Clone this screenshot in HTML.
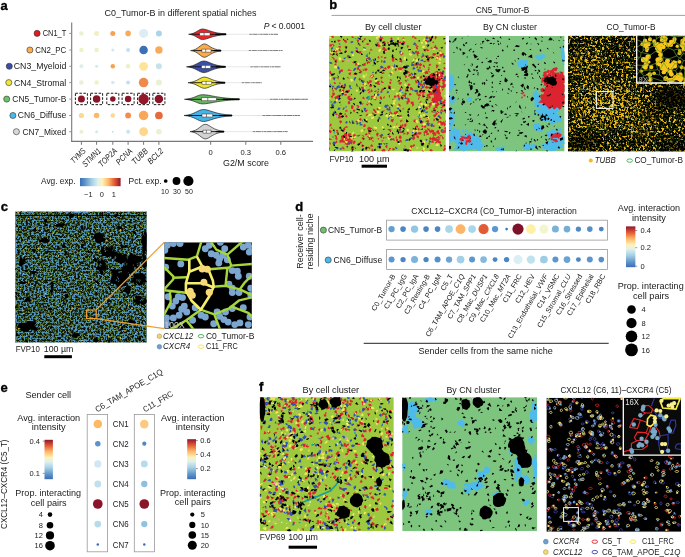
<!DOCTYPE html>
<html><head><meta charset="utf-8"><title>Figure</title>
<style>
html,body{margin:0;padding:0;background:#fff;}
body{width:685px;height:557px;overflow:hidden;font-family:"Liberation Sans", sans-serif;}
svg{display:block;font-family:"Liberation Sans", sans-serif;opacity:0.999;}
</style></head><body>
<svg width="685" height="557" viewBox="0 0 685 557">
<defs>
<linearGradient id="rdylbu_h" x1="0" x2="1" y1="0" y2="0">
<stop offset="0" stop-color="#3a6db4"/><stop offset="0.12" stop-color="#5e93c8"/><stop offset="0.3" stop-color="#a9d3e8"/><stop offset="0.45" stop-color="#e3f1ec"/><stop offset="0.55" stop-color="#fef2b5"/><stop offset="0.7" stop-color="#fdb768"/><stop offset="0.85" stop-color="#e45a36"/><stop offset="1" stop-color="#8e1629"/>
</linearGradient>
<linearGradient id="rdylbu_v" x1="0" x2="0" y1="1" y2="0">
<stop offset="0" stop-color="#3a6db4"/><stop offset="0.12" stop-color="#5e93c8"/><stop offset="0.3" stop-color="#a9d3e8"/><stop offset="0.45" stop-color="#e3f1ec"/><stop offset="0.55" stop-color="#fef2b5"/><stop offset="0.7" stop-color="#fdb768"/><stop offset="0.85" stop-color="#e45a36"/><stop offset="1" stop-color="#8e1629"/>
</linearGradient>
<linearGradient id="tailg" gradientUnits="userSpaceOnUse" x1="220" x2="310" y1="0" y2="0">
<stop offset="0" stop-color="#999" stop-opacity="0.3"/><stop offset="0.3" stop-color="#999" stop-opacity="0.3"/><stop offset="1" stop-color="#777" stop-opacity="0.6"/>
</linearGradient>
<filter id="fb3y" x="0" y="0" width="1" height="1" color-interpolation-filters="sRGB">
<feTurbulence type="fractalNoise" baseFrequency="0.42" numOctaves="3" seed="3"/>
<feColorMatrix type="matrix" values="0 0 0 0 0.92  0 0 0 0 0.73  0 0 0 0 0.08  10 0 0 0 -5.6"/>
</filter>
<filter id="fb3g" x="0" y="0" width="1" height="1" color-interpolation-filters="sRGB">
<feTurbulence type="fractalNoise" baseFrequency="0.6" numOctaves="1" seed="8"/>
<feColorMatrix type="matrix" values="0 0 0 0 0.19  0 0 0 0 0.28  0 0 0 0 0.05  12 0 0 0 -6.3"/>
</filter>
<filter id="blur3" x="-0.5" y="-0.5" width="2" height="2"><feGaussianBlur stdDeviation="3"/></filter>
<filter id="fcg" x="0" y="0" width="1" height="1" color-interpolation-filters="sRGB">
<feTurbulence type="fractalNoise" baseFrequency="0.6" numOctaves="2" seed="5"/>
<feColorMatrix type="matrix" values="0 0 0 0 0.31  0 0 0 0 0.43  0 0 0 0 0.12  8 0 0 0 -3.75"/>
</filter>
<filter id="fcb" x="0" y="0" width="1" height="1" color-interpolation-filters="sRGB">
<feTurbulence type="fractalNoise" baseFrequency="0.5" numOctaves="2" seed="12"/>
<feColorMatrix type="matrix" values="0 0 0 0 0.32  0 0 0 0 0.58  0 0 0 0 0.74  9 0 0 0 -4.4"/>
</filter>
<filter id="fcy" x="0" y="0" width="1" height="1" color-interpolation-filters="sRGB">
<feTurbulence type="fractalNoise" baseFrequency="0.6" numOctaves="1" seed="21"/>
<feColorMatrix type="matrix" values="0 0 0 0 0.85  0 0 0 0 0.72  0 0 0 0 0.25  14 0 0 0 -9.5"/>
</filter>
<filter id="fck" x="0" y="0" width="1" height="1" color-interpolation-filters="sRGB">
<feTurbulence type="fractalNoise" baseFrequency="0.16" numOctaves="2" seed="33"/>
<feColorMatrix type="matrix" values="0 0 0 0 0  0 0 0 0 0  0 0 0 0 0  16 0 0 0 -11.0"/>
</filter>
<filter id="fb3y2" x="0" y="0" width="1" height="1" color-interpolation-filters="sRGB">
<feTurbulence type="fractalNoise" baseFrequency="0.45" numOctaves="2" seed="17"/>
<feColorMatrix type="matrix" values="0 0 0 0 0.95  0 0 0 0 0.76  0 0 0 0 0.1  10 0 0 0 -5.3"/>
</filter>
<radialGradient id="rgw"><stop offset="0" stop-color="#fff"/><stop offset="0.55" stop-color="#fff" stop-opacity="0.8"/><stop offset="1" stop-color="#fff" stop-opacity="0"/></radialGradient>
<mask id="mb3" maskUnits="userSpaceOnUse" x="560" y="30" width="130" height="130"><ellipse cx="606" cy="104" rx="40" ry="30" fill="url(#rgw)"/><ellipse cx="588" cy="62" rx="22" ry="16" fill="url(#rgw)" opacity="0.6"/><ellipse cx="640" cy="125" rx="22" ry="14" fill="url(#rgw)" opacity="0.6"/></mask>
</defs>
<text x="0.60" y="9.50" font-size="13" font-weight="bold" fill="#000" stroke="#000" stroke-width="0.35">a</text>
<text x="180.50" y="15.80" font-size="9.16" text-anchor="middle" textLength="152.00" lengthAdjust="spacingAndGlyphs" fill="#1a1a1a">C0_Tumor-B in different spatial niches</text>
<line x1="71.70" y1="22.50" x2="71.70" y2="141.90" stroke="#777" stroke-width="1.1"/>
<line x1="71.20" y1="141.35" x2="313.00" y2="141.35" stroke="#777" stroke-width="1.1"/>
<line x1="69.20" y1="33.40" x2="71.50" y2="33.40" stroke="#888" stroke-width="0.9"/>
<line x1="69.20" y1="50.00" x2="71.50" y2="50.00" stroke="#888" stroke-width="0.9"/>
<line x1="69.20" y1="66.30" x2="71.50" y2="66.30" stroke="#888" stroke-width="0.9"/>
<line x1="69.20" y1="82.60" x2="71.50" y2="82.60" stroke="#888" stroke-width="0.9"/>
<line x1="69.20" y1="99.10" x2="71.50" y2="99.10" stroke="#888" stroke-width="0.9"/>
<line x1="69.20" y1="115.50" x2="71.50" y2="115.50" stroke="#888" stroke-width="0.9"/>
<line x1="69.20" y1="131.70" x2="71.50" y2="131.70" stroke="#888" stroke-width="0.9"/>
<line x1="81.40" y1="141.30" x2="81.40" y2="144.80" stroke="#777" stroke-width="1.0"/>
<line x1="96.60" y1="141.30" x2="96.60" y2="144.80" stroke="#777" stroke-width="1.0"/>
<line x1="112.80" y1="141.30" x2="112.80" y2="144.80" stroke="#777" stroke-width="1.0"/>
<line x1="128.10" y1="141.30" x2="128.10" y2="144.80" stroke="#777" stroke-width="1.0"/>
<line x1="143.60" y1="141.30" x2="143.60" y2="144.80" stroke="#777" stroke-width="1.0"/>
<line x1="158.90" y1="141.30" x2="158.90" y2="144.80" stroke="#777" stroke-width="1.0"/>
<circle cx="37.10" cy="33.40" r="3.05" fill="#e41a1c" stroke="#333" stroke-width="0.6"/>
<text x="42.70" y="36.30" font-size="8.72" textLength="23.60" lengthAdjust="spacingAndGlyphs" fill="#1a1a1a">CN1_T</text>
<circle cx="29.90" cy="50.00" r="3.05" fill="#fdae4b" stroke="#333" stroke-width="0.6"/>
<text x="35.20" y="52.90" font-size="8.72" textLength="31.10" lengthAdjust="spacingAndGlyphs" fill="#1a1a1a">CN2_PC</text>
<circle cx="9.30" cy="66.30" r="3.05" fill="#3a4ea5" stroke="#333" stroke-width="0.6"/>
<text x="13.80" y="69.20" font-size="8.72" textLength="52.50" lengthAdjust="spacingAndGlyphs" fill="#1a1a1a">CN3_Myeloid</text>
<circle cx="8.80" cy="82.60" r="3.05" fill="#f0e635" stroke="#333" stroke-width="0.6"/>
<text x="14.00" y="85.50" font-size="8.72" textLength="52.30" lengthAdjust="spacingAndGlyphs" fill="#1a1a1a">CN4_Stromal</text>
<circle cx="6.70" cy="99.10" r="3.05" fill="#6fbf6b" stroke="#333" stroke-width="0.6"/>
<text x="12.30" y="102.00" font-size="8.72" textLength="54.00" lengthAdjust="spacingAndGlyphs" fill="#1a1a1a">CN5_Tumor-B</text>
<circle cx="12.90" cy="115.50" r="3.05" fill="#4bb9ec" stroke="#333" stroke-width="0.6"/>
<text x="17.80" y="118.40" font-size="8.72" textLength="48.50" lengthAdjust="spacingAndGlyphs" fill="#1a1a1a">CN6_Diffuse</text>
<circle cx="16.40" cy="131.70" r="3.05" fill="#d9d9d9" stroke="#333" stroke-width="0.6"/>
<text x="22.50" y="134.60" font-size="8.72" textLength="43.80" lengthAdjust="spacingAndGlyphs" fill="#1a1a1a">CN7_Mixed</text>
<circle cx="81.40" cy="33.40" r="2.25" fill="#e9f1d3"/>
<circle cx="96.60" cy="33.40" r="2.50" fill="#f0f0c4"/>
<circle cx="112.80" cy="33.40" r="2.50" fill="#f6a253"/>
<circle cx="128.10" cy="33.40" r="2.80" fill="#f9ab5b"/>
<circle cx="143.60" cy="33.40" r="4.50" fill="#dcedf5"/>
<circle cx="158.90" cy="33.40" r="3.00" fill="#aad4e7"/>
<circle cx="81.40" cy="50.00" r="2.25" fill="#f1f1c6"/>
<circle cx="96.60" cy="50.00" r="2.25" fill="#eef0c8"/>
<circle cx="112.80" cy="50.00" r="1.50" fill="#d3e9f2"/>
<circle cx="128.10" cy="50.00" r="2.00" fill="#c2e1ee"/>
<circle cx="143.60" cy="50.00" r="4.25" fill="#3d6fb5"/>
<circle cx="158.90" cy="50.00" r="3.70" fill="#f9ab5b"/>
<circle cx="81.40" cy="66.30" r="2.00" fill="#dcefe8"/>
<circle cx="96.60" cy="66.30" r="1.50" fill="#d3e9f2"/>
<circle cx="112.80" cy="66.30" r="2.25" fill="#f6a253"/>
<circle cx="128.10" cy="66.30" r="2.25" fill="#eef0c8"/>
<circle cx="143.60" cy="66.30" r="4.40" fill="#fde49c"/>
<circle cx="158.90" cy="66.30" r="3.00" fill="#c6e3ec"/>
<circle cx="81.40" cy="82.60" r="2.25" fill="#e9f1d3"/>
<circle cx="96.60" cy="82.60" r="2.25" fill="#eef2c8"/>
<circle cx="112.80" cy="82.60" r="1.75" fill="#d3e9f2"/>
<circle cx="128.10" cy="82.60" r="2.00" fill="#c2e1ee"/>
<circle cx="143.60" cy="82.60" r="4.75" fill="#f08a49"/>
<circle cx="158.90" cy="82.60" r="3.00" fill="#e9f1d3"/>
<circle cx="81.40" cy="99.10" r="3.50" fill="#8b1528"/>
<circle cx="96.60" cy="99.10" r="3.75" fill="#8b1528"/>
<circle cx="112.80" cy="99.10" r="2.75" fill="#8b1528"/>
<circle cx="128.10" cy="99.10" r="3.25" fill="#8b1528"/>
<circle cx="143.60" cy="99.10" r="5.25" fill="#92182a"/>
<circle cx="158.90" cy="99.10" r="4.25" fill="#8b1528"/>
<circle cx="81.40" cy="115.50" r="2.60" fill="#fdd88f"/>
<circle cx="96.60" cy="115.50" r="2.75" fill="#fbb868"/>
<circle cx="112.80" cy="115.50" r="2.25" fill="#fdd88f"/>
<circle cx="128.10" cy="115.50" r="2.90" fill="#f28c48"/>
<circle cx="143.60" cy="115.50" r="4.75" fill="#f8a858"/>
<circle cx="158.90" cy="115.50" r="3.85" fill="#e66a3c"/>
<circle cx="81.40" cy="131.70" r="2.00" fill="#e9f1d3"/>
<circle cx="96.60" cy="131.70" r="1.50" fill="#d3e9f2"/>
<circle cx="112.80" cy="131.70" r="0.80" fill="#a0d0e8"/>
<circle cx="128.10" cy="131.70" r="2.00" fill="#c8e4f0"/>
<circle cx="143.60" cy="131.70" r="4.40" fill="#fdd78c"/>
<circle cx="158.90" cy="131.70" r="2.75" fill="#e9f1d3"/>
<rect x="75.40" y="93.25" width="12.00" height="11.40" fill="none" stroke="#1a1a1a" stroke-width="1.0" stroke-dasharray="2.5 1.5"/>
<rect x="90.60" y="93.25" width="12.00" height="11.40" fill="none" stroke="#1a1a1a" stroke-width="1.0" stroke-dasharray="2.5 1.5"/>
<rect x="106.80" y="93.25" width="12.00" height="11.40" fill="none" stroke="#1a1a1a" stroke-width="1.0" stroke-dasharray="2.5 1.5"/>
<rect x="122.10" y="93.25" width="12.00" height="11.40" fill="none" stroke="#1a1a1a" stroke-width="1.0" stroke-dasharray="2.5 1.5"/>
<rect x="137.60" y="93.25" width="12.00" height="11.40" fill="none" stroke="#1a1a1a" stroke-width="1.0" stroke-dasharray="2.5 1.5"/>
<rect x="152.90" y="93.25" width="12.00" height="11.40" fill="none" stroke="#1a1a1a" stroke-width="1.0" stroke-dasharray="2.5 1.5"/>
<text x="86.30" y="151.60" font-size="8.5" text-anchor="end" textLength="17.50" lengthAdjust="spacingAndGlyphs" font-style="italic" transform="rotate(-45 86.30 151.60)" fill="#1a1a1a">TYMS</text>
<text x="101.50" y="151.60" font-size="8.5" text-anchor="end" textLength="22.50" lengthAdjust="spacingAndGlyphs" font-style="italic" transform="rotate(-45 101.50 151.60)" fill="#1a1a1a">STMN1</text>
<text x="117.70" y="151.60" font-size="8.5" text-anchor="end" textLength="22.50" lengthAdjust="spacingAndGlyphs" font-style="italic" transform="rotate(-45 117.70 151.60)" fill="#1a1a1a">TOP2A</text>
<text x="133.00" y="151.60" font-size="8.5" text-anchor="end" textLength="19.50" lengthAdjust="spacingAndGlyphs" font-style="italic" transform="rotate(-45 133.00 151.60)" fill="#1a1a1a">PCNA</text>
<text x="148.50" y="151.60" font-size="8.5" text-anchor="end" textLength="19.00" lengthAdjust="spacingAndGlyphs" font-style="italic" transform="rotate(-45 148.50 151.60)" fill="#1a1a1a">TUBB</text>
<text x="163.80" y="151.60" font-size="8.5" text-anchor="end" textLength="18.50" lengthAdjust="spacingAndGlyphs" font-style="italic" transform="rotate(-45 163.80 151.60)" fill="#1a1a1a">BCL2</text>
<text x="41.00" y="184.30" font-size="8.72" textLength="34.50" lengthAdjust="spacingAndGlyphs" fill="#1a1a1a">Avg. exp.</text>
<rect x="80" y="178" width="40.6" height="8.2" fill="url(#rdylbu_h)"/>
<text x="88.30" y="197.20" font-size="7.4" text-anchor="middle" fill="#1a1a1a">−1</text>
<text x="101.90" y="197.20" font-size="7.4" text-anchor="middle" fill="#1a1a1a">0</text>
<text x="113.80" y="197.20" font-size="7.4" text-anchor="middle" fill="#1a1a1a">1</text>
<text x="128.50" y="184.30" font-size="8.72" textLength="33.00" lengthAdjust="spacingAndGlyphs" fill="#1a1a1a">Pct. exp.</text>
<circle cx="165.70" cy="181.00" r="1.85" fill="#000"/>
<circle cx="176.50" cy="181.00" r="3.90" fill="#000"/>
<circle cx="188.40" cy="181.00" r="5.10" fill="#000"/>
<text x="164.90" y="194.00" font-size="7" text-anchor="middle" fill="#1a1a1a">10</text>
<text x="177.00" y="194.00" font-size="7" text-anchor="middle" fill="#1a1a1a">30</text>
<text x="189.00" y="194.00" font-size="7" text-anchor="middle" fill="#1a1a1a">50</text>
<line x1="226" y1="34.3" x2="278" y2="34.3" stroke="url(#tailg)" stroke-width="0.8"/>
<line x1="249.4" y1="34.3" x2="278" y2="34.3" stroke="#333" stroke-width="0.8" stroke-dasharray="2.5 0.6 5 0.8 1.2 0.6" opacity="0.7"/>
<path d="M188.6,34.3 C196.2,33.7 198.6,29.0 202.5,29.0 C207.7,29.0 211.9,33.4 226.0,33.8 L226.0,34.8 C211.9,35.2 207.7,39.6 202.5,39.6 C198.6,39.6 196.2,34.9 188.6,34.3Z" fill="#e8262a" stroke="#222" stroke-width="0.7" stroke-linejoin="round"/>
<line x1="190.60" y1="34.30" x2="226.00" y2="34.30" stroke="#111" stroke-width="0.9"/>
<line x1="215.43" y1="34.30" x2="226.00" y2="34.30" stroke="#000" stroke-width="1.2"/>
<rect x="199.80" y="32.80" width="10.20" height="3.00" fill="#fff" stroke="#333" stroke-width="0.5"/>
<line x1="204.08" y1="32.80" x2="204.08" y2="35.80" stroke="#333" stroke-width="0.6"/>
<line x1="221" y1="50.6" x2="282.6" y2="50.6" stroke="url(#tailg)" stroke-width="0.8"/>
<line x1="248.7" y1="50.6" x2="282.6" y2="50.6" stroke="#333" stroke-width="0.8" stroke-dasharray="2.5 0.6 5 0.8 1.2 0.6" opacity="0.7"/>
<path d="M190.6,50.6 C198.2,50.0 200.6,43.9 204.5,43.9 C208.1,43.9 211.1,49.7 221.0,50.1 L221.0,51.1 C211.1,51.5 208.1,57.3 204.5,57.3 C200.6,57.3 198.2,51.2 190.6,50.6Z" fill="#fba949" stroke="#222" stroke-width="0.7" stroke-linejoin="round"/>
<line x1="192.60" y1="50.60" x2="221.00" y2="50.60" stroke="#111" stroke-width="0.9"/>
<line x1="213.57" y1="50.60" x2="221.00" y2="50.60" stroke="#000" stroke-width="1.2"/>
<rect x="201.90" y="49.10" width="9.10" height="3.00" fill="#fff" stroke="#333" stroke-width="0.5"/>
<line x1="205.72" y1="49.10" x2="205.72" y2="52.10" stroke="#333" stroke-width="0.6"/>
<line x1="225.4" y1="66.8" x2="281" y2="66.8" stroke="url(#tailg)" stroke-width="0.8"/>
<line x1="250.4" y1="66.8" x2="281" y2="66.8" stroke="#333" stroke-width="0.8" stroke-dasharray="2.5 0.6 5 0.8 1.2 0.6" opacity="0.7"/>
<path d="M186.5,66.8 C196.1,66.2 199.1,61.0 204.0,61.0 C208.7,61.0 212.6,65.9 225.4,66.3 L225.4,67.3 C212.6,67.7 208.7,72.6 204.0,72.6 C199.1,72.6 196.1,67.4 186.5,66.8Z" fill="#3a4fa8" stroke="#222" stroke-width="0.7" stroke-linejoin="round"/>
<line x1="188.50" y1="66.80" x2="225.40" y2="66.80" stroke="#111" stroke-width="0.9"/>
<line x1="215.77" y1="66.80" x2="225.40" y2="66.80" stroke="#000" stroke-width="1.2"/>
<rect x="201.50" y="65.30" width="9.20" height="3.00" fill="#fff" stroke="#333" stroke-width="0.5"/>
<line x1="205.36" y1="65.30" x2="205.36" y2="68.30" stroke="#333" stroke-width="0.6"/>
<line x1="225" y1="82.7" x2="262" y2="82.7" stroke="url(#tailg)" stroke-width="0.8"/>
<line x1="241.7" y1="82.7" x2="262" y2="82.7" stroke="#333" stroke-width="0.8" stroke-dasharray="2.5 0.6 5 0.8 1.2 0.6" opacity="0.7"/>
<path d="M188.0,82.7 C197.1,82.1 199.9,77.1 204.5,77.1 C209.0,77.1 212.7,81.8 225.0,82.2 L225.0,83.2 C212.7,83.6 209.0,88.3 204.5,88.3 C199.9,88.3 197.1,83.3 188.0,82.7Z" fill="#f0e42f" stroke="#222" stroke-width="0.7" stroke-linejoin="round"/>
<line x1="190.00" y1="82.70" x2="225.00" y2="82.70" stroke="#111" stroke-width="0.9"/>
<line x1="215.78" y1="82.70" x2="225.00" y2="82.70" stroke="#000" stroke-width="1.2"/>
<rect x="202.00" y="81.20" width="9.70" height="3.00" fill="#fff" stroke="#333" stroke-width="0.5"/>
<line x1="206.07" y1="81.20" x2="206.07" y2="84.20" stroke="#333" stroke-width="0.6"/>
<line x1="239.3" y1="99.3" x2="307.8" y2="99.3" stroke="url(#tailg)" stroke-width="0.8"/>
<line x1="270.1" y1="99.3" x2="307.8" y2="99.3" stroke="#333" stroke-width="0.8" stroke-dasharray="2.5 0.6 5 0.8 1.2 0.6" opacity="0.7"/>
<path d="M184.5,99.3 C194.4,98.7 197.5,94.7 202.5,94.7 C210.6,94.7 217.2,98.4 239.3,98.8 L239.3,99.8 C217.2,100.2 210.6,103.9 202.5,103.9 C197.5,103.9 194.4,99.9 184.5,99.3Z" fill="#65b65a" stroke="#222" stroke-width="0.7" stroke-linejoin="round"/>
<line x1="186.50" y1="99.30" x2="239.30" y2="99.30" stroke="#111" stroke-width="0.9"/>
<line x1="222.74" y1="99.30" x2="239.30" y2="99.30" stroke="#000" stroke-width="1.2"/>
<rect x="201.50" y="97.80" width="14.90" height="3.00" fill="#fff" stroke="#333" stroke-width="0.5"/>
<line x1="207.76" y1="97.80" x2="207.76" y2="100.80" stroke="#333" stroke-width="0.6"/>
<line x1="232" y1="115.5" x2="300" y2="115.5" stroke="url(#tailg)" stroke-width="0.8"/>
<line x1="262.6" y1="115.5" x2="300" y2="115.5" stroke="#333" stroke-width="0.8" stroke-dasharray="2.5 0.6 5 0.8 1.2 0.6" opacity="0.7"/>
<path d="M184.0,115.5 C194.7,114.9 198.0,109.5 203.5,109.5 C209.8,109.5 214.9,114.6 232.0,115.0 L232.0,116.0 C214.9,116.4 209.8,121.5 203.5,121.5 C198.0,121.5 194.7,116.1 184.0,115.5Z" fill="#42b4ea" stroke="#222" stroke-width="0.7" stroke-linejoin="round"/>
<line x1="186.00" y1="115.50" x2="232.00" y2="115.50" stroke="#111" stroke-width="0.9"/>
<line x1="219.18" y1="115.50" x2="232.00" y2="115.50" stroke="#000" stroke-width="1.2"/>
<rect x="202.00" y="114.00" width="10.70" height="3.00" fill="#fff" stroke="#333" stroke-width="0.5"/>
<line x1="206.49" y1="114.00" x2="206.49" y2="117.00" stroke="#333" stroke-width="0.6"/>
<line x1="224" y1="131.6" x2="288" y2="131.6" stroke="url(#tailg)" stroke-width="0.8"/>
<line x1="252.8" y1="131.6" x2="288" y2="131.6" stroke="#333" stroke-width="0.8" stroke-dasharray="2.5 0.6 5 0.8 1.2 0.6" opacity="0.7"/>
<path d="M190.0,131.6 C198.5,131.0 201.2,124.3 205.5,124.3 C209.6,124.3 212.9,130.7 224.0,131.1 L224.0,132.1 C212.9,132.5 209.6,138.9 205.5,138.9 C201.2,138.9 198.5,132.2 190.0,131.6Z" fill="#d2d2d2" stroke="#222" stroke-width="0.7" stroke-linejoin="round"/>
<line x1="192.00" y1="131.60" x2="224.00" y2="131.60" stroke="#111" stroke-width="0.9"/>
<line x1="215.68" y1="131.60" x2="224.00" y2="131.60" stroke="#000" stroke-width="1.2"/>
<rect x="203.00" y="130.10" width="8.00" height="3.00" fill="#fff" stroke="#333" stroke-width="0.5"/>
<line x1="206.36" y1="130.10" x2="206.36" y2="133.10" stroke="#333" stroke-width="0.6"/>
<line x1="210.70" y1="141.30" x2="210.70" y2="144.80" stroke="#777" stroke-width="1.0"/>
<text x="210.70" y="154.70" font-size="7.6" text-anchor="middle" fill="#1a1a1a">0</text>
<line x1="245.80" y1="141.30" x2="245.80" y2="144.80" stroke="#777" stroke-width="1.0"/>
<text x="245.80" y="154.70" font-size="7.6" text-anchor="middle" fill="#1a1a1a">0.3</text>
<line x1="280.80" y1="141.30" x2="280.80" y2="144.80" stroke="#777" stroke-width="1.0"/>
<text x="280.80" y="154.70" font-size="7.6" text-anchor="middle" fill="#1a1a1a">0.6</text>
<text x="246.00" y="166.20" font-size="8.72" text-anchor="middle" textLength="46.00" lengthAdjust="spacingAndGlyphs" fill="#1a1a1a">G2/M score</text>
<text x="263.80" y="29.40" font-size="8.6" font-style="italic" fill="#1a1a1a">P</text>
<text x="271.50" y="29.40" font-size="9.37" textLength="33.50" lengthAdjust="spacingAndGlyphs" fill="#1a1a1a">&lt; 0.0001</text>
<text x="329.30" y="9.40" font-size="13" font-weight="bold" fill="#000" stroke="#000" stroke-width="0.35">b</text>
<text x="502.60" y="13.10" font-size="8.28" text-anchor="middle" textLength="53.70" lengthAdjust="spacingAndGlyphs" fill="#1a1a1a">CN5_Tumor-B</text>
<line x1="331.50" y1="15.40" x2="685.00" y2="15.40" stroke="#a0a0a0" stroke-width="1"/>
<text x="393.20" y="29.80" font-size="8.72" text-anchor="middle" textLength="56.50" lengthAdjust="spacingAndGlyphs" fill="#1a1a1a">By cell cluster</text>
<text x="510.00" y="29.80" font-size="8.72" text-anchor="middle" textLength="54.00" lengthAdjust="spacingAndGlyphs" fill="#1a1a1a">By CN cluster</text>
<text x="631.00" y="29.80" font-size="8.72" text-anchor="middle" textLength="49.00" lengthAdjust="spacingAndGlyphs" fill="#1a1a1a">CO_Tumor-B</text>
<clipPath id="cl1"><rect x="329.00" y="35.70" width="116.80" height="115.80"/></clipPath><g clip-path="url(#cl1)">
<rect x="329.00" y="35.70" width="116.80" height="115.80" fill="#9dc93f"/>
<path fill="#dc2430" d="M432.6 89.5l1 -0.2 2.1 1 -0.3 1.9 -2.6 -0.3zM439.2 83.6l-0.9 1.1 -2.2 0.7 0.9 -2.8zM430.1 78l-1.6 3 -0 -2.4zM435.1 101.4l-3.2 1.8 1.5 -2.2zM437.7 101.1l-0.2 -2.9 1.4 2.2zM433.7 95.1l0.5 -2 2.8 1.6 -1.9 2.4zM437.5 92.2l-2 -1.6 1.5 -0.8 2 0.9zM433.9 87.2l-2.3 0.1 -1.2 -1.7 1.3 -1.1 2 0.6zM431.8 88.4l2.5 -2.4 -0 2zM435.4 102.7l-0.1 -1.6 1.1 -0.7 2 2.8zM433.1 79.6l1.4 0.8 0.3 1.4 -1.6 0.7zM433.5 84.2l-1.5 -0.9 2.2 -2.8 1.6 2.7zM436.2 83.5l3.1 -1.5 -1 3zM433.4 103.6l-1.4 -3.1 2.7 2.3zM443.1 81.3l1.5 0.4 -0.5 2.9 -2 -0.5zM442.6 75.7l-1.2 2.5 -2.2 -2.2 1.9 -1.1zM431.8 78.4l2.2 -0.8 1.7 1.1 -1.1 2.1 -1.6 -0.7zM431.8 91.6l0.9 3.1 -1 0.5 -1.3 -2.2zM436.9 82.3l1.2 -1 1.5 1.1 -2.1 2.1zM436.5 93.3l-0.8 1.5 -1.2 -2 0.7 -2 1.4 0.3zM436.3 100.4l-1.9 2.5 -1.5 -3.1 2.7 -1.4zM434.7 98.4l2.1 1.6 -2.8 0.8zM437.1 98l-2.9 0.4 -0.4 -0.8 0.3 -2.5 2.7 0.7zM429.8 83.6l1.2 -1.4 1.4 0.7 -1.6 2zM438.1 108.5l-3.5 -1.1 2 -1.4zM443.1 88l0.1 -1.8 2 0.6 -1.6 2.2zM428.9 88.9l-0.4 -2.6 3 1.7zM439.6 89l-1 2.5 -2.5 -1.6 0.3 -1.2zM434.4 98l0.6 1 -1.5 2 -2.1 0.1 0.6 -3.3zM442.3 88.2l-2 1 0.4 -3.1 2.4 -0.3 0 2.1zM432.9 89.4l0.9 -2 1 0.1 0.6 2.3zM438.6 85.6l-3 -1.9 2.3 -1.8 1.9 2.4zM439.7 100l0.3 -2.4 1.7 -1.2 0.7 3.5zM433.2 92.8l-1.1 2.3 -2.5 -0.6zM441.6 77.7l-0.1 1.8 -2.9 -1.3zM436.3 100.4l0.2 2.2 -1.8 0.8 -0.9 -0.7 1.7 -1.9zM444.2 83.5l1.6 1.3 -0.9 1.3 -1.1 -0.9zM428.6 99.3l-2.8 -1.5 2.1 -1.9 0.5 1.4zM436 73.9l-0.6 -1.4 1 -1.7 2.1 0.9 0.6 1.8zM441.1 74.6l0.7 -3.1 1.9 1.6 -1.1 2.1zM436.6 97.8l1 -0.7 1.3 1.2 -1.3 1zM435.2 83.3l-0.8 0.4 -1.1 -1.4 1.6 -2.3 1.1 1.6zM429.5 90.5l0.7 -1.9 2.9 1.8 -1 0.7zM429.7 93.4l1.2 1.7 -3.3 0.3 -0.5 -1.2zM440.2 90.2l-1.3 -1.3 1.3 -2 1.1 1.8zM443.7 75.9l-1 1.7 -1.7 -0.1 -1.1 -0.9zM440 77.7l-1.5 2.1 -1.9 -3.1 2.2 -1.1zM433.5 102.7l-2.4 -2.3 3.6 -0.6zM435 86.4l-2.3 -0.6 -0.7 -1.7 2 -0.1zM438.6 97.8l-0.3 2.7 -1.2 -2.9zM435.7 86.2l1.5 -0.7 2.2 1.8 -1.1 1.6 -2.3 -1.1zM436 104.2l2.1 1.9 -2.7 1.1 -0.9 -2.6zM444.7 84.3l1.6 2 -2.3 1.1 -1.7 -0.6 1.3 -1.9zM426.6 88.2l-1.9 -0.3 1.7 -2.3 2 2.2zM444 82.1l-0.8 -1.6 2.1 -2 1.1 2.2zM432.7 104.1l-0.3 -1.8 0.7 -1 2.5 1.5 -1.2 1.2zM429.9 84.8l0.3 -2.1 2.5 0 -0.4 1.8zM437.5 74.5l-0.7 -1.9 1.5 -0.8 0.5 1.3zM445 83.7l1.2 1.4 -1.9 2.3 -2.2 -2.5zM437.9 93.6l-0.3 -1.9 2.3 -0.9 -0 1.9zM437.6 79.8l-2.5 0.9 -0.6 -2.2 2.3 -0.4zM427.9 86.4l1.3 1.3 -2.8 1.1 -1.1 -1.6zM431.9 102.1l-0.6 3.9 -2.1 -0.5 -0.1 -2.3zM439.3 99l-1.9 -1 2.3 -1.3zM441.5 99.2l-0.4 2.3 -2.9 -0.7 -0.1 -2.7 2.4 -0.1zM435.2 89l-1.1 3.5 -1.7 -0.5 -0.8 -2.2zM431.8 91.9l-3.4 -0.2 3.4 -1.3zM442.6 81.8l1.9 -0.2 -0.4 3.4 -1.2 -1.2zM429.6 78.7l0.8 2.3 -2.1 0.2zM430.7 83.2l-0.7 -2.6 0.8 -1.5 1.3 0.3 0.4 2.5z"/>
<path fill="#dc2430" d="M434 90.9l-1.7 -4.4 1.5 -2.8 2.3 0.6 1.5 2.2 2.2 -1.8 1.8 2 -1.6 4.4 0.5 2.4 0.8 4 -2.6 -0.3 -0.8 4.7 -2.1 -1.1 -1.1 -3.2 -0.3 -2.6 -2.9 -1z"/>
<path fill="#dc2430" d="M438.8 84l-4.2 -0.4 -2.3 2.4 -3.1 -1.3 -1.6 -1.7 -1.3 -1.3 -4.4 -1.4 2.5 -2 3.8 -0.4 0.5 -2.4 3 -2.5 4.2 0.8 0 3.7 1.6 1.1 -0.1 1.4 3.2 2.1z"/>
<path fill="#dc2430" d="M344.7 139l-0.1 -2.1 2.4 0.2 0.5 2.1zM344.6 133.5l2.1 -0.1 0.7 2.8 -2.9 -0.4zM351.4 133.7l-1.2 1.9 -1.4 -0.6 -1.1 -1.2 2.3 -0.5zM346.1 144.2l-1.6 0.2 0.8 -2zM346.2 140.8l1.5 -2.4 2 1.6 -1.6 1.6zM343.8 137.8l-1.7 -1.7 1.6 -1.2 2.1 0.7 0.3 0.8zM343.9 137.8l-0 -2.2 2.5 1.7zM344.8 133l1.3 0.5 0.3 1.5 -3.2 0.4zM346.8 145.5l-1.1 -2 0.8 -1.1 2.2 0.5 0.1 1.9zM346.9 138.8l-1.5 1.1 -1 -0.8 1.8 -1.4zM341.2 137.2l2.9 -1.4 0.1 1.4 -2.5 0.9zM350.3 139.8l2.7 0.6 -0.6 1.8 -2.4 -0.1zM344.5 138.6l-1.1 1.3 -1.6 -0.9 1.8 -1.7zM350 142.8l-0.8 -1.5 3.5 0.3zM342.6 142.7l-1.4 -1.6 0.4 -2.3 1.1 0.4 1.3 2zM350.7 137.8l0.6 2.2 -2.3 -0 -0.2 -1.9zM342.5 135l1.9 -0.1 -0.2 3.1 -1.7 -1.7zM350.9 135.8l-2.9 1 -0.4 -2.9zM346.4 137.6l-1.9 -1.3 3.1 0.2zM342.8 137.6l0.1 3.3 -1.9 -2.5zM350.3 140.9l-1.6 2.3 -1.3 -1.9 1.8 -1.2zM341.3 137.9l-0.2 -2.2 2.1 0.4 1 1zM344.4 137.4l1.5 -0.1 0.4 2.7 -1.4 0.8 -1.9 -2zM345.4 140.6l0.7 2.1 -3.1 -0.2 0.1 -2.2zM339.4 141.2l0.3 -1.1 2.1 -0.5 -0.2 2.9 -1.9 0.6zM349.1 142.5l3.2 -0.2 -0.1 2.5zM344.2 140.2l2 0.1 -1.6 2.3 -1.8 -1zM340.8 138l2.4 -1.5 0.6 1.8z"/>
<path fill="#dc2430" d="M431.2 141.5l0.7 -1.3 1.2 0.1 1 2.2 -2.4 0.4zM437.3 137.1l-0.5 2.9 -1.7 -0.1zM435.4 140.7l-2.6 -1.9 3.8 0.5zM434.4 133.8l1.8 -0 0.3 1.8 -1.7 0.2zM435.7 132.6l0.2 1.9 -2.1 -0.4 -1.1 -2.3 1.3 -0.1zM434.5 140.4l-0.7 -2.5 2.5 0.5 -0 2.6zM431 139.9l-1.8 -0.5 0.3 -2 1.1 -0.5 1.2 1.8zM435.9 137.5l2.2 -1 0.2 2.3zM434.7 139.6l-2.8 0.3 -0.9 -0.8 2.4 -2.6 1.3 0.9zM437.9 142l-2.7 1.8 0 -1.8zM439 130.2l0.3 3 -1.5 -0 -1.3 -1.7 1.6 -1.6zM432.6 136.9l1.1 -2.6 1.5 0.6zM437.5 133.2l0.8 -1.7 1.6 1.4 -0.1 1.8 -1.4 -0.4zM432.3 132.5l2.1 1 -0.7 1.6 -1.7 -1.3zM435.4 137.4l1.1 1.2 -2.7 0.9 -1.4 -1.2zM435.6 139.6l0.1 1.7 -1.8 -0.7 -0.5 -1.5 1.1 -0.9zM442.4 135l-1.8 1.7 -1.5 -1.5zM435.5 140.3l-1.9 0.8 -0.6 -1.9 1.1 -1.2z"/>
<path fill="#dc2430" d="M335 63.6l1.3 -3.2 1.2 1.3zM373.9 110.7l2.3 0.2 1.4 2.2 -2.5 -0zM421.3 141.3l-1.8 -0 -0.2 -1.1 2.9 -0.7 -0.4 1.5zM422 71.9l-1.9 -2.1 2.2 -0.1zM384.3 151.8l-1.7 -0.9 0.1 -2.1 2.3 0.4 0.4 1.8zM342.1 131.1l0.6 -1.3 1.3 0.7 0.3 1.9zM403.6 132.6l2.4 0.9 -2.9 1.3zM446.2 99.9l-1.5 2 -1.1 -0.5 0.7 -2zM369 85.8l1.9 -1.9 0.8 1 0.2 1.4 -2 1.3zM388.7 96l1.4 -1.5 -0.3 4.1zM426.5 60.7l-0.1 -1.7 2 1.5zM422.4 83.7l0.6 1.9 -1.2 1.2 -0.8 -3.2zM402 42l1.8 -1.2 1.3 1.2 0.3 1.3 -1.4 0.1zM406.6 150.3l3.6 -1.8 -1 2zM433.4 121.5l0.3 -3.3 1.7 1.8zM343.5 135.1l-1.3 2 -1.3 -0.2zM371.6 112.7l1.5 0 1.5 1.4 -0.5 0.5 -2.1 -0.3zM397.5 94.9l1.2 -0.3 0.7 2.5 -0.9 0.3 -1.7 -1.4zM336.2 141.4l-0.6 1.8 -2.7 0.1 0.4 -1.6zM416.4 45.9l1.7 2.4 -0.8 1.5 -1.5 -1.8zM362.8 64l3 -1.5 -0.2 3 -2 0.6zM371.3 143.9l2.1 2.4 -0.8 0.5 -2.5 -0.4zM359 46.1l-0.2 -3.5 2.3 3zM391 120.2l2.2 -0.8 0.3 1.9 -1.4 1.2zM360.8 120.8l-2.2 -1.1 2.4 -1.9 0.7 2.3zM370.2 75.9l1.4 -1 2.4 1.4 -2.9 1.6zM338.7 97.6l-1.7 -0.4 0.4 -2.1 1.6 1.4zM436.6 139.2l4.2 -0.6 -3 2.9zM430.2 144.7l-2.2 -0.7 1.3 -1.7zM347.9 143.1l-2.4 -2.4 1.1 -0.6zM396 124.7l1.5 -2.5 -0.4 2.3zM329.4 126.8l0.8 -3.2 1.4 0.3 -0 1.6zM380.9 61.3l0.8 -1.5 0.9 1.3 -0.8 1.9zM416.3 58.9l0 1.7 -2.6 -3.1zM371.3 78.1l-0.2 -2.3 2.1 2zM362.4 103.3l1.4 -0.3 -1.7 2.4zM352 138.1l0.9 -1.7 1.3 -0.4 -0.4 3zM414.2 143.8l0.7 1.6 -0 0.7 -2.4 0.8 0.4 -1.9zM391.4 129.5l-0.4 2.8 -1 -0.5 -1.2 -1.6 0.2 -1.3zM395.6 68.2l1.1 0.3 0.1 1.4 -1.5 1.3 -0.9 -1.1zM376.9 131.2l-2.6 -0.3 1.4 -1zM443.9 73.8l-1.7 2.5 -1.1 -0.6 0.8 -2.1zM438.7 91.2l2.4 1.1 -0.2 2.1 -2.2 -1.5zM402.7 108l1.6 0.6 -1.7 1.7zM360.1 103.3l-0.8 -1.4 0.6 -0.6 1.5 -0.4 0.1 1.9zM333.4 56.9l1.9 2.7 -2 0.1zM369.4 56.8l0.9 2 -1.9 0.6 -1.5 -1.2zM341.2 91.9l1.2 -2.5 2 -0.2 -0.4 2.8zM441 55.4l0.7 -1.8 1.9 -0.5 0.4 2.4zM337.1 136.6l-0.8 0.6 -1.3 -0.6 -0.6 -1.7 1.6 0.1zM406.5 123.4l-0.1 2.5 -2 1.7 -0.2 -3.6zM362.9 147l-1.5 -0.1 0.9 -2.6 2 1.2zM414.8 65.4l-0.1 -2.1 3.1 0.3 -0.7 2.1zM353.7 144.3l-1.2 -1.9 1.4 -2 1.8 0.9 -0.7 2zM332.1 46.1l-2.3 1 -0.4 -2.6 2.1 -0.4zM413.1 88.9l-0.4 0.8 -2.5 0.4 -0.4 -2.9 2 0.1zM420.4 62.7l1 0.8 -0.7 1.4 -1.3 -0.2zM384.9 47.4l-0.5 1.6 -2.2 0.1 1.3 -2.5zM375.6 81.5l1.3 -1.1 1.4 1.2 -1 1.9zM365.5 126.7l-2.4 0.3 0.4 -2 1.2 -0.9 1 0.6zM398.2 103.4l1.3 0.5 1.3 1.6 -0.7 1.4 -1.7 -1.9zM398.9 61.4l1 -0.9 1.1 -1.1 1.5 2.2 -0.9 0.8zM372.6 91.7l-2.3 0.9 0.7 -3.3 1.1 0.5zM396.6 95.7l-0.3 1.4 -0.9 0.6 -1.7 -0.1 0.6 -2zM380.5 36.3l0.9 0.9 -0.6 2.2 -1.8 -0.7zM391.4 37.3l1.2 1.1 -0.7 2.3 -1.7 -2.2zM333.4 57.5l-0.2 1.5 -2 -2.5zM369.9 137.8l-0.6 0.8 -2.4 -2.1 1.7 -0.8zM366.2 112.2l-1.2 -0.1 0.4 -2.2 2.8 -0.2zM366.3 133.1l1.6 1.5 -1 0.6 -1.7 -0 -0.5 -0.6zM442.9 106.9l-0.1 -1.8 2 -1.4 0.4 1 -0.6 2zM371.7 77.4l-0.5 1 -1.7 -1 0.8 -1.6zM352.5 98.3l-0.4 2.2 -2 0.3 0 -2.4 1 -0.6zM366.1 39.1l-2.7 2 1.5 -3.4zM384.1 83.1l-2.5 -0.1 -1 -2.1 0.8 -0.5zM430.5 93.6l-1.5 3.4 -0.6 -2.9zM434.4 103.1l-0.9 2.7 -0.4 -3zM369 103.9l-1.8 -1.9 1.8 -1.1zM389.1 150.2l-0.1 -1.9 1.7 -0.5 0.5 0.7zM349.6 89.5l0.4 2.1 -2.1 0.1 -2.1 -1zM404.6 80.2l0.4 -0.8 2.5 1.7 -1.5 0.8zM437.1 114l1.1 -2.2 1.7 0.5zM373.7 99.4l-0.7 -4 2.4 1.8zM351.3 36.8l0.9 -0.8 2.2 1.4 -2.3 0.7zM347.7 76.8l2 1.6 -2.8 -0.5zM412.3 50.8l0.7 0.2 0.7 2.1 -2.3 -0.9zM349.5 97.2l0.6 1.8 -1.4 0.6 -1.5 -1.3 0.6 -2zM428.5 71.3l-0.9 -2.1 1.6 -1.2 0.5 1.3zM416.5 125.2l1.7 0.6 -0.3 2 -3 -0.9zM396.4 139.5l-1 -1.7 1.1 -2.1 0.4 1.4zM403.7 67.8l-0.4 1.5 -2.7 -1.3 2.2 -1.3zM360.8 78.7l-1.1 2.1 -1.3 -1 1.1 -2.4zM422 57.8l-1.1 -0.4 0.9 -1.7 1.8 -1.3 1.2 1.6zM354 107l-2.3 1.8 -0.3 -1.8 1.1 -2zM346.1 114l-1.4 1.3 -0.3 -1 0.6 -1.3zM335.2 97.8l1.3 -2.1 1.6 1.3 -1 1.3zM334.3 97.5l1.4 -1.2 0.9 2 -0.8 1.4zM337.5 51.2l-1.6 1.3 -1.6 -0.2 0.9 -3zM373.8 91.4l2.7 -1.4 0 1.5 -2.1 0.4zM345.9 109.8l0.8 -0 1.4 1.5 -3.2 0.5zM335.7 112.9l1.8 1 -0.2 1.2 -2.3 0.7zM369.2 83.6l-1 0.9 -1.6 -2.8 1.2 -0.8zM383.3 57.1l-1.9 0.7 -0.8 -1.8zM428.8 66.3l-0.1 -1.8 1.5 -0.9 1.2 1.5zM356.5 62.8l1.1 0.7 -1.1 2 -1.5 -0 0.3 -3.3zM399 136.2l1.1 -1.1 1.7 1.9 -0.7 1.9 -2.4 -0.7zM373.7 108.4l2 1.8 -0.3 1.5 -2.7 -1.5zM401.4 97.6l-0.2 -1.5 1.7 0.6 1.1 1 -1 2.1zM365.7 58.2l2.7 -0.8 -0.9 1.8zM391.4 86.8l-2.8 0.4 -0.9 -1.7 1.8 0.1zM339 83.2l0.7 -1.2 1.2 1.2 -0.8 1.2zM389.6 138.3l-1.3 -1.2 0.7 -1.8 2.3 1 -0.6 1zM426.6 127.2l2.6 2.8 -1.4 0.8zM349.4 72.4l2 0.2 -1.1 2.8 -2.1 -1.3zM354 109.2l1.5 1.4 -1.5 2 -1.2 -2zM435.2 44.4l1.5 2.9 -2.5 0zM382.9 90.7l-2.1 -0.3 1.3 -2.1 2.2 1zM393.9 138l1 2.7 -2.7 -0.7 0.1 -1.6zM340.4 37.6l0.8 -2.4 0.6 1.4 0.3 2.2zM341.2 46.4l-1.2 2 -2.8 -0.8 2 -1.5zM381.8 141.7l-0.2 -1.5 2.4 0.2zM364.4 84.3l-1 1 -1.1 -1.4zM333.6 82.5l1.4 -0.5 1.1 1.4 -1.6 0.8zM363.2 70.9l-1 -1.6 2.7 0.8zM376.8 82.5l0.6 -1.3 2.3 -0.7 -0.8 3.2 -2 0.3zM388 151.5l0.4 -1.9 1.8 0.3zM396.2 139.1l1.4 -0.4 0.5 2.1 -2.2 0.7zM419.9 66.5l0.2 2.4 -1.5 -0.8zM350.3 103.5l-1.6 0.9 -1.1 -1.4 0.9 -1.9 1.4 0.1zM439 140.5l-2.4 1.9 0.2 -1.7 2 -2zM446.4 145.8l-2.7 1.3 0.4 -2.1zM435.6 103.8l-1.7 0.8 -0 -1.9 2.2 -2zM352 62.5l2 -1.5 1.1 1.9zM426.1 130.9l2 2.7 -1.6 0.4zM367.6 85.4l-2.8 1.1 1.5 -1.8zM407.4 100.7l-0.3 -3.2 3.1 1.5zM345.4 129.4l-1.3 1.5 -1.2 -2.2 1.9 -1.6zM399 128.7l1.8 -1 0.5 2.4 -1.8 1.4 -1.1 -1.9zM427.8 122.8l1.5 1.3 0.4 1.6 -2 0.8zM341.9 71.2l-1.9 1.2 -0.8 -0.9 0.3 -1.5 2.2 0zM411.1 75.4l-2.9 1.6 0.7 -2.9 1.8 -0zM374.3 76.8l-2.3 0.5 0.2 -2 0.6 -1.8zM387.9 65.8l2.2 -0.2 0.3 1.7 -1.9 1.8 -1.7 -1.7zM437.8 66.5l-1.8 -0.3 -0.2 -1.7 3 0.5zM337.7 139.7l-1.8 0.1 -0.7 -1.2 0.6 -1.9 1 -0.2zM429.4 50.5l-1.6 0.7 -1.3 -0.5 -0.2 -2.6zM420.1 93.4l-1.5 -1.3 0.7 -0.8 1.8 0.6 0.1 1zM370.7 145.3l2 -0.6 -0.1 1.8 -1.4 0.6zM427.5 129.5l1.6 -1.6 0.8 2.5 -2 -0.2zM362.6 41.5l-0.6 -0.5 2.6 -1.4 0.1 0.8zM342.1 122l-1.8 1.7 -1.2 -2.7 0.8 -0.6 1.6 0.1zM383.3 68.2l3.5 -0.3 -1 1.9zM444.5 62.5l1.2 1.3 -2.9 0.4zM382.6 49.8l3 -1.6 -1 2zM347.1 92.5l-3 0.3 2.2 -1.8zM425.5 74.4l-1.3 -2.4 2.8 -1.2 0.8 1.5zM436 68.6l0.1 -2.4 2.7 0.3zM417.7 92.7l-1.6 -0.3 0.5 -1.8 1.4 -0.8zM335 48.8l3.2 0.3 -1.8 2.3zM437.1 107.3l-1.5 0.4 0.9 -1.8zM368 132.1l2.2 0.6 0.1 1.7 -2.1 -0.9zM353 149.7l-1.7 0.6 0.1 -1.8 2.6 -0.5zM331.6 128.8l-0.8 -2.5 2.1 2.6zM418.1 68l-1.9 -0.1 0.8 -2.3 0.9 0.9zM398.7 70l-0.8 -0.8 0.5 -1.6 2.5 -0.3 0.3 1.8zM393.5 100.8l-1.7 -1.4 2.2 -1 1.9 2.7zM402 116.3l-3 1.1 -0.1 -2.1 2.7 -0.3zM344.5 93.9l2.3 0.1 -0.1 1.4 -2.4 0.2zM433.3 100.4l-0.8 -0.6 0.3 -2.4 1.7 1zM402.5 128l-2.6 -0.6 0 -1.5 0.4 -1.1 2.3 1.5zM414.9 81.1l1.3 -1.5 0.7 2.8 -1.2 0.3zM391.4 59l1.8 -2.2 1.8 0.9 -1 1.3 -1 1.4zM377.2 57.2l1.5 -1.2 0.9 2.3 -0.6 0.5zM370.8 137.6l-0.2 2 -1.6 0.8 -0.4 -1.3 1.4 -2.5zM360.4 134.6l-0.3 1.1 -1.8 0.5 -0.6 -1zM369.5 50.4l1.5 -1.8 1.7 2zM367.5 113.4l0.9 1.7 -0.8 1 -2 -0.4 0.6 -1.2zM436.1 91.6l0.7 -1.4 1.3 0.5 -0.6 1.7zM331.1 144.3l-0.7 0.4 -1.4 -2.2 1.3 -0.1zM333.7 47.1l-2 -3.5 2.9 1.3zM381.8 96.8l0.3 2.1 -0.5 1.1 -1.9 -1.5 0.2 -2.2zM441.2 87.3l-1.5 1.9 -1.3 -2.2zM371.7 82.2l-1.9 -0.5 -0.8 -1.6 2.8 0.4zM410.5 84.5l-2.1 2 -0.9 -1.5 1.2 -1.7zM344.2 61.8l-2.3 0.4 -0.2 -1.6 2.7 -0.1zM379.7 37.8l2.5 -0.8 1.4 1.5 -2.6 0.7zM379 107.8l0.4 1.4 -1.8 1.4 -0.9 -0.9 0.1 -1.6zM357.9 105.2l1.3 0.9 -0.2 1.8 -2.2 -0.3 -0.3 -2.5zM418.5 127.7l1.4 1.2 -0.5 1.1 -1.5 0.5 -0.5 -1.2zM440.2 50.5l2.1 1.8 -4.1 -1.5zM424.1 133.9l-0.7 -2.2 1.7 -0.8 1.9 1.1zM444.6 104.5l1.4 0.6 -2.3 1.7 -1.2 -1.4 0.6 -1.7zM370.5 62.9l-1.3 0.6 -1.3 -1.5 1.2 -0.8zM333.1 97.8l-1.9 -0.3 -0.3 -1.4 2 -0.9 0.1 1.6zM340.2 71.5l0.7 -2 2.2 -0.1 -0.3 2.3zM444 138.4l-1.3 1 -0.5 -1.3 -0.6 -2.1 1.2 0.6zM379.3 90.6l-1.8 3.5 -0.3 -2.6zM360 72.5l-0.6 -2.3 2.8 0.8 -0.9 2.2zM409.1 45.8l-1.5 2.5 -0.9 -3.1zM435.9 115.2l-0.5 -1.8 0.4 -1.9 1.6 1.9 -0.2 1.9zM341.4 84.6l1 1.8 -0.9 0.3 -2.5 -1.4zM383 152.6l-1.8 -2 1.6 -1zM366.8 90.3l3.1 -1.8 -0.4 1.7 -1.4 0.8zM402 81.9l-1 2.6 -2.1 -0.1 -0.6 -2zM442.6 125.5l-1.9 -0 0.5 -1.3 2.1 -0.9zM414.3 136.6l-0.7 -1.6 0.4 -1.6 1.6 1 -0.2 1.7zM399.9 130.6l2.7 1.6 -1 0.9 -2.2 0.1zM335.3 62.2l-0.7 -1.7 1.4 -1.3 1.8 0.7 -1.4 1zM352.1 70.4l-2.2 0.6 -0.4 -1.3zM375.9 134.3l1.4 -2 1.6 1.4 -1.6 3.2zM427.4 122.7l-0.9 -0.7 -1.2 -0.9 3.1 -1.2 0.9 1.8zM417.8 91.6l0.7 3.2 -2.6 -0.6zM431.8 74.4l0.2 2.4 -2.8 -0.6zM410 146.5l0.7 -1.4 2.1 0.6 -1.1 2.5zM404 145.8l0.9 -0.4 1.2 2zM399.7 96.6l1 1.8 -1.9 1.5zM446.6 148.3l-2.2 2.6 -1.6 -0.4 2.1 -3.4zM421.8 75.6l0.6 2.8 -2.8 -0.1 0.6 -1.9zM371.7 151.8l-0.3 -1.7 0.7 -2 1.3 3.2zM382.9 112.2l-0 -1.4 2.4 -0.5zM401.7 125.8l0.3 -1.5 1.5 0.3 -0.1 1.8zM361.7 145.9l1.8 -1.2 -0.8 2.8zM348.2 127.3l-2.6 0.7 -0.8 -0.9 2 -1zM414.4 78.8l-0.7 -2.2 0.6 -1.7 1.7 2.8zM349.5 70.7l-2.2 -0.3 2 -2zM348.4 98.5l2.2 -0.8 0.6 3.1 -3 -0.9zM408.9 99.6l1.4 1.7 -2.1 1.8 -0.6 -2.4zM442.7 106.6l-0.2 1.8 -2.3 -0.9zM367.9 121.5l-1.9 0.4 -0.7 -1 0.4 -1.9 1.3 0.9zM412.7 63.5l2.4 1.4 -0.9 1.3 -3.1 -0.2 0.4 -2zM372.3 97.8l-2.1 -0.2 1.4 -2 2.2 0.9zM384.7 50.7l-2.6 -1.3 0.9 -2.1 1.7 -0.6 0.6 2.2zM422.6 152.9l-0.2 -3.4 1.6 2zM355.2 138.8l-1.5 -2.2 1.7 -0.4zM350.3 95.6l0.4 1.7 -1.6 0 -1 -1.3zM338.2 115l2.5 -1.6 0.4 1.4 -2.6 1.9zM370.2 90.6l-1 3.1 -1.2 -1.3zM365.1 99.6l-3.2 -1.4 1.3 -1.8 0.8 0.9zM338.1 130.3l-0 1.4 -2.5 -0.8 1.4 -1.4zM444.6 145.5l2 1.1 -2.8 -0.2zM421.5 118.7l-2.3 1.3 -0.6 -2.6zM427.4 80.7l2.6 1.2 -0.2 1.3 -1.9 -0.2zM352.9 135.7l0.8 -1.7 1.1 0.2 1.7 1 -1.5 1.4zM415.6 54.1l3.4 -2.2 -1.2 2.5zM331.3 75.9l-0.5 -1.8 0.8 -0.5 2 0.9 -0.1 1.5zM340.5 49.4l0.5 2.3 -2.2 -1.1 -0.3 -2zM443.7 130.9l1.5 -1.6 2 1.9 -2.5 0.9zM407.2 71.4l1.9 -0.2 0.5 1.2 -0.1 1 -1.8 -0.9zM441.4 129.1l1.8 0.2 0.9 1.7 -2.2 0.6 -1.6 -0.1zM381.4 136.6l-2.3 -0.5 1.1 -1.6zM435.4 94.1l-1.7 0.2 -0.5 -1.6 2.6 -0.3 0.3 1.1zM434.2 124.5l0.4 2.3 -0.7 0.4 -1.8 -1.3zM346.8 40.6l-0.2 2.5 -1.3 -0.3 -1.6 -2 0.6 -1.2zM347.9 47.4l-3.5 -0.1 0.7 -1.5zM369.4 127.4l-1.1 2.2 -0.9 0.1 -0.1 -2zM418.7 46.6l-2 1 0.4 -2.3zM400.8 87l1.1 3.7 -2.3 -0.6zM434.6 117.5l-1.6 -1.9 1.5 -1.4 1.2 0.4 0.4 1.3zM368.8 61.1l0 1.2 -1.3 2.2 -1.1 -2.1zM370.7 129.6l-2.3 -2.4 1.2 -0.3 2.9 1.7zM423.7 50.7l-0.2 -1.7 2.9 0 -1.2 2.8zM407.8 121l-1.1 2.5 -0.5 -2.3 1.3 -1.3zM333.7 36.9l-0.3 1 -3.1 -0.7 3.1 -2.3zM428.2 74.2l-2.1 -0.6 0.6 -2.8 1.5 1zM382.3 136.4l-0.7 1.9 -1.5 -0.7 0.7 -2.8zM328.9 72l1.6 -1.4 1 3 -0.9 0.9zM378.6 43.9l1.4 1 -1.7 1.4 -1.5 -1.7 -0.1 -1.8zM417.7 56.7l-1 -2.4 0.6 -1.2 1.3 2.5zM380.1 45.6l0.9 0.5 -1.9 1 -1.6 -0.5 0.5 -1.8zM433.1 100l0 -0.7 2 0 1.1 1.7 -3.4 0.6zM357 120.3l1.4 1.3 -0.9 1.2 -2.4 -1.1zM383 41.6l2.3 0 0.4 2.2 -1.5 0.1 -2.2 -1.6zM387.7 110.2l-1.8 -0.7 2.2 -2.2 0.6 2.5zM364.6 139.4l-1.1 1 -2.1 -2.4 1.7 -1.1zM349.2 58.3l-1.2 -0.7 -1.2 -0.7 0.7 -1.8 1.9 -0.2zM405.9 78.3l-1.2 -1.5 0.8 -2.6 1.6 2.4zM384.8 73.3l-2.4 0.9 -1.2 -1 2.2 -1.3zM338.8 98.7l-1.8 0.4 -0.4 -3zM395.6 149.5l-3 0.9 -0.5 -1.9 1.5 -0.4zM411.8 94.5l-0.9 0.7 -1.9 0.1 -0 -1.8 1.4 -0.4zM359.5 68l-1.4 2.2 -1.6 -1.1 1.6 -3zM337.4 142.5l-2.1 1.2 0.3 -2.2 1.4 -1.2zM438 78.2l2.1 0.3 0.6 1.4 -2.2 1.1 -1.1 -1zM370.9 130.4l-2.4 -1.4 0.9 -1.6 1.9 0.7zM334 64.7l1.5 -1.3 0.9 0 -0 1.8zM389.4 79.7l0.5 -0.5 1.8 0.4 -0.2 1.6zM438.2 80.7l-0.1 -1.4 2 -0.9 0.6 2.3 -0.6 0.4zM437 134.2l-0.9 -2.2 0.7 -1 1.4 -0.7 -0.1 2.3zM345.1 50.6l1 -1.4 0.9 3.3zM438.7 140.6l2 0.6 0.3 1.7 -1 0.9 -2.2 -1.2zM361.2 70.1l-2.1 0.6 -0.6 -1.9zM400.9 41.6l0.4 1.7 -3.1 -0.2 0.3 -1.2zM435.4 106.8l-0.4 3.5 -1.7 -0.5 -0.6 -1.3zM330.5 133.5l-2 -2.5 1.5 -1.2 1.9 1.6zM382.7 137.4l1.8 -0.5 -0.2 1.6 -1.1 0.6zM429.1 61.9l-1.5 0 -0.2 -1.7 1.6 -1.2 0.5 1.2zM338.4 79.4l-2.1 -2.1 2.6 -0.4zM332.4 89.7l1.7 0.5 -1.3 2.2zM392.1 74.3l-2.7 1.3 -0 -2.9 2 0zM444.1 102.1l-0.2 1.7 -2.7 0.8 -0.1 -1.4 1.4 -1.6zM435.9 46.3l2 1.8 -0.3 1.5 -3.2 -1.5zM445.9 120.7l-3.2 1.5 1.1 -1.3zM358.3 122l-1.7 -0.4 1.8 -2.3zM365.1 149.2l0.2 -2.2 1.8 -0.2 -0.2 3.6 -1.1 -0.2zM407.1 88.4l1.2 1.2 -2.6 2.3 -0.7 -1 0.5 -2.4zM425 86.9l-1.7 -2 -0.1 -2.4 1.9 2.4zM424.8 78.5l0.9 -2.5 1.5 0.5 -1 2.2zM425.3 127.9l-1 -0.2 -0.3 -1.4 2.2 -1.4 0.2 1.3zM386.3 144.7l1.2 0.5 -0.3 3.2 -2.1 -1.7zM386.4 48.7l0.5 2.4 -2.3 -0.4 -0.2 -0.9 1.2 -1.4zM378.7 137.9l0.6 2.5 -2.1 -2.2zM389.2 81.8l2 -0.1 0 2.5 -1.8 -0.8zM333.1 79.5l-0.8 -1.7 1.8 -0.8 2.5 0.8 -2 1zM416.7 78.2l-1.6 -0.1 -0.6 -3.1zM417 38.2l-1.7 0.9 -1.9 -1.3 1.6 -0.7zM366.1 71.1l-1.2 -0.7 -0.7 -1.9 2.3 -0.2 1.3 1.2zM390 110.9l1.7 1.3 -2.5 1.2zM429.1 134.6l-3.5 0.8 1.8 -2.5 1.5 0.4zM361.9 82.3l1.7 -2.3 1.4 1.6zM382 78.6l-1 0.8 -0.6 -1.8 0.7 -1.4 2.2 1.4zM435.9 39.2l-1.1 -0 0.1 -3.1 2.1 0.6zM387.4 43.8l0.1 -2.3 1.7 1.4zM338.4 54.3l-2.3 0.5 0.2 -2.9zM353.4 109.2l-2 -0.4 -0.5 -1.3 0.4 -1.7 1.1 1zM360.5 143.9l-1.1 -1.8 1.2 -0.9 1.5 1.2zM345.3 115.5l1.6 -0.4 0.6 1.6 -0.6 0.8 -1.5 -0.6zM399.9 54.1l2.3 -2 1.5 1.7 -2.5 1.6zM417.1 81.2l0.3 1.7 -1.9 0.6 1 -2.9zM425.9 35.5l1.9 -0.3 -0.6 2.6zM403.8 37.2l0.8 1.2 -3 0.8zM402.2 70.2l-1.9 0.9 -0.6 -1 1.3 -2.4zM339.5 115l1.6 1.7 -0.6 1.9 -2.9 -0.3zM384.7 98.2l-2.2 0.4 2 -2.8zM359.2 40.6l-1.5 2.6 -1.1 -3.4 2 -0.1zM344.7 83.7l1.7 2.5 -3.3 0.5zM339.1 97.2l-1.6 -1.4 1.2 -1.1 2.6 0zM358.5 64.9l2.9 0.2 -0.2 1.4zM369.5 148.9l-2.3 -1.6 1.3 -0.7 2.2 1.7zM358.2 52.2l1.7 -1.2 1.6 0.2 -0.5 2.2 -2.1 0.4zM339.3 133.5l-3.5 -1.2 1.3 -0.8zM410 148.3l1.5 2.6 -1.9 0.2zM424.3 110.1l-0.7 2.7 -1.9 -1.2 1.4 -1.9zM412.6 35.3l2.4 0.4 -2.7 2.2 -0.4 -0.6zM330.1 53.1l2.4 1.4 -1.7 0.8 -0.5 -1.1zM338.2 42.2l-1.2 -2.5 2.5 0.1 1.5 0.7zM416.1 135.3l2.7 0.5 -0 2.4 -1.9 -0.4zM428.2 57.6l-2.2 0.3 0.6 -2.4 1.4 -0.7 1 2.5zM373.7 138.8l-2.5 -0.6 0.4 -1.7 1.7 1zM360.7 87l1.4 -0.3 2.4 0.3 -0.6 2.3 -1.9 -0.3zM349.5 139.8l-0.8 -0.7 0.6 -2.1 2.1 -1.3 -0.1 2.3zM384.3 52l1.2 1 -2.2 1.2 -0.1 -1.8zM341.4 85.6l1.7 -1.1 -0.2 2.7zM430.9 151.5l-1.6 -1.3 1.6 -1.4 2.2 1.9zM351.1 105.3l1.5 -0 0.3 1.5 -0.7 0.9 -1.1 -0.8zM329.6 137.9l2.9 2.2 -4.2 -0.3zM365 130.5l-2.3 -1.4 2.5 0.4zM417.3 45.4l-2.6 0.6 1 -2.8zM427.8 80.1l1.9 1.1 -1 3.1 -1.1 -2zM370.8 128.6l-2.5 1.1 0.1 -3.4zM424.6 40.1l2.8 -0.5 -0 2.9zM432.1 42.7l1.2 -1.7 1 2.2zM429.7 98.7l-1.6 -1.6 1.3 -1.7 1.6 1.9 -0.7 1.5zM378.2 43.5l-1.8 -0.6 2.6 -0.9zM419.1 67.6l1.5 -0.7 0.1 2.3zM366.7 43l2.5 0.6 -0.7 1.5 -2.1 0zM397.1 110.8l1.5 0.5 -1.5 2.1 -1 -1.3zM384 56.9l2.6 -0 -1 1.9 -1.5 -0.3zM378.6 84.8l-1.7 -0.2 2 -2.6 1.4 2.9zM430.1 36.9l1.6 1.8 -2.1 1 -1.3 -1.9 0.1 -1zM390.4 121.3l0.6 -2.1 3 -0.4 -0.9 2.9zM380 145.1l1.4 1.8 -1.1 1.9 -1.9 -2.6zM425.6 118.3l-2.7 -0.2 0.4 -0.8 2 -0.5zM422.2 91.7l1.1 -0.3 2.2 0.7 -1.7 1.7 -2.7 -0.8zM446.2 111.3l-0.5 2.3 -0.9 -0.1 0.5 -3.7zM367.9 82.5l1.9 -1.4 1.5 1.3 -2 0.6zM396 114.6l-2.6 -0.9 1.1 -2.1 2.5 2.1zM379.1 69.4l2.8 -3 0.3 1.6zM393.2 68.6l-1.5 -2.1 1.3 -1.1 1.2 2.2zM364.5 137.2l-3 -1.8 2.1 -0.1zM395.4 110.8l1.7 0.6 1.4 2.4 -2.2 0.6 -0.4 -1.3zM332.4 92.5l2.5 0.2 -0.2 2.4 -1.3 1 -1.1 -1.2zM391.7 60.3l2.5 -0.8 0.3 1.9 -2.5 0.2zM391.4 112.3l1.5 1.4 -3.3 1.1zM337.4 68.9l-0.6 -2.6 1.5 0.9zM424.2 53.9l-1 2.8 -1.2 0.2 0.7 -2.3zM357.6 49.3l0.8 3 -2.2 -0.3 -1.1 -1.3zM441.6 96.8l-0.2 2.1 -2.2 -1.3 -0.1 -0.9zM368.6 104.3l-1.3 1.5 -1.7 -2.2zM438.3 58.9l-1.6 -1.1 -0.3 -1.6 0.7 -0.6 2.8 1.9zM423.6 127.4l-2.3 -0.3 0.5 -1.7 1.3 0zM344.8 148.9l-1 0.5 -1.4 -0.6 0 -2.5 0.9 0.4zM421 95.8l-2 0.7 -1.7 -0.7 1.1 -1.4 1.8 -0.6zM408.4 131.6l0.7 2 -2.5 1.6 0.4 -3.8zM374.4 98.1l1.6 -2.1 0.9 2.3 -1.2 2.4zM336.8 90l-0.4 0.5 -2.3 -2.1 0.3 -0.8 2.4 0.6zM445 122l0.7 -2.1 1 3.2zM421.8 89.4l-1.7 -0.7 2.2 -1.3 0.3 0.9zM373.2 140.3l0.7 1.7 -2.4 -1.3zM384.8 69.7l-0.4 -1.6 1.3 -1.2 1 2.3zM356.3 73.1l0.3 1.5 -3.3 0.4 0.9 -1.9z"/>
<path fill="#dc2430" d="M441.6 89.6l2.3 -0.9 -1.5 2.5zM428.7 130.8l1.2 -1.5 1.6 2.8 -1 1.4zM400.7 122.5l-0.9 -1.7 3.3 -1.4zM443.2 110.9l2.4 -2.3 -0.2 2.8zM441.2 122.3l-0.9 1.8 -2.2 -0.5 -0.8 -1 1.1 -2.1zM416.4 122.5l-3 -0.6 0.2 -2.2 2.6 -0.1zM437.4 77.6l1.4 1.2 1.1 0.7 -2.3 1.5 -1.6 -2.4zM443.8 112.3l-3.6 -1.6 1.6 -1.9zM426.9 106.7l1.4 1.7 -1.3 1.1 -1.7 0.3 0.2 -3.3zM419.6 63.7l2.8 0.6 -1.5 2.2 -2.8 -1.5zM425.5 80.8l0.5 -1.8 3.3 0.4 -1.1 1.6zM436.4 54.1l-1.8 1.7 -2.1 -0.3 0.2 -2.5 2.6 0.2zM434.1 73.7l1 -2.4 1.2 2 0.4 2.5 -2.2 -0.8zM419.2 134.5l-1.9 -0 0.5 -2.1 3.5 -0.3 0.1 2.2zM420.3 96.6l-1.8 3.6 -0.5 -2zM429.2 103.4l-1.6 0.9 -1.1 -0.8zM440 124.5l-0.1 -2.4 0.6 -1.3 2.5 1.6 -0.2 2.5zM442.4 101.8l1.8 -1.3 1.5 2.2 -0.9 1.4zM417.6 53.9l-2 -1.9 3 -1.1 0.9 3.1zM444.1 106.4l-1.3 1.2 -1.3 -1.8 1.2 -1.2zM446.5 41.7l0.5 1.8 -1.7 0.9 -1.4 -1.1zM411.7 79.5l-2 -2 2.1 -1.3 1.7 1.5zM421.9 124l-2 -1.4 0.2 -2.3 3.7 1.2zM443.1 133.2l-1.8 -0.8 -0.2 -1.7 4 0.7zM429.9 108.3l-1.6 -1.9 1.2 -1 1.1 1.4zM435.6 105.4l0.8 -1.8 2.2 -0.9 1.4 1.6 -2.7 2.1zM431.5 47.3l2 1.7 -3.3 -0.8zM438.4 140.8l0.2 1.6 -2.4 -0.1 -0.2 -2.1zM401.6 140.2l-0.1 2.7 -2.3 -2.2 0.8 -1.1zM446.2 123.1l-1.3 3.7 -2 -2.6zM438.7 72.7l1.7 -1.4 1.9 1.4 -0.3 2.8 -2.3 -1.1zM438.1 138.2l0.3 -2.3 2.3 1.6zM445 78.9l-0.1 1.9 -1.8 1.8 -1.5 -2.6 2.4 -1.5zM437.1 103.3l-2.2 -1.9 3.6 -0.5 -0.6 1.7zM421.3 102.5l-2.7 0.4 2.7 -2.3zM424.1 64.7l0.9 1.8 -0.1 1.4 -2.3 -1.8 0.5 -1.4zM422.7 97.5l-0.8 -1.5 0.5 -1.9 2 0.5 -0.2 2.3zM429.4 71.2l1 1.5 -2.9 -1.3zM419.8 82.5l2.1 1.5 -1 2.3 -1.2 -1zM431.4 95.1l-2.2 -0.5 0.1 -2.4 1.4 -0.3 0.7 0.8zM426.3 129.6l1.8 1.7 -1.2 2.2 -2.3 -1.5zM424.1 128.6l2.4 1.8 -0.6 1.4zM411.8 103.9l1.9 -1 0.4 2.1 -1.5 1.7zM433.8 111.7l-0.3 1.1 -2.1 -0.6 -0 -1.9zM442.3 54.9l0.1 1.7 -2.6 0.1 -0.4 -2 1.5 -1.5zM441 96.6l2 1.6 -0.9 0.8 -2.8 -0.6zM435.8 78.9l2.2 -1.2 0.3 2.7 -1.6 0.3zM402.6 94.8l3.5 -0.6 -0.4 3.1 -3.8 -1.6zM426.5 94.8l2.7 0.5 -0.5 1.3 -1.7 -0.4zM437.1 83.6l0.7 -2.4 2.3 1.6zM416 62.6l2.8 1.9 -1 1.5zM441.4 117.3l-0.1 2 -1.8 -0.7 -0.3 -1.7 0.8 -0.6zM445.1 127l2.7 0.4 -1.3 2.8 -2.6 -1.6zM414.9 132.2l2.3 0.4 0 2.8 -1.4 -0.5zM407.7 101l0.8 2.9 -1.9 0.5 -0.1 -3.5zM437.9 59.3l-1.3 0.8 -0.8 -2.7 1.2 -0.4 1.8 -0.7zM435.9 71.3l1.6 -0.2 0.6 2.8 -1.7 0.9 -1 -1.5zM438.4 135.6l1.2 3.3 -2.5 -1.2zM444.5 66.7l1.2 1.8 -0.9 1.2 -1.5 -1.6zM414 128l1 2.7 -2.8 -0.1zM414 102l-1.9 2.6 -1.3 -1 -0.4 -1.6 2.2 -0.5zM442.5 122l2.2 0.2 1 1.7 -1.5 0.1 -1.4 -0.2zM430.3 132.7l1.1 -3.1 2.6 0.7 -0 1.9zM431.1 56.3l2.3 0.7 -1.8 2 -1.8 -1.4 0.1 -0.8zM422.2 60.7l4.2 0.2 -1.4 1.6zM445.4 129.9l0.5 3.3 -2.2 -0.7zM428.2 124.3l-0.5 -1.9 3.4 0.8zM436.4 109.3l-1.4 3.7 -1.6 -3.4zM411.9 138.3l2.2 -2.4 1.2 2.2 -1.3 2 -1.6 -0.5zM429.4 118.4l-2.7 0.7 0.4 -1.5 2.8 -0.9z"/>
<path fill="#2f50b4" d="M417.9 103.8l1.1 2.3 -0.4 1.6zM413.8 64.3l-2 1.5 -0.5 -2.8zM414.7 67.6l0.8 1.4 -1.7 0.4 -1.5 -0.1 0.9 -2.2zM343.6 85.4l1.6 -2.3 1 2.6zM414.5 45.1l-1.7 -0.7 1.8 -2.2 1.4 1.1zM388.6 108.7l1.8 0.6 0.5 1.2 -3.4 0zM418.1 83.4l1.4 -1.1 0.6 2.3 -2.1 0.8zM445 57.3l-1.6 0.9 -0.5 -2.4 1.8 -0.6 0.8 1zM383 134.7l0.4 0.7 -2.9 1.3 0.2 -1.7 1.2 -1.4zM359.7 124.3l2.3 -0.5 0.7 1.5 -3.2 0.3zM339 87l-1 1.1 -1.7 -1.3 2.3 -1.9zM406 64.8l3.1 0.5 0.1 1.5 -3.4 0.1zM364 82.9l-0.7 0.8 -1.6 -1.3 2.1 -1.4zM439.9 118.1l-2.7 -1.7 1.5 -1.3 1.4 0.6zM380.8 93l-0.7 -1 2 -1.7 0.3 2.3zM437.3 87.5l-1.9 -1.1 -0.1 -2.4 1.6 1.3 1.1 2zM405.8 95.6l-1.6 -2.3 0.9 -0.8 1.9 0.8zM398 98l0.6 -1 1.1 2.1 -0.4 1.9 -0.6 -0.8zM399.9 92.7l-1.6 -1 1.4 -2 1.6 0.2zM389.3 139.4l2.6 -1.2 0.9 1.8 -2 0.6zM346.6 57.4l-2.3 2.2 -1.1 -1.8zM380 41.6l-1.2 -0.9 0.2 -1.4 1 -0.4 0.6 1.3zM417.3 81.6l2.1 0.2 -0.3 1.8 -1.7 -0.7zM403.1 150.8l0.1 -2.2 1.7 -0.2 0.5 1.4 0.2 1.1zM387.9 48.3l0.9 -1.6 1.4 1.3 -0.8 2.3zM422.9 53.6l0.7 1.9 -1 1.5zM433.4 48.2l0.8 -1.4 2.4 2 -0.8 0.8zM338.2 107.4l2.5 0.3 -1 2.1 -2.4 0.3zM416.9 133.3l-1.6 0.7 -0.2 -1.2 1.4 -1.1zM359.9 38.6l-0.4 0.8 -2 -0.5 0 -1.3 1.5 0zM389.8 116.9l-0.6 2.3 -0.8 0.2 -0.8 -1.5zM330.1 64.1l-1.1 -2.1 2.8 0.2 0.9 1.2zM427 43.6l1.3 1.3 -0.1 1.6 -1 0.1 -1.2 -1.9zM416.5 63.9l0.1 -2.4 2.7 1.6 -1.3 1.8zM392.5 118l-1.8 -0.7 -1.3 -0.5 2.3 -1.1zM410.4 73.8l1.1 -1.4 2 2 -0.7 1zM412 53.1l1.1 -1.6 2.5 1.7 -1.5 1.2zM429.7 42.1l-2.8 0.3 0.3 -1.5 2.1 -0.8zM353.7 77.7l2.6 -0.7 -0.6 2.2 -1.4 -0.1zM355.6 48.4l-0.2 -1.1 2.2 0.5 -0 1.2zM374.1 73l-2.3 -0.1 1.4 -1.4zM363.9 90.8l1.2 -1 1.3 0.9zM383.5 67l-0.1 1.5 -3.9 -1.3 1.9 -1.7zM365.8 109.8l-1.2 1.6 -0.8 -1.8 -0.1 -1.8 2.6 0.3zM419.3 114.1l1.9 1.4 -0.8 1.4 -1.5 -0.8zM376.5 43.7l1 0.1 0.7 1.1 -0.8 0.7 -1.4 -0.9zM365 49.2l-2.1 -1 0.7 -1.4 2.4 1.1zM425.4 84.6l-2.2 -0.5 0.7 -2 2.4 0.9zM413 137.7l-1.2 1.3 -1.3 -0.2 -0.9 -0.7 1.5 -0.8zM341.8 96.3l-0.5 -1.7 2.4 -1.5 0.5 1zM338.3 60l2.3 -2.1 0.5 2.2zM335.3 78.1l-0.6 2.6 -2 -2.1zM350.2 51.9l1.4 -0.7 2 0.6 -1.4 1.9zM418.3 69l1.6 1.1 -1.2 2.4 -1.6 -3.2zM418.6 71.2l1.8 -1.3 1.6 1.4 -0.6 1zM388 90.8l1.1 1.5 -0.7 0.8 -1.8 0.1 0.8 -2.3zM337.6 89.1l-1.9 -0.3 0.4 -1.4 1.7 -0.3zM351.8 120.2l2 0.7 -1.2 2.5 -0.8 -1.5zM428.1 111.4l-0.1 1.2 -2 0.3 -1.4 -1zM390.6 130.3l-3.9 -0.5 2.3 -0.7zM345.7 105.5l1.1 1.3 -1.1 1.5zM332 137.3l1.1 -1.4 0.8 1.5zM419.7 109.4l0.2 -2.7 0.6 -0.9 1.2 1.8 -0.1 1.7zM348.6 142.3l1.7 0.1 0.8 0.3 -1.6 2.1 -1.3 -0.5zM393.4 66.7l1.3 -3 0.8 1.5 -1.2 2.5zM365.9 98.2l1.3 -1.6 1.8 0.1 -0.2 1 -1.5 1.4zM360.6 102.1l1.7 1.5 -1 1.2 -1.3 -0.1zM338.6 100.5l-1.6 -1.3 1.7 -2.3 1.1 2zM334.3 100.9l1.7 -0.2 0.3 2.3 -2.1 0.8 -1 -1.5zM384.1 44.2l0.7 1.8 -2.2 0.3 -0.7 -1.1zM357.8 66.8l-0.1 -2.7 1.8 0.4 0.4 0.9 0.5 1.3zM405 141.3l0.8 -1.7 2.5 -0.8 -0.3 2zM398.4 106.6l1.1 2.7 -1 0.5 -1.9 -1.2zM443.4 72.4l-1.5 -0.7 0.7 -1.2 1 -0.1 0.9 1zM352.5 89l-3 -0.3 1.5 -1zM428.8 142.6l0.6 -2.6 1.7 1.3 -0.2 1.3zM342.1 147.4l-0.8 2.9 -2.1 -1.5zM377.7 90.2l0.2 -2.1 1.5 1.7zM335 114.1l-1.4 -0.3 -0.5 -1.4 0.3 -0.6 2.2 0.3zM422.3 81.3l-0.6 1.6 -1.4 -0.5 1.3 -2.5zM430.2 125.3l1.2 -1.9 1.4 0.1 0.2 2.7 -1.9 0.8zM347.5 122.1l0 1.2 -2.2 0.3 0.3 -1.8 0.7 -1zM334.7 86.5l-3 0.8 0.9 -1.9zM384.1 59.9l2 2.1 -1.8 0.9 -1.4 -0.6zM408.6 116l-1.2 -0.1 -0.3 -1.6 1.7 0.7zM423.4 60.2l-0.7 1.1 -2.4 -0.4 0.7 -1.1 1.4 -0.6zM351.3 87.4l-2.1 0.3 -0.1 -2.6 1.5 0.2zM331.1 47.9l1.1 -1.2 1.3 1.5 -2.3 1.9zM361.6 90.1l0.8 -1.4 1.9 -0.2 0.3 2 -0.8 1.6zM379.8 94.8l-1.9 1.4 -1.3 -1.2 0.4 -0.7 1.6 -0.9zM335.1 142.6l-1.2 2.4 -1.7 -1.9 1.8 -1.6zM337.5 66.8l1.3 -0.6 1.1 3.1 -1.8 0.3zM363.2 121.3l-1 0.3 0 -2.2zM372.4 59.5l0.8 -0.5 2.6 1.1 -0.7 0.7 -1.5 0.4zM367.6 57.4l-2.2 -1.5 1.2 -1.1 1.5 0.8zM379.3 145.8l-1.3 2.6 -1 -2.2zM408.9 148.6l0.7 -1.5 1.3 -0 -0 1.4zM433.8 102.7l-0.8 -2 2.5 0.4 -0.6 1.3zM392.4 39.7l1.7 0.9 -2.7 0.6zM412.1 91l0.2 -1.8 2.1 1zM331.2 106.1l0.3 -2.4 2.1 -0.5 -0.5 1.6 -0.4 1.5zM423.6 112l-0 -3.7 2.3 2.8zM362.4 150.1l-0.1 -1.8 2 -0.4 -1.1 3.5zM419.9 122l-1 -1.5 1.2 -0.9 3.1 1.9 -0.5 0.7zM376.8 95.7l-0.3 -1.5 2.3 -0.2zM414.4 132.6l-2.6 1 0.3 -2.2zM386.3 108.5l-2.2 -1.8 1.3 -2.2 2 1.3zM350.8 42.9l-0.3 -1.4 2.7 -0.6 -0.4 1.9 -1.4 0.5zM427.8 139.4l-1.4 1.9 -1.1 -2.6zM399.4 51.1l1.3 -0.5 1.1 1.8 -1.2 0.5 -1.2 0.8zM327.8 148.5l1.2 -1.4 1 1.8 -1 1.1zM405.7 96.9l1.7 1.9 -1.8 0.2 -1.5 -0.7zM443.4 77.4l2.3 -2 0.7 1.6 -0.1 1.6 -2.3 0.3zM394.9 147.3l0.9 -0.9 1.8 1.9 -0.8 0.9 -1.5 -1zM355.2 78.2l-0.4 3 -1.4 -2.3zM342.4 109.9l0.9 -2.3 1.9 0.1 -2 2.4zM334.3 106.8l-2.1 -0.3 -0.3 -1.1 2.1 -1zM426.1 36.9l1.1 -0.4 1.2 2 -1.4 0.8 -1.9 -1zM361.4 81.7l-1.5 -2.9 1.5 0.4zM359.1 122.4l1.9 -0.4 0.2 1.1 -0.4 0.7 -2.2 -0zM338.8 147.7l-0.9 1.9 -1.7 -0.5 -0 -2.2zM439.5 102.2l0.3 -2.3 2.1 1.1 -0.3 2.1zM351.7 98l0.7 1.8 -3.1 1.1zM388.7 144.1l-2.8 0.5 0.2 -1.9zM339 86.1l2.3 1.1 -1.9 1 -1.4 -1zM363.2 91.3l-1.5 1.8 0.9 -3zM428.7 125.2l-1.8 0 -0.8 -1.4 0.4 -0.5 1.9 -0.7zM329.9 83l1.9 2.8 -1.3 0zM437.9 92.9l-1.9 -0.2 0.8 -1.8 1 -0.8zM431.9 79.8l-0.8 -1.6 1.3 -1.5 1.7 0.2 -0.3 2.8zM339.8 74.1l-1 -0.5 0.1 -2 0.5 -0.9 1.7 1zM370.3 51.6l-0.7 3.5 -0.9 -2zM444.7 72.5l-2 0.6 -0.1 -2.3zM356.6 108.2l1.3 0 0.5 0.9 -1.1 0.7 -1.4 -0.3zM380.3 117.6l0.2 1.7 -1.7 0.2 -0.4 -1.9 0.6 -1zM404.7 131l-1.1 1 -0.9 -2.2zM375.6 100.1l-2.2 -0.8 0.5 -2zM385.2 105.3l2.3 -0.7 1.2 0.7 -0.3 1.3 -1.9 -0.3zM414.1 90.6l1.9 -0.9 2 0.2 -1.1 2.1 -2.2 0zM401.7 44.9l-0.3 -1 1.2 -0.9 1.8 1.2 -1 1.2zM356.7 121.6l1.6 1.8 -0.2 1.1 -1.7 0zM334.5 145.7l-0.5 -2.8 1.8 -0.5zM356.1 69.3l-1.6 1.5 -1.6 0.1 1 -2.5 1.6 -0.8zM380.3 35.2l1.5 -0.1 -1.6 2.4zM420.6 142.4l1.7 0.1 1 1.7 -2.2 0.9zM379.6 142.9l2.4 0.1 0.1 0.7 -0.5 1.5 -1.5 -0.3zM440.2 110.9l1.3 1 0.8 0.9 -0.9 1.8 -1.1 -1.6zM424.7 87l-2 1.5 -1.3 -1.4 0.7 -1.8zM388.7 109.2l0.3 -2.4 1.1 0 0.5 1.4zM368.5 59.3l-0.1 -1.7 1.8 0.2 0.9 1.4 -1.9 1.3z"/>
<path fill="#f4e85a" d="M395.7 92.6l3 0.6 -2 2zM407 86.2l-2.1 0 -0.9 -1.6 1.7 -1zM440.2 123l0.2 1.6 -2 0.5 0.2 -2.8zM393.4 128.8l-1.3 -1.9 2.8 -1.2 0.8 1.9zM366.2 82.9l-0.1 2.6 -1.9 -0.4 -0.4 -1.8zM389.6 138l0.1 2.1 -1.6 -0.7 -0.5 -2.6zM398.5 128.3l-3.2 -1.8 3.2 -0.6zM361.6 132.6l-0.6 -1 -0.7 -1.7 3 -0.6 -0.4 2zM350.1 79.9l1.2 -1.4 2.1 1.4 -1.3 1.9 -1.1 -0.4zM375.9 82.4l-1.6 -1.7 1.9 -1.6 1.6 0.9 -0.3 1zM399.1 145.4l-0.9 -1.7 0.8 -2.5 1.5 1.9zM375.3 97.4l-0.9 -1.3 -0.1 -2.5 2.5 0.4 0.2 1.4zM405.5 40.5l-2.6 -0.3 0.3 -1.8zM439.6 87.8l1.4 -1 0.4 2.8 -1.5 0.2zM398.2 112.6l0 2.9 -2 -1zM328.1 97l2.4 0.9 -0.2 1.7zM376.6 111.3l0.9 -0.9 2.2 1.2 -0.3 1.8 -2.7 -0.5zM366.3 49.5l-1.4 0.9 -2.1 -0 0.6 -2.2 1.7 0.6zM382 125.8l1.8 1.4 0.2 1.2 -2.3 -0.2zM416.6 149.3l-0.3 -1.8 2.6 -0.4zM402.9 64.6l1.6 0.1 -0.3 1.8 -1.7 0.2zM380.9 42.2l-2.2 -0.6 1.1 -1.6zM422.7 114l2.5 0.5 0.6 1.7 -3.5 -0.9zM394.8 116.2l-3 0.6 -1 -1.2 3.3 -0.9zM393.1 102.3l1.4 -0.5 0.9 3.1 -2.9 -1.1zM401.9 94.4l-0.9 0.5 -2.6 -2.8 1.5 -0.4zM435.1 145.2l2.2 -1.7 1.9 1.7 -1.8 1.1zM341.5 59.6l-1.4 1 -1 0.2 -1 -2.3 1.9 -0.7zM377.9 119.4l2.3 1.9 -1 0.2 -2.8 -1.4zM338 99.2l-0.2 1.7 -1.9 0.5 0.1 -2.2zM421.7 105.8l-1.3 -1.5 0.4 -1.5 2.7 0.9zM422.6 115.9l-1.4 2 -1.6 -2.6 1.1 -1.1zM351.7 133.8l2 -2.5 -0.6 3.7zM402.3 53.4l-1.2 1 -0.7 -1.7 2 -1.2zM434.6 105.2l-2.1 0.5 0.2 -2.2 3 -1.1zM397.5 105.6l2.4 1.3 -2.1 0.6 -1.6 -0.7zM373.7 118.5l-1.1 0.4 -1.6 -0.5 0.3 -1.7 3 0.1zM408.9 131.4l-1.1 0.5 -1.5 -2.1 1.6 -1.2 0.9 0.9zM395 89.5l-2.5 0.8 -0.8 -1.3 2.4 -0.6zM441.9 54l-1.7 0 -0.8 -2.1 1.5 -0.7zM365.4 85.9l-0.2 3.3 -1.8 -1.1zM334.7 50.2l2.1 -2.1 0.5 1.7 -2.1 1.6zM420.6 42.3l1.5 -0.8 1.1 1.1 -1.2 2zM347.9 141.4l-1.6 2 -1.9 -2.9zM355.3 90.4l1.9 -1.1 0.6 1 -0.3 2zM421.7 72.9l0.8 -2.6 1.3 0 1.1 1.1zM358 65.5l-0.9 -2.6 1.6 -0.1 1.4 1.2zM376.6 98.5l-3 0.8 -0.4 -2.1 0.9 -1zM388 115.6l-0.4 2.5 -2.1 -1.8 -0.3 -2.3 1.8 -0.4zM353.2 131.1l0.9 1.1 -1.1 2zM416.6 119.6l1.4 1.1 0.6 1.9 -1.8 0.5 -1.7 -2.1zM396.2 114.1l2.6 0.4 0.5 0.7 -1.3 1.4 -2.1 -1.7zM403.4 59.5l1 -2.8 1.3 -0.2 -0.2 3.7zM410.7 50.4l-1.1 1.5 -1.5 -1.4 1.3 -1zM417.5 79.8l-0.9 -2 1.9 -1.5 0.6 1.4zM394.1 68.7l-2.6 1.4 0.8 -3.2zM381.1 48.4l-0.1 1.9 -1.5 1.9 -1.4 -1.6 1 -1.5zM336.6 68.5l-2.3 -0.4 -0.6 -1.4 2.2 -1 1.6 1.1zM409.6 147.2l1.4 0.4 0.2 2.1 -1.2 -0.3 -1.2 -1.4zM374.3 62.3l3.5 -0.8 -2.2 1.8zM439.3 73.6l1 0.8 -0.9 1.8 -1.2 -0.3zM426.7 91.5l1 -1 1.6 0.4 -0.4 2.5zM366.9 116l2.1 -1.7 -0.5 2.5zM356.8 120.3l1.7 -1.2 1.6 2.3 -2.3 0.4zM376.9 129.2l-3.2 -1.1 0.2 -1.5 3.1 0.4zM399.5 118.3l-0.6 -0.9 2.7 -0.5 0.8 1.2zM415.1 130.6l-1.6 2.1 -1.3 -1.5 1 -2zM423.8 140l1.3 1.5 0.2 1.8 -3.1 -0.2zM353.2 150.6l1.5 1.6 -2.4 0.4 -2 -1zM432.6 49.8l0.2 -1.3 2.5 -0.4 0.7 1.4zM391.7 115.8l-2.1 0.6 -0.4 -0.2 -0.5 -2 2.3 -0.2zM397.5 37.6l1.7 0 -0.9 3.5 -1.4 0.2zM411.3 55.8l-2.4 -0.9 0.4 -1.9 2.4 0.9 0.1 1.1zM393 101.4l0.4 -2 2.5 -0 -0.2 1.8 -1.4 0.5zM399.1 71.1l2.1 -1 0.7 1.2 -1.6 0.7zM424.7 122.8l1.9 1.3 -1.5 0.9 -1.9 0.2 -0.9 -1.2zM415.4 59.8l2.2 -1 0.7 2.2 -0.9 0.8 -1.7 0.2zM365.6 76.9l-2 1.1 -1.1 -1.3 0.6 -2.4 2 1.4zM424.5 41.3l-2.3 -0 0.9 -1.4 1.2 -1.9 1 1.3zM391 73.1l0.6 -2.9 2.3 3.7zM342.4 90.7l1.3 1.6 -1.9 0.9 -1.1 -0.5zM430.6 77.8l-0.6 2.4 -0.7 -2.1zM368.9 116l0.2 -2.1 3.3 -0.3 -0.5 1.7zM380.2 37.3l-1.5 0 -1.2 -2.2 1.8 0.4zM425.5 44.6l-0.8 -3 2 0.2 0.8 2.7zM341.5 58.9l-1.3 0.8 -1.5 -0.7 0.1 -1.6 1.3 -0.4zM377.9 108.4l0.3 -1.5 2.1 0.2 0.8 1.3 -1.8 0.6zM356 137.7l-1.3 0.4 -1.5 -0.7 2.5 -1.8zM390.8 66.7l2.1 -0.5 1.1 1.3 -1.6 0.9zM376.6 39.2l-1 -2.3 1.9 -0.7 1.2 0.4 -1 2.5zM435.3 74.4l0.7 -2.9 1.1 2.1zM331 76.7l0.7 0.4 -1.4 2.8 -0.9 -1.5 0.2 -1.2zM361.4 94.9l-1 -1.9 2.1 0.8zM428.6 118.9l-1.4 -1.1 0.6 -2.2 2.1 2.9zM350.6 138.7l-0.9 -2.1 3.6 0.1 -0.1 1.6zM338.3 49.3l-0.8 0.8 -2.1 -1.3 1.8 -1 2.4 -0.5zM354.1 56.2l-2 -0.2 -0.3 -0.9 1.2 -1.6 0.9 1zM431.2 92l-1.2 -1 -0.6 -1.6 2.9 0zM367.6 120.4l-1.7 1.3 -0.4 -2.1 1.6 -1.3zM369 103.1l-1.1 -0.9 0.9 -2.3 1.4 0.9zM425.1 105.9l-1 -2.2 3 0.1 -0.2 1.9zM422.7 45.4l2.4 0.6 -0.5 1.7 -1.4 0.4 -1.3 -0zM423.4 150.7l-0.7 -2.9 0.5 -0.8 1.7 1.1 -0.3 2.5zM344.7 140.5l-0.9 -0.6 -0.1 -1.7 1 -0.6 0.6 2.2zM370 78.4l0.6 -2 2.3 -1.4 0.1 1.2zM440.6 62.1l0 1.7 -1.6 0.1 -1.1 -2zM441.3 59.3l-0.9 1.5 -1.3 -1.1 0.1 -2.7zM418.3 108l-0 -2.4 2.2 0.3 0.9 2zM433.9 103.6l-1.4 1.4 -0.8 -1 0.7 -1.5zM417.9 113.2l2.1 -2.6 1.4 0.7 -1.4 2.1zM381.6 46l-1.9 -2.2 2 -0.2zM417.1 129.2l0.9 1.7 -0.8 1.4 -1.6 -2.4zM332.7 52.9l-1.8 0.9 -1 -2.3 2.7 -0.3zM365.3 75l1.7 -2.3 -0.8 3.5zM444.4 94.9l1.7 0.4 -0.2 2 -1.9 -0.8zM329.5 36.2l2 0.9 -0.2 1.4 -1.2 0.1 -1.7 -0.4zM368.6 136.9l0.5 -2.1 1.4 2.1zM391 74.7l0.4 2 -1.2 -0.3 -1.8 -0.5 1 -1.8zM437.4 56.7l1.6 1.4 -0.9 1.2 -1.7 -0.6 -0.4 -1.6zM412.4 61.8l0.9 -3.2 1.6 1.5z"/>
<path fill="#18a0a0" d="M441.2 131.2l1.9 -1.4 -0.2 1.6zM340.5 43.9l-0.4 1.4 -0.9 -0.2 -0.7 -1.8 1 -0.8zM428.1 92.4l-0.5 -0.9 1 -1 0.7 0.3zM417.6 116.2l0.6 -0.4 1.5 1.9 -1.6 0zM386 138.7l-1 -2.2 1.8 1zM407.6 79l1.4 1.4 -2.6 0.1zM354.1 38.6l1.6 -0.7 0.5 1.6zM371.9 65.8l2.6 -2 -0.5 2zM390.7 76.5l-1.4 -1.8 1.6 -0.1 0.8 0.9zM380.2 101.8l-0.6 -0.4 0.1 -1.3 2.1 1.3zM403.9 93.6l-1.3 -0.3 -1.2 -1 0.1 -1.5 1.7 1.3zM399.6 131.3l1.1 -1.5 0.2 2.6zM408.5 150.3l0.5 -1.4 1.4 1.5zM421.7 53.1l2.2 0.4 -0.3 1.8 -1.4 -0.6zM369.3 97.8l0.8 -0.2 -0.7 2.7 -1.7 -0.1 0.3 -1.4zM427.4 67.4l2.4 -0.9 -0.7 2.1zM347.6 56.4l0.8 -0.2 1 1.9 -1.8 0.1zM367.6 53.1l0.5 2.4 -1.1 0.9 -0.7 -1.5zM369.9 96.9l-1.5 0.8 -1.1 -0.3 1 -1.3 1.3 -0.4zM337 116.9l-0.4 0.7 -1.3 -1 0.8 -1.8zM330.3 102.8l0.4 -2 2 0.6 -1.4 1.7zM339.7 105.6l1.8 -1 0.7 0.6zM434.2 111.9l0.7 -1.1 1.3 0.8 -1.4 1.7zM442.7 105.8l-2 -1 1.6 -1.2zM333.6 132.8l0.2 -2.3 1.3 1.3 -0.7 2.1z"/>
<path fill="#f0a0c0" d="M334.8 115.2l0.6 -0.1 1.1 -0.1 0.1 2.3 -1.4 -0.3zM403 91.4l-1.8 0.6 -1.1 -1.1 3 -0.5zM422 141.4l1.5 0.4 0.5 1.7 -2 -0.6zM395.8 46.9l1.6 0.9 -2.8 0.7zM415.3 116.6l-2.8 0.9 -0.3 -1.1zM342 85.2l-0.3 1.9 -1.7 -1.5 0.6 -1.6zM340.2 84.2l1.6 -1.7 -0.1 2.1zM347.9 59.5l1.2 0.6 -0.1 0.8 -1.5 -0.1zM400 62.7l1.1 -0.5 -0.7 2.3 -1 -0.7zM356.7 106.3l1.4 0.7 -1.9 0.8zM392.5 105.9l-2 -0.7 1.9 -0.5zM378.5 40.6l-1.6 -1 0 -1 1.5 -0.2z"/>
<path fill="#000" d="M349.3 122.3l0.1 -1.9 1.6 3.5zM439.3 129.1l-0.7 -1.3 1 -1.6zM423.1 142.4l1.1 0.9 -0.9 2.4 -2.3 -0.3 0.4 -1.9zM377.3 46.2l-1 0.1 -1.2 -1.5 0.8 -1.4zM422.7 106.5l1.1 -1.8 0.5 1.1 0.3 2.3 -1.3 0.3zM376.6 77.7l0.9 0.9 -1.9 1.7 -0.5 -1.8zM441.2 128.3l-1.6 -0.1 -0.8 -0.1 0.3 -1.8 1.6 1.3zM362.3 35.1l0 0.9 -0.3 0.4 -2 1.2 0.5 -1.7zM354 73.2l1.4 -0.8 2.4 1.5 -2.5 0.9zM384 87.5l2.2 0.2 -0.2 0.7 -0.9 0.7 -1.9 0.1zM370 131.7l-0 -1.1 1.6 -0 -0.6 2zM421.5 110.9l0.4 -1 1 -0.7 0.4 2.6zM345.1 92l1.5 -1.5 2.1 1.2 -0.5 1.3zM400.5 77.9l0.4 1.4 -0.9 0.2 -0.7 -2.1 0.8 -1.2zM376.3 86.5l-1.4 1.2 -1.7 -2.5 1.4 0.1zM366.3 58.7l1.7 2.5 -1.7 0.1zM411.5 135.2l2 -0.9 0.1 2.1 -1.5 0zM440.6 102.5l1.7 1 -2.3 1.1zM397.4 65.3l0.6 2.3 -2.6 -1.2 0.8 -1.2zM398.7 76.7l-1.5 2.3 -0.4 -2.2 1 -0.6zM380.4 39.1l1.3 0 0.1 1.6 -2.1 0.6zM334.2 50.6l1 0.2 -0.7 1.1 -2.4 0zM407.1 88.5l-1.1 -0.5 0.3 -1.1 1.5 -0.9 0.6 1.5zM363.6 42.2l-1.7 0.1 0.6 -1.9zM344.3 88.2l-1.5 -0.4 -2.1 -0 1.1 -1.1 1.4 0.2zM434.6 76.6l-1.2 -0.5 -1.6 -0.7 1.3 -0.8 1.7 0.1zM402 127.4l-1.6 0.8 -2.4 -1 2.4 -0.4zM332.4 89.8l-0.5 -0.7 0.7 -1.6 0.9 -1zM407.4 110.1l2 -2.7 0.6 2.1 -1.4 1zM351.6 95.6l-0.9 -1.3 1.3 -0.6zM436.9 118.2l1.9 1 -0.6 1.6 -1.6 -0.4 -1.2 -2.3zM332.6 130.5l1.5 -1.4 0.6 2.2 -1.7 -0.5zM391.1 125.6l0.6 1.3 -2 -0.5 0.4 -1.5zM369.5 130.1l1.5 1.9 -2.6 -0.2 -0.2 -2.2zM433.2 90l2.5 0.2 0.4 0.7 -3.1 1.5zM356.6 83.1l0.5 1 0.5 2.9 -1.1 -1.1zM361.1 94.3l-1.5 -0.1 0.3 -1.3 1.7 -1.3 0 0.7zM402.1 60.6l-3.2 -1.6 1.8 -1.1zM340.8 88.7l-0.4 3.1 -0.9 -0.2 -0.1 -1.9zM359.3 35.7l0.6 -1.6 0.5 2.5zM419 81l0.4 1.9 -1.1 -1.1 -1.3 -1.5 0.6 -0.8zM414.2 74.9l0.1 -2.4 2.6 1.5zM354.2 61.3l2.6 -0.4 -1.3 1.8 -2 0.7zM401.5 132l2.1 -2 0.4 0.6 -0.9 2.1zM410.8 49l0.4 1 -3.1 0.5 0 -1.2 2 -0.4zM403 88.8l-2.1 -1.4 0.8 -1.7zM335.1 145.1l-0.4 1.2 -1.4 -0.8 0.2 -1.4zM433.3 35.4l-0.2 2.4 -1.6 1.5 -0.6 -1.7 1.4 -2.1zM427.2 47.5l0.9 -2.5 1.1 -1.2 -0.1 2zM403.4 74.2l1.1 -1.4 0.9 0.9 -0.7 1.8zM426.8 98.6l1.3 0.9 0.4 0.7 -3.2 0.2zM361.8 112.8l-0.4 -3.5 1.9 2.1zM382.6 43.9l-0.2 -2 2.3 -0.4 -0.4 1zM427.2 102l-0.6 2.1 -0.6 -0.6 -0.6 -2.9zM438.4 75.1l-0.7 2.1 -1.1 -2.5 1.9 -1.3zM405.9 151.2l-2.2 -0.4 1.6 -2 1.1 -0.4 0.5 1.3zM402 99.4l-1.1 -2 1 -0.9 1.1 2.4 -0.3 0.4zM388.2 126l-1 -1 0 -1.6 1.6 1zM422.8 92.1l-1.1 -1.3 2.8 -1 0.7 0.7 -0.5 1zM371.7 99.6l-1.6 -0.4 2.5 -1.1zM416.3 132.5l-0.8 2.6 -1.7 -1zM383.6 69.5l1.8 1.2 -1.7 0.5 -1.8 -0.8zM357.4 136.2l-0.8 -0.9 2.5 1.2zM434 79.6l-1.2 -2.5 1.7 0.2zM381.3 102.2l-0.2 1.2 -1.3 0.7 -0.5 -1.9zM341.6 129.3l2.3 1.1 -1 1.3 -2.7 -1.6zM352.3 148.6l-0 -2.4 1.8 0.9zM352 149.3l1.7 -0.6 -0.8 2.2zM429.9 42l-0.4 -2.4 2.2 -1.3 0.4 1.7zM352 135.9l-0.7 1.7 -2.3 -1 0.5 -0.9zM340.8 116.1l2.3 -0.8 1.1 1.2 -2.3 1.4zM399.6 108.9l1.8 2.2 -0.6 1.2 -1.5 -1.4zM425.6 96.1l-1.7 1.2 -1.6 -1zM345 79l-1 0.7 -1.5 -0.6 0.9 -1.9zM422.2 90.4l-1.5 1.5 -0.8 0.2 -1.2 -0.8 2.1 -1.8zM426.8 147.4l-0.1 -1 1.3 -2 0.6 0.9 -0.3 2.8zM332.5 73.7l2.5 -0.4 0.1 0.8 -1.5 0.8zM409.3 115.6l-0.2 1.6 -1.5 -1.4 -0 -1.1 1.1 -1.1zM374.6 116.3l-1.1 -1.4 0.3 -0.5 2.9 -0.2 -0.9 1.4zM386.3 113.3l1.4 0.5 -2.9 1zM440.1 143.6l1.9 1.9 -1.3 1.5zM339 76.9l-0.8 0.2 -1.2 -2.6zM358.9 42.3l-0 2.2 -1.3 -0.3zM381.7 39.7l-0.6 2.3 -1 -0.7 -1.2 -0.1 1.6 -1.5zM383.1 112.7l-1.1 1.3 -0.8 -1.7 1.1 -1.9zM365.2 139l-2.7 -0.4 1.1 -0.5zM368.8 39.6l1.9 0.8 -0.2 1.8 -1.3 -0.8zM339.9 36.6l0.5 -0.9 2.1 0.9 -0.7 1zM438.2 54.3l-1.8 -0.4 1.3 -2 1 0.4zM430.6 91.4l-0.7 1.4 -1.5 -0.4 -0.8 -2.2zM335.4 40.5l0.3 1.9 -1.9 -0 0.3 -1.5zM380 72.9l-0.9 -1 3.5 -0.7 -0.9 1.7zM426.2 115.6l1.8 0.7 -0.5 0.7 -2.2 0.3 0 -1.4zM417.4 110.2l-2 -0.2 2.5 -2.4zM360.8 38.1l-1.3 -1.6 2.5 -1.2zM440.9 78.1l1.6 -0.1 -0 0.9 -1.4 0.2zM435.4 74.6l-1.7 0.9 -0.9 -3 1.5 1.2zM418.4 88l-0.7 -1.1 0.1 -1.7 2.6 1.8zM408.9 121.4l-1.4 0.8 -1.4 -0.5 0 -2.8zM361.2 88.6l-0.6 1.7 -1.1 0.6 0.3 -2.2zM408.7 113.1l-1.4 -0.4 0.1 -2.2 1.5 1zM416.6 50.4l-0.9 3.3 -0.2 -2.5zM334.9 60.5l2 1.9 -1.8 -0.3 -0.4 -0.4zM383.3 114.3l-1.3 1.2 -2.3 0.3 0.2 -1.1 1.8 -0.8zM424.1 75.1l0.9 1.7 -0.5 0.8 -1.7 -1 -0 -1zM404.3 128.3l0.7 1.6 -2.3 -1.2 0.3 -1.5zM376 60.9l-1.6 -2.4 1.6 0.1zM339.2 95.7l1.4 -0.6 -0.9 2.8 -1 -1.2zM343.1 135.3l1.8 1 -0.2 1.9 -1.5 -1.4zM388.8 135l-1 0.1 -0.6 -0.1 1.2 -1.3 1.9 -0.4zM396.6 132.3l0.4 -3.5 1.8 2.5zM355.9 98.5l-2.7 1.4 1.5 -2.5zM375.4 93.6l-1 2.4 -0.7 -0.7 1.1 -1.7zM426.6 84.1l-1 -0.5 0.3 -2 1.8 0.7 1.3 2zM362.9 81.8l-2.2 -0.5 1.4 -1.9zM423.9 133.2l0.9 2.2 -0.9 0.3zM414.2 61.6l0.1 0.8 -3.3 0.2zM370.4 61.7l0.4 -1.2 1.3 0.2zM388.3 88.4l0.2 -1.6 1.8 -0.3 0.5 3zM433.9 110.1l2.6 0.7 -4 0.1zM417.1 63.7l-0.8 1.2 -0.5 -0.8 0.3 -1.8zM330.8 42l0.6 -0.8 1.8 0.2 -0.6 0.9zM377.2 69.8l2.2 -0.2 -0.2 2.2 -1.9 -0.6zM409 88.1l-1.6 0.8 -0.2 -2 1.4 -0.4zM396.7 142.1l1.6 -1.2 2.2 1 -1.7 1 -0.7 0zM337.6 132.8l0.9 -0.3 0.1 2.3 -1.1 0.4zM340.4 101.2l-0.1 2 -1.6 -0.1zM366.1 146.5l1.7 1.3 -0.7 1 -1.7 0.4zM332.3 49l-0.4 3.7 -0.5 -1.7zM334 107l-0.3 1.2 -2.2 -0.2 0.2 -2zM427 59.1l0.9 -1.1 1.5 1.1 -0.5 1.1 -2 -0.1zM334.3 54.8l-2.6 0.9 2 -2.9 1.3 1.1zM419.8 139.5l1.6 0.7 1 1 -1 1.4 -1.1 -0.9zM385.9 143.7l-1.4 0.8 -1.5 -1.1zM409.2 151.3l-1.6 1.5 -1.2 -1.6 0.5 -1.4 1.3 -0.6zM427.8 57.5l2.6 0.1 -1 1.1zM358.4 113.4l-2.7 -0.6 2.2 -0.7zM420.3 123.1l-0.2 -1.1 1 -1.5 1 0.6 -1.1 2.5zM358.2 72.4l2.2 -0.2 -0.1 1.4zM376.5 73.8l-1.6 -0.2 0.2 -0.9 1.5 -1.8zM367.5 123.1l-1.9 -1.7 1.5 -1.2zM398.7 131.2l0.6 1.5 -1.2 1.5 -0.4 -2.2 0.1 -1.4zM372.2 137.7l-0.5 1.9 -1.4 -0zM371.4 86.4l-1.9 -2.7 1.4 0.2 0.6 0.9zM358.9 102l2.2 -0.2 0.5 1.2 -1.5 0.9zM346.6 48.7l-1 -0.3 -0.4 -0.6 1.1 -1.2 1 -0.3zM425.2 51.5l-1.6 -1.9 1.6 0.2zM438.7 79.7l-1.4 -0.4 -0.4 -2zM355 148.9l-0.3 -2.6 1 2.7zM362.8 144.9l1.2 1.9 -2.8 -2zM361.5 39.5l-1.8 0.3 -0.9 -1.4 1.4 -0.3zM340.1 126.5l1.7 1.7 -1.5 0.6 -0.6 0.3 -0.3 -1.8zM376.7 82.8l-0.1 0.8 -0.5 0.5 -1.4 -1.3zM338.9 53.7l1.2 -1 2.1 -0.5 0.3 1.9zM423.1 129.4l-3.1 0.3 2.9 -1.5zM398.8 115.3l0.4 0.9 -1.7 0.4 -0.7 -1.8zM419.2 58l0.1 1.6 -1.1 1.8 -0.1 -2.2zM360.3 88.5l-0.8 0.5 -0.9 -3.1zM375.4 65l-1.9 -1.7 0.4 -2.2 2.3 2.5zM352.6 103.1l1.8 0.1 0.8 1.9 -0.9 0.1zM344.6 51.2l2.3 -0.2 -1.4 2 -1.3 -0.6zM352.9 150.2l0.5 1.5 -2 -0 -0.6 -0.3zM420.8 110.7l1.5 -0.3 -0 1.3 -0.5 1 -1 -0.6zM365.5 119.9l0.5 1.3 -1.3 0.3 -1.1 -2.1 1.2 -0.7zM416.8 129.5l-0.9 0.8 -1.3 -1.8 0.8 -1.4zM409 141.2l-0.5 -1.5 1.1 -1.4 1.4 0.8zM363.4 149.6l-0.8 1.3 -1.4 -0.9 1.4 -1.1zM342.6 113.6l-1.2 1.2 -2.7 -0.8 1.5 -1.4zM333.2 116.4l-1.1 -1.6 1.1 -2.1 1.1 2 -0.2 1zM436.7 111.6l1.1 -0.8 -0.1 1.1zM429.7 87.2l2.5 -1.4 0.3 1.8 -2.8 1.4zM442 73.9l-0.4 -1.7 1.9 1.4zM392.2 133.9l-0.1 -1.7 0.5 -0.1 0.9 1.5 0.2 1.5zM434.8 89.5l1.5 -1.4 -0.1 3 -1.6 -0.7zM343.7 94.2l-2.8 -0.2 2.2 -1.3 0.5 0zM413.4 79l0 -2.9 1.5 0.7 -0.2 1zM381 146.9l-1.1 1.8 -1.1 -1.2 0.2 -2 1.3 0.8zM389.9 115.1l-1.1 -0.2 0.4 -1.6zM348.6 56.2l1.4 0.3 1.6 1.1 -2.7 0.6zM372.9 130.5l-0.5 -1.9 1.7 2.7zM408.7 91.4l-2.9 -0.4 2 -1.7zM399.4 81.4l-2.2 0.2 2 -1.6 0.9 0.6zM358.8 115.4l2.6 -0.7 0.3 1.4zM357.2 109.8l-0.1 -0.8 2.4 -0 0.7 1.4 -1.6 -0.1zM334.9 150.9l-1.3 -0.5 1.9 -1.3zM443.2 39.2l0.1 -0.8 1.5 -0.3 0.9 0.4 -1.5 1zM382.7 130.1l1.5 -1.8 0.3 1.5zM353.7 147.2l-2.4 1.8 0.3 -2.5zM391.1 105.5l-0.6 -1.2 0.9 0.2 1 0.6 0.7 1.8zM427.1 56.2l0.6 1.6 -0.9 0.1 -1.4 -1.3 0.3 -1.3zM331.3 86.9l-1.2 0.5 -1.1 -0.9 0.3 -1.2 1.5 0.7zM342.2 84.8l0 2.1 -1.1 0.1 -0.6 -0.5zM395.1 58.3l1.7 0.6 1 1.7 -2.3 -0.8zM418.5 40.3l0.5 -0.1 1.1 0.4 -0.2 0.8 -1.3 0.1zM370.7 103.2l2 1.8 -0.8 0.8 -2.4 -2.5zM393.2 58.4l-1.6 -1.5 0.5 -2.7 1.3 0.9zM432.1 56.6l2.1 1 -1.6 1.1zM361.1 54.9l-0.1 -1.4 1 -0.2 0.9 1.7zM351.9 122.4l2.1 0 0.7 0.9 -1.9 0.5 -1 -0.8zM384.6 51.9l0.7 2.1 -2 -1.1 -0.4 -1.6zM337.5 54.6l0.4 1.7 -2.6 -2.1zM347.4 145.8l0.6 1.7 -1.8 -0.6zM345.1 88.2l-2 0.7 0.6 -1.7 1.6 -1zM435 92.8l-3.4 -0.9 2 -0.4zM334.4 147.5l1.1 -0.8 2.8 0.9 -1.3 0.7zM329.8 107l4.2 0.4 -2.6 1.1zM358.5 51.8l0.5 1 -1.8 -0.1 -1.4 -1.7 1.7 0zM406.2 61l-0.2 -2.5 1.3 0.7 0.2 1.2zM360.1 143.1l-0.1 1.3 -1.8 1.3 -0.9 -1.1 0.4 -0.9zM378.7 61.6l-2 1.2 -0.1 -1.2 2.6 -0.7zM440.8 69.7l-1.6 0.9 -1.4 -0.3 0.4 -1.6zM376.1 44.2l1.9 1.2 -2 1zM440.3 80.1l-2.8 0.9 2.9 -2.3zM446.7 111.4l-2.5 -0.2 0.6 -2.3zM379.9 145.1l-1.8 -0.8 0.3 -0.9 1.6 -0.2zM378.1 122l-0.9 -1 0.3 -1.6 1.1 -0.8 0.4 2.9zM351.8 112.7l-1.4 1.5 0.1 -2.8zM414.3 128.7l0.3 1 -1.9 -1.1 -0.2 -0.9zM385.1 50l-0.8 3.2 -0.7 -0.2 -0.5 -1.5zM339.9 97.5l1 1.3 -1.4 1 -0.5 -1.6zM344.3 40.7l-1.4 -0.9 0.9 -1.4zM363.4 89.8l1 1.8 -1 1 -1.4 -2.1zM346.2 132l1.1 0.2 -0.6 1.7 -1 -0.1zM375.6 148.4l0 2.4 -2.1 0 0.3 -1zM443.5 105.3l0.4 -1.1 1.4 0.6 -0.6 1.5zM346.4 38.5l1.8 0.6 -0.2 1.2zM442.8 48.1l-0.8 0.7 -1.6 -1.1 2.2 -0.9zM334.8 110.4l1.7 2 -1.5 0.9 -0.4 -1.9zM331.9 75.6l-1 -0.5 1.2 -1.5 1.2 1.3zM363.7 66.3l-1.8 -1.6 0.5 -0.7z"/>
<path fill="#000" d="M434 84.9l-3.6 0.2 2.9 -2.3zM429.8 81.5l-1.8 -1.3 1.7 -1.7 1.2 2.4zM434.5 85.4l-1.9 0.2 -0.5 -2 1.2 -1.3zM429.3 78.5l0.8 1.3 -1.4 0.8 -1.2 -1.2 0.5 -1.5zM426.4 79.8l1.5 -3 1.6 2 -1 1.6zM435.5 82.9l-0.8 -0.5 0.4 -2.2 1.4 0.9 0.8 1.6zM426 81l2.9 -1.6 -0.6 1.7zM434 81l3 -1.1 1.1 1.3 -2.3 1.9zM433.6 79.5l-0.5 1.2 -2.2 -0.6 1.3 -3zM428.4 80.9l-2.2 -2.1 2.3 -0.4 1.9 1.3zM432.8 80.8l2.3 -0.3 -0.9 3 -1 -0.2zM431.6 80.1l1.2 1.7 -2.8 -0.8zM430.6 81.8l-2.1 1.4 -0.8 -2.2 1.5 -1.7 1.4 1.5zM426.8 79.2l-1.9 1.9 -1.1 -0.1 -0.2 -1.3 1.6 -1.5zM428.9 81.4l-2.4 1.6 -1.1 -1.4 1 -1.8zM430.3 77.6l-1.4 1.5 -1.4 -2.6 2 -0.4zM427.4 85.3l-1.3 -0.8 1 -1.7 0.9 0.6zM436.2 83l-3.3 0.1 -0.1 -1.7 2.1 -1.6 0.4 1.4zM431.8 79.2l2.8 -0.6 0.7 1.9 -1.4 1.4 -1.2 -1.2zM434.1 76.9l-0.2 2.9 -1.5 -0.9zM437.5 81.7l0.3 1.8 -1.4 1.6 -1.5 -1.4 0.6 -1.9zM432.2 83.5l1.9 -1.4 1.3 1.7 -1.7 1.5z"/>
<path fill="#000" d="M437.8 80.9l0.9 2.1 -3.9 0.6 -1.1 1.7 -2.9 1 -2.4 -1.5 -2.6 -0.9 -1.3 -1.8 1.8 -1.7 1 -1.5 1.5 -2.1 3.1 2 1.9 0.3 0.7 1.2z"/>
<path fill="#000" d="M406.2 66.4l-0.6 1.6 -1.4 0.3 -0.3 -1.7zM403.6 65.4l2.2 0.6 0 1.1 -1.7 1 -1.1 -0.7zM404.7 69.6l1.9 1 -0 2 -1.2 -0.2 -0.8 -1.7zM403.9 72l1.9 0.8 -2 1.5 -0.8 -1zM404.9 71.2l1.4 -0.6 0.9 2.4 -1.9 0.4 -0.5 -0.5zM407 73.6l-1.1 0.9 -1.3 -2.1 1.2 -1.6zM405.6 66.2l2 -0 -0.1 1.9 -2.2 1zM407.9 71.3l-1.3 0.8 -1.3 -0.9 2.3 -0.5zM405.3 74.3l-1.2 -0.7 0.7 -1.3 2.1 0.3zM407.6 70.9l0.1 2.9 -1.1 -0.9 -0.3 -2.3z"/>
<path fill="#000" d="M391.9 44l-0.2 -1.8 2.4 0.9 -0.4 1zM392.4 52l-0.3 -1.8 1.3 -1 0.4 2.5zM397.7 39.7l0.9 0.2 0.3 2.5 -1.8 0.2 -0.3 -1.4zM388.1 50l-0.6 -0.9 0.6 -1.3 1.6 0.4 -0.5 1.2zM398.2 45.1l-1.8 -0.8 0.8 -1.6 1.8 1.5zM404.9 43.9l-2.3 -0.1 0.2 -1.4zM403.3 44.3l-0.6 0.6 -1.9 -0.9 1.8 -1.5zM385.7 45.7l-1.4 0.4 -0.6 -2.1 1.5 -0.9zM390.3 41.9l1.6 0.8 -1.3 1.2zM397.1 50.2l-1.6 -0.8 0.9 -1.4zM397.7 46.6l0.4 -1.8 1.4 1.7zM403.2 44.9l-2.8 -1.3 2.4 0.1zM396.1 46.6l-2.2 -0.5 2.1 -1.2 0.4 1.2zM398.9 43.8l-1.4 1.9 0.5 -2.4zM393.7 44.5l0.2 -1.2 2.5 0.5 -0.9 1.6 -0.6 0.3zM396.8 42.7l0.4 1.6 -1.5 0.9 -1.2 -2.4 0.9 -0.2zM391.8 44.8l-2.1 -0.3 0.9 -1.3 1.2 -0zM402.1 46.8l1.3 0.9 -2.4 1.7 -0.5 -1.8zM393.6 42l1 1.6 -1.6 1.4 -0.8 -2.2zM388.1 45.8l0.2 -2 1.7 0.7 -0.2 1.5zM391.8 43.7l1.5 -0.8 0.7 2.1 -1.9 -0.5zM389.7 41.9l1.2 -2.1 1.5 0.6 0.4 1.6z"/>
</g>
<clipPath id="cl2"><rect x="449.00" y="35.70" width="115.60" height="115.80"/></clipPath><g clip-path="url(#cl2)">
<rect x="449.00" y="35.70" width="115.60" height="115.80" fill="#7dc47e"/>
<path fill="#4fbbeb" d="M549.5 103.9l5 -0.7 3.5 2.8 2.5 3.5 -4 3.6 0.5 3.4 -3 2.2 -3.6 1.2 -4.2 1.7 -4.3 -1.4 -0.4 -4.3 -2.6 -2.1 -4.2 -3.4 6.1 -1.9 2.4 -1.7 1.7 -4.7z"/>
<path fill="#4fbbeb" d="M551.5 123.7l-2.2 0.3 0.5 -1.8 1.1 -0.2zM552.5 105l-0.9 1.3 -1.2 -0.8 0.3 -2.6zM541.6 108.2l-2.6 -0.9 2.6 -2.3zM558.8 119.5l-2 0.7 0.9 -2.5 1.6 -0.2zM555.7 107.6l2.5 0.9 -0.1 2.4 -1.9 -0.6zM552 108.9l3.4 0.7 -0.7 1 -1.7 0.6zM552.7 115.7l-0.9 2.3 -2 -1.2 -0.3 -1.5zM544.5 119.7l1.5 -0.4 -0.2 2.1 -2 0.2zM551.6 107.4l0.7 -2.9 2.1 0.1 0.6 2 -2.3 1.6zM540.9 105.9l-1.9 0 0 -2.8 1.9 1.6zM553.4 107.3l1.4 -1.8 1.9 1.4 -2.1 2zM547.1 109.9l1.6 -3.1 1.8 2.4zM540.4 116.4l-0.3 -3.2 1.4 0.1 0.2 3.7zM544.1 120.9l-2.4 -0.3 1.4 -2.8 2.1 0.5zM542.2 104.7l-0.3 2.4 -2.3 0.8 0.1 -2.3zM553.8 118l0 2.8 -1 -0.7 0 -2zM556.1 103.9l-1.3 1.2 -0.8 -0.6 0.1 -2.5zM548.9 117.2l0.8 -1.6 2.2 0.1 0.3 1.5 -2.3 1.7zM544.9 103.5l1.1 -0.6 2.6 1.1 -1.8 0.9 -1 -0zM554.9 123.3l-1.6 -0.4 0.1 -2.3 1.8 0.4zM539.1 115.8l-0.7 -2.5 3 -0.9 -0.6 2.5zM555.2 109.9l1.6 -1.8 2 1.1 -2.7 2.3zM534.3 113.1l2.2 1 -0.6 1.9 -2.6 -0.9zM548.8 108.1l-0 2 -1.6 1.3 -1 -2.9z"/>
<path fill="#4fbbeb" d="M545 100.4l1.8 1.4 -0.8 2 2.1 2.3 -3.1 0.9 -1.1 2.2 -2.7 -1.1 -2.2 0.4 -2 -0.9 -2.6 -1.1 0.2 -2.3 -0.3 -2.3 3.5 -0.4 -0.2 -3.6 3.1 1.2 2 0.8z"/>
<path fill="#4fbbeb" d="M547.4 104.8l0 2 -1.4 0.2 -0.3 -1.8zM536.3 100.2l2.5 -0.6 0.8 1.5 -2.6 1.2zM540.9 105.4l1.8 -1 1.6 0.9 -1.1 2.1 -1.6 -1zM540.8 108l0.1 -2.3 2.2 -1.1 0.4 1.8 -0.9 1.7zM545.3 99l3 0.1 -1.2 1.7zM538.3 100.7l-1.8 -1.3 1.4 -2.2zM539.9 101.4l1.7 1.9 -2.1 1.3 -0.9 -2.3z"/>
<path fill="#4fbbeb" d="M556.7 122.6l-1.8 0.4 -2.9 1.8 -2.8 -1.1 -0.3 -2.6 -0.8 -2.1 0.1 -2.3 2 -1.6 1.7 -2.1 3 2.4 1.7 0.4 2.4 0 2.6 1.1 -0.3 2.3 -0.7 1.9 -2 1.1z"/>
<path fill="#4fbbeb" d="M554.1 120.3l0.6 2.1 -1.1 1 -1.1 -1.3 -0.3 -1.3zM562.1 121.4l-2.2 0.9 -1 -0.6 1 -2 1.9 0.1zM554.8 117.3l1.1 -0.5 0.9 1.6 -0.5 1.7 -2.3 -1.5zM558 114.8l-0.4 2.2 -1.9 -0.5 0.7 -2.4zM549.7 120.6l0.8 -3.5 1.7 2.2zM558.7 115.5l-0.4 -2 2.2 -0.9zM561.3 115.6l-2 2.1 -0.6 -3.8z"/>
<path fill="#4fbbeb" d="M517.8 64.6l-0.7 -1.8 1.7 -1.3 1.1 -1.6 2.2 -0.5 1.9 1.2 2.9 -0.8 1.5 1.7 -1.5 2.1 1.5 1.5 -0.4 1.9 -2.7 0 -1.3 2.1 -1.9 -1.8 -1.8 -0.3 -1.7 -0.9z"/>
<path fill="#4fbbeb" d="M518.3 64.6l-0.7 -1.5 1 -0.4 1.3 0.5 0.4 0.9zM525.1 66.4l-1.7 -1 1 -1.6zM519 63.8l0.4 0.8 0.4 2.3 -1.8 -0.5 -0.8 -1.4zM520.9 60.1l3.1 1.1 -0.7 1.3 -1.6 -0.4zM523.9 64.9l-0.7 -1.7 1.8 -1.6 1.4 2z"/>
<path fill="#4fbbeb" d="M481.5 140.1l-0.4 3.5 -7.5 1 -0.4 4.2 -5.7 1.7 -6.7 0.1 -4.5 -2.9 0.4 -3.9 0 -2.3 -6.8 -3.3 2 -3.8 9.6 1.8 3.4 -1.8 6.1 -2.9 2.9 3.9 4.8 1.7z"/>
<path fill="#4fbbeb" d="M458.9 140.9l-0.4 -2.6 2.7 0.6zM463.5 152.2l-0.4 -1.5 0.2 -1.9 2.5 0.8zM473.8 139.6l0.8 -2.3 3 0.4 -1.2 2.8zM471.8 140.7l-2.7 -0.8 0.7 -2zM470.5 140.7l1.2 2 -0.7 0.3 -2.4 0.1 -0.1 -1.7zM478.2 146.6l1.5 -1.7 2.2 0.3 -1.7 2.5zM464 135.7l3 -1.4 0.2 1.9 -1.3 1.8 -1.5 -1.3zM464 136l-0.1 1.9 -0.7 0.8 -2.2 -1.9zM449.3 145l-0.8 -1.3 0 -1.6 1.8 0.1 0.6 1zM459 144.3l2.8 1.3 -1.1 1.3 -1.8 -0.1zM455 147.8l2.2 -0.5 -0.6 3.4 -2.8 -1.2zM460.3 140.1l-0.6 -1.5 1.3 -1.2 0.6 0.4 0.2 1.2zM471.7 144.9l-2.2 -0.3 0.2 -1.7 1.7 -0.5 0.7 1.5zM457.6 135.6l1.8 1 -2.5 1.4zM468.9 147.4l0.9 -1.3 0.1 3.3 -1.2 0.7zM458.2 143.4l-2.6 0.5 0.3 -2.8 2.9 0.7zM456.1 145.6l1.6 1 0.4 1.7 -2.7 -0.6zM464.2 132.6l-1.9 -0.4 -0.4 -2.6 2.2 0.2zM455.3 137.9l1.4 2 -1.7 -0.5zM466.2 144.8l3.3 -1.9 0 2.4 -2.6 1zM464.4 132.2l1 -2.9 2 0.7 0.8 0.8 -2.1 1.8zM460.5 139.3l0.3 -1.6 2.4 -0.5 1.3 2.6 -2.4 0.6zM465 143.4l-1.4 0 0.3 -3.3zM459.5 134.4l2.6 -0.5 -0 2.8 -1.8 0.3zM471.7 144.8l-0.5 -2.5 2 -0.3 0.4 2.4zM476 148.3l-3 -1.6 2.6 -0.4zM475.6 135.7l2.3 -2.4 -0.4 3.1zM473.6 148.3l0.6 -1.9 1.7 -0.5 0.3 2.3 -1.3 0.8z"/>
<path fill="#4fbbeb" d="M450.5 134.4l-1.1 -3.8 2.9 -0.5 1.9 -3 2.2 3.2 3.1 -0.9 0.7 3.3 -1.1 2.8 2.8 2.9 -1 3.3 -3.2 0.2 -2.1 1.8 -2 -2.6 -2.6 0.5 -3.2 -1.2 -0.2 -3.6z"/>
<path fill="#4fbbeb" d="M448.3 134l-1.7 -2.5 2 -0.6 2.2 1.3zM449.8 139.1l-1.5 -0.9 -0.5 -1.3 1.8 -0.8 1.7 2.4zM462 138.6l-1.8 -1.6 1.6 -0.6zM458.5 131.2l-1.2 1.2 -1.7 -3 2.6 -0.3zM452.7 137.1l1.9 -1.1 1.3 1.3 -1.1 1.7zM449.5 132.1l1.8 -2 1.2 2.8 -1.5 0.8zM450.2 136.1l0.9 -1.7 2.5 -0.2 0 1.4 -1.3 2.1zM446.9 134.1l2.5 -1.8 -0 1.8zM453.8 133.4l2.2 0.7 -0.4 2.2 -1.3 0.3zM457 141.8l2.1 -1.7 0.9 1.8 -0.9 2z"/>
<path fill="#4fbbeb" d="M476.2 143l1.9 -1.8 2.7 0.5 0.3 2.3 3.6 0.2 -1.4 1.8 -1.3 1.1 -0.4 1.4 -0.8 2.3 -3 0 -1.7 -2 -1.9 -0.4 -3.6 -0.5 1.9 -2 1.4 -1.1 -0.8 -2.1z"/>
<path fill="#4fbbeb" d="M475.2 141.4l1 1 0.3 1.5 -0.8 1.3 -2.1 -1.5zM476 143.6l-2 -0.6 -0.2 -1.5 1.7 -1.7 1.2 3.4zM480.6 144.9l-0.2 2.8 -2.3 -0.4 -0.8 -1.4 2.1 -1.4zM474.8 142.3l2.6 0.6 -1.7 1.3zM480.3 144.2l1.7 2.3 -1.4 1.1 -1.1 -1.7zM477.8 146.2l-1 2.4 -1.7 -1.4 1 -1.9z"/>
<path fill="#4fbbeb" d="M552.5 128.8l4 2.6 2 2.5 2 1.1 3.9 1.1 0.8 3.4 -1.5 3.2 -2.9 1.6 -1.3 4.5 -4 1 -2.1 -5 -4.6 0.8 1.9 -4.6 -1.9 -2.4 -2 -4.2 2.6 -3.2z"/>
<path fill="#4fbbeb" d="M556.7 129.4l1.9 -0.9 0.3 2.6zM548 135.4l-2 -2 1.4 -2 1.8 1.9zM561.1 148.3l-0.8 -2 1.3 -1.3 1.5 1 0.4 1.3zM551.9 139.4l1.6 -0.9 0.4 1.9 0.2 1.4 -3.2 -0.3zM559.6 146.3l2.2 -0.4 1 1.2 -1.9 1.4 -1.1 -1.1zM553.7 136.7l-0.3 -1.6 1.5 -1.9 1.8 2.7 -1.8 0.9zM556.7 131.8l0.3 -2.2 1 2.8zM557 134.3l-0.2 -2.4 2.1 -0.6 0.9 1.1 -1.6 1.4zM560.3 131.3l-1.5 -0.2 1.1 -3.2 1.8 0.6zM556.2 136.5l-1 -1.7 0.1 -1.7 3.1 1.3zM548.6 133.8l1.9 -2.2 0.9 2.2 -2.3 1.2zM554.4 134.7l-1.5 -1 1.6 -0.7zM562.4 143.4l1.9 -1.8 1 2.1 -1.7 0.8zM559 132.3l-0.8 3.1 -0.8 -2.5zM557.5 127.8l1.5 2 -1.1 2.2 -1.8 -3.2zM558.1 132.5l2.3 -1.1 0.8 2.1 -1.4 0.8 -1.6 0.1z"/>
<path fill="#4fbbeb" d="M541 144.4l4.1 -0.9 2.8 -0.5 2.5 -0.2 3 -0.6 4.1 -0.1 0.6 2 1.5 1.5 -0.3 1.7 -4 0.5 0.4 2.9 -4 0.6 -2.7 -2.4 -3.8 0.4 -3.2 -1.1 1 -2z"/>
<path fill="#4fbbeb" d="M558.2 144.2l1.4 1 -0.1 3 -1.2 0.3 -1.9 -3.1zM558 143.5l1.4 2.4 -2.2 -1.7zM554.8 146.2l-2.3 0.6 -0.8 -2.6 1.4 -0.5 1.3 0.3zM548 141.6l2.5 0.4 -0.7 2.5 -1.9 0 -1.5 -1.1zM555.8 143.7l2.6 0.2 -1.7 3.1zM551.6 150.2l-1.5 1.3 -1.4 -2.1 1.1 -1.9 1.6 -0zM551.1 146.7l-2.2 -0.7 -0.1 -1.2 1.8 -1.1 1.2 1.4zM561.9 143.2l-0.9 2 -2 -0.4 1.1 -2.7z"/>
<path fill="#4fbbeb" d="M451.1 73.8l0.9 2.4 1.9 -1.3 0.3 4.1 -0.3 3.5 -0.1 3.2 -1.1 1.7 -0.7 3 -1.2 -1.9 -0.8 -1.2 -1.8 1.4 -0.7 -3.2 0.3 -3.6 0.2 -3.2 0.9 -2 0.9 -1.8z"/>
<path fill="#4fbbeb" d="M451.9 81.1l-0.1 1.9 -2.4 -0.7zM451.7 87.9l-0.8 2.4 -2.9 -0.9 0.5 -1.1zM452.1 89.1l-0.1 3 -2.5 -0.2 0.6 -1.7zM454.2 81.1l-1.9 2.4 -0.9 -0.8zM451.8 85.7l2.4 -2.3 0.8 2.6 -1.2 1.3zM449.9 89.6l-0.6 1.6 -1.4 -0.4 -0.3 -1 1 -1.2z"/>
<path fill="#4fbbeb" d="M452.2 110.9l0.3 3.3 2.3 0.1 -0.4 4.5 -0.2 4.1 -1.4 1.3 -0.7 3.4 -1.3 -0.5 -1.3 -0.2 -0.1 -4.6 -0.7 -1.9 -1.1 -3.2 1 -3 0.1 -4.5 1.3 -1.6 1.4 -0.9z"/>
<path fill="#4fbbeb" d="M450.9 108.6l2.5 0 -0.2 2.5 -2.1 -0.2zM450.7 123.7l-2 3.9 -0.7 -1.2 0.7 -2.5zM452.7 116.8l-0.1 2.4 -1.7 -0.6 0 -2.5zM452.7 120.2l-0.2 -1.6 2.7 1.1zM448 125.2l1.1 0.2 -0.6 3 -1.1 -0.1zM451.4 130.4l-2.8 -2.2 1.4 -1.1 1.5 0.7z"/>
<path fill="#4fbbeb" d="M562.8 63.5l-0.5 -3.5 -0.7 -0.7 -0.5 -2.6 -0.2 -3.5 -0.2 -4.4 1.1 -1 0.7 -0.3 0.6 -1.6 0.6 1.8 0.4 1.8 0.4 2.1 0.9 3.2 -0.2 4.3 -0.8 2.3 -0.8 0.8z"/>
<path fill="#4fbbeb" d="M566.4 64l-2.5 0.9 -1.3 -1.7zM565.3 60.6l-2.6 -1.3 1.2 -1.2 2.5 0.7zM564.9 58.1l-1.6 -1.6 1 -1.7 2.5 1.4zM562.2 46.4l0.8 1.8 -0.5 1.6 -2.2 -1.2z"/>
<path fill="#4fbbeb" d="M534.9 146.6l-0.4 1.1 -1.5 0.8 -0.8 1.3 -2.5 -0.2 -2.6 0.9 -1.3 -1.4 -2.5 -0.4 -0 -1.3 0.6 -1.1 0.2 -1.2 0.9 -1.6 3.2 0.5 1.8 0.9 3.8 -1.2 1.6 1.3z"/>
<path fill="#4fbbeb" d="M527.9 145.8l2 0.5 -0.9 2.2zM526 147.1l1.1 1.2 -1.1 1 -2.4 0.1zM523.2 146.6l2.5 -1.4 0.2 1.9 -2.3 0.9zM537 148.5l-2.1 0.3 1.3 -3.1z"/>
<path fill="#4fbbeb" d="M545.1 56l0.1 1.5 -2.4 0.7 -0.7 0.8 -0.7 1.7 -1.8 -0.8 -1.8 0.1 -0.9 -1.1 -0.9 -1 -0.4 -1.3 0.2 -1.4 1.9 -0.5 1.7 0.4 1.1 -0.4 2 -0.8 1.8 0.8z"/>
<path fill="#4fbbeb" d="M540 58.4l-1.3 -1.6 2.3 -1.5 1.5 0.9 -1.5 2.8zM537.4 58.9l-1.7 -1 -0 -1.2 2.1 -1.6 0.4 2zM536.6 57.4l-2.3 -1.8 2.7 -0.6z"/>
<path fill="#4fbbeb" d="M472 100.1l-0 0.8 -0.4 0.8 -0.8 0.3 -0.8 0.1 -0.6 -0.6 -0.6 -0.4 -0.9 -0.4 0.5 -0.9 -0.3 -0.9 0.6 -0.6 0.6 -0.9 0.9 1 0.8 -0.5 0.2 0.9 0.9 0.3z"/>
<path fill="#4fbbeb" d="M468.9 99.2l0.7 2.6 -1.8 0.8 -0.2 -3.1zM468.4 98.6l1 -1.3 2.7 -0.6 -0.3 2.5 -1.3 0.4zM469.9 99.9l-2.7 1.9 -0.8 -2.5 0.4 -0.8z"/>
<path fill="#4fbbeb" d="M497.7 147.5l1.1 -0.7 1.6 0.6 2 -0.5 1.6 0.5 -1.1 1.2 2.2 0.7 -0.4 1 -1.6 0.6 -1.5 0.6 -1.8 -0.6 -2.1 0.5 -0.7 -1 0.2 -0.9 -2.2 -0.8 2.3 -0.5z"/>
<path fill="#4fbbeb" d="M495.4 147.3l2.9 0.7 0.1 1 -1.6 0.7zM504.1 148.2l-2 1 0.5 -2.8 2.4 -0.4zM504.3 147.6l-1.3 1.7 -2.3 -0.2 1 -1.4z"/>
<path fill="#4fbbeb" d="M534.3 127.5l-1.5 -2.1 1.3 -1.7 2.9 1 1.9 -1.6 1 2.2 3 -0.4 -1.5 2.2 2.5 1.4 -1 1.6 -0.9 1.9 -2.7 -0.3 -1.9 -0.6 -1.4 -0.7 -1.5 -0.6 -1.4 -1.1z"/>
<path fill="#4fbbeb" d="M536.9 126.3l-1.7 1.5 -1.4 -0.1 0.9 -2.4zM540.9 130.3l-0.5 -2.4 2.2 -0 0.3 1.8zM537.1 127.1l-2.2 -0.5 -0.5 -2.6 2.3 -0.8zM536.9 125.6l-0.5 -2.2 1.8 -0.9 1.5 1.9zM542.6 126.6l-0.7 2.2 -2.9 -1.2z"/>
<path fill="#4fbbeb" d="M534.3 93.3l0.5 -1.8 1.1 0.7 1 -0.3 0.7 1.2 1.5 0.6 0.7 2.2 -0.2 2.5 -1.9 0.5 -0.4 2.5 -1.4 0.1 -1.3 -0.3 -0.4 -2.4 -1.5 -0.6 0.8 -2.2 -0.6 -2.1z"/>
<path fill="#4fbbeb" d="M536.4 97.2l1.1 2.3 -2.7 1.3 -0.8 -2.5zM534.5 92.5l1.5 1.3 -1.3 2 -2 -2.2zM535.1 91.7l-0.4 -1.4 3.4 -0.4 -1.4 2z"/>
<path fill="#4fbbeb" d="M450.3 95.3l0.8 -1.3 0.9 2.1 1 -1.8 0.6 1.9 -0.1 2.4 0.7 1.7 0.1 2.5 -1.4 -0 -0.5 0.9 -0.6 3 -1 -0.7 -0 -3.3 -1.1 -0.6 0.1 -2.3 -0 -2.3z"/>
<path fill="#4fbbeb" d="M452.5 99.2l2 -1.6 1.7 0.1 -0.6 2.8zM454.3 102.7l-1.6 0.2 -0.9 -1.9 2.6 -0.8 0.2 1.1zM450.4 99.9l-1.3 -0.9 1.2 -2.1 1.4 1 -0.3 2z"/>
<path fill="#dc2430" d="M542.8 89.5l3.3 -1.6 1.5 2.2 -2.9 1.5zM562.6 89.9l0.6 1.9 -3.2 0.3 -0 -2.6zM547.1 74.2l2.6 -1.1 1.3 -0.5 -0.2 3.3 -2.2 0.3zM553.7 93.3l1.9 -0.8 1.2 2.6 -2 1.6zM554.7 69.9l1.4 -2.8 1.8 1.1 -1.7 3.3zM553.2 91.5l4.6 1 -4.3 0.9zM548.7 79.3l-3.5 -0.4 -0.2 -1.2 1.4 -1.6 2.9 1.6zM563.6 84.5l-0.7 2.8 -1.6 -1.3zM560.6 82.8l4 -3.1 0.5 3.2zM559.3 79.7l-0.2 2.7 -2.6 -0.2 -0.4 -1.7zM549.4 70.8l4 -1.6 0.8 3.2 -3.5 1zM554.6 98.9l-1.9 -1.2 0.7 -2.6 3.2 2.1zM548.2 99.7l-3.6 0.1 -0.2 -2.3 3.1 -0.5zM545.7 93.9l-1.9 3.6 -0.4 -3.8zM562.1 82.7l0.2 2.5 -2.5 0.8zM556.2 99.9l-3.1 -0 0.6 -3.3 2.1 0.1zM561 84.4l2.7 -0.9 0.9 3.3 -2.3 1.3zM547.3 97.8l1.9 2.5 -1.1 1.1 -1.9 -0.1zM565.4 95.2l-0.7 3 -3 -0.2 -0 -3.3zM548.4 74.4l1.7 -2.3 1.6 1.5 -0.8 2zM561.2 89.2l4 0.1 0.6 1.1 -3.7 0.6zM553.9 83.3l-1.1 -2.9 3.1 -1.4zM544.8 76.6l3.4 -1.7 0.3 2.7 -3.5 0.6zM547.5 86l2.5 0.6 -1.4 3.6 -2.4 -2.9zM547.2 94.4l1.1 1.5 -1.4 2.7 -2.3 -1zM550.6 91.2l1.3 1.5 -0.7 2.5 -3.6 -0.9 1.4 -2.4zM561.7 78.5l-2.9 -1.7 -0.6 -2.5 1.8 -0.3 1.9 1.1zM556.3 71.8l-2.7 -1.6 1.4 -1.5zM546.3 77.9l1.7 -3.4 1.9 1.4 -1.7 2.4zM560.5 105l-2.4 0 -0.4 -1.7 1.5 -2 1.6 1.3zM552 97.3l0.9 -2.1 2.8 -0.8 -0.1 2.1 -1 1.1zM551.2 101.4l2.9 0.3 0.4 2.9zM549.5 106.6l-1.8 -2.1 1.8 -1.5 2.2 2.7zM543.4 88.7l-1.3 2.4 -1.5 -0.7 -0.3 -1.5 3 -1.5zM543.3 73.1l2.8 -0.2 -2.1 2.4zM559 74.6l-2.9 0.5 0.4 -2.6 3.6 -0.1zM547.5 92.8l2.8 -0.2 1.4 2.6 -1.3 1.2 -3.2 -2zM551.9 97.6l2.2 -1.5 0.8 2.6 -0.7 1.7zM549.6 91l-2.5 -0.6 1.7 -3.3 2.9 1.2zM552 87.5l-1.6 1.3 -3.3 -2.9 2.1 -0.9zM554.2 98l-2.4 0.2 0.1 -3.5 4 2.2zM557.3 98.9l-1.7 -1.1 3.9 -2.5 1.1 1.1zM559.7 78.1l3.2 -1.2 -0.1 4.9zM544.3 93.4l-0.7 4.6 -1.9 -2.5zM543.6 81.4l-2.3 -1.2 2.5 -3 1.1 2.7zM546.2 96.3l-1.1 -3.2 3.8 3zM548.3 80.3l-1.1 -3.4 1.7 -1.4 2 3.9zM547.2 86.7l-0.5 3.5 -1.3 0.2 -1 -2.9zM558.1 83.7l-1.2 -2.1 2.9 -2 1.8 2.5zM552.4 86.7l-1 -1.7 2.1 -1.9 1.5 0.7 0 3zM555.4 76.8l3.8 -2.8 0.6 2.3 -1.5 1.7zM544.9 83.6l1.5 1 -3.7 2.2zM558.4 88.6l1.3 -2.2 2.7 4.2zM556.6 101l-2.9 -0.7 0.8 -3zM552.8 80.1l1.9 -2.2 2.4 2.5 -3.4 2.2zM552.8 68.4l2.8 -0.8 0.9 2.1 -0.7 0.9zM559.5 88.8l4.7 0.4 -2.9 1.6zM544.8 95.5l-0.5 -3.9 1.6 1.2zM559.4 98.3l-1.5 2.4 -1.7 -1.7 -0.4 -2 3.2 0.2zM554.4 74.8l2.4 -1.8 0.8 3.1 -1.2 0.2zM559.3 103l-3.1 0.9 -0.4 -1.6 -0.4 -2.6 2.7 -0.6zM564.1 93.8l-3.8 1.9 0.6 -3.9zM559.6 74.6l2.1 -3 1.6 1 -0.4 2.8zM560.7 86.2l0.3 -4.1 3.3 2.5zM559.4 80.6l0.8 5.4 -3.1 -4zM560.4 84.1l-3.5 0.5 1.6 -4.1zM546.1 102.3l-1.6 -0.3 -0.1 -3 2.7 -0.8 0.9 2.1zM555 92.3l3.9 0.5 -0.8 2.2 -3.4 -1.5zM547.4 75.2l-3.2 1.7 -1.9 -1.5 2.1 -2.4zM557.2 100.6l2.2 0.6 -0.7 3.1 -3 -0.8zM554.9 80.7l1.6 2.7 -2.8 0.3 -1 -0.9zM560.9 84.9l-2.1 -0.7 0 -2.6 3 0.1 0.1 2.8zM561.7 99.8l-1 2.7 -2.7 1.1 -0.5 -3.2 0.5 -1.3zM561.3 89.8l-0.8 -1.2 1.2 -3 2.4 2.4 -0.8 1.7zM552.6 100.4l-2.9 -2 -0.2 -2 3.8 0.3zM555.8 88.6l-0.2 2 -2.9 1.3 -0.9 -3.1zM544 96.5l-3.7 1.3 1 -3.3zM551 84.4l-2 1.9 -2.3 -3.2 3.7 -1.6zM559 89l0.2 -1.1 3.7 -1.4 -0 3.3zM553.5 84.9l3.4 1.2 -0.5 1.5 -3.2 0.1zM548 92.8l3.1 -0.1 0.1 1.2 -2.3 1.1zM552.7 96.8l-2.2 -2.6 1.9 -0.7 1.6 2.2zM562.3 80.5l1.9 -2.4 0.5 3zM552.4 81l1.7 -0.5 0.2 3.3zM545 95.7l-0.4 1.4 -3.9 -0.4 0.5 -2.1 0.6 -0.5zM554.1 70.9l0.2 3.2 -2.4 -0.6 -0 -2.9zM553.8 81.4l1 -1 3 -0.8 0.9 1.9 -2.1 1.9zM550.4 101.7l3.3 -1.9 1 1.9 -3 2zM552.8 93.9l-1.3 1.7 -1.3 -0.9 -0.7 -3 2.3 -0.2zM553.3 86.5l-3.6 -1.4 1.4 -1.5 2.3 0.5zM547.5 89.3l-1.1 -2.9 1.5 -0.6 2.7 2.4zM558.1 85.8l-3.8 -1.2 2 -2.3zM542.8 92.5l-2.5 -1.2 1.1 -1.8 2.7 -0.9zM553.9 97.1l3.1 -1 1.2 3.3 -1.9 0.8zM546 72.4l1.9 -2.9 2 1.2 -1.1 2.6zM556.8 88.3l-1.8 -1.9 3.6 -0.2zM551 99l-1 2.4 -2.4 -3.3 0.8 -1.1zM552.3 93.3l3.4 2.1 -3.6 1.8zM553 97.8l0.6 1.8 -2.6 2.3zM546.3 70.7l0.4 4.2 -2.6 -0.8 -1 -1.8zM545.3 88.7l0.5 -3.2 3.1 0.9 -1.5 3.3zM543.9 91l2.8 -3.2 1.2 2.2zM562.7 74.3l-2.2 3.4 -1.5 -2.3 2.2 -2.1zM543.7 81.5l-2.4 2.2 0.1 -3.5zM551.1 70.4l2.1 -2.3 2.3 -0.5 -1.1 3.3zM549.2 96.8l-0.6 -2.1 2.2 -1.3 0.8 0.8 -1 2.5zM566.2 85.9l-2.2 -2.1 2.7 -0.7zM554.2 79.9l-3 1.9 -0.1 -3.1zM549.1 97.1l2.6 -0.2 0 4zM548.3 91.7l2.8 -0.7 -0.6 2.9zM557.9 99.3l-1.3 -4 2.2 0.3 0.8 2.8zM549.5 89.6l-1.6 -3.9 3.4 -0.8 0 4.4zM565.2 88.9l-0.4 3.1 -2.1 0.1 -0.9 -3.5zM547.2 89.3l-3.5 3.4 -0.9 -1.8zM544.7 95.5l-0.7 -2.4 0.9 -1.9 2.9 1.4 -0.4 1.7zM555.2 102.9l-0.4 -4 2.6 -0.2zM562.6 92.5l3.5 2.9 -3.9 0.5zM544.2 80.3l-2.8 -0.8 0.6 -1.7 2.2 -0.5 1.7 0.7zM547.7 96.4l-2 -1.2 0.8 -1.3 2.7 -0.9 1.3 1.5zM548.3 84.2l2.9 3.2 -4.7 -1.1z"/>
<path fill="#dc2430" d="M558.5 98l-2.7 2.2 -2.3 -5.6 -2.9 1.8 -2.2 -1.9 -1.4 -3.1 1.3 -4.2 -4.3 -2.2 -0.7 -4.2 0.8 -4.2 5.6 1 1.5 -1.5 0.8 -4.5 2.5 0.6 2.2 0.7 1.5 2.6 3.5 -1.7 2.9 1.6 0.8 3.9 -2.3 4 3.4 3.8 -2.5 2.9 0.3 5.1 -4.2 -0.8z"/>
<path fill="#dc2430" d="M553 91.5l2 2 -0.8 3.1 2.4 1.7 0.1 2.5 -2.9 1.3 1.7 4.6 -3.4 1 -3.1 1.6 -2.8 -3.5 -1.9 -1.4 -1.4 -1.5 -4.7 -0.2 3.3 -3.2 -1.2 -2.1 0.6 -2.2 2.8 -0.6 0.6 -3.3 2.7 -2.3 3.3 0.9z"/>
<path fill="#dc2430" d="M556.3 93.6l2 -1.5 1.8 1.9 3 -0.2 1.8 2.9 0.8 3.8 -1.8 3.3 -1.5 2.8 -2.6 0.5 -2.2 0.4 -2.4 -0 -3.1 -0.6 -1 -3.7 1.8 -3.5 0.5 -2.5 0.7 -2.7z"/>
<path fill="#dc2430" d="M554.2 98.3l-3.2 1.6 -0.6 -1.5 1.3 -3.1 1.4 1.3zM552.7 102.5l-1.2 -3.1 2.5 -0.2 1 2.7zM554.2 103.8l-2.6 1.7 -1.8 -0 1.9 -3.6zM558.6 93.2l-2.4 -0.5 -1.3 -2.2 3.5 -0.5zM555.2 100l3.4 1.4 -1.5 1 -2.7 -1.2zM561.9 106.5l-4.4 -0.4 2.8 -1.6zM558.2 107.3l-3.5 -2 3.3 -2.6 1 2.6zM560.4 99.2l2.1 0.5 0.6 2.1 -2.6 1 -0.7 -2.6zM561.8 108.3l-2.4 1.4 -2.1 -3.1 2.3 -1.7 1.6 1.5zM558.6 97.3l-2.8 -1.2 3.2 -1zM555.9 96.3l-3.1 -3.6 4.8 0.6zM554.5 98.4l-2.4 -1 1.6 -1.9 2.2 -0.3 -0 2.2zM556.5 101.2l1.8 -2.3 2.2 2.6 -0.2 1.4 -3 0.4zM565 97l-4.9 0.2 4.2 -2.2zM565.6 103.1l-0.4 1.2 -3.1 0.1 -0.5 -2.5 3.3 -0.6zM560 103.3l2.5 1.9 -0.7 1.7 -3.4 -1.9zM555.7 96.7l-1.1 -2.9 1.4 -0.3 3 1.9 -1.7 1.2zM555.7 92.3l2.4 -1.1 -1.7 2.4zM560 96.7l-3.5 0.6 0.5 -2.6 1.6 -1.3 2 0.9zM560.6 93.6l2.3 0.3 1.3 2.2 -2.7 0.7zM552.8 97.2l0.8 -3.2 1.5 0.3 0.2 3.2zM559.3 96.7l-1.8 3.2 -2 -2.6 2 -2.3zM557.4 106.3l-2.3 0.9 -2.2 -2.9 2.4 -1.4 1.6 0.8zM554.3 106.8l-3 -1.4 0.6 -2.3 1.6 -1.3 2.6 3.2zM560.9 102.3l1.7 -0.8 1.5 2.6 -1.8 1.2 -1.5 -0.5zM554.7 100.8l-2.7 -0.4 1 -3.4zM556.3 96.9l-2.2 2 -1.2 -2.8zM557.3 99.2l-2 -1.9 2.2 -1.7 2.5 1zM559.3 105.6l-0.7 -1.7 4.2 -0.7 -0.4 2.3zM554.9 109.2l-2 -0.2 0.4 -2.7 2 -0.5 1.3 2z"/>
<path fill="#dc2430" d="M461.8 139.8l1.5 -2.8 0.3 2.9zM463.2 136.3l-0.8 2.6 -1.8 -2.7zM461.6 138.7l2.2 1.3 -2.6 2zM465.4 142.1l2 -0.4 -0.4 3.3 -1.7 -0.6zM462.5 136.2l1.9 0.3 -1 2.5 -1.2 -2zM469.6 136.7l-0.4 1.4 -2.2 -0.2 0.2 -2.1zM466.8 137.2l3.5 -0.2 -0.1 1.6 -3.6 0.4zM462.2 138.8l-1.8 -2.9 3.1 1.6zM463.5 136.4l2.5 0.5 0.4 1.9 -1.5 0.5 -1.2 -1.2zM460.8 140.5l-0.8 -2.6 2.6 -0zM470.7 137.4l-3.4 -0.3 3.4 -1.2zM470.8 142.3l-1.8 0.6 -0.8 -2.2 1.2 -1.1 2.1 1.2zM470.7 136.9l-3 0.7 1.1 -3.4zM467.8 135.8l2.6 -0.4 0.5 1.4 -1.9 0.7zM462.5 136.5l1.9 1 -2 1.2zM470 141.8l-3 0.7 0.4 -3.2zM466.6 136.9l-1.2 2.3 -1.6 -0.8zM470.2 141.6l-2 -0.3 0.7 -3.7 1.7 1.8zM465.2 139.2l0.8 -2.1 2.1 0.3 -0.6 1.9zM468.5 140.3l-0.6 1.9 -1 0.8 -1.3 -2.1 0.4 -1zM461.8 141l-2.6 -1 1.1 -1.7zM468.9 138l-0.9 -2.3 2.8 1z"/>
<path fill="#dc2430" d="M559.5 137.8l-2.4 -0.1 2.8 -2.8zM559.6 132.8l-0.4 2.3 -0.9 -2.5zM559.5 133.8l-2 2.6 -1.4 -1.1 1.9 -2.2zM557 136.7l-1.6 1 -1.1 -1.6 2.1 -1.3zM551.8 137.9l-0.6 -2.2 2.8 -0.9 0.4 3zM556.8 136.2l1.9 -0.6 1.6 1 -1.9 2.5zM553.1 138.7l0.4 1.6 -2.6 0 -0.5 -1.9 1 -0.5zM554 133.8l2.9 -1.3 -0.2 3.1zM552.8 140.8l0.7 -2.3 2.2 0.7 -0.6 1.7zM551.5 134.5l1.5 3 -2.7 -1.2zM554.4 141.2l0.9 -2.3 1.9 0.7 -0.7 2.1zM558.4 138.5l-2 -1.2 2.5 -1.8zM559.8 133.6l2 0.7 -1.2 2.6 -1.9 -1 -0.4 -1.6zM557.7 135.4l2 3 -2.8 -1.1zM552.6 133.9l0.8 1.2 -1.6 2.9 -1.4 -1 0.3 -2.8zM552.5 136l0.2 -2.2 2.3 -0.1 -0.7 2.8zM558.2 135.3l-1.8 1.5 -1 -2.9 2.6 -0zM559.2 136.2l-1.4 0.1 -1.4 -0.9 0.2 -1.8 2.2 -0.2zM551.9 138.8l-0.9 -1.3 0.4 -2.5 2.2 1.9zM558 142.1l-2.9 0.1 -0.9 -1 3.3 -1.3zM554.1 137.6l1 -2.8 1.8 0.6 1.1 1.3 -2.1 1.5zM555.5 142.6l-1.5 -1.9 1.9 -1.2 1.5 1.5z"/>
<path fill="#dc2430" d="M524 92.1l0.3 0.7 -0.7 1.2 -1.3 -1.3zM520.8 97.9l1.1 -1.4 0.8 0 0 1.6 -0.6 0.4zM522 95.1l0.5 -2.4 0.5 0.8zM522.6 94.4l-2.2 -0.8 0.4 -0.8 2.2 0.4zM523.6 96.3l-0.3 -1.3 1.2 -0.7 1 0.6 -0.3 1.7zM524 93.3l-2 -1 0.8 -1.1z"/>
<path fill="#000" d="M552.9 88.2l-1.6 -0.8 0.9 -0.1zM530.5 44.3l1.2 -1 -0.7 1.3zM560.9 46.5l-0.5 2 -0.9 -1zM472.1 83.2l-0.3 1 -0.9 -1.1 0.6 -1.3zM481.7 137l-1.7 -0.2 0.4 -1.3 0.7 0.7zM458.2 97.5l0.3 1.7 -1 0.2zM470.3 48.8l1.5 -0 -0.4 1 -1.6 -0.1 -0.5 -0.3zM498.5 45.2l-0.4 -0.6 -0.2 -1.6 1.6 1.3zM492.1 91.3l1.7 0.3 -1.6 0.8zM523.7 145l0.8 -0.5 0.6 1.1 -0.4 0.5 -0.8 1.1zM473 64.9l-0.3 1.2 -1.4 -2.3 1 -0.4zM455.3 52.2l-2 0.8 0 -0.9zM540.3 77.3l-1 0.2 -0.5 -1.9 0.6 0.1zM482.8 82.2l0.7 0.2 -0.6 2.4 -1.2 -1.3zM478.5 72.4l0.5 0.8 -1.5 0.4 -0 -1.3zM476.5 100l-0.7 0.7 -0.3 -0.9 0.3 -1.2 0.7 0.5zM503.4 70.7l1.8 -0.1 -0.1 1.7 -1.7 -0.4zM460 143.2l1.4 -0.9 1.6 0.8 -0.4 1.2 -1.8 0.2zM542.7 113.2l0.4 1.8 -0.6 0.6 -0.5 -1.4zM526.2 106.1l-0.8 2.5 -0.7 -0.3zM468.5 81.6l0.9 -1.3 0.7 0.6 -0.1 1.2zM474.2 129.8l1.1 -0.4 0.3 2.2zM548.8 124.9l-0.7 -1.4 1.7 -0.1 -0.1 1zM468.7 118.8l0.2 0.9 -1.1 0.1 -0.8 -0.7zM474 136.3l-0.7 -1.9 0.7 -1.1 0.9 1.5 -0.1 0.9zM448.4 149.5l0.1 -0.5 1.3 -0.2 -0.4 0.8zM490.6 134l0.3 -0.7 1.3 -1.1 -0.1 1.6zM488.1 136.4l1.2 -0.8 0.9 0.4 -0.8 1.3zM448.1 96.7l0.9 -1.1 1.1 0.5 -0.4 1.1zM502.5 148.3l0.9 -0.4 0.4 1.3 -0.8 0.5zM509.8 38.8l0.5 1.3 -1.8 -0.7 0 -0.9zM480.6 44.6l-0.8 -1 1.7 0.5zM450.2 111.6l1.5 0.9 -0.1 1.1 -0.6 -0.3zM455.2 124.9l-1.1 1.4 -0.5 -1 0.4 -1.1zM462.7 98.7l0.9 -0.2 -1.4 2.2 -0 -1.2zM488.4 69.6l-1.2 -0.4 0.6 -1.5 1.4 0.5 -0 0.7zM547.2 149.7l0.6 2.2 -0.9 -0.1 -0.7 -1zM550.7 135.7l0.9 -1.6 1 -0.4 -0.8 2.5zM482.2 134.4l1.5 -0 -0.8 0.9 -1.1 -0zM533.8 111.5l0.9 -1.2 1 -0.1 -0.7 1.2zM546.6 94.9l1.4 0 -0.3 1 -0.5 0.2zM494 111.2l-2 -0.1 -0 -1.1 2 0.1zM537.6 115.4l0.2 -1.6 1.4 0.7 -0.1 1.3zM504.8 135.3l-0.5 -1.1 1.2 0.5 0.9 1.4 -0.6 0.3zM507.2 138.9l-1.3 -0.1 -0.4 -1.3 2.2 -0.2zM513.3 86.5l0.3 1.5 -1.7 -1.5zM524.1 53.4l1.4 -0.2 1 1.5 -1.1 1zM495.9 139.6l-1.5 0.1 0.4 -1 1.4 -1.4 -0.3 1.4zM561.9 93.6l1.5 0.9 -0.4 1 -1.4 -1.2zM520 130.4l-1.5 0.8 0.2 -1.4zM477.8 58.5l1.5 0.2 -1.5 1.4 -1.1 -0.3zM455.9 39.5l-0.5 1.6 -2.2 -0.9 1.8 -1zM522.7 39.7l-0.9 -1.3 2 -0.8 0.3 0.9zM539.3 44l-0.7 1.2 -1.6 -2.1 1.1 0.1zM533.9 140.4l2.1 0.1 -0.1 1.1 -1.2 -0.3zM534.9 112.3l1.2 2.2 -1.3 0.4 -0.5 -1.9zM536.3 38.9l0.7 0.2 -0.4 1.5 -0.6 -0.6zM476.2 70.6l0.7 -0.9 1.2 0.8 -1.2 1 -0.6 -0.3zM469.2 83.3l-1.1 -1.4 1.5 -0.4 1.3 0.8 -0.6 0.8zM499 56.9l-1.5 0.1 -0.3 -1.1 1.7 -0.1zM533.5 65.9l-1.4 -1 0.8 -0.7 1.6 0.4zM453.6 113.5l0.2 -1.1 0.8 -0.9 0.4 1 -0.7 1.5zM526.5 135.3l0.5 2.1 -2.1 -1 0.1 -1.2zM469.4 114.9l-0.1 -0.9 2.2 0.8 -1.3 1.2zM553.5 126.8l1 -1.3 0.3 0.9zM499.1 40.9l-0.7 1.1 -1.1 -0.3 -0.1 -1.1zM471.1 103.1l0.6 0.2 -1.1 1.4 -0.9 -0.5zM524.5 136.8l0 -1 0.6 -0.5 0.2 1.5zM455.3 137.4l0.2 2 -1.3 -0.7zM503 90.4l-1.2 -0.1 0.8 -1.9 0.5 0.3zM522.6 119.7l0.1 -1.7 2.1 -0.2 0.1 0.9zM450.1 40.6l0.8 1.3 -0.5 0.6 -1.5 -0.5 -0.6 -1.4zM524.4 72.5l0.3 -1.6 0.9 -0.1 0.1 1.6zM485.5 58.6l0.9 -0.6 1.3 -0.2 -0.8 1zM481.2 98.9l-0.7 0.9 -0.9 1 -0.7 -1.2 1.4 -0.9zM467 93.7l1.4 -0.5 0.5 1.8 -1 0.7 -0.6 -1zM546.7 125.6l-0.1 1 -0.8 -1zM496.8 70.8l-1.4 -0.2 -0.1 -0.9 0.5 -0.6 0.8 -0.3zM454 137.8l-0.3 -1.5 1.1 0.4 0.1 1.4 -0.2 0.2zM468.2 35.1l0.2 1.3 -1.5 -0.8zM459.6 142.8l-0.9 0.9 0.3 -1.8zM533.6 119.9l1.2 0.9 -1.1 0.9 -0.9 0.1 -0.6 -1.2zM487.4 144.9l0.3 1.3 -1.3 0.2 -0.9 -0.5 1.3 -1zM495.1 104.7l0.2 -0.7 2.1 1.2 -0.2 0.6zM563.5 60.9l-1.2 0.6 0.3 -2.5zM493.5 107.5l-1.8 -0.7 -0.4 -1.2 1.5 -0.1zM551.1 75.8l-0.6 1.3 -0.6 -1.6zM547.9 47.8l0.7 1.6 -1.9 -0.6zM484.9 126.2l-1.6 -1.8 1.1 -1 1.4 2.2zM513.4 84l-1.5 0.8 -0.9 -1 0.6 -0.2zM533.4 78.2l0.4 0.9 -1.7 -0.5 -0 -1.9zM541.9 137.4l-1.3 0.1 0.5 -1 1.2 0.1zM532.7 74.3l-1.2 0.7 0 -1.7 0.9 0.2zM509.4 115l1.1 -0.3 -0.4 2zM491.8 87.7l-0.5 -0.6 1 -0.8 1 1.3zM510.3 107.5l-1.3 0.1 1.1 -1.7 1.1 -0.2zM511.9 91.5l-1.1 0 -0.1 -1.3 1.5 0.5zM487.6 127.5l0.2 1 -1.6 -0.4 -0.4 -2 0.9 0.7zM564.6 106.7l-1.7 0.6 -0.6 -0.7 1 -0.7 0.8 0.4zM457.6 49.4l-0.8 -0.7 -0.7 -1.9 1.4 0.1zM476.6 66l1.4 -0.4 0.1 1.6 -1.4 0.7 -1.2 -0.5zM472.2 144.7l-1.6 0.2 0.6 -1 1.3 -0.6zM494.6 62.1l1.4 0.3 -2.2 0.9zM449.5 131.1l-1.2 -0.4 1.9 -0.4 0.6 0.4zM554.5 54l-1.4 -1.3 -0.2 -1.3zM533.5 88.4l1.5 -1.7 0.1 1.5zM459 146l0.3 0.9 -0.3 1.3 -1.7 0.3zM506.8 108.1l1 -0.8 -0 2.2 -0.6 -0.1zM554.3 113.6l-1.4 0.3 0.7 -1zM493.1 66.1l2.1 -0 -0.9 1.4zM556 77.2l-0.6 -0.8 -0.6 -1.6 0.5 -0.6 1.2 1.5zM549.9 95.7l-1.1 0.6 -1.2 0.1 0.8 -1.2 0.6 -0.7zM550.9 133.8l1.3 0 0.7 1 -1.4 0.4 -0.4 0.1zM456.3 90.7l-1.1 -0.4 1.5 -0.9 0.7 0.5 0.3 1.1zM474.8 70.7l-1.2 0 -0.3 -1.5 2.1 0.4 0.1 0.4zM564.2 39.7l0.3 1.5 -1.2 -0.5zM524.3 67.9l-0.7 -0.2 1.2 -1.4 0.8 0.6zM519.8 135l-2.3 1.3 -0.3 -1.2 1.8 -0.5zM517.5 58l1.5 0.2 0.3 0.7 -1 0.7zM547.6 86.7l-0.8 0.2 -0.4 -0.7 0.9 -0.8 0.8 -0.7zM509.1 90.5l-1.4 -2 1.2 -0.2 0.8 0.9zM557.8 134.3l-0.7 0 0.4 -2 0.6 0.5zM505.9 116.9l3.1 -0.2 -1.2 1zM549.9 94l0.8 -0.2 0.2 1.3 -0.4 0.1 -1.2 -0.7zM535.6 71.3l-1 -0.7 0.3 -0.8 1.5 0.5 -0.1 0.7zM526.9 71.2l-0.6 0.1 -0.4 -0.3 -0.2 -1.6 0.5 0.7zM543.8 69.3l1.6 -0.8 -0.3 1zM480.5 130.9l-0.8 1.3 -0.6 0.9 -0.2 -1 0.3 -1.5zM521.2 90.3l0.2 -0.3 0.9 0.1 0.5 1.7 -1.1 -0.1zM538.5 106.3l-1.2 0.5 -0 -1.3 1.7 -0.1zM493.8 43l1.2 0.8 -1.8 0.8 -0.2 -0.6zM492.9 37.4l1.7 0.8 0 1.1 -2.2 -0.5zM545.5 140.1l-0.3 -1.6 2.1 1.2 -0.7 1.2zM526.8 96.7l0.8 -0.8 0.7 2.1zM538.3 140.1l-1.5 0.8 0.2 -1.8 0.9 0.2zM463 139.7l1.1 0.8 -1.6 0.1 -0.4 -0.4zM467.3 43.3l-1.6 0.8 -0.6 -0.8 0.7 -0.8 1.2 -0.4zM551.2 106.9l-0.4 0.7 -0.9 0.5 -0.7 -1.3zM562.6 60.6l1.8 -0.4 1 0.1 -0.3 1 -0.8 0.2zM546.1 63.2l-0.9 0.9 -1.5 -1 0.8 -1zM497.5 131.4l0.4 -1.8 0.9 0.7 0.2 1zM558.1 146.5l0.9 0.1 0.8 0.8 -0.3 1.3 -1.7 -0.6zM466.2 57l1.3 -0.8 0.2 1.5zM491.6 72.4l1.4 1.2 -1.3 0.7 -1.3 -2.1zM460.5 50.7l-1.4 -1.9 1.1 -0.3 1 0.6 0 1.5zM515.2 61.9l-0.7 -2.3 1.1 1.4zM469.5 71.9l-0.7 -1.3 1.5 0.2 0.9 0.4zM482.7 124.9l1.5 -0.6 0.5 0.8 -2.2 0.4zM559.3 40.1l0.9 1.3 -2.2 -1.4zM529.4 143.9l0.1 -1.8 0.5 2.6zM551.6 106.3l0.2 -0.8 1.1 0.2 0.3 0.7zM536.8 38.7l-1.1 1 -1 -1.1 -0.5 -0.7 1.3 -0.7zM473.7 102.4l-0.8 0.2 0 -1 1.8 0.5zM516.1 102.2l-1 0.9 1.8 -2.5zM485.9 138.7l0.7 -1.4 1.7 0.2 -1 1.5zM513.5 49.5l1.3 0.1 0.1 1.3 -1.5 -0.2zM492.6 110.2l2.3 0.2 -1.4 1.5zM492.5 95.7l0.3 0.6 -1.4 0.6 -0.6 -0.9zM477.8 98.9l-0.2 -0.9 1.2 0.1zM458.8 76.3l0.5 1.1 -1.6 0.3zM502 75.9l-0.9 0.1 0.1 -0.8 1.1 -0.1zM465.8 133.4l0.1 1.6 -1 -0.3zM561.2 38.3l-1 -1 0.6 -0.8 0.4 0.1zM467.1 74.9l0.4 -0.7 0.9 -0.1 0.1 1.5 -0.9 0.7zM472.5 122l-1.1 0.1 0.5 -2 1.3 -0.6zM542.8 89.2l2.3 1.5 -1.2 0.4 -0.9 -0.5zM563.2 45.3l0.9 1.4 -0.8 1.2 -0.5 -1.2zM552.7 142.6l-0.7 -0.8 2.4 0.8zM562.8 78.1l1.3 0.8 -0.6 1.7 -1.3 -1.1zM528.3 117.8l-0.3 -1.2 0.5 -0.6 1.1 0.3 -0 1zM500.8 84.2l-2 -0.3 0.3 -0.7 1.4 -0.3zM536.5 88.6l0.4 -0.6 1.7 0.5 -1.1 0.9zM494 146.7l-0.7 0.1 -0.4 -1 1.1 0zM557.3 129.1l0.3 1.2 -0.3 0.6 -1.7 -1.5 0.9 -0.6zM539.1 128.9l-1 -1.5 2 1zM483.2 62.5l-0.6 0.7 -1.3 -0.5 0.3 -0.6 0.6 -0.7zM484.9 147.1l-1 -0.3 0.5 -0.7 1 0.2zM523 122.1l1 -1.4 1 1.7 -1.3 0.6zM484.5 84.9l-0.7 -0.9 0 -1.4 1.2 -0.6 0.3 1.9zM500 38l-0.3 -0.5 0.5 -1.2 1.6 2.3zM479.8 135.3l1.4 0.4 -1.3 1.6 -0.6 -0.6zM454.8 41.4l-1 0.7 -1.3 0.7 0.1 -1.2 1.1 -0.4zM481.8 41.8l0.7 -0.9 1.4 -0.2 0.5 0.8 -1.9 1.5zM526.1 43.2l1.8 -1 -0.4 1.8 -1.4 0.6zM482.3 42.8l1.1 0.6 -0.6 0.7zM533.6 140.3l0.5 -1.2 0.7 -0 0.1 1.5zM492.3 81.3l0.9 1.6 -0.9 0.8 -0.7 -0.9zM496.3 119.5l0.5 0.3 -1.4 1.7 -0.3 -0.5zM539.3 63.5l-0.6 1.5 -1.2 -0.1 0.8 -1.2zM515.7 116.3l-0.4 -0.2 0.9 -1.1 1.9 0.9 -1.4 0.4zM485.2 97.2l-0.7 -0.9 1.8 -0.5 0.5 1.2zM546.9 136.3l-0.9 -0.2 0.9 -2 0.4 1.2zM490.4 140.9l1 -0.7 0.7 1.1 0 1.6 -1.3 -1.2zM522.6 112.7l-1.7 -1.2 1 0.2zM512.3 84.1l-1.7 1.3 -0.2 -1.5 1.7 -1.3zM450.2 124.8l-0.8 -1.6 0.9 0.3zM547.4 127l-0.7 -0.6 -0.3 -0.8 1.4 0.5 0.8 1.3zM487.9 117.6l0 0.7 -2.3 0.2 0.2 -1.7zM507.4 92.4l1.5 1.1 -0.7 0.4 -0.5 -0.1zM540.6 95.7l-1.3 1.8 -0.6 -0.9 1.4 -1.7zM487.7 105.2l2.2 0 -0.9 1zM523.7 87.3l0.4 -1.1 0.7 1.5 -0.4 0.6zM541.5 40.3l1 0.6 -0.4 1 -0.6 -0.1zM461.9 103.1l1 1.1 -0.1 1.4 -1.8 -1.6zM537.5 74.4l-0.3 -1.1 0.1 -1.1 1.4 0.4zM505.9 114.7l-1 -0.8 1.1 -0.7 1.1 1.9zM503.6 112.1l-0.7 0.7 -0.6 -0.6 0.1 -1.1 1.1 0.3zM540.7 77.3l0.6 0.5 -0.4 1.5 -0.7 -0.5zM495.4 126.9l1.2 0.6 -1.4 0.9 -1 -0.4zM526.3 141.6l0 2.5 -0.8 -0.5zM549.8 138l-0.1 1.3 -1.8 0.1zM509.2 132l1.6 0.8 -1.6 1.3 -0.4 -0.7zM470.8 122l-1.7 -0.7 0.9 -0.5 2 1.5zM473.6 74.9l-1.3 0.1 1.3 -1.2 1 -0.1 -0.3 0.7zM499.2 81.7l1.3 -0.9 1 0.7 -0.8 0.5zM485.1 112.1l1.2 1.2 -1.1 0.7zM550.4 120.7l0.4 -1.4 1.3 -0.2 -0.4 1.7zM486.1 129.7l-0.9 1.3 -1.3 0 -0 -0.9 0.7 -0.6zM540.9 120.7l-1 -1.1 1.8 -0.1 1 1.4zM503.3 150.4l-1.5 -0.6 1.4 -0.4 0.9 0.2zM538.7 69.3l1.3 1.5 0.2 1.2 -1.5 -0.2 -0.5 -1.6zM507.6 47.8l-1 -1.2 1.2 -1.5zM472.4 52.4l0.6 -1.5 0.6 -0.2 0.8 0.5 -0.5 1.1zM456.2 94.1l-0.3 -2 0.8 0.5zM464.1 101.8l-0.5 1.7 -0.8 -0.4 -1.2 0.3 1 -1.4zM530 36.9l0.3 0.5 -1 0.7 -0.7 -0.9zM507.2 132.3l-0.8 -0.1 -1 -1 1.1 -0.3 1.5 0.4zM496.5 66.1l1.5 -0.4 -0.8 2zM496.4 92.4l-0 -1.6 0.7 0.8zM503 150.2l-2.5 -0.7 0.8 -0.9zM553.1 40.8l0.5 -0.9 0.6 1.4zM466.3 124.4l-0.3 0.8 -1.2 -0.1 -0.1 -0.4zM512.5 64.8l-0.9 -1.5 -0 -0.7 1.1 0.3 0.6 0.8zM563.8 101.6l0 1.9 -1.7 -0.1 0.3 -1.3zM531.7 141.3l-0.6 1.1 -1.9 0 0.6 -1.4zM470.9 137.6l-0 1.6 -1 -1zM462.9 37.4l-0.6 1.3 -1 -0.5zM503.6 51.3l-1.7 -0.1 0.1 -1.8 1.4 0.3zM512.7 64.5l-0.2 -1.5 0.8 0.2 0.2 2zM536 129.7l0.2 -0.7 1.3 0.8 -1 0.8zM517.6 92.5l-0 0.4 -1.8 0.4 0.7 -1.2zM495.7 63.5l-0.1 -1.1 2.2 -0.2 -0.1 1 -1.4 0.5zM516.9 150.7l-1.3 1.5 0.2 -1.3 1 -0.7zM524.3 78.6l0.6 -1.8 0.9 1.2 -0 0.8zM537.1 88.5l1.6 0.9 -1.6 0.6zM478.6 115.6l-1.2 0.6 0.8 -1.9 0.9 0.3zM468.1 76l-0.3 1.3 -1.1 0.5 -0.5 -1.4 0.9 -0.3zM559.8 72.1l0.1 -0.9 1.8 1.5 -0.3 0.4zM463 45l0.3 -1.5 1.9 1.9 -1.2 1.1zM456.4 39.4l-1.8 0.2 0.3 -1 1.6 -0.8zM486.1 80.7l0 -1.6 1.6 1.8zM524 89.1l0.6 -1.3 1.3 1.4 -0.7 0.8zM532.3 137.9l-0.6 2.8 -0.6 -1.8zM470.3 118.6l1.3 -0.6 -0.6 1.7 -1.3 -0zM516.9 76.8l0.8 -0.7 0.6 -0.4 0.4 1.7zM531.6 99.7l0.9 -0.9 0.3 2.2zM487.3 69.6l-0.6 -0.3 -0.1 -1.5 1.4 -0.1zM475.6 92l0.7 -0.1 -0.7 2 -1.1 -0.9zM496.9 58l0.2 0.2 -0.5 1.1 -0.8 -0.8zM542.5 84.6l-1.3 1.1 -0.8 -1.1 0.8 -0.5zM479.9 123.2l0.7 1.5 -1.6 -0.4 -0.6 -1.4zM490.7 110.7l0.8 0 0.4 1.6zM478.3 73.6l0 2.1 -0.8 -0.4 -0.1 -1zM493 98.1l-0.3 -1.5 2.4 -0.3 0.1 0.8zM544 145.1l-0.4 0.8 -1.5 -0.2 1.2 -0.7zM486.4 38.8l-1 0.9 -0.5 -1.3zM518 74.4l-1.3 0.7 -1.5 0.2 0.9 -1.2 0.8 -0.9zM468.5 50.2l0.8 -0.4 1.3 1.6 -1.3 -0.1zM489.5 43.2l1.5 -0.5 1.2 0.4 -0.5 1 -1.5 -0.1zM469.3 86.3l-0.6 -1.2 1.6 -0.7zM531.6 149.8l-1.1 0.4 -0.1 -1.4 0.9 -0.7zM476.9 130.9l1.1 -1.9 0.2 2zM450.2 108.2l0.5 0.3 0.5 0.8 -2.2 0.1zM543.3 37.9l-1.2 -0.2 -1.1 -1.4 0.9 0.1zM521.4 125.4l-0.7 -0.3 0.2 -1.2 1.9 0.9zM467.9 69.8l0.9 -1.3 0.9 1.4 -0.5 1.5 -0.7 -0.6zM489.6 100.8l1 -0.2 0.3 1.5 -1.7 -0.4zM526.2 121.2l-1.1 1.5 -0.7 -0.8 0.8 -1.1zM463.7 64.3l1 -0.1 -0.2 1.4zM464.5 111.9l1.7 -0 -0.1 1.3zM472.1 66.4l-2.1 -0.6 0.9 -0.4zM546.2 135.7l-0.8 0.5 -0.7 -1.3 1.2 -0.1zM476.7 43.5l-0.9 1.5 -1 -0.4zM540.7 146.8l-0.1 1.1 -2.1 -1.1 0.5 -1.1zM473.1 84.1l0.4 -0.9 1.9 0.2 -1.1 1.7zM541.2 51.4l-1.4 -0.2 0.1 -2.2 1.3 1zM504.2 131.3l0.4 -0.6 1.3 0.4 0.6 1.2 -1.1 -0.3zM554.5 120.8l0.5 1.2 -1.2 0.1 -0.6 -0.9 0.5 -0.5zM496.7 124.2l-1 0.6 -0.6 -1.3 1.3 -0.6zM505.6 114.7l-0.8 0.4 -0.6 -1.2 1.6 -0.5zM559.5 116.3l1.7 -0.3 -0.6 1.9 -0.9 -0.7zM483.2 106.3l2.3 0 -0 0.7 -2.2 0.4zM544.6 103.4l0 1.7 -1.7 0.3 -0.4 -0.9 0.5 -0.8zM500.2 42.6l0.6 -0.1 0.4 1.9 -0.9 -0.7zM525.3 65.1l0.7 -1.2 0.1 2zM455.2 85.2l-0.6 -0.2 -0.5 -0.6 0.5 -0.5 1.8 0.9zM502.7 66.5l1 1.4 -0.6 0.4 -1 0 0 -1.1zM553.6 62.9l-0.1 -1.7 1.7 1.4 -0.5 0.8zM531.6 49.9l-1.3 0.1 -1 -0.8 1.3 -0.1zM542.6 80.4l1.7 -0.4 1.4 1z"/>
<path fill="#000" d="M521.5 133.9l-2.6 -0.4 0.1 -1.1 2.6 -0.4 2 0.3zM548.2 40.3l1.9 -3 2.4 1.6 -0.4 1.4zM449.5 117.4l2 -0.2 1.6 1.6 -2.7 0.6 -2.2 -0.3zM480.5 105.9l1.3 -1.2 3.7 3.6 -2.7 0.1zM518.2 47.3l-3.5 -0.7 1.8 -1.5 3.6 0.9zM451.3 108.9l-1.2 2.1 -1.5 -1.9 0.3 -1.4zM505 77.2l3 3.1 -2 2.3 -1.7 -1.3zM477.6 89.3l0.9 2.5 -2 1.7 -1 -4.4zM526.1 124.5l2.9 -1.7 -0.1 3.3zM528.4 89.4l-2 -1.6 0.8 -2.9 1.8 1.7zM560.3 141l-0.6 -2.4 3.1 -1.3 0.5 2zM501.5 110.1l1.3 3 -1.9 0.8 -0.6 -3.2zM485.1 129.8l2.1 1.1 -1.2 3.1 -2.6 -1.1 -0.9 -1.9zM474.8 58.5l-1.5 -4.1 1.3 -0.1 3.3 2.5zM487.1 39.4l2.9 1.2 -2.3 1 -1.6 -0.8zM501.4 122.9l-1 -1.5 2.9 -3zM534 99.1l-2.8 2.3 -0.8 -2.4 1.8 -2.3 1.9 1.5zM451.6 97.2l1.7 -1.1 1.2 1.2 -0.3 1.7 -2.4 1.1zM448.7 146l2.4 0 -0.2 3 -2.6 -0.4 -1.4 -1.4zM533.2 63.4l3.2 3.7 -0.9 1.1 -3.4 -3.6zM530.6 54.8l1.4 2.2 -4.3 0.3zM527.5 72.7l0.9 1.6 -1 2 -3.8 -0.9 0.7 -1.1zM490.1 62.6l-2.8 -0.7 2.8 -1.9 1.7 0.5 -0.5 2.3zM464 100.2l1.3 1.7 -1.2 1.6 -2.4 -0.5 0.6 -2.1zM532.4 58.3l-2.7 -1.1 0.3 -1.9 2 -0.7zM494.3 120.6l1.4 0.5 -0.9 4.7 -2 -0.9 -0.8 -0.9zM477.4 96.7l1.5 -4.4 2 2.6zM488.5 98.6l2.3 -2.5 1.3 1.8zM536 145l2.4 5 -3.2 -2.3zM541.6 125.8l2.1 -0.5 0.7 2.5 -2.1 1.8 -1.4 -0.1zM450.2 107.2l2.2 1.2 -1.3 1.3 -1.3 -0.5zM493.4 74.2l0.9 1.6 -2.4 2 -0.6 -1.5zM518.8 106.9l1 -2.3 1.8 5zM462.7 55.2l-0.1 -3.4 3.1 1.1zM470.6 90.4l-0.9 -3.1 1 -2.5 2 1 -0.2 3.2zM496.1 71.6l0.2 -2.1 4.4 -0.5 -0.8 1.9 -1.5 1.5zM548.3 140.9l-1 3.8 -2 -2.2zM547.9 115.9l-2.5 0.3 0.5 -2.6zM487.8 106.3l-3.3 0.3 -0.3 -1.7 2.7 -1.7 2.5 0.9zM520.3 85.7l2.7 -2.2 1 1.6 -1.3 2.7 -1.5 -1.5zM482.5 48.6l-2.8 -0.8 2.6 -0.9zM518.7 113l-0.6 1.8 -4.2 -1.2zM544.2 116.9l-3.3 1 -0.3 -2.1 2.5 -1zM525.1 53l-1.6 3.1 -1.8 -1.4 0.1 -1.8 1.2 -0.9zM489.7 65.4l1 3.2 -2.3 -0.7z"/>
<path fill="#000" d="M551.9 83.4l2.9 1.2 -3.1 1.1zM547.7 76.8l1 1 -1.9 1.1 -1.9 -1.1zM553.3 80.7l1.9 0.3 -2.2 2.4zM549.6 82.4l-3.1 1.9 -0.1 -1.6 2 -1.9zM551.7 78.4l-1.2 2.6 -1.1 -4.3zM550.1 80.3l1 1.2 -0.6 2.9 -1.8 -2.3zM550.9 77.1l2.3 0.4 -1.9 1.7 -2.2 -0.7zM550.5 79.7l0.3 -2.8 2.6 -0.7 0.8 2.6zM554.3 85.3l-3.5 -0.4 -0.1 -1.8 2.7 -1zM550.4 77.9l3.5 -1 -0.8 1.7 -2.3 0.2zM551.3 80.9l1.4 -3.3 1 2.5zM550.3 80.2l-2.3 0.4 -0.6 -2.6 2.3 0.1zM547.6 77.8l1.2 -0.5 0.1 3.2 -1.3 0.3zM547.8 76.6l-0.9 2.2 -1.2 -0.8 1.3 -1.7zM551.9 85l1.4 -2.8 0.3 2.7zM551.6 81.5l2 1 -2.1 1.5 -2 -0.2 0.6 -2.6zM555.6 81.5l-1.3 2.8 -1.2 -2.6zM551.3 79.1l1.6 -2.7 0.5 3.4zM544.1 80.9l0.6 -3.4 2.3 1.5 -1.1 1.5zM548 80.6l-2.3 -1.4 1.2 -1 2.4 -0.6zM550.8 81.1l0.9 -1.4 1.3 -0.2 -0.1 1.9 -0.4 0.9zM544.3 80.4l2.1 0.6 -0.2 1.1 -1.4 0.7zM554.5 77.4l0.3 1.1 -1 1.4 -1.6 -2zM551.4 78.2l0.4 0.9 0 2.2 -3.1 -0.7 0.4 -2.7z"/>
<path fill="#000" d="M556.4 77.9l-0.6 2.4 0.8 1.3 0.4 1.7 -1.2 1.9 -3.1 0.5 -2.4 -1.4 -1.9 -0.5 -0.8 -1.2 -3.7 -1.3 3.5 -1.2 -0.3 -2.5 3.3 -0.2 2.3 1.5z"/>
<path fill="#000" d="M523.6 70.3l1.2 -2.7 1.1 1.6zM526.6 71.6l0.7 1.2 -2.6 0.8 0.6 -1.9zM525.2 69.9l-0.6 0.2 -1.6 0.2 -0.6 -2 2.9 -0.5zM525.9 67.7l-2.8 1.7 0 -2.3zM525.7 72.7l-0.8 -1.6 1.7 -0.7 1.2 1.5zM524.8 68.7l0.6 -1.6 1.9 0.6 -0.1 2 -0.7 0.1zM521.2 70.4l1.4 -1.7 1.1 -0.3 0.6 2.5zM528.1 66.1l-0.7 1.9 -1.2 -0.7 -0 -1 1.3 -0.5zM527.4 70.2l-0.1 1.1 -2.5 -0.2 1 -1.9zM522.9 69.8l-1.2 -0.5 -0.7 -1.8 2.2 -0.2zM526.8 72.2l-1.8 1.2 -0.9 -1.5 1.3 -1.4 1.7 0.3zM523.1 70.2l-2.1 -1.3 2.2 -1.3z"/>
<path fill="#000" d="M548.6 119.9l-1.3 -0.4 0.3 -1.6 0.8 -0.4 1.3 0.9zM544.3 119.7l2.1 -0.4 -0.6 1.7zM544.5 119.7l-0.4 -2.1 1.9 0 0.6 1.1 -1.1 1.4zM539.8 119.4l-0.1 -1.8 1.4 -0.1 0.4 1.4zM543.6 117.2l0.3 -1 1 -0.2 0.9 1.1 -0.8 1.5zM543.8 119.4l-1.4 1.2 -1.3 -1.1 1 -0.6zM542 116.8l1.3 1 -2.2 -0zM545.9 116.3l-0.5 1.1 -1.6 0.2 0 -1.1 1.1 -0.9z"/>
</g>
<clipPath id="cl3"><rect x="568.00" y="35.70" width="117.00" height="115.80"/></clipPath><g clip-path="url(#cl3)">
<rect x="568.00" y="35.70" width="117.00" height="115.80" fill="#050600"/>
<rect x="568.00" y="35.70" width="117.00" height="115.80" fill="#000" filter="url(#fb3g)"/>
<rect x="568.00" y="35.70" width="117.00" height="115.80" fill="#000" filter="url(#fb3y)"/>
<rect x="568.00" y="35.70" width="117.00" height="115.80" fill="#000" filter="url(#fb3y2)" mask="url(#mb3)"/>
<ellipse cx="672" cy="97" rx="18" ry="11" fill="#000" opacity="0.75" filter="url(#blur3)"/>
<ellipse cx="583" cy="142" rx="16" ry="9" fill="#000" opacity="0.55" filter="url(#blur3)"/>
<ellipse cx="672" cy="146" rx="15" ry="8" fill="#000" opacity="0.5" filter="url(#blur3)"/>
<ellipse cx="655" cy="112" rx="10" ry="6" fill="#000" opacity="0.4" filter="url(#blur3)"/>
<ellipse cx="640" cy="138" rx="9" ry="5" fill="#000" opacity="0.4" filter="url(#blur3)"/>
<ellipse cx="575" cy="48" rx="6" ry="8" fill="#000" opacity="0.35" filter="url(#blur3)"/>
<ellipse cx="625" cy="44" rx="8" ry="5" fill="#000" opacity="0.4" filter="url(#blur3)"/>
<ellipse cx="600" cy="75" rx="6" ry="4" fill="#000" opacity="0.3" filter="url(#blur3)"/>
</g>
<rect x="596.40" y="91.60" width="16.60" height="16.80" fill="none" stroke="#f2f2f2" stroke-width="1.1"/>
<clipPath id="cl4"><rect x="637.00" y="35.70" width="48.00" height="47.00"/></clipPath><g clip-path="url(#cl4)">
<rect x="637.00" y="35.70" width="48.00" height="47.00" fill="#000"/>
<circle cx="654.24" cy="41.41" r="2.09" fill="#f4c71a"/>
<circle cx="645.12" cy="40.13" r="1.68" fill="#f4c71a"/>
<circle cx="645.12" cy="41.47" r="2.38" fill="#f4c71a"/>
<circle cx="647.12" cy="48.71" r="2.16" fill="#f4c71a"/>
<circle cx="658.80" cy="45.56" r="2.31" fill="#f4c71a"/>
<circle cx="650.02" cy="39.40" r="2.10" fill="#f4c71a"/>
<circle cx="648.08" cy="43.94" r="2.53" fill="#f4c71a"/>
<circle cx="646.47" cy="46.54" r="1.89" fill="#f4c71a"/>
<circle cx="642.28" cy="44.16" r="1.90" fill="#f4c71a"/>
<circle cx="646.82" cy="50.75" r="1.61" fill="#f4c71a"/>
<circle cx="644.88" cy="45.46" r="2.30" fill="#f4c71a"/>
<circle cx="671.08" cy="41.95" r="2.09" fill="#f4c71a"/>
<circle cx="663.58" cy="34.34" r="2.11" fill="#f4c71a"/>
<circle cx="665.34" cy="38.36" r="2.13" fill="#f4c71a"/>
<circle cx="674.52" cy="39.08" r="2.18" fill="#f4c71a"/>
<circle cx="673.53" cy="41.78" r="2.32" fill="#f4c71a"/>
<circle cx="662.08" cy="40.35" r="2.14" fill="#f4c71a"/>
<circle cx="677.24" cy="46.27" r="1.68" fill="#f4c71a"/>
<circle cx="662.64" cy="38.09" r="2.54" fill="#f4c71a"/>
<circle cx="664.83" cy="39.02" r="2.64" fill="#f4c71a"/>
<circle cx="663.08" cy="37.81" r="1.75" fill="#f4c71a"/>
<circle cx="667.96" cy="44.77" r="2.28" fill="#f4c71a"/>
<circle cx="682.49" cy="40.95" r="2.14" fill="#f4c71a"/>
<circle cx="671.11" cy="41.58" r="1.81" fill="#f4c71a"/>
<circle cx="682.50" cy="42.53" r="2.03" fill="#f4c71a"/>
<circle cx="685.21" cy="49.12" r="1.95" fill="#f4c71a"/>
<circle cx="683.71" cy="49.15" r="2.17" fill="#f4c71a"/>
<circle cx="684.19" cy="46.16" r="2.60" fill="#f4c71a"/>
<circle cx="679.65" cy="53.06" r="2.08" fill="#f4c71a"/>
<circle cx="670.88" cy="44.84" r="2.22" fill="#f4c71a"/>
<circle cx="684.82" cy="39.00" r="2.22" fill="#f4c71a"/>
<circle cx="682.72" cy="45.19" r="2.69" fill="#f4c71a"/>
<circle cx="679.65" cy="50.75" r="1.75" fill="#f4c71a"/>
<circle cx="646.56" cy="64.78" r="2.16" fill="#f4c71a"/>
<circle cx="646.56" cy="59.68" r="2.40" fill="#f4c71a"/>
<circle cx="651.26" cy="67.10" r="2.20" fill="#f4c71a"/>
<circle cx="648.14" cy="56.83" r="2.70" fill="#f4c71a"/>
<circle cx="648.99" cy="61.93" r="1.54" fill="#f4c71a"/>
<circle cx="645.44" cy="67.57" r="2.28" fill="#f4c71a"/>
<circle cx="641.62" cy="71.09" r="1.54" fill="#f4c71a"/>
<circle cx="645.89" cy="64.08" r="2.17" fill="#f4c71a"/>
<circle cx="643.78" cy="66.54" r="1.92" fill="#f4c71a"/>
<circle cx="643.62" cy="59.74" r="2.70" fill="#f4c71a"/>
<circle cx="634.25" cy="60.70" r="1.74" fill="#f4c71a"/>
<circle cx="664.16" cy="64.37" r="2.56" fill="#f4c71a"/>
<circle cx="658.90" cy="58.93" r="1.55" fill="#f4c71a"/>
<circle cx="660.42" cy="59.40" r="2.49" fill="#f4c71a"/>
<circle cx="659.67" cy="64.41" r="2.17" fill="#f4c71a"/>
<circle cx="658.04" cy="59.84" r="2.64" fill="#f4c71a"/>
<circle cx="660.47" cy="59.71" r="2.10" fill="#f4c71a"/>
<circle cx="657.47" cy="63.50" r="1.90" fill="#f4c71a"/>
<circle cx="668.15" cy="65.18" r="2.32" fill="#f4c71a"/>
<circle cx="662.37" cy="67.73" r="2.69" fill="#f4c71a"/>
<circle cx="660.51" cy="54.86" r="2.46" fill="#f4c71a"/>
<circle cx="667.30" cy="61.44" r="2.19" fill="#f4c71a"/>
<circle cx="672.03" cy="65.27" r="2.57" fill="#f4c71a"/>
<circle cx="673.80" cy="63.42" r="2.68" fill="#f4c71a"/>
<circle cx="670.95" cy="66.83" r="2.31" fill="#f4c71a"/>
<circle cx="675.32" cy="62.94" r="2.12" fill="#f4c71a"/>
<circle cx="667.65" cy="60.83" r="2.42" fill="#f4c71a"/>
<circle cx="674.95" cy="66.32" r="2.17" fill="#f4c71a"/>
<circle cx="679.50" cy="61.85" r="1.93" fill="#f4c71a"/>
<circle cx="673.90" cy="62.15" r="1.84" fill="#f4c71a"/>
<circle cx="681.70" cy="67.17" r="1.92" fill="#f4c71a"/>
<circle cx="685.49" cy="68.17" r="1.74" fill="#f4c71a"/>
<circle cx="674.68" cy="65.28" r="1.99" fill="#f4c71a"/>
<circle cx="669.55" cy="80.57" r="2.67" fill="#f4c71a"/>
<circle cx="666.75" cy="65.33" r="1.54" fill="#f4c71a"/>
<circle cx="666.05" cy="69.61" r="2.50" fill="#f4c71a"/>
<circle cx="665.79" cy="78.39" r="2.51" fill="#f4c71a"/>
<circle cx="672.22" cy="79.96" r="2.50" fill="#f4c71a"/>
<circle cx="663.81" cy="72.14" r="2.21" fill="#f4c71a"/>
<circle cx="670.24" cy="71.69" r="2.36" fill="#f4c71a"/>
<circle cx="671.38" cy="74.29" r="2.38" fill="#f4c71a"/>
<circle cx="675.66" cy="77.65" r="2.70" fill="#f4c71a"/>
<circle cx="666.37" cy="66.85" r="2.38" fill="#f4c71a"/>
<circle cx="671.35" cy="66.88" r="2.54" fill="#f4c71a"/>
<circle cx="654.09" cy="73.29" r="1.84" fill="#f4c71a"/>
<circle cx="642.88" cy="75.16" r="1.65" fill="#f4c71a"/>
<circle cx="650.06" cy="79.53" r="2.46" fill="#f4c71a"/>
<circle cx="649.88" cy="75.22" r="1.53" fill="#f4c71a"/>
<circle cx="642.83" cy="85.57" r="1.55" fill="#f4c71a"/>
<circle cx="647.52" cy="76.06" r="2.42" fill="#f4c71a"/>
<circle cx="669.28" cy="90.61" r="1.52" fill="#f4c71a"/>
<circle cx="649.80" cy="74.56" r="2.42" fill="#f4c71a"/>
<circle cx="652.53" cy="86.23" r="1.58" fill="#f4c71a"/>
<circle cx="648.68" cy="75.99" r="1.84" fill="#f4c71a"/>
<circle cx="646.46" cy="80.12" r="1.53" fill="#f4c71a"/>
<circle cx="685.97" cy="79.89" r="2.41" fill="#f4c71a"/>
<circle cx="680.29" cy="76.06" r="2.34" fill="#f4c71a"/>
<circle cx="677.89" cy="74.29" r="1.62" fill="#f4c71a"/>
<circle cx="685.64" cy="82.66" r="2.23" fill="#f4c71a"/>
<circle cx="679.06" cy="75.88" r="1.72" fill="#f4c71a"/>
<circle cx="681.50" cy="78.57" r="2.25" fill="#f4c71a"/>
<circle cx="680.52" cy="80.28" r="1.95" fill="#f4c71a"/>
<circle cx="680.52" cy="74.44" r="2.08" fill="#f4c71a"/>
<circle cx="684.61" cy="85.86" r="2.28" fill="#f4c71a"/>
<circle cx="677.74" cy="75.27" r="1.93" fill="#f4c71a"/>
<circle cx="678.87" cy="79.33" r="1.88" fill="#f4c71a"/>
<circle cx="658.11" cy="50.87" r="2.12" fill="#f4c71a"/>
<circle cx="655.05" cy="44.95" r="1.87" fill="#f4c71a"/>
<circle cx="655.62" cy="45.71" r="1.55" fill="#f4c71a"/>
<circle cx="659.55" cy="50.89" r="2.25" fill="#f4c71a"/>
<circle cx="659.86" cy="48.62" r="2.50" fill="#f4c71a"/>
<circle cx="657.63" cy="43.80" r="1.90" fill="#f4c71a"/>
<circle cx="660.29" cy="48.94" r="1.66" fill="#f4c71a"/>
<circle cx="657.47" cy="48.55" r="2.48" fill="#f4c71a"/>
<circle cx="663.47" cy="46.94" r="2.28" fill="#f4c71a"/>
<circle cx="665.13" cy="43.19" r="2.01" fill="#f4c71a"/>
<circle cx="661.45" cy="44.52" r="1.70" fill="#f4c71a"/>
<ellipse cx="642.0" cy="78.2" rx="7.0" ry="4.5" fill="#000"/>
<path d="M611.5 37.8L614.3 38.3M647.4 17.7L644.5 33.3M644.5 33.3L644.1 33.6M614.3 38.3L632.5 37.7M644.1 33.6L632.5 37.7M644.1 33.6L644.2 42.4M632.5 37.7L643.6 42.7M644.2 42.4L643.6 42.7M711.8 29.5L684.2 45.5M711.8 29.5L686.6 35.3M686.6 35.3L684.5 36.2M684.5 36.2L680.2 44.4M684.2 45.5L680.2 44.4M709.7 57.1L684.7 49.2M684.2 45.5L684.7 49.2M673.5 50.2L678.7 48.9M673.5 50.2L668.1 47.8M678.7 48.9L679.3 44.6M679.3 44.6L674.5 41.5M674.5 41.5L668.1 47.8M663.2 57.8L661.9 52.6M663.2 57.8L669.5 58.7M669.5 58.7L676.6 56.0M676.6 56.0L676.6 55.9M661.9 52.6L668.1 47.8M673.5 50.2L676.6 55.9M668.1 47.8L668.1 47.8M614.3 38.3L634.9 48.0M643.6 42.7L643.1 43.8M634.9 48.0L643.1 43.8M655.1 86.7L653.6 85.6M653.6 85.6L648.1 85.3M644.7 87.2L648.1 85.3M655.1 86.7L662.6 81.2M653.6 85.6L650.8 77.4M650.8 77.4L662.6 81.2M663.7 80.6L662.6 81.2M650.9 54.7L647.0 63.3M650.9 54.7L641.6 52.5M647.0 63.3L640.5 56.8M640.5 56.8L641.1 52.8M641.6 52.5L641.1 52.8M611.5 37.8L632.9 56.3M634.9 48.0L641.1 52.8M632.9 56.3L639.6 57.3M639.6 57.3L640.5 56.8M643.2 50.5L643.1 43.8M643.2 50.5L641.6 52.5M663.2 57.8L662.8 59.2M657.7 49.9L661.9 52.6M657.7 49.9L650.9 54.7M655.9 63.3L662.8 59.2M655.9 63.3L649.5 65.7M647.0 63.3L647.2 63.6M649.5 65.7L647.2 63.6M679.0 66.2L676.5 63.7M679.0 66.2L675.5 70.9M670.8 69.5L675.5 70.9M670.8 69.5L674.8 63.7M674.8 63.7L676.5 63.7M683.5 60.5L681.1 66.4M683.5 60.5L680.1 57.8M680.1 57.8L679.4 57.8M679.4 57.8L676.5 63.7M681.1 66.4L679.0 66.2M669.5 58.7L674.8 63.7M668.3 70.0L663.9 63.1M668.3 70.0L670.8 69.5M662.8 59.2L663.9 63.1M676.6 56.0L679.4 57.8M682.7 51.4L679.4 50.1M682.7 51.4L683.2 53.6M681.5 55.9L678.9 51.2M681.5 55.9L683.2 53.6M678.9 51.2L679.4 50.1M678.7 48.9L679.4 50.1M684.7 49.2L682.7 51.4M679.3 44.6L680.2 44.4M698.1 57.7L709.7 57.1M698.1 57.7L683.2 53.6M680.1 57.8L681.5 55.9M676.6 55.9L678.9 51.2M687.3 60.4L698.1 57.7M687.3 60.4L683.5 60.5M657.7 49.9L655.3 46.0M643.2 50.5L654.8 45.5M655.3 46.0L654.8 45.5M669.2 35.5L674.4 36.7M669.2 35.5L666.1 -15.8M675.9 29.0L674.5 36.7M675.9 29.0L671.3 -111.0M674.5 36.7L674.4 36.7M671.3 -111.0L666.1 -15.8M686.6 35.3L675.9 29.0M684.5 36.2L674.5 36.7M674.5 41.5L674.4 36.7M665.5 38.9L667.0 35.9M665.5 38.9L664.5 39.1M664.5 39.1L662.5 38.3M662.5 38.3L662.1 33.5M667.0 35.9L662.8 32.6M662.8 32.6L662.1 33.5M668.1 47.8L665.5 38.9M669.2 35.5L667.0 35.9M655.3 46.0L664.5 39.1M658.4 37.6L662.5 38.3M658.4 37.6L662.1 33.5M661.9 29.5L662.8 32.6M661.9 29.5L666.1 -15.8M681.1 66.4L682.7 68.0M677.7 74.3L678.0 74.3M677.7 74.3L675.5 70.9M678.0 74.3L682.7 68.0M687.3 60.4L684.3 68.6M684.3 68.6L682.7 68.0M668.3 70.0L665.5 79.1M665.5 79.1L668.1 80.3M677.7 74.3L672.3 80.0M668.1 80.3L672.3 80.0M684.9 79.0L684.0 81.2M687.8 85.3L684.0 81.2M687.8 85.3L683.5 231.6M665.5 79.1L665.0 79.2M665.0 79.2L659.8 75.0M663.9 63.1L659.4 70.7M659.8 75.0L659.4 70.7M655.9 63.3L657.8 69.8M657.8 69.8L659.4 70.7M635.5 63.3L637.2 60.6M635.5 63.3L631.5 63.1M637.2 60.6L632.7 58.4M631.5 63.1L632.7 58.4M632.9 56.3L632.7 58.4M639.6 57.3L637.2 60.6M644.7 87.2L640.6 82.2M648.1 85.3L646.5 81.2M646.5 81.2L640.6 82.2M650.8 77.4L649.8 75.6M646.5 81.2L649.8 75.6M647.2 63.6L643.2 65.5M635.5 63.3L636.6 65.0M636.6 65.0L643.2 65.5M653.3 31.4L649.7 36.7M653.3 31.4L655.6 33.2M655.6 33.2L656.5 38.8M649.7 36.7L653.8 43.5M656.5 38.8L654.0 43.6M653.8 43.5L654.0 43.6M647.4 17.7L653.3 31.4M644.5 33.3L649.7 36.7M661.9 29.5L655.6 33.2M658.4 37.6L656.5 38.8M644.2 42.4L653.8 43.5M654.8 45.5L654.0 43.6M691.8 68.4L684.9 69.0M691.8 68.4L684.2 77.6M684.9 69.0L684.1 77.5M684.2 77.6L684.1 77.5M684.3 68.6L684.9 69.0M684.9 79.0L684.2 77.6M678.0 74.3L684.1 77.5M675.2 81.6L676.2 105.8M675.2 81.6L681.5 83.3M681.5 83.3L676.9 108.6M676.2 105.8L676.9 108.6M668.1 80.3L676.2 105.8M672.3 80.0L675.2 81.6M684.0 81.2L681.5 83.3M683.5 231.6L676.9 108.6M665.0 79.2L663.7 80.6M649.5 65.7L649.8 69.8M657.8 69.8L649.9 70.4M649.8 69.8L649.9 70.4M659.8 75.0L650.1 73.8M649.9 70.4L650.1 73.8M649.8 75.6L649.7 74.7M650.1 73.8L649.7 74.7M631.5 63.1L566.4 82.8M640.6 82.2L639.0 81.3M649.7 74.7L643.8 75.8M643.8 75.8L639.0 81.3M639.0 81.3L632.3 81.9M639.7 71.9L637.1 74.1M639.7 71.9L639.7 71.3M639.6 70.8L636.5 68.2M639.6 70.8L639.7 71.3M637.1 74.1L634.1 69.7M636.5 68.2L634.1 69.7M643.8 75.8L639.7 71.9M632.3 81.9L637.1 74.1M649.8 69.8L639.7 71.3M636.6 65.0L636.5 68.2M643.2 65.5L639.6 70.8M566.4 82.8L634.1 69.7" stroke="#6a9a2c" stroke-width="0.7" fill="none"/>
</g>
<path d="M636.7 35.7V83.0H685" stroke="#fff" stroke-width="1.3" fill="none"/>
<text x="638.60" y="82.40" font-size="7.6" fill="#b8b8b8">9X</text>
<text x="329.50" y="161.60" font-size="8.5" textLength="24.00" lengthAdjust="spacingAndGlyphs" fill="#1a1a1a">FVP10</text>
<text x="359.00" y="161.60" font-size="8.5" textLength="30.50" lengthAdjust="spacingAndGlyphs" fill="#1a1a1a">100 µm</text>
<rect x="361.60" y="164.70" width="25.40" height="3.00" fill="#000"/>
<circle cx="590.80" cy="160.60" r="2.00" fill="#f5b921"/>
<text x="594.80" y="163.30" font-size="8.28" textLength="21.00" lengthAdjust="spacingAndGlyphs" font-style="italic" fill="#1a1a1a">TUBB</text>
<ellipse cx="629.7" cy="160.6" rx="2.8" ry="1.7" fill="none" stroke="#3fae49" stroke-width="0.9"/>
<text x="634.40" y="163.30" font-size="8.5" textLength="48.60" lengthAdjust="spacingAndGlyphs" fill="#1a1a1a">CO_Tumor-B</text>
<text x="0.80" y="210.70" font-size="13" font-weight="bold" fill="#000" stroke="#000" stroke-width="0.35">c</text>
<clipPath id="cl5"><rect x="15.30" y="211.50" width="131.40" height="131.00"/></clipPath><g clip-path="url(#cl5)">
<rect x="15.30" y="211.50" width="131.40" height="131.00" fill="#0c1405"/>
<rect x="15.30" y="211.50" width="131.40" height="131.00" fill="#000" filter="url(#fcg)"/>
<rect x="15.30" y="211.50" width="131.40" height="131.00" fill="#000" filter="url(#fcb)"/>
<rect x="15.30" y="211.50" width="131.40" height="131.00" fill="#000" filter="url(#fcy)"/>
<rect x="15.30" y="211.50" width="131.40" height="131.00" fill="#000" filter="url(#fck)"/>
<path fill="#000" d="M141.3 256.7l0.9 4.4 -5.7 2.6 1.6 4.2 -3.3 1.2 -2.9 1.6 -2.5 -3 -2.3 -0.8 -3.1 -1.2 0.6 -3.2 -1.2 -3 3.8 -0.9 1.4 -1.6 1.8 -4.8 3.2 2.3 3.1 1z"/>
<path fill="#000" d="M120.4 253.6l1.8 1.3 3.8 -1.7 1.1 2.2 1.2 2 -0.5 2.1 0.1 2.8 -4.2 -0.4 -1.9 2.1 -2.5 -1.7 -2.7 -0.2 -2.1 -1.4 1 -2.2 1.3 -1.4 -0.8 -2.1 1.3 -2.1z"/>
<path fill="#000" d="M100.9 248.4l1.3 -2 3.6 0.9 2.2 -0 2.5 0 4.2 0 -2.2 2.8 -0.4 1.4 -0.8 1.2 -1.6 0.8 -1.4 1.4 -2.7 1.2 -3.7 0.1 -0.2 -2.8 -1.2 -1.5 0.4 -1.7z"/>
<path fill="#000" d="M143.3 256.5l-0.9 -3.8 -0.1 -4.3 0.1 -3.1 -1.4 -4.5 0.9 -3.7 1 -3.6 1.5 3.5 1.2 -1.9 1.6 -0.1 0.2 5.3 1.2 3.9 -2 3.1 1 6.8 -2.2 -3.4 -0.7 3.5z"/>
<path fill="#000" d="M128.8 277.6l-1.9 3.7 -1.2 4.6 -3.9 0.9 -3.8 1.2 -2.5 -4.1 -4.4 -0.5 -0.3 -4.8 2.2 -3.8 -2.4 -5.2 4.8 -0.1 2.7 -0.1 2.1 0.7 3 -1.6 0.8 3.4 5.2 1.1z"/>
<path fill="#000" d="M145.9 278.3l-0.4 1.5 1.8 2.1 -3.5 0.5 -1.3 2.1 -3.3 1.3 -2.1 -2.7 -2.8 -0.5 -4.3 -1 2.4 -2.4 1.4 -1.6 -0.6 -3 3.7 -1 3.9 -0.6 3.4 1.4 1.5 2.1z"/>
<path fill="#000" d="M137.6 295.8l3.1 0.3 1.9 1.6 1.8 0.6 1.7 1 2.3 1.5 -1.7 1.6 -1.6 1.3 -1.7 1.7 -3 -2 -2.8 1.3 -1.1 -1.7 -2.3 -0.9 -1.9 -1.6 3.5 -1.2 -1.3 -2.7z"/>
<path fill="#000" d="M106.1 268.7l-1.4 2 -2.1 -0.3 -1.7 1.9 -1.8 -1.2 -1.4 -1.6 -1.9 -1.7 2.6 -2.6 -1 -2.4 0.1 -3.4 2.9 1.7 1.7 -3.9 1.2 4 2.6 -0.3 -0.9 3.3 1.2 2z"/>
<path fill="#000" d="M95.8 239.1l-3.1 -1 1.2 -2 0.3 -2.2 2.2 -0.9 2.1 -0.6 2.2 0.3 1.3 1.6 3.5 0.1 -2.7 2.8 3.2 2.2 -1.4 2.2 -2.9 0.3 -1.9 1.7 -2.5 -0.6 -2 -1.3z"/>
<path fill="#000" d="M127.1 293.3l-1.3 -0.5 -0.8 -1.1 -2.5 -1 2 -1.6 0.5 -1.3 1 -1 1.2 -1.7 1.7 1.2 1.5 0.5 0.2 1.7 0.5 1.2 -0.7 1.1 -0.1 1.2 -0.8 0.9 -1 2.3z"/>
<path fill="#000" d="M121.9 269l-1.2 -1.9 2.4 -0.6 0.6 -2.4 2.4 0.1 3 -1.1 0.4 3.1 3.7 0.4 -2.4 2.4 2.9 2.7 -3 1.2 -3.2 -1 -1.5 3.3 -1.8 -2.5 -1.9 -0.7 -0.2 -1.8z"/>
<path fill="#000" d="M114.7 251.7l3.1 -0.5 -0.4 1.9 1.2 1.6 -2.1 1 -1.6 0.4 -0.4 3 -2.4 -0.7 -1.1 -1.9 -3.7 0.7 -0.9 -2 2.8 -1.7 1.1 -0.8 -0.6 -2.2 2.4 0.8 1.8 -1.9z"/>
<path fill="#000" d="M142.1 263.4l0.3 -2.6 0.1 -2.8 0.8 -2.2 1.2 -0.1 1.1 0.1 0.7 2 0.3 1.9 0.2 1.6 1.5 2.3 -1.6 1 -0.3 2.1 -0.9 0.3 -1 1.4 -0.9 -1.3 -1.3 -0.8z"/>
<path fill="#000" d="M20.6 328.6l-2.7 -1.5 0.1 -2.1 1.4 -2.2 5.6 0.7 2.9 -2.4 4.8 0.1 4.1 1.3 -2.9 3.2 2.3 1.2 2 2.1 -2 1.9 -5.9 -1.4 -2.1 1.5 -4 0.8 -3.6 -1z"/>
<path fill="#000" d="M56.2 224.7l-0 -0.7 2.1 -0 1 -0.6 1.8 -0.2 2.6 -0.2 0.9 0.9 0.1 0.8 -0.7 0.7 -0.4 0.6 -0.4 0.9 -2.2 -0 -1.6 -0.4 -2.8 0.6 -0.9 -0.9 -2.3 -0.7z"/>
<path fill="#000" d="M24.8 299.4l0.9 -0.7 0.6 -0.9 1.1 -1 1.6 -0.1 1 1.1 0.4 1 -0.5 1 1.8 1 -1.5 0.6 -0.8 0.6 -1.1 -0.3 -0.7 -0.1 -1.2 0.3 -1.9 -0 -0 -1.3z"/>
<path fill="#000" d="M130.8 319.3l1.6 0.7 1 0.4 2 -0.1 -0.9 1.2 1.7 0.8 -0.7 0.9 -1 0.8 -1.8 -0.4 -1.1 -0.1 -1.6 0.5 -0.3 -1 -2 -0.4 0.9 -1 -0.4 -1.1 0.9 -1z"/>
<path fill="#000" d="M41.8 238.4l1.7 -0.1 1.1 -0.5 1.9 -1.1 0.5 1.7 0.9 0.6 1.1 0.7 0 1 -0.1 1.2 -2.2 -0.1 -1 1.6 -1.3 -1.9 -2.4 0.9 -0.6 -1.1 -1.6 -0.9 2.5 -0.9z"/>
<path fill="#000" d="M20.5 257l1.6 0.5 0.8 2 2.1 -1.2 1 1.7 -1.8 2.1 1.4 1.9 -2.1 -0.1 -0.6 0.6 -0.8 2.5 -1.3 -0.6 -1.5 -0.5 -0.2 -2.2 0 -1.7 0.8 -1.2 0 -1.7z"/>
<path fill="#000" d="M79.5 334.9l0.4 1.2 -2.7 0.2 -0.2 1.4 -1.8 0.3 -1.1 -1.4 -2.5 0.8 0.7 -1.5 -0.4 -0.7 0.6 -0.6 -0.9 -1.3 2.1 0.3 0.9 -1.8 1.1 2 2.5 -0.9 1 1z"/>
<path fill="#4f86ad" d="M126.4 257.5l0.7 -0.9 1 1.1zM127 259l0.7 -1.2 -0.1 1.6zM127 258.1l-0.3 -1.2 1 -0.3 0 1z"/>
<path fill="#4f7420" d="M129.2 253.8l0.7 0.7 -1 0.4 -0.2 -0.7zM126.6 253.7l0.8 -0 0.4 1zM125.6 255.8l1 0.9 -0.5 0.2z"/>
<path fill="#4f86ad" d="M135.1 269l-1 -1 0.5 -0.4 1.2 0.3zM134.5 268.3l0.5 0.6 -0.3 0.8 -0.8 -0.4zM133.8 268.6l1.5 -0.5 0.1 1z"/>
<path fill="#4f7420" d="M132.8 264.8l1.2 -0.2 0 0.9 -1.1 0.3zM135.8 268l-1.1 -0.1 0.4 -1 0.7 0.2zM134.3 268.3l-0.5 -0.5 0.4 -0.9 0.9 0.2 -0.3 0.7z"/>
<path fill="#4f86ad" d="M121 270.9l1.1 0.3 -0.7 1.4 -0.7 -0.7zM118.1 272.4l0.7 -0.9 0.7 0.4 -0 1 -0.8 -0.2zM120.1 272.3l-0.4 0.1 0 -1.1 0.4 -0.4 0.6 0.8z"/>
<path fill="#4f7420" d="M120.4 272.4l-0.1 -0.4 0.4 -0.4 0.9 0.5zM120.8 272l-0.6 -0.8 1.4 -0.2zM119.5 272.7l-0.6 -0.6 0.5 -0.7 0.9 0.3z"/>
<path fill="#4f86ad" d="M139 282.4l-0.3 -0.8 1.2 -0.2 0.3 0.5zM137.9 280.3l0.7 -0.3 0.1 1.1 -0.8 0.4 -0.4 -0.2zM137.1 280.1l-0.9 -1 0.9 -0 0.3 0.8z"/>
<path fill="#4f7420" d="M138.5 279.2l-0.3 -0.4 1.4 0.1 -0.2 0.9zM140.6 280.9l-1.1 -0.2 0 -0.6 1.1 -0.5zM136.2 281.2l-0.4 -0.7 1.1 0 -0.2 0.8z"/>
<path fill="#4f86ad" d="M104.1 248.7l1.1 0.2 -0.7 1.2 -0.7 -1.1zM106.1 250.6l-0.1 0.8 -1.5 0.1 0.4 -0.9zM104.8 251.6l-0.2 -0.8 1 -0.1 0.4 1 -1.1 0.5z"/>
<path fill="#4f7420" d="M105.9 248.7l-0.6 0.8 -0.8 -0.5 0.6 -0.6zM104.2 247.3l0.7 -0.6 0.5 0.6 -0.3 0.6 -1.1 0.1zM107.7 250.3l-1 0.6 -0 -0.9z"/>
<path fill="#4f86ad" d="M115.5 280.4l0.5 -0.8 0.6 -0 0.7 0.5 -0.6 0.7zM119 281.7l-0.7 0.3 -0.4 -0.6 0.4 -0.5 0.6 -0.1zM118.3 278.1l0.8 0.5 -0.4 1.1 -1.1 -0.9z"/>
<path fill="#4f7420" d="M116.7 277.3l0.6 -0.7 0.7 0.3 0.3 0.7 -0.6 0.4zM120.4 280.9l-1.2 -0 0.6 -0.6zM117.9 277.7l-0.8 -1.1 0.8 0.1z"/>
<path fill="#4f86ad" d="M141.9 299.9l-0.8 -0 -0.3 -1.1 1.3 -0.1zM143.1 298.5l0.6 0.5 -0.4 1.1 -0.9 -0.5 0.1 -1zM140.1 301.5l-0.5 -1 1 -0.4 0.7 0.5z"/>
<path fill="#4f7420" d="M142.1 300.2l-1.1 -0.8 1.6 0.1zM143.2 300.5l-0.7 0.5 -0.5 -0.6 0.2 -0.7zM143.2 299.8l-0.5 0.8 -0.5 -0.3 0.2 -0.5z"/>
<path fill="#4f86ad" d="M100.2 264.9l-0.1 1.1 -0.9 0.4 0.1 -1.2zM100.2 263.2l0.7 0.9 -0.3 0.6 -1.1 -0.2 0.1 -0.5zM100.8 263.6l0.8 0.7 -0.9 0.8 -0.5 -0.8z"/>
<path fill="#4f7420" d="M99.6 265.9l0.5 -0.2 0.5 0.5 -0.8 0.6zM100.5 264.5l0.5 -0.1 0.9 0.2 -0.3 0.8zM100.8 265.7l-0.2 1.1 -0.6 -0.2 0.1 -0.9z"/>
<path fill="#4f86ad" d="M125.1 265.5l-1.3 -0.2 1.2 -1.3zM124.4 262.3l1.1 -0.8 -0.2 1.2zM123.2 265l-1.2 -0.3 -0.1 -0.9 1.6 -0z"/>
<path fill="#4f7420" d="M125.6 265.2l0.5 -0.6 0.6 0.7zM126 263.6l0.4 -0.5 0.8 -0.2 0.1 1zM126.5 264.3l0.8 -0.1 -0.2 0.9 -0.4 0.4 -0.8 -0.6z"/>
<line x1="15.30" y1="215.60" x2="146.70" y2="215.60" stroke="#000" stroke-width="0.9"/>
</g>
<rect x="86.60" y="310.00" width="9.60" height="8.60" fill="none" stroke="#f0a030" stroke-width="1.2"/>
<path d="M96 310L164.3 242.3M96 318.6L164.3 328.7" stroke="#f0a030" stroke-width="1.2" fill="none"/>
<clipPath id="cl6"><rect x="164.30" y="242.30" width="87.60" height="86.50"/></clipPath><g clip-path="url(#cl6)">
<rect x="164.30" y="242.30" width="87.60" height="86.50" fill="#000"/>
<circle cx="167.30" cy="245.30" r="3.45" fill="#7ba6cf"/>
<circle cx="164.80" cy="250.30" r="3.45" fill="#7ba6cf"/>
<circle cx="173.30" cy="243.60" r="3.45" fill="#7ba6cf"/>
<circle cx="180.00" cy="243.60" r="3.45" fill="#7ba6cf"/>
<circle cx="180.80" cy="263.90" r="3.45" fill="#7ba6cf"/>
<circle cx="165.60" cy="267.30" r="3.45" fill="#7ba6cf"/>
<circle cx="205.30" cy="248.70" r="3.45" fill="#7ba6cf"/>
<circle cx="209.30" cy="245.30" r="3.45" fill="#7ba6cf"/>
<circle cx="211.30" cy="253.80" r="3.45" fill="#7ba6cf"/>
<circle cx="216.30" cy="255.30" r="3.45" fill="#7ba6cf"/>
<circle cx="219.60" cy="258.80" r="3.45" fill="#7ba6cf"/>
<circle cx="218.80" cy="263.10" r="3.45" fill="#7ba6cf"/>
<circle cx="223.00" cy="255.30" r="3.45" fill="#7ba6cf"/>
<circle cx="227.30" cy="259.70" r="3.45" fill="#7ba6cf"/>
<circle cx="224.70" cy="248.70" r="3.45" fill="#7ba6cf"/>
<circle cx="220.30" cy="242.30" r="3.45" fill="#7ba6cf"/>
<circle cx="243.30" cy="247.00" r="3.45" fill="#7ba6cf"/>
<circle cx="248.30" cy="245.30" r="3.45" fill="#7ba6cf"/>
<circle cx="249.30" cy="252.10" r="3.45" fill="#7ba6cf"/>
<circle cx="252.30" cy="248.70" r="3.45" fill="#7ba6cf"/>
<circle cx="232.30" cy="270.60" r="3.45" fill="#7ba6cf"/>
<circle cx="237.30" cy="271.30" r="3.45" fill="#7ba6cf"/>
<circle cx="238.30" cy="276.30" r="3.45" fill="#7ba6cf"/>
<circle cx="249.30" cy="276.30" r="3.45" fill="#7ba6cf"/>
<circle cx="228.90" cy="284.10" r="3.45" fill="#7ba6cf"/>
<circle cx="232.30" cy="288.30" r="3.45" fill="#7ba6cf"/>
<circle cx="232.30" cy="292.60" r="3.45" fill="#7ba6cf"/>
<circle cx="239.00" cy="292.60" r="3.45" fill="#7ba6cf"/>
<circle cx="250.80" cy="288.30" r="3.45" fill="#7ba6cf"/>
<circle cx="250.80" cy="295.10" r="3.45" fill="#7ba6cf"/>
<circle cx="168.20" cy="296.80" r="3.45" fill="#7ba6cf"/>
<circle cx="178.30" cy="296.80" r="3.45" fill="#7ba6cf"/>
<circle cx="182.50" cy="297.60" r="3.45" fill="#7ba6cf"/>
<circle cx="175.80" cy="301.00" r="3.45" fill="#7ba6cf"/>
<circle cx="172.30" cy="306.10" r="3.45" fill="#7ba6cf"/>
<circle cx="184.30" cy="306.10" r="3.45" fill="#7ba6cf"/>
<circle cx="181.70" cy="309.30" r="3.45" fill="#7ba6cf"/>
<circle cx="186.70" cy="312.00" r="3.45" fill="#7ba6cf"/>
<circle cx="195.20" cy="307.80" r="3.45" fill="#7ba6cf"/>
<circle cx="179.10" cy="315.30" r="3.45" fill="#7ba6cf"/>
<circle cx="173.30" cy="317.90" r="3.45" fill="#7ba6cf"/>
<circle cx="166.50" cy="317.90" r="3.45" fill="#7ba6cf"/>
<circle cx="166.50" cy="323.80" r="3.45" fill="#7ba6cf"/>
<circle cx="192.60" cy="320.30" r="3.45" fill="#7ba6cf"/>
<circle cx="201.10" cy="315.30" r="3.45" fill="#7ba6cf"/>
<circle cx="205.30" cy="317.00" r="3.45" fill="#7ba6cf"/>
<circle cx="213.70" cy="323.80" r="3.45" fill="#7ba6cf"/>
<circle cx="217.10" cy="312.00" r="3.45" fill="#7ba6cf"/>
<circle cx="219.60" cy="316.30" r="3.45" fill="#7ba6cf"/>
<circle cx="225.50" cy="312.00" r="3.45" fill="#7ba6cf"/>
<circle cx="223.90" cy="319.60" r="3.45" fill="#7ba6cf"/>
<circle cx="228.10" cy="322.10" r="3.45" fill="#7ba6cf"/>
<circle cx="232.30" cy="308.60" r="3.45" fill="#7ba6cf"/>
<circle cx="234.80" cy="324.60" r="3.45" fill="#7ba6cf"/>
<circle cx="239.90" cy="322.90" r="3.45" fill="#7ba6cf"/>
<circle cx="243.30" cy="307.80" r="3.45" fill="#7ba6cf"/>
<circle cx="250.00" cy="317.00" r="3.45" fill="#7ba6cf"/>
<circle cx="248.30" cy="324.60" r="3.45" fill="#7ba6cf"/>
<path d="M164.3 258.0L188.4 259.7L196.9 256.3L201.1 242.3M164.3 267.3L173.3 276.3L173.3 279.3L164.3 289.3M173.3 277.8L186.3 277.3M164.3 290.3L185.9 292.8M164.3 314.3L170.7 302.3L169.9 292.3M169.3 330.3L186.3 320.3L197.3 312.3L201.3 309.8M186.3 320.3L194.3 330.3M201.3 309.8L214.3 314.3L220.3 330.3M214.3 314.3L229.3 308.3L239.3 300.3L252.3 297.3M232.3 306.8L248.3 312.8L252.3 317.3M212.8 286.7L225.5 285.8L227.3 269.0L231.3 265.6L252.3 263.9M225.5 285.8L239.9 289.3L244.9 282.3L252.3 274.9M239.9 289.3L252.3 295.3M211.3 242.3L216.3 249.6L227.3 254.6L241.6 242.3M227.3 254.6L231.3 265.6M209.3 269.3L227.3 267.8" stroke="#a5d63c" stroke-width="2.4" fill="none" stroke-linecap="round" stroke-linejoin="round"/>
<path d="M189.3 260.5L189.3 271.5L185.9 283.3L185.9 290.9L191.8 301.0L200.8 309.8L209.5 296.0L213.7 286.7L212.9 280.8L208.3 269.3L202.8 267.3L197.3 257.3M189.3 271.8L201.9 266.8M185.9 283.3L203.6 283.3L212.9 287.3" stroke="#f4ee6e" stroke-width="2.6" fill="none" stroke-linejoin="round" stroke-linecap="round"/>
<circle cx="202.30" cy="268.80" r="3.70" fill="#f6d878"/>
<circle cx="207.30" cy="269.30" r="3.50" fill="#f6d878"/>
<circle cx="203.90" cy="282.30" r="3.50" fill="#f6d878"/>
<circle cx="190.30" cy="291.30" r="3.50" fill="#f6d878"/>
<circle cx="192.30" cy="295.30" r="3.50" fill="#f6d878"/>
<circle cx="209.30" cy="292.30" r="3.60" fill="#f6d878"/>
</g>
<text x="164.60" y="328.20" font-size="8.28" textLength="20.00" lengthAdjust="spacingAndGlyphs" fill="#d4d4d4">100X</text>
<text x="15.80" y="352.00" font-size="8.5" textLength="24.00" lengthAdjust="spacingAndGlyphs" fill="#1a1a1a">FVP10</text>
<text x="43.80" y="352.00" font-size="8.5" textLength="29.50" lengthAdjust="spacingAndGlyphs" fill="#1a1a1a">100 µm</text>
<rect x="44.30" y="355.20" width="27.60" height="3.00" fill="#000"/>
<circle cx="159.40" cy="336.20" r="2.30" fill="#f2d272" stroke="#a58a3a" stroke-width="0.5"/>
<text x="163.00" y="339.00" font-size="8.5" textLength="30.30" lengthAdjust="spacingAndGlyphs" font-style="italic" fill="#1a1a1a">CXCL12</text>
<ellipse cx="201" cy="336.2" rx="2.8" ry="1.7" fill="none" stroke="#3fae49" stroke-width="0.9"/>
<text x="205.90" y="339.00" font-size="8.5" textLength="48.50" lengthAdjust="spacingAndGlyphs" fill="#1a1a1a">C0_Tumor-B</text>
<circle cx="159.40" cy="346.70" r="2.30" fill="#6f9fd0" stroke="#4a78a8" stroke-width="0.5"/>
<text x="163.00" y="349.40" font-size="8.5" textLength="27.30" lengthAdjust="spacingAndGlyphs" font-style="italic" fill="#1a1a1a">CXCR4</text>
<ellipse cx="201" cy="346.7" rx="2.8" ry="1.7" fill="none" stroke="#f2e34a" stroke-width="0.9"/>
<text x="205.90" y="349.40" font-size="8.5" textLength="32.00" lengthAdjust="spacingAndGlyphs" fill="#1a1a1a">C11_FRC</text>
<text x="295.20" y="210.80" font-size="13" font-weight="bold" fill="#000" stroke="#000" stroke-width="0.35">d</text>
<text x="494.00" y="214.40" font-size="8.72" text-anchor="middle" textLength="165.50" lengthAdjust="spacingAndGlyphs" fill="#1a1a1a">CXCL12–CXCR4 (C0_Tumor-B) interaction</text>
<rect x="386.60" y="220.20" width="221.00" height="19.90" fill="none" stroke="#999" stroke-width="0.8"/>
<rect x="386.60" y="249.40" width="221.00" height="20.10" fill="none" stroke="#999" stroke-width="0.8"/>
<circle cx="391.56" cy="229.10" r="3.15" fill="#5f9fd2"/>
<circle cx="403.06" cy="229.10" r="2.80" fill="#4a86c5"/>
<circle cx="414.56" cy="229.10" r="3.70" fill="#93c6e2"/>
<circle cx="426.06" cy="229.10" r="2.80" fill="#4a86c5"/>
<circle cx="437.56" cy="229.10" r="2.80" fill="#4a86c5"/>
<circle cx="449.06" cy="229.10" r="3.85" fill="#a9d6e8"/>
<circle cx="460.56" cy="229.10" r="4.90" fill="#fdb466"/>
<circle cx="472.06" cy="229.10" r="3.85" fill="#a9d6e8"/>
<circle cx="483.56" cy="229.10" r="5.10" fill="#e35b35"/>
<circle cx="495.06" cy="229.10" r="3.15" fill="#5a98cf"/>
<circle cx="506.60" cy="229.10" r="1.30" fill="#3b6fb6"/>
<circle cx="518.00" cy="229.10" r="5.60" fill="#7d1128"/>
<circle cx="530.90" cy="229.10" r="4.90" fill="#fef0a5"/>
<circle cx="543.90" cy="229.10" r="4.55" fill="#f3f5cf"/>
<circle cx="555.40" cy="229.10" r="3.50" fill="#7ab2d9"/>
<circle cx="567.00" cy="229.10" r="3.35" fill="#74add6"/>
<circle cx="578.40" cy="229.10" r="2.65" fill="#4f8ac7"/>
<circle cx="589.80" cy="229.10" r="2.80" fill="#5590ca"/>
<circle cx="601.30" cy="229.10" r="2.45" fill="#4a86c5"/>
<circle cx="391.56" cy="259.60" r="3.00" fill="#5b97cd"/>
<circle cx="403.06" cy="259.60" r="2.65" fill="#4a86c5"/>
<circle cx="414.56" cy="259.60" r="3.50" fill="#7cb3da"/>
<circle cx="426.06" cy="259.60" r="2.65" fill="#4a86c5"/>
<circle cx="437.56" cy="259.60" r="3.00" fill="#5590ca"/>
<circle cx="449.06" cy="259.60" r="3.15" fill="#6ba4d4"/>
<circle cx="460.56" cy="259.60" r="3.85" fill="#a3d0e6"/>
<circle cx="472.06" cy="259.60" r="3.00" fill="#5b97cd"/>
<circle cx="483.56" cy="259.60" r="3.35" fill="#85badd"/>
<circle cx="495.06" cy="259.60" r="2.45" fill="#4a86c5"/>
<circle cx="506.60" cy="259.60" r="2.65" fill="#4a86c5"/>
<circle cx="518.00" cy="259.60" r="4.55" fill="#d9eef5"/>
<circle cx="530.90" cy="259.60" r="4.20" fill="#bfe2ee"/>
<circle cx="543.90" cy="259.60" r="3.85" fill="#9dcce5"/>
<circle cx="555.40" cy="259.60" r="3.00" fill="#5b97cd"/>
<circle cx="567.00" cy="259.60" r="3.35" fill="#69a3d3"/>
<circle cx="578.40" cy="259.60" r="2.45" fill="#4a86c5"/>
<circle cx="589.80" cy="259.60" r="3.00" fill="#5b97cd"/>
<circle cx="601.30" cy="259.60" r="2.80" fill="#5590ca"/>
<circle cx="323.40" cy="230.10" r="3.05" fill="#6fbf6b" stroke="#333" stroke-width="0.6"/>
<text x="328.00" y="233.10" font-size="8.72" textLength="54.20" lengthAdjust="spacingAndGlyphs" fill="#1a1a1a">CN5_Tumor-B</text>
<circle cx="328.20" cy="260.00" r="3.05" fill="#4bb9ec" stroke="#333" stroke-width="0.6"/>
<text x="333.60" y="263.00" font-size="8.72" textLength="48.60" lengthAdjust="spacingAndGlyphs" fill="#1a1a1a">CN6_Diffuse</text>
<line x1="318.50" y1="216.00" x2="318.50" y2="266.50" stroke="#666" stroke-width="0.9"/>
<text x="303.00" y="241.40" font-size="8.72" text-anchor="middle" textLength="54.50" lengthAdjust="spacingAndGlyphs" transform="rotate(-90 303.00 241.40)" fill="#1a1a1a">Receiver cell-</text>
<text x="313.40" y="241.40" font-size="8.72" text-anchor="middle" textLength="56.20" lengthAdjust="spacingAndGlyphs" transform="rotate(-90 313.40 241.40)" fill="#1a1a1a">residing niche</text>
<text x="395.76" y="276.00" font-size="7.2" text-anchor="end" transform="rotate(-60 395.76 276.00)" fill="#1a1a1a">C0_Tumor-B</text>
<text x="407.26" y="276.00" font-size="7.2" text-anchor="end" transform="rotate(-60 407.26 276.00)" fill="#1a1a1a">C1_PC_IgG</text>
<text x="418.76" y="276.00" font-size="7.2" text-anchor="end" transform="rotate(-60 418.76 276.00)" fill="#1a1a1a">C2_PC_IgA</text>
<text x="430.26" y="276.00" font-size="7.2" text-anchor="end" transform="rotate(-60 430.26 276.00)" fill="#1a1a1a">C3_Resting-B</text>
<text x="441.76" y="276.00" font-size="7.2" text-anchor="end" transform="rotate(-60 441.76 276.00)" fill="#1a1a1a">C4_PC_IgM</text>
<text x="453.26" y="276.00" font-size="7.2" text-anchor="end" transform="rotate(-60 453.26 276.00)" fill="#1a1a1a">C5_T</text>
<text x="464.76" y="276.00" font-size="7.2" text-anchor="end" fill="#1a1a1a" transform="rotate(-60 464.76 276.00)">C6_TAM_APOE_<tspan font-style="italic">C1Q</tspan></text>
<text x="476.26" y="276.00" font-size="7.2" text-anchor="end" fill="#1a1a1a" transform="rotate(-60 476.26 276.00)">C7_TAM_<tspan font-style="italic">SPP1</tspan></text>
<text x="487.76" y="276.00" font-size="7.2" text-anchor="end" fill="#1a1a1a" transform="rotate(-60 487.76 276.00)">C8_Mac_<tspan font-style="italic">DUSP1</tspan></text>
<text x="499.26" y="276.00" font-size="7.2" text-anchor="end" fill="#1a1a1a" transform="rotate(-60 499.26 276.00)">C9_Mac_<tspan font-style="italic">CXCL8</tspan></text>
<text x="510.80" y="276.00" font-size="7.2" text-anchor="end" fill="#1a1a1a" transform="rotate(-60 510.80 276.00)">C10_Mac_<tspan font-style="italic">MT2A</tspan></text>
<text x="522.20" y="276.00" font-size="7.2" text-anchor="end" transform="rotate(-60 522.20 276.00)" fill="#1a1a1a">C11_FRC</text>
<text x="535.10" y="276.00" font-size="7.2" text-anchor="end" transform="rotate(-60 535.10 276.00)" fill="#1a1a1a">C12_HEV</text>
<text x="548.10" y="276.00" font-size="7.2" text-anchor="end" fill="#1a1a1a" transform="rotate(-60 548.10 276.00)">C13_Endothelial_<tspan font-style="italic">VWF</tspan></text>
<text x="559.60" y="276.00" font-size="7.2" text-anchor="end" transform="rotate(-60 559.60 276.00)" fill="#1a1a1a">C14_VSMC</text>
<text x="571.20" y="276.00" font-size="7.2" text-anchor="end" fill="#1a1a1a" transform="rotate(-60 571.20 276.00)">C15_Stromal_<tspan font-style="italic">CLU</tspan></text>
<text x="582.60" y="276.00" font-size="7.2" text-anchor="end" transform="rotate(-60 582.60 276.00)" fill="#1a1a1a">C16_Stressed</text>
<text x="594.00" y="276.00" font-size="7.2" text-anchor="end" transform="rotate(-60 594.00 276.00)" fill="#1a1a1a">C17_Epithelial</text>
<text x="605.50" y="276.00" font-size="7.2" text-anchor="end" transform="rotate(-60 605.50 276.00)" fill="#1a1a1a">C18_RBC</text>
<line x1="363.70" y1="343.30" x2="608.70" y2="343.30" stroke="#222" stroke-width="1"/>
<text x="485.60" y="354.00" font-size="8.72" text-anchor="middle" textLength="134.30" lengthAdjust="spacingAndGlyphs" fill="#1a1a1a">Sender cells from the same niche</text>
<text x="649.00" y="211.00" font-size="8.72" text-anchor="middle" textLength="62.30" lengthAdjust="spacingAndGlyphs" fill="#1a1a1a">Avg. interaction</text>
<text x="649.00" y="220.80" font-size="8.72" text-anchor="middle" textLength="34.00" lengthAdjust="spacingAndGlyphs" fill="#1a1a1a">intensity</text>
<rect x="626" y="226.4" width="9.4" height="40.8" fill="url(#rdylbu_v)"/>
<line x1="635.40" y1="230.50" x2="637.20" y2="230.50" stroke="#444" stroke-width="0.6"/>
<text x="640.50" y="233.20" font-size="7.5" fill="#1a1a1a">0.4</text>
<line x1="635.40" y1="247.70" x2="637.20" y2="247.70" stroke="#444" stroke-width="0.6"/>
<text x="640.50" y="250.40" font-size="7.5" fill="#1a1a1a">0.2</text>
<line x1="635.40" y1="266.20" x2="637.20" y2="266.20" stroke="#444" stroke-width="0.6"/>
<text x="640.50" y="268.90" font-size="7.5" fill="#1a1a1a">0</text>
<text x="650.70" y="288.60" font-size="8.72" text-anchor="middle" textLength="66.00" lengthAdjust="spacingAndGlyphs" fill="#1a1a1a">Prop. interacting</text>
<text x="651.10" y="298.80" font-size="8.72" text-anchor="middle" textLength="36.20" lengthAdjust="spacingAndGlyphs" fill="#1a1a1a">cell pairs</text>
<circle cx="631.50" cy="309.50" r="4.30" fill="#000"/>
<text x="641.60" y="312.20" font-size="7.5" fill="#1a1a1a">4</text>
<circle cx="631.50" cy="323.10" r="5.10" fill="#000"/>
<text x="641.60" y="325.80" font-size="7.5" fill="#1a1a1a">8</text>
<circle cx="631.50" cy="336.40" r="5.80" fill="#000"/>
<text x="641.60" y="339.10" font-size="7.5" fill="#1a1a1a">12</text>
<circle cx="631.50" cy="349.90" r="6.40" fill="#000"/>
<text x="641.60" y="352.60" font-size="7.5" fill="#1a1a1a">16</text>
<text x="0.40" y="392.00" font-size="13" font-weight="bold" fill="#000" stroke="#000" stroke-width="0.35">e</text>
<text x="48.30" y="398.20" font-size="8.72" text-anchor="middle" textLength="45.70" lengthAdjust="spacingAndGlyphs" fill="#1a1a1a">Sender cell</text>
<text x="7.20" y="484.20" font-size="8.5" text-anchor="middle" textLength="89.40" lengthAdjust="spacingAndGlyphs" transform="rotate(-90 7.20 484.20)" fill="#1a1a1a">CXCL12–CXCR4 (C5_T)</text>
<text x="48.70" y="421.10" font-size="8.72" text-anchor="middle" textLength="63.00" lengthAdjust="spacingAndGlyphs" fill="#1a1a1a">Avg. interaction</text>
<text x="48.70" y="430.00" font-size="8.72" text-anchor="middle" textLength="34.00" lengthAdjust="spacingAndGlyphs" fill="#1a1a1a">intensity</text>
<rect x="44.5" y="439.8" width="8.4" height="39.4" fill="url(#rdylbu_v)"/>
<line x1="42.80" y1="441.20" x2="44.50" y2="441.20" stroke="#444" stroke-width="0.6"/>
<text x="40.00" y="443.80" font-size="7.5" text-anchor="end" fill="#1a1a1a">0.4</text>
<line x1="42.80" y1="473.40" x2="44.50" y2="473.40" stroke="#444" stroke-width="0.6"/>
<text x="40.00" y="476.00" font-size="7.5" text-anchor="end" fill="#1a1a1a">0.1</text>
<text x="48.20" y="496.30" font-size="8.72" text-anchor="middle" textLength="65.70" lengthAdjust="spacingAndGlyphs" fill="#1a1a1a">Prop. interacting</text>
<text x="48.70" y="505.80" font-size="8.72" text-anchor="middle" textLength="36.00" lengthAdjust="spacingAndGlyphs" fill="#1a1a1a">cell pairs</text>
<circle cx="50.00" cy="514.60" r="2.30" fill="#000"/>
<text x="42.90" y="517.30" font-size="7.5" text-anchor="end" fill="#1a1a1a">4</text>
<circle cx="50.00" cy="525.20" r="3.30" fill="#000"/>
<text x="42.90" y="527.90" font-size="7.5" text-anchor="end" fill="#1a1a1a">8</text>
<circle cx="50.00" cy="535.40" r="4.10" fill="#000"/>
<text x="42.90" y="538.10" font-size="7.5" text-anchor="end" fill="#1a1a1a">12</text>
<circle cx="50.00" cy="545.70" r="4.80" fill="#000"/>
<text x="42.90" y="548.40" font-size="7.5" text-anchor="end" fill="#1a1a1a">16</text>
<rect x="87.20" y="414.50" width="20.40" height="137.30" fill="none" stroke="#999" stroke-width="0.8"/>
<rect x="134.30" y="414.50" width="20.20" height="137.30" fill="none" stroke="#999" stroke-width="0.8"/>
<circle cx="97.80" cy="424.10" r="4.25" fill="#fdb863"/>
<circle cx="144.30" cy="424.10" r="4.30" fill="#fdc980"/>
<text x="120.70" y="427.00" font-size="8.72" text-anchor="middle" textLength="15.80" lengthAdjust="spacingAndGlyphs" fill="#1a1a1a">CN1</text>
<circle cx="97.80" cy="443.70" r="2.75" fill="#5b93cc"/>
<circle cx="144.30" cy="443.70" r="2.10" fill="#4f86c6"/>
<text x="120.70" y="446.60" font-size="8.72" text-anchor="middle" textLength="15.80" lengthAdjust="spacingAndGlyphs" fill="#1a1a1a">CN2</text>
<circle cx="97.80" cy="463.90" r="3.60" fill="#cfe8f3"/>
<circle cx="144.30" cy="463.90" r="3.45" fill="#b5dcea"/>
<text x="120.70" y="466.80" font-size="8.72" text-anchor="middle" textLength="15.80" lengthAdjust="spacingAndGlyphs" fill="#1a1a1a">CN3</text>
<circle cx="97.80" cy="484.00" r="3.40" fill="#c0e0ee"/>
<circle cx="144.30" cy="484.00" r="3.15" fill="#8dbfe0"/>
<text x="120.70" y="486.90" font-size="8.72" text-anchor="middle" textLength="15.80" lengthAdjust="spacingAndGlyphs" fill="#1a1a1a">CN4</text>
<circle cx="97.80" cy="504.00" r="4.85" fill="#8b1528"/>
<circle cx="144.30" cy="504.00" r="4.85" fill="#8b1528"/>
<text x="120.70" y="506.90" font-size="8.72" text-anchor="middle" textLength="15.80" lengthAdjust="spacingAndGlyphs" fill="#1a1a1a">CN5</text>
<circle cx="97.80" cy="524.10" r="3.40" fill="#b7dbeb"/>
<circle cx="144.30" cy="524.10" r="3.15" fill="#8fc4e0"/>
<text x="120.70" y="527.00" font-size="8.72" text-anchor="middle" textLength="15.80" lengthAdjust="spacingAndGlyphs" fill="#1a1a1a">CN6</text>
<circle cx="97.80" cy="544.60" r="1.25" fill="#3b6fb6"/>
<circle cx="144.30" cy="544.60" r="1.25" fill="#3b6fb6"/>
<text x="120.70" y="547.50" font-size="8.72" text-anchor="middle" textLength="15.80" lengthAdjust="spacingAndGlyphs" fill="#1a1a1a">CN7</text>
<text x="97.20" y="412.40" font-size="8.28" textLength="77.00" lengthAdjust="spacingAndGlyphs" transform="rotate(-30.5 97.20 412.40)" fill="#1a1a1a">C6_TAM_APOE_C1Q</text>
<text x="144.90" y="412.50" font-size="8.28" textLength="33.50" lengthAdjust="spacingAndGlyphs" transform="rotate(-30.5 144.90 412.50)" fill="#1a1a1a">C11_FRC</text>
<text x="192.70" y="421.10" font-size="8.72" text-anchor="middle" textLength="63.60" lengthAdjust="spacingAndGlyphs" fill="#1a1a1a">Avg. interaction</text>
<text x="192.70" y="430.00" font-size="8.72" text-anchor="middle" textLength="34.00" lengthAdjust="spacingAndGlyphs" fill="#1a1a1a">intensity</text>
<rect x="187.2" y="439.2" width="8.8" height="40" fill="url(#rdylbu_v)"/>
<line x1="196.00" y1="440.60" x2="197.80" y2="440.60" stroke="#444" stroke-width="0.6"/>
<text x="200.20" y="443.20" font-size="7.5" fill="#1a1a1a">0.6</text>
<line x1="196.00" y1="454.40" x2="197.80" y2="454.40" stroke="#444" stroke-width="0.6"/>
<text x="200.20" y="457.00" font-size="7.5" fill="#1a1a1a">0.4</text>
<line x1="196.00" y1="468.60" x2="197.80" y2="468.60" stroke="#444" stroke-width="0.6"/>
<text x="200.20" y="471.20" font-size="7.5" fill="#1a1a1a">0.2</text>
<text x="192.80" y="495.60" font-size="8.72" text-anchor="middle" textLength="65.70" lengthAdjust="spacingAndGlyphs" fill="#1a1a1a">Prop. interacting</text>
<text x="192.80" y="505.10" font-size="8.72" text-anchor="middle" textLength="36.00" lengthAdjust="spacingAndGlyphs" fill="#1a1a1a">cell pairs</text>
<circle cx="192.30" cy="514.60" r="2.10" fill="#000"/>
<text x="200.70" y="517.30" font-size="7.5" fill="#1a1a1a">5</text>
<circle cx="192.30" cy="524.90" r="3.10" fill="#000"/>
<text x="200.70" y="527.60" font-size="7.5" fill="#1a1a1a">10</text>
<circle cx="192.30" cy="535.00" r="3.80" fill="#000"/>
<text x="200.70" y="537.70" font-size="7.5" fill="#1a1a1a">15</text>
<circle cx="192.30" cy="545.30" r="4.50" fill="#000"/>
<text x="200.70" y="548.00" font-size="7.5" fill="#1a1a1a">20</text>
<text x="259.00" y="391.40" font-size="13" font-weight="bold" fill="#000" stroke="#000" stroke-width="0.35">f</text>
<text x="330.80" y="392.50" font-size="8.72" text-anchor="middle" textLength="56.50" lengthAdjust="spacingAndGlyphs" fill="#1a1a1a">By cell cluster</text>
<text x="473.40" y="392.50" font-size="8.72" text-anchor="middle" textLength="54.00" lengthAdjust="spacingAndGlyphs" fill="#1a1a1a">By CN cluster</text>
<text x="616.00" y="392.50" font-size="8.72" text-anchor="middle" textLength="111.00" lengthAdjust="spacingAndGlyphs" fill="#1a1a1a">CXCL12 (C6, 11)–CXCR4 (C5)</text>
<clipPath id="cl7"><rect x="259.80" y="397.20" width="134.00" height="134.00"/></clipPath><g clip-path="url(#cl7)">
<rect x="259.80" y="397.20" width="134.00" height="134.00" fill="#9dc93f"/>
<path fill="#dc2430" d="M312.9 427.8l-1.2 2.1 -1.9 -0.4 0.2 -2 1.3 -0.6zM355.6 419.7l1.8 -1.6 0.5 2.4zM335.2 400.2l-0.1 1.5 -2.8 -1.3 2.2 -2.4zM280.4 487.5l-1.2 0.4 -0.8 -0.9 1.3 -2.1 0.6 1.1zM317.1 490.9l-1.8 2.6 -1.1 0.8 -0.5 -2.2 2 -2.1zM294.2 446.7l0.2 1.9 -0.8 1.5 -2.3 -2.7 0.6 -1.4zM326.2 414.9l-1.5 -2.1 1.8 -0.7zM308.3 421.2l-1.9 1.6 -1.1 -1.1 2.8 -2zM300.3 419.4l-0.6 -1.3 1.5 -2.3 1.7 0.8zM289 421.1l3.7 -1 -1.2 3.3zM360.3 481.2l0.8 -1.7 1.7 2.5 -0.9 0.6 -2.3 0.1zM294.7 399.4l2.7 -0.5 -0.6 2.7 -1.6 -0.4zM325.8 499.8l-2 0.1 -0.4 -3 1.4 0.1 1 1.7zM312.3 421l-1.3 -3.4 1.2 -1.2 1.5 4.4zM382.2 524.8l1.2 2.2 -1.7 1.1 -1.2 -2.1zM297.2 489l0.4 3.2 -2.1 -1.4 0.9 -2.3zM266.5 431.9l2.8 -0.6 1.6 0.7 -2.4 2.1zM348.2 400.5l0.5 3.6 -2 -1.2 -0.2 -2.5zM278.2 450.6l-2.5 2.4 -1.6 -2zM318.1 435.1l-1.7 -2 2.5 -0.9zM338.6 407.2l1 1.9 -2.5 0.5 0.1 -1.2zM372.2 408.6l-1.2 1.4 -1.7 -3.5 1.5 0.6zM268.5 490.5l3.5 2.1 -1.5 0.9 -2.3 -2.4zM320.8 468.1l2.2 2.3 -2 0.8 -2.5 -1zM264.4 417.5l-0.6 1.2 -1.9 -0.3 -0.6 -0.7 0.5 -2.1zM329.6 518.9l-1.6 1.1 -0.1 -2.2 0.1 -1.7 1.8 1zM312 494.2l0.9 -3.6 1.4 2.1 0.2 1.9zM338.2 526.2l-2 -0.5 -1.6 -0.8 1.3 -1.4 2 1.1zM286.9 439.1l-1.6 0.8 -0.9 -1 1.3 -2zM269.8 471.2l1 2.3 -2.1 1.6 -1 0.1 1 -2.4zM345.4 411.2l-2.1 -0.9 -1.3 -0.9 2.8 -0.9 2.3 1.4zM262.8 398.6l3.1 1.5 -1.1 0.9zM381 445.3l0.1 -3.1 2.2 2.5zM345 522.2l-2.1 -2.6 3 -0.5zM317.6 483.1l2.1 -1.4 1.5 2.4 -2.5 0.5zM373.3 399.7l-1.7 2.9 -1.5 -0.9 1.2 -1.8zM335.1 468.9l2.9 -0.2 1.3 1.2 -3 1.4zM284.9 406.1l-2 -0.7 3.3 -2.3 1.5 2.1zM327.4 502l1.7 -1.2 1.3 0.1 -0.5 2.6zM331.6 475.9l-0.6 2.3 -1.1 -0.8zM388.8 518.3l0.3 2 -2.8 -0.1 0.8 -2.5zM284.5 449.2l-0.5 -2.9 2.1 -0.3zM263.7 448.1l1.7 2.3 -2.1 0.5 -0.5 -2.6zM378.6 423l-2.4 -0.2 0.9 -1.5 1 -1.4 1.3 0.7zM272.9 446.3l1.6 1.1 -2.4 1.3 -1.6 -1.6zM370.4 413.4l-2 3.2 -1.2 -3.4zM342.4 528.2l1.9 1.9 -0.4 1.1 -1.2 1.4 -0.7 -2.8zM290.1 508.7l-1.7 -1 0.1 -2.3 2 0.4zM310 469.5l-1 -0.8 0.1 -2 2.4 0.6zM341 416.1l-1.4 -0.7 0.7 -2.5 2.4 -0.4 0.8 1.7zM269.8 457.6l-2.2 -2 3.5 -0.8zM299.7 421.4l-2.2 1.1 1.2 -2.7zM309.2 495.6l2.6 0 -0.1 1.6 -2.6 1.7 -0.2 -1.8zM261.6 459.6l0.3 -1.3 3.2 1 -2 1.8zM317.4 483.6l2.2 -1.7 1.4 2.1 -1.6 1.7 -1.2 0.1zM370.5 403.9l1.6 1.4 -2 0.6 -1.2 0.1 -0.5 -1.9zM283.7 438.9l-0.7 -1.5 3.3 -0.9 -0.3 1.6 -0.1 1.6zM326 504.3l2.5 -0.4 -1.5 3.9zM294.3 402l-0.7 2.4 -2.5 -1.6 1.1 -1.9zM325.1 403.1l2.4 -1 -0.9 2zM362.7 501l-2.1 2 -2 -1.5 2.3 -1.1zM333.1 505.7l-2.4 1.2 -1.1 -2.5 0.6 -0.9zM305.2 446.9l-1.9 -0.1 -1 -3 3.4 0zM344.9 453.8l2.6 -1.3 0.7 2.1 -2.5 0.6zM361.5 425.3l-0.8 -2.1 0.9 -1.4 1.7 0.2 -0.5 3.1zM293.7 473.7l1.8 -2.6 1 2.3zM329.7 429.5l-2.3 -0.9 1 -2.1 1.4 1.2zM285.7 497.3l1.5 -0.4 2.6 0.8 -2.7 2.1zM335.1 524l-0.2 2.4 -2.2 -2.1zM350.3 416.9l3.8 1.1 -0.3 1.8 -1.6 0.2zM329.6 437.4l-2.4 0.8 -1.7 -2 2.9 -1.7zM384.7 428.4l1.5 -1.7 0.4 3.8 -1.3 0.3zM347.9 416.2l-0.3 -2.6 1.1 0.9 1.5 1.2 -0.9 2.3zM296.6 421.7l1.4 2.5 -1.5 1.5zM298.1 406.9l-1.4 1.2 -1.5 -2 -0.6 -1.5 2.8 0.5zM284.9 460.8l-1.7 -3.2 3 1.8zM341.3 496.1l1.7 -2.5 2.1 2 -1.2 2.7zM292.3 446.7l2 -2 1.8 0.4 -1.7 3zM272.2 509.6l1.2 -2.9 1.1 2.3zM382.1 416l-1 -1.8 3.1 -2.1 0.8 1.7zM344.4 511l-1.5 2.9 -1 -1.4zM315.7 427.8l-1.8 1 -0.2 -2.6zM288.2 436.7l2.7 -3.5 1.6 0.7 -2.5 3.2zM290.8 422.5l0.6 -3.5 1.7 0.1 -0.9 3.8zM296.1 441.2l-0.2 3.2 -2.3 -1.5zM343.1 400.9l0.3 -1.2 2 -1.1 0.8 1.4 -0.4 1.9zM272.4 502.1l2.5 -1 1.4 -0.1 -2.5 2.6zM277.4 430l-1.1 -1.1 2.6 -1.2zM343.8 462.9l1.5 -0.3 -0.7 3.5 -2.5 -0.9zM388.3 469.8l-2 -2.5 1.4 -0.6 2.9 1.1zM292 417.7l1.4 2.5 -3.5 -0.5zM316.4 485.6l2.7 1.2 -0.9 1.5 -2.6 -1.4zM346.5 473.7l-2.6 -0.3 2.4 -2.3zM327.6 463.4l0.9 -0.9 -0.3 3.5zM286.6 475.3l4.9 -0.3 -2.2 2.1zM363.4 489.8l2.6 -2.2 0.3 1.3 -1.4 2zM303.1 490.7l-1.1 0.5 -1.6 -0.4 -0.9 -0.6 2.5 -1.5zM370.9 496.4l2.2 -0.1 1.5 3 -1.3 0.2 -3 -1.9zM329.1 504.5l1.3 2.2 -2.3 0.3 -1.3 -0.8zM298.5 402.7l1.9 -1 1 -0.3 -0.7 2.1 -1.7 0.6zM338.7 419.2l-2.7 -1.7 1.1 -1.9 1 0.7zM291.5 398.4l3 -1.1 0.3 2.6 -1.8 1.2zM390 432.5l-1.5 1.4 -1.6 -1.9 1.1 -1.3zM275.3 408.5l2.5 2.1 -2.9 -0zM372.7 525.3l-1.7 -2.1 1.4 -1.1 2.2 1.2 -0.2 2.1zM270.5 451.2l2.5 0.2 0.6 3.2zM282.4 495.5l1.1 2.2 -2.9 1.5 -0.9 -2.5zM367.2 457.7l-2.7 2.5 -0.3 -2.1 2.1 -2.6zM336.6 476.5l-1.6 2.7 -2.3 -1.8 1.2 -1.2zM262.5 417.3l-0.2 2.1 -3.8 -1.2 1.6 -1zM360 528.7l1.2 1.4 -3.2 0.5 0.6 -2.1zM377.7 507.6l1.2 2.4 -2.5 1 -1.5 -1.7zM278 500.9l2.4 -0.8 1.4 2.1 -2.1 0.2zM278.2 489.1l-0.8 1.8 -1.7 0.4 -1 -2.7 1.4 -1zM307.2 469.4l1 0.8 -1.4 1.4 -2.1 -0zM292.1 400l-1.5 3 -2.2 -0.4 -0.5 -0.5 1.4 -1.7zM285.8 474.4l1.1 2.6 -2.3 0.5 -1.5 -1.7zM313.9 462.9l1.5 -3.5 -0.2 2.1zM385.1 462.1l-0.6 3.2 -1.6 -2zM323.1 496.2l1.4 -1.8 1.4 0.7 -0.1 2.9zM335 509.7l0.2 1.8 -3.4 -0.4zM284.6 499.7l0 2.4 -3 -0.4 1.1 -2zM356.8 470.4l3.3 0.8 -1.8 1.4zM348.3 479l3 0 -2.2 1.3zM323.9 521l0.5 1.9 -2.3 1.7 0.3 -2.4zM394.8 454.1l-1.9 0.2 -1.4 -2.3 3.1 -0.1zM265.2 434.1l-1.7 0.2 1 -3.5 2.1 2.7zM359.4 424.9l-0.8 1.9 -2.5 -3.6zM348 473l-3 -0.2 -0.5 -1 2.3 -1.5zM395.2 516.8l-0.9 0.8 -2 -0.4 -1.6 -1.1 1.9 -0.7zM325.4 514.3l0.4 -3.4 2.6 2 -1.7 1.7zM312.1 419l-2.5 -0.5 0.5 -3 2.3 1.9zM315.3 523.5l1.6 -1.1 1.7 -0.5 0.3 1.4 -0.4 1.1zM285.1 487.5l2.3 1 1.3 2zM363.9 507.2l0.5 -1.6 1.4 -0.6 0.7 1.7 -0.8 2.4zM339.1 464.3l-3.1 -2.4 3.1 -0.1zM319.1 443.4l2.8 -2.4 0.1 2.7zM365 437.6l1.8 2.4 -1.9 1.2 -1.7 -0.3 0.8 -2.4zM343.4 474.1l1.1 -3.1 1.8 -0.4 -1 3zM382.5 462.7l0.2 -2.9 1.8 0.1 0.7 2.3 -1.4 1.3zM310.8 479.2l-0.1 -4.1 1.7 1.4zM368.5 488.4l-1.6 1.8 -1.4 -1.5zM302.2 439.7l-1.7 1.1 -0.6 -3.2zM328 495.7l-0.1 1.4 -2.4 1.6 -0.3 -2.8zM285.7 445.5l-0 0.9 -4.4 -0.4 1.7 -1.5zM371.6 486.1l1.3 1.5 -0.7 1.7 -3.2 -0.4 0.9 -2.4zM285.1 490.6l-2.2 1.8 -1.5 -3.1zM331 401.3l-2.3 0.5 -0.5 -1.5 2.7 -0.7zM389.3 438l-1.5 -2.5 1 -1.2 1.9 -1 0.8 2.6zM275 451.9l-2 0.8 -0.8 -2.5 2.2 -1.3zM321.7 463.9l1.5 -1.7 1.8 1.2 -1.6 2.4 -1.6 -0.8zM374.4 471l-2.2 -2.6 1.1 -2.1 1.7 2.9zM357.6 524.6l0.2 -1.7 2.1 -0.3 0.3 1.6 -1 1.7zM330.6 437.5l-0.8 2.9 -2.5 -1.1 0.8 -2.6zM279.5 500.8l0.7 0.4 -1.5 3.2 -0.9 -2.6zM383.5 463.2l-1.8 -0.4 0.4 -1.4 0.9 -0.8 1.5 1.5zM339.6 399.1l0.2 -1.9 2.6 0.5 -1.3 2.5zM369.6 520l-0.7 -3.1 1.8 1.1zM353 520.1l2 -0.6 0.4 2.5zM368.5 410.4l-2 -0.2 0.2 -2 2 -0.6 0.7 2.1zM392.3 454.5l1.3 -1.4 1.5 0.8zM344.9 402.2l-1.1 2 -1.8 -1.2 0.2 -0.9zM326.7 516.6l-1.1 0.9 -1.3 -2.9zM366.5 478.7l-1 1.1 -2.1 -2.9 2.5 -0.5zM315.3 453.6l0.8 2.8 -3.5 -0.2 0.1 -1.1zM308.3 470.1l-2 -2.4 3.5 -0.5 0.9 1.5zM283 459.7l0.3 -2.5 1.4 0.4 1.1 2.3 -1.8 1.1zM318 522.2l-1.4 -1 0.8 -1.1 1.9 0.4 -0 2.2zM294.1 402.2l1.9 -1.2 1.6 1.3 -1.5 1.7zM280.7 436.1l1.2 0.5 -1.5 3 -2.3 -0.3zM278.7 460.9l2.7 -1.3 0.8 3.2zM301.5 491.3l0.6 -2.6 2 -0.1 -0.4 1.8zM287.1 491.1l1.4 1.9 -0.3 1.8 -2.3 -1.9zM348.5 451.9l-1.8 -2.9 2.1 -0.8 1.4 1.2zM268.7 469l-1 -1.2 2.1 -1.8 1.1 1.8zM349.9 429.2l0.2 0.5 -0.9 1.5 -2 -2.1zM274.7 512.5l-0.4 1 -2.3 0.3 0.4 -1.6zM329.6 529.7l-1.9 -0.5 0.3 -2 3.7 0.7zM336.3 477.4l-2 -0.6 0.4 -1.9 1.6 1.1zM348.4 404.5l1 -1.5 2.4 0.4 -0.9 2.6zM356.8 470.6l0.3 4.6 -1.9 -2.6zM290.2 405l0.4 2.5 -3.4 0.1 1.8 -2.5zM322.3 512l-0.9 2.7 -2 -0 1.6 -3.6zM281.5 501.4l2.7 3.4 -3.1 -0.1zM362.6 405.8l-1 -4.1 1.4 -0.4 1.1 3.6zM353.3 460.6l-0.3 1.9 -1.2 2 -0.8 -1.2 0.3 -1.6zM330.9 499l2.5 -0.7 0.7 1.8zM325.8 471.7l2.3 -1.8 1 2 -3.4 1.9zM268.4 515.3l-0.6 -1 0 -1.6 0.8 -0.5 1.5 1.2zM276.6 464.4l-1.6 -0.6 0.8 -2.3 1.8 -0.8 0.4 0.9zM367.7 496.1l-2.3 0 -1.3 -1.7 3.7 -0zM325.7 463.2l2.5 3.1 -1.7 0.2zM295.8 429.9l-0.6 4 -1.4 -1 0.1 -3.1zM361 412.5l-1.4 0.1 -0.3 -3zM359.8 443.8l0.7 1.3 -3.8 0 0.2 -1.1zM298 423.4l-1.6 -3.2 2.2 -1.9 0.8 1.6zM279.6 480.8l1.2 2 -2.8 -0.4 0.2 -1.2zM365.6 444.2l-3 0.2 0.8 -0.9 2.5 -0.2zM319.3 445.2l2.3 1.5 -1.4 1.9zM343.8 429.2l-1.1 1.1 -1.9 -0.3 0.8 -2.5 1.5 0zM392.2 504.6l2.2 0.8 -2.1 2.7 -1.3 -1.2 -0 -1.2zM357.1 469l-2.4 -0.6 -0.2 -1.6 2.8 0.4zM266.7 513.2l-2.1 -1.3 1 -1.8 1.2 0.2 1.5 1zM350.7 508.7l1.7 2.5 -2.3 -0.1zM333 426.9l-1.6 3.9 -0.6 -1.1zM283.5 426.6l1 0.9 -0 2.7 -2.8 -1.5zM266.3 405.8l-0.3 -0.7 0.4 -2.1 2.8 0.4 -0.4 1.2zM387.1 444.7l-0.2 1.8 -3 -0.8 0.6 -1.9zM298.3 445.1l-2.9 2 1.5 -2.7zM330.2 397.7l1.9 0.4 1.3 1.9 -2.3 0.3zM273.7 526l-0.5 2.2 -3 0.6 0.3 -1.8 2.1 -1.6zM283.1 512.1l-2.8 0.6 0.3 -1.9 1.5 -1.2 1.5 1.7zM351.3 501.2l1.7 -2.4 0.1 2.1zM300.8 454.3l2.6 0.8 -0.7 1.2 -1.5 0.6zM329.2 457.1l-0.5 2 -2.1 -3 1.6 -1zM310.5 491.8l1.1 1.7 -0.7 1.8 -2.3 -0.6 -0.8 -1.6zM354.8 474.7l1.7 0.3 -3.2 2.2zM389.9 414.4l-1.4 -3.7 2.7 -0.9zM304 498.4l-2.2 1.5 -0.2 -3.3zM388.2 424.8l-1.3 -0.8 -1.2 -1.1 0.9 -1.7 1.3 0zM301.2 403.7l0.6 -2.2 2.8 2 -2.5 1.2zM383.8 489.7l0.4 -2.3 1.6 -0.9zM319 428.3l1.6 0.5 -1.1 2.8 -1.4 -1.8zM265.2 478.2l1.7 1.4 -1.6 2 -2.1 0.4 0.3 -1.5zM293.8 467.4l1.4 0.1 0.4 2.9 -2.6 -0.5zM310.2 406.5l2.8 -0.4 -1.7 2zM307.2 521.8l-0.8 -2 2.1 -1.2 1.7 1.7 -1.5 1.1zM393.9 455.3l-2.1 1.4 -1.5 -0.9 -0.2 -2 2 -0.6zM322.1 509.5l-2.6 -0.2 2.9 -1.7zM337.1 417.7l1.2 -2.2 2.4 0.8 0.7 1.1 -1.7 1.1zM288.1 405.1l-1.2 1.5 -1.2 -1.5 -0.9 -2.5 2.4 0.4zM312.2 454.2l0.2 2.7 -1.6 -0.3 -0.5 -1.8zM282.5 406.7l2.4 -0.4 -1 2.6 -2.1 -0.3zM349.1 453l-2.4 -1 0.3 -1.3 2.2 0.1zM354.3 414.4l-0.8 -1.8 3.3 -1.9 0.5 2.8zM322.8 496.1l3.3 -0.7 -2.4 2.2zM294.1 461.2l-1.4 0.3 -1 -3.2zM278.1 479.3l-2.2 1 -1.2 -2.2 1.5 -1.4 2.1 1.1zM269.1 414.4l-2.6 -0.3 1.8 -2.8zM350 402.3l-0.4 -2.7 3.6 1.3 -1 1.6zM279.9 403.9l1.1 2.6 -1.7 0.7 -2.3 -2.1 2 -0.8zM273.1 485.1l1.5 -1.5 1.3 1.6zM316 401.2l-0.2 2.7 -2.3 0.4 -0.7 -1.2 -0.5 -1.1zM364.8 400.2l1.6 3.1 -2.4 -0 0 -2.8zM285.7 437.6l-0.1 -1 1.7 -1 1 2.7zM349.8 482.9l-1.5 2.7 -1.3 -3.7zM339.5 508.6l-2.4 1 -1.5 -0.7 0.8 -2.3 1.1 0.5zM275.9 472l-0.9 -0.4 -0.2 -1.4 2.3 0.1 0.8 1.4zM272.1 446.9l-0.8 1.1 -1.4 -1.2 1.6 -2zM303.5 422.7l3 -1.2 -1.2 2.9zM264.9 506.1l-1.8 2.4 -0.7 -1.1zM355 427.9l2.1 1.8 -1.2 1.2 -1.8 0.3 0 -1.8zM266.7 496.2l0.7 -1 2.5 2 -1.9 2.3 -1.8 -1.3zM264.3 400.6l1.2 3.5 -2.6 -1.5zM388.9 399.8l-2.1 0.1 -0.9 -2.3 2.9 0.2zM323.8 400l-1.7 -2 1 -1.1zM338.4 521.5l-2 -1.4 1.9 -1.9 1.6 2.2zM346.5 447.2l-2.1 -1.1 -0 -2 3.6 1.1zM264.1 515.8l-2.2 -0.4 -0.8 -2.7 3 0.6zM328.8 456.9l-1 2.5 -1.8 -1.1 2.2 -3.8zM370.2 495.1l-1.4 -2 3.2 -0.9zM346.1 482.5l2.5 2.7 -2.3 -0.4zM342.7 399.9l-1.7 1.9 -0.8 -2 1.6 -1zM349.3 479.8l0.1 -1.7 3.1 -0.7 -0.5 3.2zM379.8 439.1l0.8 -3.3 1.3 1.9 -1 2zM261.3 396l-0.1 3.1 -2.6 -1.2zM331.7 449.6l-1.6 2 -1.6 0.4 0.1 -3zM362.3 462.5l0.4 -2.4 2.4 1.9 -0.6 1.2zM321.2 439.1l-0.7 -1.9 2.4 -1 1 1.1zM325.6 406l2.9 -1 -1.2 2.3zM386.8 489.3l-2.7 -0.6 1.8 -1.6 2.1 0.6 0.2 0.6zM345.7 443.1l-0.2 2.1 -1.7 2 -0.5 -1.7 0.6 -2.7zM283.5 501.3l-0.8 -2.5 2 0.8zM280.2 399.6l1 -1.8 1.7 0.6 0.6 1.3 -1.2 1zM344.3 428.6l1.4 -0.7 1.5 1.1 0.6 0.8 -1.8 1.4zM295.3 522.5l-1.3 1.6 -1.3 -2.7zM270.7 490.9l-1.1 2.9 -1.9 -0.9zM390.9 468.5l-3.3 0.2 0.1 -1.6 2.8 -1.4zM324.5 416.8l-1 -2.2 2.1 -0.3 1 1.9zM336.1 405.8l1 2.8 -2.7 0.4 -0.9 -2.4zM319.1 522.7l1.7 -2.8 0.7 3.1 -1 0.8zM288.4 455.7l-0.4 1.3 -1.7 1.3 -1.3 -2.6zM338.7 523.7l0.3 -1.6 2.2 -0.1zM278.3 508l2.9 1.9 -1.9 1 -2.5 -1zM272.3 481.1l2.4 1.4 -1.6 1 -2.2 -1.3zM303.1 423.4l0.9 -1.8 1.5 4.5zM345.2 412.3l-2.3 -0.3 0.4 -1.8 3 1.5zM291.6 414.8l-3.1 -0.6 2.2 -2.7 1.7 1.3zM284.8 504.1l-1.4 0.9 -2.4 -0.7 -1.1 -0.8 3.3 -0.2zM327.6 507l0.1 -2.5 2.2 -0.6 2 1.4 -1.4 1.6zM336.8 461.1l-0.9 -2 0.7 -2.1 1.3 3.4zM278.5 425.6l-1.2 -2.1 3.2 -0.6zM285.8 401l-2.4 -1.5 1.4 -1 1.8 -0.1 0.4 1.5zM308.6 420.8l1.8 -0.7 1.2 1.2 -2.1 1.9zM352 478.4l0.7 1.3 -3.6 0.2zM273.3 518l-0.6 -1.2 2.3 -2.5 0.6 1.4zM272 496.9l2.8 0.8 -3.5 2.1zM287.2 455.7l-1.6 -0.6 -1.1 -1.6 2.6 -0.1 1.6 1zM346.8 444.3l2.3 -0.7 -0.1 1.5 -2.9 1.2zM295.9 431.5l-2.2 -0.6 -1.5 -0.3 1.2 -3.3 1.9 0.9zM366.2 521.1l3.1 -0.5 -0.7 2.8zM345 493.4l1.3 -1.4 2.2 -0.1 -0.5 1.3zM288.8 509.5l2.2 1.4 -0.1 1.2 -2.9 -0.1zM265 520.6l1.6 1.9 -2.4 1.5 -1.3 -1.4zM276.8 472.4l-1 1 -1.7 -1.8 2.7 -1.4zM325.8 406l0.4 1.1 -0.4 1.1 -1.8 -1.9 -1 -1.4zM293.1 495.2l-2.3 0.8 -0.6 -2.2 3.5 0zM276.5 433.8l-2 -0.2 -0.3 -1.2 1.2 -0.4 1.5 -0.3zM317.7 509.2l0.2 -1.4 2.2 -1 0.9 2.1zM305.6 446l1.7 -1.7 0.7 1zM385.2 415.4l1 -0.5 1.4 2.3 -2.5 1.2zM371.4 429.8l-1.4 2.6 -1.6 -1.8 0.7 -1.7 1.9 -1zM385 485.8l-0.5 -0.9 3.2 0.1 0.5 1.5zM281.1 418.7l-2.1 0.4 -0.9 -1.7 -0.3 -1.6 2.2 1zM296.2 400.6l0.8 1.7 -2.8 1.5 0.2 -2.7zM394 473.3l-0.7 0.5 -2 -1.6 1.7 -1.1 2.4 0.1zM353.9 462.5l-1.7 -1.5 1.4 -1.4 1.8 -0 0.4 1.9zM279.9 465.3l1.8 1.7 -0.7 1.2 -2.9 -0.7 0.2 -1.7zM305.8 446.9l0.1 -1.7 3.4 1.2 -1.1 1.2zM360.9 396.3l-0.2 3.1 -2.2 0.2zM274.7 454l0.3 2 -0.4 1.5 -2.3 0.2 0.8 -2.3zM322.6 508.6l2.9 -1 1.4 1.1 -1.7 0.8zM328.5 398.3l1.5 2.3 -3.2 -1.9zM285.4 501.1l-4.6 0.9 0.6 -2.5 2.5 0.9zM385.9 431.6l2 0.6 -0.3 1.8 -1.3 0zM356.7 494.9l-2.6 0.4 -1.4 -1.4 1.7 -1.4 1.7 0.8zM354.5 424.3l-3 1.5 1.4 -2.2zM380.9 397.8l0.2 1.5 -1.1 1.6 -2.6 -1.4zM274.1 445.9l2.6 -0.7 -1.2 2.2zM261.1 430.2l-0.7 -4.1 2.1 -0.5 -0.4 3zM310.4 510l-0.9 2.7 -1 -0.8 -0.8 -2.3zM288.9 477.6l-1.4 0.7 -2.9 -0.1 1.6 -2.1 1.4 -0.4zM314.7 400.1l-2.2 -1.5 2.7 -1 1.1 1.2zM340.1 487l2.4 1.3 -0.1 1.5 -3.4 -0.6zM334.2 473.7l-1.8 1.2 -0.7 -1.4 0.5 -1.1 1.2 0zM377.4 501.8l-0.6 -2.4 2.6 -1.5 0.8 1.4zM363.8 432.1l-0.1 -1.7 2.6 -1.1 0.3 3zM376.2 523.7l1.2 1.8 -1.3 2.2 -0.6 -0.9 -0.5 -1.8zM287.9 420.2l2.3 0.7 -2.8 1zM298.8 424l1 1.1 -0.7 2.2 -0.9 -0.5 -1.7 -1.9zM340.1 527.7l1.7 -2.1 1.1 3zM360.9 436.5l1.1 -3 2.4 2.6 -0.8 1.5zM368.8 519l0.5 -1.1 1.5 -1.6 2.3 1.5 -2 1.8zM337 414l-2 -1.3 -1 -0.6 1.6 -2 1 0.4zM321.1 442.3l-1.6 -3.1 3.4 2.1zM266.7 454.5l-0.3 2.1 -1.5 0.2 1 -2.6zM331.6 520.2l1.5 0.2 0.1 2.2 -2.3 -1.2zM302.3 503.7l0.7 2.2 -2.1 -1.7zM339.3 453.6l-2.2 1.7 -1.7 -1.4 1.9 -2.4 2 -0.3zM388.8 463.5l0.2 -1.5 2.3 0.9zM356.1 463.4l2.1 0.6 -0.1 2 -2.4 -1.5zM324 484.6l3.4 0.4 -0.7 1.7zM301.6 528.6l2.4 -0.2 -0.3 2.8zM348.5 507.3l-1.7 1.9 -1.9 -0.2 1.3 -2.2zM377.9 483.4l-2.7 -0.5 -1.5 -1.4 2.6 -1 1.1 0.4zM305.4 519.8l-1.5 1.3 -1.4 -0.5 0.2 -1.8 1.6 -0.1zM279.7 500.7l-2.4 -2.1 2 -0.9 1.9 0.6zM286.7 515.6l2.3 -4.2 0.3 2.9zM307.2 478.9l-2.3 0.7 -0.1 -1.2 0.4 -1.7 2.7 0.2zM377.1 461.4l2.7 0.3 -1 1.5zM363.4 408.4l1.2 -0.5 1.2 2.3 -2.7 0zM311.8 419l-2.2 -1.5 2.5 -1.1 0.9 2zM345.7 511.4l-1 0.1 -1.3 -1.8 0.3 -1 3 0.4zM328.8 405.9l1.4 1.2 -1.5 1.8 -2.8 0.7 1 -1.7zM361.4 421.7l-0 2.2 -0.9 0.7 -1.5 -1.5 0.4 -1.8zM334.3 430l-2.8 -0.3 -0.9 -3 2.2 -0.1zM309.9 436.8l-0.4 -1.7 2.4 0.5 0.3 1.1zM314.4 509.8l1.5 0.4 0.2 2.1 -2.1 0.1zM264.9 401.5l0.5 2.9 -2.8 -0.3 -0.9 -2.2 1.8 -0.1zM332.7 456.8l-2 1 -1.4 -1.4 1.5 -1.4 1.4 -1zM309.7 498.9l-1.2 2.2 -2.1 -2.1zM279.8 428.4l2.7 0.2 -0.6 2.7zM371.7 399.9l-1 1.9 -1.3 0.6 -0.5 -1.8 1.2 -2zM366.1 453.2l-1.3 -0.5 0.1 -2.2 2.2 1.2zM295 501.7l2.1 0.7 -0.5 2.9 -2.1 -2.3zM388.8 466.6l3.2 0.8 -1.3 1.9zM282 412.6l-1.8 -1.8 2.5 -1zM356.2 453l1.7 2.6 -1.2 1.2 -2.6 -2zM294.7 498.7l-1.8 -0.3 1.8 -2.7 2.6 0.8zM351.8 478.2l-0.5 1.9 -2.1 -0.9 -1 -1.6 2.6 -1z"/>
<path fill="#2f50b4" d="M315.6 495.9l0.2 3 -3.5 -1.7zM383.4 494.7l0.7 -1.9 2.1 1.3 -0.2 1.7zM339.5 406l1.7 -0.8 1.2 2 -0.9 2.2 -0.9 -0.1zM294.8 502.7l-2.6 -0.2 0.9 -3.2 1 0.6zM299.6 468l0.2 -1.7 2.8 -0.2 -0.8 2.1zM270.9 481.6l-3.5 -0.9 0.7 -1 2.3 -1zM290.8 404.7l0.1 -1.9 1.9 0.3 0.2 2.1zM393.9 493.2l-1.5 -1.4 0.2 -2 2.9 1.5zM351.4 485.6l-2.4 -0.2 1.9 -1.3zM278 486.1l-0.3 1.2 -2.1 0.7 -0.1 -1.8 0.8 -1.7zM268.3 403l-0.6 -2.3 3.1 1.7 -0.6 1.7zM277.2 468.2l-0.6 -2.3 2.2 -0.2zM302.3 443.5l0.3 2 -2.3 0.4zM315.3 413.1l1.4 -0.8 2 1.1 -2.1 0.8 -2.4 -0.3zM278.9 511.3l3.3 -1.7 0.5 2.4zM324.6 473.4l-1 1.2 -2.1 0.5 -1.2 -1.9 2 -1.1zM318.6 446.6l-2.6 -0.1 -1.4 -1.2 1.3 -1.2 1.5 0.2zM273 408.9l-0.7 2.8 -1.9 0.1 0.1 -2 1.1 -0.9zM388.9 462.4l0.5 -2.8 1 -0.2 1.9 1.3zM283.7 444.8l-2.3 -0.7 1.8 -1.7 1.1 0.1zM287.3 448.4l1.6 2.4 -0.7 0.7 -2 -1.1zM298.1 462.4l0.6 -1.6 1.7 -2 1 3.5zM315.3 481.6l-0.8 -3.4 1.2 -0.1 1.9 1.1zM381.8 415.4l-0.6 1.5 -2.3 -1.3 1.2 -2.4zM281.8 480.7l2 -0.8 1.1 2.7 -3 -0.9zM326 428.7l-0.1 2.7 -2.4 -0.3 0.3 -3.9zM274.7 423.3l0.8 -2.2 1.1 2.6zM390 402.2l-1.8 2.1 -0.9 -2 1 -2.1zM331.1 407.8l1 -2.7 1.8 1.2 -0.1 2.4zM364.3 494.3l0.2 1.5 -1.1 1.4 -1.3 -2.8zM360 511.2l0.5 0.5 -1 2.7 -1.3 -1.3 -1 -0.9zM332.9 408.8l0.2 -2.8 2.6 2 -1 1.7 -1.4 0.3zM315.4 471l2.3 1.9 -2.6 0.4 -1.6 -1.9zM289.9 408.1l1.3 1.4 -1.9 1.8 -1.4 -1.6zM289.9 429.3l-0.1 -2.7 1.7 -0.3 1.1 2.4zM325.2 424.6l-1.7 -2 0.7 -1.1 1.3 -0.5 1.5 0.9zM279.3 398.9l2.1 -1.5 0.3 2.5zM286.3 506l-2.2 0 -1 -1.1 3 -1.2zM347.5 511.2l1.5 1.8 -3 -1.3zM291 397.9l1.8 -1.9 1.8 1.3 -0.1 1 -1.3 0.3zM347.4 411.5l-0.4 2.6 -2.4 -2.6zM336.1 464.7l-3 -0.3 0.7 -2.4 1.1 0.6zM350.7 446l1.6 -1.5 2.7 0.6 -0.6 1.4 -1.5 0.7zM384.2 478.9l-2.2 2.3 -0.7 -2.6zM336 398.5l-2.3 -0.3 2.3 -2.1 2.3 0.8zM315.3 486.1l1.1 1.1 -1.3 1.9 -1.5 -1.8zM353.2 429.2l1.8 -1 1.5 1.9 -2.8 0.8zM327.9 474.2l-1 3.5 -1.2 -3.5zM383.5 439l0.7 2.5 -2.1 -0.2zM385.5 507.5l1.1 -0.7 1.2 2.1 -1.2 1.4zM283.8 484.4l-2.9 1.2 -1.8 -1.1 2.4 -2.1 1.7 0.7zM315.1 481.8l-2.2 2 -1.8 0.5 0.6 -2.1 1.5 -0.5zM349.3 474.2l1.5 -0.8 0.6 0.6 -0.8 1.9 -1.5 -0.4zM307.8 402.7l-0.4 1.4 -2.4 -1.2 1.3 -1.4zM370.8 524.3l-2.7 0.6 -1.1 -1.5 1.7 -2.1zM306.9 420.8l2.4 0.3 -2.4 1.5zM294.2 513.7l-2.3 -4 1.4 -1.2 2.5 2.6zM302.4 437l1.7 -1.1 1.5 1.4 -0.9 1.9 -1.5 -0.5zM381.7 438.7l-2.8 -0.1 2.6 -2.4zM384.3 419.3l3.7 -1.8 -1.6 3.5zM299.7 480.5l-1.2 -1.4 3 -2 0.8 1.4 -1.5 2.9zM273.5 491.7l2.4 0 0.3 1.1 -2.9 2 -0.6 -0.9zM390.9 437.2l1.1 1 -1.9 2.5 -1.6 -2zM288.4 401.6l-2.4 0.9 -2.3 -1.4 2.5 -1.7zM372.3 464.5l2.3 -1.4 0.2 1.7 -1.1 1.3 -2.4 -0.2zM282.8 481.8l-2.7 1.9 -1.3 -2.7 2.2 -0.6 1.7 0.6zM336.7 463.5l-3.2 -2.7 3.9 1.1zM327.4 506.6l-1.7 1.4 -1.7 -0.1 -0.2 -2.7zM322.1 530.3l-1.4 -0.9 2.7 -1.7 0.7 1.4zM363 471.1l-0.2 2.5 -1.9 -2.1 -0.4 -1.1 2.5 -0.4zM374.6 470l2.3 -1.6 0.2 3.9 -1.4 -0.3zM363.4 486.7l1.6 0.8 -0.5 2.8 -2.9 -2.3zM287.3 471.6l0.5 1.4 -2.4 0.6 -1.5 -0.4 0.5 -2.6zM277.4 470.8l-0.9 0.3 -0.4 -2.1 2.7 -0.6zM350.1 525.1l-2.6 -0.2 -0.7 -2.5zM350 397.8l-0.6 1 -1.8 0.2 -0.8 -1.9 1.6 -0.7zM271.6 470.1l0.5 3.7 -1.6 -1.8zM326.5 425.1l-1.1 -1.2 0.1 -2.2 1.5 -0.6 1.2 2.5zM312.7 409.9l-0.7 0.5 -1.9 -1.4 2.8 -2.3zM369.9 516.2l-2.1 0 -0.6 -2.4 2.1 -1.1zM282.5 434.7l2.3 -1.1 1.1 0.8 0.7 2 -3.6 -0.4zM264.8 401.9l3.5 0.1 -1.5 2.9 -1.9 0.4zM322.4 500.7l-0.4 1.3 -2 1 -0.4 -2.1zM366.9 402.5l-2.4 -0.2 -1.1 -2.1 0.3 -1.1 1.7 0.2zM327.7 466.6l2.8 -2.6 -0.2 3.2zM267.4 409.9l-1.1 1.7 -1.6 0.2 -0.4 -1.7zM289.2 518.1l1.4 1.4 -2.2 0.9 -2 -2.5zM265.3 505.8l1.2 0.6 -0.2 2.6 -1.8 -2zM315.3 404.7l1.2 -2.1 2.4 0.8 -0.9 1.9 -1.4 0.6zM361.5 474.5l2.3 3 -2.4 -1zM272.1 421.1l-2.7 -0.2 0.8 -2.6 1.8 -0.8 0.5 2.1zM286.6 445.6l-1.8 -3.1 2.5 -0.7 0.7 1.4zM323.1 401.3l1.7 -1.4 1 0.4 -0.7 1.9zM293.3 504.5l1.5 2.1 -1.7 2.3zM261.1 458.7l2.1 0.6 0.2 2.2 -3.5 -0.9zM315.2 488.2l-3.1 -2.6 2.6 -0.3 2.2 0.7zM314 430.6l-2.8 -1.3 -0 -0.7 2.3 -1.2 0.9 2.5zM331.7 452l-2.2 -1.4 1.3 -1.1 2.1 1zM372.9 453.9l2.6 -0.6 0.7 1.5 -1.6 2zM362.8 407.5l1.8 1.1 0.1 1.1 -1.9 2.3 -1 -1.7zM334.6 439.8l-0.4 -2 0.6 -1.3 1.6 0.6 0.3 1.4zM262.4 490l-2.8 -1.7 2.4 -2.9zM278.4 483.5l2.7 0.3 0.2 1.5 -1.5 0.7zM279.3 424.4l-0.6 -1.5 3.7 -0.9zM270.7 425.5l-0.8 2.5 -2.5 -0 1.7 -2.9zM383.8 505.9l2.3 0.6 -0.1 1.2 -1.8 -0.3zM376.9 486.9l-2.3 -1.1 3.9 -2.1zM313.5 528.7l-2.9 1.3 -0.8 -2.3 1.9 -1.7 1.6 0.9zM336 415.9l1.3 -3.2 0.4 3.7zM265.8 420.3l0.3 2.1 -2.2 0.7 -2.1 -2.5zM300.4 440.6l-2.1 -1.7 1.5 -1.1 3.2 1.3zM291.3 470l1.1 -1.1 1.9 0.2 0.5 1.2zM286.1 445.9l-3.1 -0.7 0.8 -3.5 1.9 1.2zM265.7 461l-0.2 2.2 -3.2 -0.6zM273.9 439.2l1.8 -0.1 -1.5 2.7 -1.9 -0.3 -0.1 -0.9zM321.1 461.5l-2.6 0.5 -0.1 -3.4 3 0.6zM325.4 525.4l-1.6 -0.4 0.4 -3.1 1.8 0.8 0.9 1.3zM299.3 515.1l-1.3 -2.2 1.9 -2 1.7 2.3zM333.1 425.7l-3.7 -2.8 1.2 -1.3zM289.1 418l1.6 -0.9 0.5 1.4zM365.3 400.4l-0.4 -0.9 2.6 -0.4 1 1.1 -1 0.9zM289 514.4l-3.1 -1.4 1.4 -2.2zM320.9 439.6l-3.7 -1.6 3.7 0.4zM353.2 525.9l1 1.2 -2.3 1.9 -0.9 -2zM280.7 421.8l2.2 -0.4 -0.2 1.6 -2.3 0.9zM306.4 402.2l0.1 -2.7 2.2 0.9zM297.5 485l1.1 -1.8 1.9 0.7 -0.9 2zM351.5 424.4l-3.3 -0.5 0.3 -1.4 2.5 -0.3zM349.1 463.2l2 0.7 0.7 2.3 -1.7 0.9 -2.1 -1.5zM303.2 510.4l2.8 -2.3 0.2 4.9zM295.1 436.4l-1.1 -2.5 1.7 0.3 1.6 1.3 0.3 1.4zM368.8 498.6l-2.2 -1.1 -0.4 -2 2.5 0.5zM324.1 471.7l0.2 2 -1 0.1 -1.5 -1.3 0.7 -2.5zM355.2 413.3l0.7 1.9 -2.1 1.9 -0.3 -1.9 0.2 -1zM364.7 431.3l-0.4 1.1 -2 -1.1 0.6 -2.4zM326.7 529.7l-0.5 -1.2 -0.5 -1.7 2.7 0 1 1.1zM344.7 466.5l1 -0.8 2.1 1.4 -0.9 2.7 -1.6 -1zM283.4 460.2l-1.7 0.2 -0.6 -0.6 1.2 -2.2 1 1.5zM289.7 515.2l-0.8 -2.9 3 -0.2 1.7 1.9 -1.9 1.9zM317 469.2l-0.6 1.6 -2 -2 0.6 -1.7zM262.3 462.4l1.3 -3.7 1.3 2.2zM347.5 403.3l-0.7 2.8 -2.1 -2zM291.5 430.9l-1.3 2.3 -1.2 -0.4 1.1 -3.1zM332.3 499.1l2.3 0.2 -1.8 3.2 -1.1 -2zM389.1 430l2.2 1.5 -1.5 1 -1.4 -0.9zM300.3 489.6l2.6 -1.2 0.4 1.4 -0.7 1.8 -2.6 -0.5zM274.3 438.4l2.5 -2.2 0.5 0.8 -1.3 2.1zM356.8 434.2l0.3 2 -1.1 1.1 -1.1 -2.7zM273.7 471.3l-3.8 -0.9 -0.1 -2 2.2 -0.2zM317.9 452.3l2.2 -0.8 0.5 1.5 -1 1.4 -2.3 -0.3zM327.1 526.8l2.5 -1 0.2 2.2 -2.2 1.8 -1 -1.2zM273 511.7l0.8 -3.3 1.7 1.8 -0.8 2.6zM316.4 400.2l-2.6 1.5 -1.5 -1.2 2.3 -1.7zM317.4 485.9l-1.6 1.7 -1.4 -1.5 1.4 -2zM329.5 525.3l-0.5 -2.7 0.6 -2 0.8 -0.2 0.3 3zM270.5 398.6l-2.8 -0.2 -1.2 -1.8 1.3 -0.1 1.7 0.6zM334.7 527.2l2.4 -1.1 1.1 2.4 -3.5 0.1zM343 507.3l-1.4 1.8 -1.6 -1.3 1.4 -0.9zM282 452.1l-0.1 -1.8 2.1 -0.3 0.7 2.3zM281.6 446.1l2.8 -0.2 -1.3 2.5zM317 463.9l-2.7 -0.3 0.1 -1.3 3.2 -0.2 0.9 1.4zM354.4 421.3l0.4 -2.3 2.1 -0.5 -0.1 3.5zM339 431.3l1.8 2.4 -2.4 0.4zM308.2 421.5l-2.6 -0.5 0.4 -1.5 2.1 0.3zM368.5 520.8l0.4 -3 1.9 1.3 -0.5 2.1zM295.7 414.9l0 2 -1.9 1 -0.9 -1.2zM284.9 504.9l-3.3 -0.8 2.3 -0.9zM356.7 417.4l-0.8 -1.8 3.1 0.1 1.3 0.6zM313.3 423.7l-1.8 0.3 -0.7 -0.4 0.4 -1.8 2.6 -0.8zM393.2 513.5l1.6 1.5 -1.4 2 -1.4 -1.3zM309.1 454.9l3.5 -0.9 0.2 2.4 -3.7 -0.5zM296.5 406.9l1.9 0.5 -2.2 1.9 -2.4 -1zM292.6 524.2l0.3 -2.8 1.8 2.9 -2.2 1.7zM385.9 474.3l2.3 -1.1 -1 3.8zM373.1 511.2l-0.4 -2.3 2.3 -0zM268.1 492.6l1.5 -0.8 3 0.9 -2 1.4zM306.8 421.8l0.1 1.9 -1.2 1 -1 -2.1 0.9 -1.3zM329.7 526.6l-1.8 1.7 -2.4 0.4 0.3 -2.2zM350.9 485.7l-2.8 -0.9 0.5 -2.2zM286.4 463.9l-0.3 1.3 -3 -2.4 1 -1.4zM374.7 450l-0.5 1.4 -2.6 1.8 0.3 -3.4zM282.7 484.8l-2 -0.4 0.6 -2.6 2.1 1zM389.8 441.5l-0.6 2.6 -2.8 -1.6 -0.7 -1zM283.1 512.2l1.7 -0.7 1.3 2.8zM319.1 470.6l3 0.7 -0.4 2.5 -2.7 -0.6zM338.5 444.1l0.6 -2.7 1.6 -1.1 0.8 2.2zM297.2 444l-1.3 2.1 -1.1 0.4 0.3 -3.7zM279.8 501.7l2.9 1.6 -3.6 1.4zM296.5 507.3l-0.9 -1.2 3.3 -1.4 0.5 2.1zM303.6 457.2l-1.5 -1 2.1 -1.8 2 2.8zM379.2 447.8l1.8 0.6 1.3 1.1 -2.9 1.4zM336.9 456.2l-0.1 -0.6 2.6 -1.4 1.2 0.6 -1.2 2.3zM354.5 521.5l-0.8 2 -1.5 0.6 -0.4 -2.6zM325.6 467.1l-1 -2.4 1.1 -1.4 1.4 0.9zM374.3 486.8l-0.1 -1.9 1.5 0.2 0.2 2zM269.3 396.9l-0.7 1.7 -1.5 1.1 -1 -1.6zM263.4 519.6l2.6 0.3 -0.1 2.2 -1.8 0.3 -1.4 -2.1zM363.9 456.7l2.5 0.1 -0.1 1.7 -2 0.2 -1 -1.4zM317.2 473.6l2.1 1.9 -2.1 1.6zM365 398.5l-1.1 1.2 -1.4 -2.2 0.7 -1.9 1.3 1.4zM392.1 500.1l2.4 0.4 -0.4 1 -1.7 0.9zM344.1 438.9l-0.7 -0.7 -1.5 -2.1 1.7 -0.3 1.8 1zM339.1 397l1.6 1 -0.9 2 -1.7 -0.9zM306.3 498.3l-2.3 -0.2 -0.2 -1.2 1.7 -0.7 1.5 0.7zM376.2 470.2l-0.2 -3 2.4 3.1zM326.5 462l-1.1 -2.1 2.6 -0.4zM266.2 455.1l2 -0.2 -1.5 2.8 -2.2 -1.1zM335.8 443.5l2 0.7 -0.8 1.6 -1.5 1 -0.7 -2.5zM349 404.9l-2 2.8 -1.7 -3.2 0.6 -1.2zM325.5 450.6l1.4 0.7 0 2.4 -1.7 0.5zM290.9 426.5l-1.9 2 -1.7 -0.5 1 -3.3 2.2 0.8zM280.2 499.5l2.3 -0.8 -1.7 3.9zM331.3 407.4l0.9 1.3 -1.9 1.3 -0.8 -2zM274.7 508.6l2.6 0.5 -0.8 3.3 -2.1 -0.7zM264.8 421.6l1.6 1 -1.5 2.2 -1.8 -1.9zM292.9 403.6l2.6 -0.4 0.3 1.9 -3.4 1.1zM381.8 408.1l-2.6 0.4 -0.2 -2.7 2.4 0.7zM341.1 445.9l-0.7 -1.9 1 -0.9 1.8 2.3 -1.1 1.7zM388.9 399.9l0.9 2 -2.9 -1.2zM330.4 492.1l-0.1 -2.3 2.7 -0.1zM337.5 498.5l-0.2 -2.1 2.6 0.9 -0.4 1.4zM335.7 465.4l-0.3 3.8 -1.1 -1.6zM269.3 440.3l-1 -3.5 2.6 0.8 0.7 2zM385.8 529.1l-1.9 0.6 -0 -1.6 0.1 -1.9 1.9 0.6zM339.4 420.1l-0.8 -0.7 1 -3.2 2 1.9zM300 518.2l1.5 2 -2.4 -0.1zM299.7 497.1l-1.6 1.6 -1.2 -2.7 2.3 -0.8zM331.4 456.3l-0.6 1.5 -2.9 0.8 0.9 -3.1zM362.7 452.5l3.3 1.2 -2.5 1.1zM305.2 415.2l0.7 -2.4 2.2 -0.3 0.3 2.5zM313.1 441.9l2.2 1.9 -2.8 1.7zM354.8 457.7l0.9 -1.7 2.5 1.9zM315.7 410.5l0.4 -1.4 2 -0 0.3 2.6 -2.4 0.3zM377.9 488.9l2.1 0.1 0.7 2.3 -2.3 -0.3zM354 532.9l-1.1 -3.7 2.5 0.9 1.7 0.9 -1.7 2.2zM321.1 452.7l-3 -1.5 0.9 -0.7 1.6 -0.6 0.6 1.6zM303.9 436.8l0.6 -2.3 2.4 1.4 -1.3 2.9zM310.1 456.1l-2.9 1.5 -0.2 -2.3 1.6 -0zM286.8 489.9l-3.9 0.5 1.2 -2.3zM269.7 441.9l0.7 2.4 -2.9 0.4 0.1 -1.9zM363.5 455.1l2.6 0.7 -1.7 1.1 -2.1 -1.2zM332.8 404.8l-1.1 1 -1 -2.2 2.5 -0.4zM346.9 479.2l-0.4 2.5 -2.3 -0.6 0 -1.8zM323.5 478.9l-0.4 2.5 -3.3 -2 1.7 -0.8zM271.7 502l-0 2.8 -2.3 -1.3zM267.1 442l0.5 -2.3 1.4 0 -0.3 2.1zM389.2 523.3l0.7 -1.5 2.5 -0.1 -0.9 1.9zM301.9 438.3l1.6 1.7 -2.5 1.8 -1.4 -1.2zM337.1 430l1.5 2.7 -1.9 0.8zM271.2 504.7l1.6 -0.4 1.1 0.9 0.3 1.3 -2.1 0.4zM369.2 522.4l-3.9 0 1.2 -1.7zM286.4 491.9l1.9 -1.7 0.6 1.6 -0.4 2.9 -2 -1.5zM336.7 421.8l-0 1.5 -2.8 0.6 1.8 -2.4zM288.1 425.5l-2.2 -0.7 -0.6 -1.9 2 0.5zM261.7 494.5l-1.2 3.1 -2.5 -2.6zM322.5 422.4l-3.7 1.2 0.3 -1.3zM287.6 509.1l-1.2 1.1 -1.2 -2 2 -1.6zM349.3 419.6l1.7 -0.8 -0.1 2.6 -1.8 0.7zM276.8 401.8l-3.4 2.1 -0.8 -2 1.7 -0.9zM331.5 436.9l3.1 -0.7 -2.2 2.2zM283.1 408.2l1.8 -2.3 1.6 1.1 -0.7 2.3zM310.8 519.6l0.7 1.7 -3 -0.6zM349.5 441.8l0.7 -1.8 0.8 -1 1.2 1.1 -0.9 1.5zM302.6 489.7l-1.7 -0.2 0.2 -2.3 2.5 0.6zM338.3 468.5l3.4 -1.6 -1.2 3zM264 419.1l-0.2 4 -2.4 -1.5zM335 419.5l-0.4 2.2 -2.1 1.1 0.5 -3.1zM295.3 474.5l-1.5 -0.3 0 -1.6 1.7 -0.7 1.3 1.8zM351.7 426l-0.1 -2.1 2.4 -0.3 -0.3 1.5zM303.8 479.6l0.6 1.5 -2.3 0.8 -1.8 -1.1 1.6 -1.5zM367.2 528.7l0.7 -1.9 1.7 0.6 0.7 1.7 -2.2 0.6zM343.7 428.4l-1.7 -1 2.5 -2.4 0.5 1.1zM345.3 462.5l3.6 -0.1 -2.9 2.2zM307.8 513.7l1.1 1.2 -2 1.4 -0.7 -1.2zM283.9 445l3.3 -0.5 -0.2 2.2 -2.9 0zM343.3 488l3.3 -0 0.3 1.8 -3.5 -0.2zM266.6 465.9l-0.3 2.1 -1.7 -0.5 -0.3 -1.5 1.2 -1.2zM287.3 455.2l0.6 1.7 -3.4 0.8 -1 -2.9zM352 470l0.8 2.3 -3.4 -1.9zM316.4 499.7l3.3 -1.5 -0.3 2 -1.4 1.3zM336.7 399.3l-0.3 -1.4 1.8 -1.4 1.5 1.7 -1.8 1.7zM263.2 441.9l-0.5 1.9 -1.8 -2.1 1.3 -2.8zM383.1 423.8l-1.1 3.3 -0.8 -1.3 1.1 -2.4zM321.1 525.7l3.3 0.3 -0.7 1.9 -1.8 -0.7zM268.5 400.7l-2 -1.2 0.4 -1.5 3.3 2zM261.4 517.9l1.7 0.1 -1.5 2.3 -2.2 0.2 0.3 -1.5zM376.9 494l1.9 0.8 -3.1 1.2zM295.7 417.3l0.4 -1.3 2.7 -0.4 -0.4 2.1 -0.3 1.7zM264.9 407.9l-0.6 -2.8 1.1 0.2 1 2.9zM300 431l-1.4 -1.6 1.5 -1.3 1.2 1.4zM309.1 419.7l-0.2 -1.4 1.5 -1.6 0.6 2.3 -0.7 2.6zM341.7 489.2l-2.2 -1.2 -1 -2.4zM333 520l1.9 0.4 -0.4 3.5 -1.8 0.6 -0.9 -2.1zM264.2 441.3l2.7 -0.6 -1.1 2.7zM355.7 504.3l2.1 -1.1 0.8 0.9 -3 2.9zM347.1 426.1l1.8 0 1.5 1.2 -2.7 1zM353.4 487l2.3 -1.7 0.4 2.5 -2.1 2zM312 412.1l0.2 1.3 -1.8 0.7 -1.8 -2 1.4 -1.1zM295 485.9l0.2 2.5 -1.9 -1 0.2 -2.2zM343 488.5l2 1.4 -0.3 1.3 -1.5 -0.1 -2.1 -2z"/>
<path fill="#f4e85a" d="M299.3 450.1l2.5 -2.2 1.5 1.2 -2 2.2zM344.7 502.5l-1.4 -2.3 0.7 -1.4 1 0.3 1.4 2zM286.5 435.7l1.2 0.6 1.2 1.9 -2.7 -0.1zM264.7 457.8l-1.7 1.5 -0.9 -1 0.3 -1.9zM267.8 402.6l0.4 -0.8 0.7 -0.9 1.2 1.5 -0.9 1zM375.5 419.8l-0 -2.2 2.8 1.6zM362.8 413.3l1 2.1 -1.7 0.6 -1.9 -0.7zM339.7 495.6l0.4 -0.5 2.2 0.3 -1.2 1zM382.2 429.8l-1.9 -1 2.5 -1.2zM358.7 506.9l-1 -2 -0 -1.2 2.8 0.4 0.8 1.2zM268.8 399.5l3.3 0.4 -2.1 1.8zM269.7 477.4l-2.8 -1.5 2.8 -1.5zM305.2 515.1l1.2 1 -0.2 1.7 -2.7 -0.4zM283.7 455.1l-2.4 -0.3 1.6 -2 1.3 -0.1zM279.2 484.3l-2.6 0.1 0.8 -1.9 1 -0zM302.6 478.7l2.5 2.5 -1.1 0.8 -2.2 -1.8zM305.7 474.8l-1.9 -0 1.4 -2 0.8 0.1 1.2 1.7zM331.5 508.7l2.4 -2.3 -0.6 3.3zM357.5 499.8l2.3 0.5 -0.4 2.3 -1.9 -0.8zM323.1 471.2l1.5 -0.4 1 1.6 -1.3 1.4 -1.2 -1.8zM268.6 520.5l1.7 -0.6 0.1 2.2 -3.1 0.6zM298 407l1.7 -0.9 1.1 1.3 -2.3 1.4zM349.4 441.9l-3.3 -1.3 1.6 -1.3 0.7 0.1zM347.6 419.5l1.3 2.5 -3.4 0zM361.3 418.5l-1.2 1.6 -1.9 -0.6 -0.2 -1.9 1.8 0.4zM327.2 442.6l-2.3 1.5 -0.3 -1.3 2.1 -2.2 1 -0.1zM355.4 500.4l1.6 -2.1 0.4 2.2 -1 2.4zM293.8 410.3l-0.4 2.1 -1.3 -0.7zM295.6 509.9l-2.9 1.4 -0.6 -1.8 1.6 -0.2zM316.3 526.5l3.6 -0.4 -0.2 1.3 -1.9 0.7zM268.8 510.9l1.1 1.4 -1 1.6 -1.4 -0.8zM387.8 474.4l1.2 -2.6 1.6 1.3 -0.8 1.6 -1.1 0.9zM264.7 489.8l1.9 0 -0 1.4 -1.9 0.1zM358.4 505.1l0.1 -2.2 2.5 -0.7 -1 2.3zM283.1 462.9l0.6 2.2 -2.6 0.7 1.2 -3.4zM270.3 399.1l0.6 -2.4 1.8 1.5 -0.9 1.7zM287.7 504.7l1.3 2.3 -2.9 -0.9zM285.5 444.9l-1 0.2 -1.6 -2.1 2.8 0.2zM272.2 398.6l1.3 -1.2 1.9 0.9 -0.6 1.4 -2 0.7zM324.4 457.3l-0.2 1.7 -3.4 -0.3 -0.2 -1.1 2.6 -1.7zM326.6 513.4l-0.3 -2.6 2 1.6 -0.1 0.8zM302 423.4l-1.1 -0.8 2.2 -2.8 0.6 1.8 -0.1 2zM284.9 404.4l1.3 1.1 -1 1.6 -1.7 -0.8zM346.8 423.4l2.5 1 -1.1 1.5 -1.7 -0.3zM296.6 493.2l0.3 -1.1 2.9 0.3 -0.6 1.1zM292.8 472.7l0.1 2.9 -1.5 0.4 -0.8 -2zM269.8 486.1l1.4 -0.3 0.3 2.1 -2.3 0.9zM315.2 442.6l-2.6 1.9 0.6 -2zM374.4 517.4l-2.5 0.6 2.9 -2.8zM283.5 456.9l2.3 -0.8 0.4 2.2 -2.9 -0.5zM388.2 427.4l0.4 1.3 -1 0.5 -1.1 -0.3 -1.1 -1.5zM351.4 526.9l1.4 0.9 -2.6 1 -0.6 -0.9zM341.5 472.2l1.4 -1.5 0.7 2.7 -1.9 0.7zM273.1 515.2l-1.4 1.2 -0.7 -3.2 2 0.1zM374.5 409.3l-3.8 -0.6 0.4 -1.8 2.4 -0.2zM323.4 528.7l-1.7 -1.3 1.2 -1.2 1.9 0.7 0.2 1.6zM274.2 522.9l3.2 0.2 -2 1.5zM354.9 463.6l1 -3.2 1.4 1.1 -1.1 2.7zM364.3 422.9l-3.7 -1.2 1.4 -1.4zM300.2 404.6l2.4 1 -0 1.7 -2.5 -0.1 -0.6 -1.8zM386.2 436.1l1.1 -0.3 0.3 2 -2.7 -0.6zM331.9 505l0.5 -1.3 1.2 -0.4 0.9 1.1 -1.6 1.4zM270.1 410.5l1 0.4 0.4 2.4 -1.4 -0.3zM319.6 519.8l-0.2 -1.4 2.1 1.1 -0.3 0.7zM277.8 484.4l-1 1.5 -2 -1.1 1.7 -2.6zM322.5 497.6l1.8 -0.7 -0.5 2.8zM287.6 526.7l1.2 1.4 -1.8 0.9 -2.3 -0.7zM353.9 452.2l-0.6 -2.1 1.6 -0.2 1.4 0.4 -0 1.9zM307.9 450l1.7 -0.5 -0.6 2.8zM344.5 405l2.2 1.1 -1.6 0.9 -2.4 0.5zM350.4 527.7l1.1 -0.9 1.5 2.3zM295.1 490.3l2.1 -1.4 0.9 0.6zM308.7 486.1l0.5 2.3 -2.5 0.6 0.2 -2zM325.1 475.9l1 0.7 0.4 2.1 -1.3 -0.1 -1.1 -1.2zM294.7 476.2l1.2 0.9 -1.5 2.6 -2.1 -0.1zM292.2 461l-1.4 -0.7 -0 -2.1 0.9 -0.8 1 2.2zM299.6 450.3l0.2 -1.5 1.3 -0.5 0.7 1.2 -1.5 2.2zM321.1 429.2l2.1 -0.4 -1.4 3 -1.6 -1zM372.7 439.9l1.4 0.7 -1.2 1.6 -1.6 -1.3zM281.2 493.5l-0.9 1.7 -1.6 -1.5 0.5 -1.3zM283.1 509.5l1.2 -1 1 2.5 -2.4 0.4zM344.5 410.9l-3 0 0.1 -0.8 1.6 -1.8 1.7 0.2zM318.6 445.4l1.1 2 -3.3 -1.1zM261.2 512.2l-0.3 -3.4 1.1 2.7zM389.5 466.9l1.2 -2.7 2 1.1 -0.8 1.7zM260.2 496.8l2 0.5 -1.9 2zM281.1 435.1l-0.2 -1.5 0.5 -1.7 1.4 -0.4 0.3 1zM297.7 404.8l0.6 2.1 -2.7 0.9zM280.3 489.4l-0.2 -0.5 0.6 -1.7 2.1 1.3zM394.7 517.4l0.2 1.8 -0.7 1 -1.3 -0.7 0.4 -2.1zM261.2 468.9l-1.9 -1.6 2.3 -0.4 0.2 1.5zM340 404.6l1.8 -0.1 0.3 2.2 -0.7 1.2 -1.6 -2zM305.3 467.5l0.9 -0.2 1.1 0.8 -1.5 1.4 -1.4 -0.2zM292.3 433.3l-1.3 1.7 -1.8 -0.7 0.2 -1.5 2.1 -0.2zM286.6 400.1l2.4 0.2 -0.3 1.5 -2.3 -0.2zM263.5 527.3l2.9 0 -0.1 2.1 -0.5 1 -2.9 -1.6zM324.5 454.7l-2 1.3 -1.7 -2.4 3.5 -0.3zM270.4 514l1 -2.1 1.7 1.3zM279.1 508.4l0.9 -0.8 1.8 0.9 -0.2 2.4 -1.6 -0.7zM330.5 490.3l-0.3 -0.9 1.4 -0.9 1 1.2 -0.7 0.9zM392.5 435l-1.6 -0.6 1.9 -2.1 0.4 1.1zM305.6 514.2l0.2 1.7 -2.2 -0.8zM372.2 400.2l-0.8 1.9 -1.9 -2.2 1.2 -1zM345.2 530.9l-1.2 -0.1 0.5 -2.4 1.4 -0.2 0.9 1.2zM284.1 460.4l-1.8 -2.3 2.8 -0.1 -0.2 1.8zM357.3 489.9l0.6 2.5 -2.5 -1.6zM289.9 477.8l-2 0.5 0.2 -2 1.7 -0.7 0.7 1.7zM285.5 523.7l1.7 -1 -0.1 1.4zM374.2 509.3l-0.9 -1.5 1.2 -0.2 0.8 2.5zM309.1 506.6l-2.1 -0.9 3.2 -2zM288.3 460.9l1.8 2 -3 -0.1zM325 495.3l0.1 2.1 -1.9 0.8 -0.3 -2.5 1.2 -1.5zM282.5 443.2l1.8 -1.1 1.3 0.8 -2.5 1.8zM355.3 414.8l-1.4 -3.4 2.5 1.9zM298.3 413.6l2.4 0 0.2 2.2 -1.7 -0.1 -1 -0.6zM351.9 528.9l-1 -1.7 1.5 -1.7 1.3 2.5zM278.1 494.4l0.6 1.3 -0.8 1.5 -1.7 0.1 0.1 -0.9zM296.2 508.2l-3.4 -1.1 3.1 -1.3zM318.2 456.8l1.3 -0.7 1.2 2.1 -1 0.7 -1.6 0.3zM302.3 399.8l-1.5 1 -1.2 -1.1 1.5 -1.2 0.9 -0.1zM276.1 512.6l-2.4 0.9 -1.7 -1.3 1.6 -0.5zM306.2 427.3l-1 1.1 -0.4 -2 1.9 -0.9zM343.5 518.7l-2 0.6 -0.4 -1.5 2.3 -1.1zM262.7 484.2l-3.7 1.3 0 -1 3.1 -1.6zM388.4 404.1l-1.5 -1.6 1.3 -1.5zM314.1 513.3l0.9 -2.3 2 2.2 -1.4 0.3zM376.7 425.2l-1.6 -3.4 3.1 2.3zM278.3 487.6l-0.5 -2.6 2 0.5 1.4 2.3zM309.6 413.1l1.4 2.1 -0.3 1.1 -2.5 -0.7 0.1 -1.9zM300.5 480l-3 0.1 0.6 -1.1 1.7 0zM343.6 421.3l-1.4 -0.3 0.9 -2.5 0.8 0.5zM380.3 502.5l1.4 0.5 -0.7 1.3 -0.7 0.6 -0.9 -1.7zM282 448.3l1.9 -1.1 1.6 2.5 -2.2 0.3zM372.5 458.7l2.3 -0.8 0.4 1.2zM265.9 468.9l-1.2 -2.4 2.6 1zM383.8 475.9l-2.3 -0.6 0.8 -2.7 2.5 0.8 -0.6 1.5zM341.8 438.1l-1.8 2.7 -0.8 -1.5zM295 449.2l0.8 -3.6 2.2 1 -1.9 2.1zM291 441.3l-1.2 1.1 -1.6 -2.6 2.4 -0.6zM295.1 515.6l0.1 -2.9 1.5 0.1zM335.8 505.7l-0.2 1.4 -2.5 -1.8 1.1 -1.1zM379.2 400.4l-0.3 -2.1 2 -1.7 -0.1 2.4zM259.6 454.2l-1 -1.4 1.9 -0.3 1.3 1.5 -0.3 0.7zM268.6 430.3l0.7 1.4 -0.7 1 -1.3 -0.8zM370.2 428.2l-3.1 -1.1 3.8 -0.8zM352.2 515.1l1 -2.3 1.2 0.7 -0.3 2.5zM298.7 469l-0.7 -0.5 -0.8 -1.6 2.7 -0.2 0.4 1.1zM264.6 522.7l-1.4 0 1.9 -1.5zM364 442.1l0.3 2.4 -0.6 1.3 -2 -1.8 1 -1.4zM327.3 503.8l-0.9 2.2 -1.2 -3.1zM317.9 466.3l0.9 2.3 -1.2 0.5 -1.7 -2.1zM275.8 477.2l0.7 -0.8 1.6 0.4 0.9 1.4 -0.8 0.9zM388.5 450.7l1.2 -2.8 0.3 1.2zM288.8 512.1l-1.2 -2.1 2.7 0.8zM273 467l-1.5 -1.3 0.1 -1.3 2.2 0.6 -0.1 0.8zM391.9 410.3l2.1 -0.1 -0.4 2.1 -1.9 -0.2zM363.6 400.7l-1.7 0.2 -1 -1.7 1.3 -0.9zM295.1 445l1.4 -0.6 0.4 1.8 -1 1.4 -1.4 -0.8zM305.9 527.3l-0.9 -1.8 2.1 -1.8zM326.1 421l0.5 -3.4 1.1 3.9zM319.8 523.5l-0.6 3 -1.6 0.4zM277 452.7l-1.9 1.3 -0.3 -2zM330.8 522.3l0.5 1.9 -1.6 0.7 -1.1 -2.1 0.7 -1.1zM306.2 491.5l0 -1.2 1.1 -0.4 1.6 1.7 -2 1.8zM389.4 487.7l1.2 -1.3 1 2.3 -1.6 1.2zM379.5 466.1l-2.2 -0.4 0.3 -1.3 2.8 0.7zM383.5 433.2l-2.8 1.1 -0.1 -1.8 2 -0.3zM355.2 529.4l-1 -1.9 2.4 -0.9 -0.3 1.4zM379.5 463.1l-1.3 -1.1 3.6 -0.2zM274 469.6l0.4 1.8 -2.3 -0.6zM342.4 475.6l-0.5 1.6 -2.1 -2.4 1.5 -0.5zM292 432l3 0.6 -1.2 1.4zM303.4 430.9l2.7 -1.2 -0.3 3.5zM270.8 403.2l3 -1 1.1 1.6 -1.6 0.6 -1.1 -0.3zM382.8 432.8l0.1 2 -0.9 0.5 -1.6 -0.6 0.5 -1zM299.3 532.3l-2.3 -1.7 1.3 -2.3 1.2 0.6 0.5 1.3zM314.4 465.7l-1.3 -0.7 0.3 -3zM376.5 413.1l-0.5 -2.8 2.4 -0.1zM318.2 460.6l-1.6 0 0.1 -1.9 0.5 -0.5zM292.1 439.6l-2.8 -1.7 1 -2 2.2 1.2zM275.6 414l-0.2 -2 2.1 -1.1 1.1 1.8zM306.5 401.3l-1.6 -2.5 3 -1.1zM306.8 459.3l1.2 -2.2 1.5 1.2 -0.6 1.1zM314.5 397.4l-0.6 3 -1.5 0.3 0.6 -3zM278.8 468.7l-1 -1.9 1.2 -1.6 1.9 1.1 0.7 1.8zM328.7 404l-2.3 -0.9 2.5 -1.9 0.8 1.5zM364.4 514.4l-0.7 -1.1 0.5 -1.8 2.5 1.2zM371.8 476.2l1.6 0.1 0.3 2.6 -2.1 -0.7zM298.8 518.9l-1.4 -0.5 0 -2.9zM353.9 497.3l-2.5 0.3 0.6 -3.3 2.1 1.2zM288.9 446l1.7 -0.5 1.2 1.1 -2.2 1.2 -1.4 -0.8zM373.8 437.7l-2.1 -0.4 1.6 -1.4 1.1 -0.1 0.5 1.9zM304.9 474.3l0.9 -2.2 1.6 1.1 -0.8 1.9zM262 400.6l2.2 1.1 -2.8 -0.2zM285.6 430.8l0.8 -2.1 2 0.9 -0.8 2.1zM374 455.2l-0.3 2.9 -2.1 -1.6zM362.8 403.4l2.4 -1 0.2 1.9 -1.9 1.3zM297.9 422.9l-0.6 1.7 -2 -0.9 0.2 -2.2 1.3 0.1zM285.6 432.8l0.2 2.4 -1.4 0.5 -0.2 -2.3zM389.6 460.2l-2.1 2.6 -1.6 -1.1 1.6 -1.4zM309.6 422.2l-2 0.1 -0.5 -1.5 1.9 0.2zM265.4 500.6l1.7 -1.9 -0.1 2.5zM331.6 418.2l-0.9 -1.6 1.9 -1.5 1.3 1 -1.5 2.1zM347.9 477.4l1.5 -0.3 0.7 0.7 -0.8 2.4 -1.3 -0.1zM327.1 400.5l3.8 0.9 -2.8 1.4zM341.1 480.1l0.7 -1.1 1.6 1.9 -1.5 1.8zM304.5 481.1l-3.3 -0 2 -1.9zM369.9 504.2l1.4 0.3 -0.9 2.1 -1.7 -0.3 -0.2 -0.8zM331.8 423.7l-1.9 -0.1 -0.7 -1.1 1.4 -1zM270.7 487l-1.2 1.5 -2.5 -1.8 2.1 -1.2zM325.7 454.1l-2.3 -1.6 1.2 -0.2zM321.5 478.2l0.5 3.2 -2 0.2 0.2 -2.6zM362.3 461.6l1 2.6 -2.3 -1.7zM336.9 459.1l-1.9 -0.7 0.6 -2.1zM359.9 511.3l-0.2 2.8 -2 -0.6 0.2 -2.5zM288.5 470.1l0.3 2.9 -1.5 -0.2 -0.6 -1.7 0.2 -1.2zM334.2 439.3l-1.9 0.2 -0.6 -1.9 1.6 -0.3zM342.5 448.7l1 3.2 -0.7 0.5 -1.5 -2.6zM341.1 430.7l-1.1 -1 2.6 -1.3 0.6 0.4zM264.6 501l0.8 1 -1 1.6 -1.5 -0.9 -0.1 -1.6zM340.8 514.4l1.7 -1.5 1.8 0.1 -2.1 2.7zM324.7 498.7l-1.3 -0.6 0 -1.1 1.7 -1.4 0.6 0.8zM263.4 520.1l-2.5 -1.9 3.1 -0.3zM329.5 496.9l1.9 0.9 -2.4 2zM276.8 449.5l1.6 -0.9 -0.7 3 -2.2 0.3zM292 444.3l-2.2 3.2 -1.3 -2.3 2 -1.2zM383.3 525.6l1.3 -2.5 2.7 1zM343.9 508.5l1.6 1.4 -0.3 1.3 -2 -0.7 0.1 -1.4zM338.6 503.3l1 1.4 -3.4 0 -0.7 -1.8zM317.3 474.9l1.2 -2.5 0.9 1.8 -0.8 1.3z"/>
<path fill="#f0a0c0" d="M304.9 499.8l-1.7 0.6 -0.2 -1.1 1.1 -0.8zM270.3 442.4l-1.1 0 -1.3 -1.4 1 -0.9 2 0.9zM287.8 433.9l2 -1.1 0 0.8 -0.4 1.4 -1.5 -0.4zM277 451.1l-0.9 -1 0.8 -1.3 1.9 0.2 -0 1.5zM344 516.6l-1.6 1.2 1.1 -2.1zM274.4 520.7l2.3 0.6 -1.1 1.2 -0.9 -0.5zM393.1 523.6l-0.1 -2.2 1.2 -0.5zM312.3 473l0.1 -1.1 1.8 -0.3 -0.2 1.5zM273.3 483.7l0.8 -1.8 1.3 0.7 0.1 1.1 -1.4 0.8zM279.2 518.6l0 1.5 -0.9 0.6 -1.1 -1.6zM343.1 457.5l1.5 -1.2 1.4 1.1zM333.1 439.6l-2 0.5 1.4 -1.9 0.9 0.3zM280 483.7l-1.7 0.8 -1 -1.6 1.3 -0.6zM270.6 527.9l-1.3 -1.8 1.1 -0.1zM380.5 461.5l-0.7 1.4 -1.5 -0.8zM305 435.2l1.9 0.1 -0.7 1.5zM322.6 450.7l-0.1 1.7 -0.8 1.1 -1 -0.7 0.9 -2zM272.4 522.5l1 -1.7 1 -0.1 -0.9 2.5zM291.2 517.6l-0.6 2.3 -1 0.2 0.1 -1.7zM305.2 491.1l-0.5 -2.1 1.2 -0.4 0.2 1.7zM386.4 520.5l0.5 1.8 -1.5 0.3 -0.7 -1.9zM294.7 478.7l0.8 1.4 -1.7 -1zM329.9 455.3l2 0.3 -1.4 1.3zM270.7 443l1.8 -0.1 0.2 0.5 0.2 1.6 -1.9 -0.9zM384.2 496.1l-1.1 1.2 -0.8 -0.4 1 -1.8zM291.1 472.2l0.2 -1.1 1.6 0.5 -0.6 1zM345.8 438.5l1.4 -1.7 0.8 1.2 -0.6 1.6 -1.3 -0.4zM268.5 531.3l-0.4 -1.7 2.6 -0.1 -0.8 1.4zM258.5 493.8l2.8 -1.2 -1.8 1.9zM297.3 414.6l-2.1 -2.1 2 0.5z"/>
<path fill="#fff" d="M345.9 423.2l1.9 -0.3 0.5 1 -1.2 0.8zM334.4 529.6l0.3 1.6 -1.4 -0.6zM310.1 501.4l0.9 -0.2 -0.5 1.5 -0.9 0.5 -0.3 -0.8zM358.4 499.4l0 -1.6 0.9 1.2zM379.6 399.6l2.1 0.5 -0.7 0.9zM291.8 480.2l-0.3 1 -0.9 0.1 0.2 -2.2zM391.1 436.7l-2 -0.1 0.8 -1 2 0.5zM382.3 458.2l-0.6 -0.5 1.7 -0.8 1 0.6 -1 1.4zM323.9 397.5l1.6 -0.5 0.4 0.8 0.1 1.1zM265.3 467.3l-1.3 -0.3 0.4 -1.5 1.5 0.9zM279.2 415.2l0.5 1.3 -2.3 -0.3 0.1 -0.6zM291.4 521l-0.9 0.7 -1 -0.9 -0.2 -0.7 1.2 -0.6zM281.9 521.4l0.6 1.4 -1.5 0.3zM283.7 488.6l-0 1.2 -1.4 0.1 0.1 -2.1zM336.8 442.8l1.9 1.1 -1.3 0.8 -0.7 -0.8zM305.1 427.5l1.1 1.4 -1.9 -0.6zM347.4 522.7l-1.7 -0.1 1.1 -1.3zM362.5 473.6l-0.2 1.9 -1.2 -0.6 0.3 -1.6z"/>
<path d="M302 502.6L316 497L330 491L336 485L340.4 478.4" stroke="#17a0a0" stroke-width="1.6" fill="none"/>
<path fill="#17a0a0" d="M312.8 443.9l0.9 1 -2.3 1.1 0.1 -1.8zM301.1 399.7l-1.7 0.3 -0.9 -1.2 0.9 -0.5zM355.9 433.8l-0.9 -0.1 -1.1 -0.4 0.9 -1.7 0.7 0.3zM375.3 496.3l-0.3 -1.9 2 -0.2zM383.3 495.7l0.6 -1.3 1.4 0.3 -0.8 1.6zM346.2 483.3l-0.6 1.3 -1.8 -0.9 0.6 -0.8zM334 430.4l-0.9 1.4 0.2 -2.3zM346.3 419.2l0.5 -1.8 0.7 0.2 0.6 1.7zM267.3 473.8l2 -1.5 -0.6 1.8 -0.8 0.6zM310.3 509.1l0.2 3.1 -1.8 -1.8zM317.5 479.5l0.6 1.2 -1.1 1.1 -0.8 -0.6zM340.8 506.2l0.6 0.6 -2.5 0.5zM298.7 523.5l0.4 -1.8 2.1 0.9zM307.1 412.3l0.6 -2.5 1.6 2.5z"/>
<path fill="#000" d="M365.8 458.3l3.3 1.2 -0.5 1.9 -2.3 0.4 -1.7 -1.6zM262.4 489l3.5 -1.1 -3 3.4zM274.4 507.1l1.4 0.1 -1.9 2.8zM350.7 462.4l-1.5 0.2 -1.9 -1.1 0.8 -1.7 1.8 0.4zM370.8 448.8l3.1 0.4 -0.5 1.7zM350 417.3l4.4 1 -3.4 -0.3zM359.2 500.8l-1.7 -1.2 0.8 -1.6zM307 415.5l2.3 -0.5 0.2 1.6 -1.9 0.5zM331.4 512.6l-2 -3.8 3 1.5zM387.4 460.4l1.2 2.2 0.2 1.1 -1.1 -0.1 -1.5 -1.8zM271.7 494.4l4.5 -0.6 -2.4 1.6zM283.9 505.3l-1.8 0.4 -0.2 -1.7 2.5 -0.3zM303.9 489.5l4.1 -0.3 0.4 1.2 -1 1.9 -3.2 -1.2zM297.2 442.2l0.7 -1.6 2.9 -1.4 -1.2 3zM302.3 405.5l-0.1 -2.4 1.6 -0.2 -0.4 2.4zM366 420.2l-0.6 -2.7 1.4 1.2zM322.2 398.4l-1.7 2 -1.1 -1.5 2.1 -0.9zM379.9 478.2l-2 2.3 -0.1 -1.8 2.2 -2.2zM271.9 464.3l2.2 1 -2 1.6 -0.7 -0.9zM316.7 443.8l1.9 0.2 0.7 1.9 -0.2 1.4zM370.9 462.6l-1.1 -0.4 0.6 -1.1 2.7 0.7zM280.4 453l-3 -1.3 1.9 -1.6 1.6 2.4zM330.5 465.3l-1.3 -1.5 2.6 -0.7zM369 425.5l0.7 2.3 -1.7 -0.9 -1.2 -1.9 1.7 -0.5zM325.2 489.7l0.4 -2.3 2.2 2.1zM280.5 444.2l-0.8 -1.9 2.5 -2.5 0.2 2.4zM389.2 484.8l1.5 2.6 -1.3 -0 -1.2 -1.3zM264 462.1l0.9 -1.9 2.1 2.5zM272.1 498.6l-2 -2.7 2.5 1.7zM326.2 526.4l-1.2 -0.9 2.4 -1.1 1.9 2zM359.3 424.3l0.7 1.3 -1.5 0.6 -2.2 -0zM280.5 470.2l0.5 -0.8 0.8 0.5 1.2 1.6 -2 1.7zM359.2 506.4l1 2.8 0.4 1.3 -1.7 -0.6zM379.9 466.1l2.7 -0.2 -0 1.9 0.3 2.5 -1.5 -2zM355.7 443.1l2 -0.4 0.6 0.3 -1.6 1.4 -2.1 -0.2zM312 463l-1.7 -0.9 2.8 -0.5 0.6 0.8zM318.2 453.1l-0.1 3.1 -1.6 -2.3zM364 500.4l2.5 -1.2 -0.6 1.7zM374.2 432.1l1 -2.9 1.5 0.1 -1.6 2.9zM372.4 524.6l-0.3 2.8 -2.2 0.6 0.7 -1.5zM271.8 507.4l-2.5 -0 0.2 -2.1zM297.6 432.4l0.6 3.8 -2.3 -1zM327.1 470l0.8 0.7 1.3 1.1 -4 1.5 1 -2zM263.2 517.5l-0 -1.9 2.4 -0.1 1.6 0.1 -2.3 1.4zM265.6 522l0.1 2.7 -1.5 -1zM367.7 488.9l-1.1 0.2 -1.7 -1.2 -1.1 -1.4 3 0zM378.1 504.4l-1.7 0.1 -1.5 -0.2 0.3 -2.2 2 0.7zM354.5 399.2l-2.6 -0.6 1.7 -1.8 0.8 0.7zM335.1 401.7l-3.3 1.2 -1.2 -0.7 2.3 -1.2zM322.8 408.3l0.8 0.2 -2 2 -0.6 -1.8zM299.1 514.1l1.2 -3.2 0.6 2.5zM261.3 461.8l-1.5 -0.8 0.4 -2.2 0.9 0.4zM351.7 449.6l1.2 0.3 -1.6 1.5 -2.6 -1.1zM270.8 402.6l-1.7 0.1 0.1 -2.1 3.3 -0.2zM277.1 454.7l2.5 -1.6 -0.1 2.4 -2.4 1zM268.2 410.6l0.1 -2.7 1.7 1.7 0.1 3.2zM358.2 475.1l-2.6 -3.8 2.8 0.4 0.9 2.9zM349.2 510.7l-3.6 -0.8 0.1 -1.8zM371.7 478.3l-3.8 -1.9 3.1 -0.3 1.2 0.1zM331 511.3l-3.7 -1.6 1.1 -0.8 2.7 1.4zM337.1 469.8l-2 0.6 -0.8 -1.9zM385 421.7l3.5 -1.6 0.4 1.7zM263.1 463.3l0.6 0.2 -0.2 2.3 -1 -0.7zM383.2 409.2l-1 2.8 -1.2 -1.5zM377.4 525.9l-0.3 1.8 -1.1 -0.2 -0.9 -1.7 1.1 -0.5zM280.4 418l1.5 -0.3 0.7 1.1 -0.9 2.2 -1.3 0.4zM307 499l-0.1 -4.4 0.7 1.9zM340.2 399.4l-0.6 0.5 -1.3 -1.5 -0.3 -2.7 2 1.5zM335.5 512.5l1.9 -0.5 0.5 1 -0.5 1.8 -2.4 0.3zM314.5 404.2l-1.5 0.7 -0.8 -0.6 1.3 -1.2zM302.1 412l3.2 0.6 -0.6 1.2 -1.4 -0.2zM389.9 413.1l0.1 -1.6 1.4 -0.4 0.4 2.4zM355.5 476.3l1.2 0.4 -1 1.7zM269 473.7l3.2 -0.2 -1.3 1.4 -2.1 0.6zM321.3 464.7l-1.4 1.3 -2.2 -2.3 3.3 0.1zM374.9 495.1l-0.8 -1.2 1.2 -0.6 1.7 1.3zM309.7 417.6l2.5 0.6 -0.1 1.6 -1.3 0.6zM377 487.4l2 -0.1 -1 3 -1.8 -0.8zM329 445.9l2.2 0.4 -2.3 1zM379.1 431.9l0.5 -1.1 1.3 1 -1.2 1.7zM348 418.8l1.3 0.8 -0.4 1.1 -0.9 0zM345.3 411.3l1.6 5.2 -2 -2.4zM358.5 404.9l-3.5 -1 1.7 -1.9zM283.8 508.5l-2.5 -0.4 0.1 -3.4 1.8 1zM389.4 413.1l-0.6 -1.5 0.6 -0.5 1.2 0.1 -0.1 1.6zM392 418l-1.4 0.9 -1.7 -2.3 -0.5 -2.1 1.4 0.4zM339.3 448l1.3 -0.7 0.5 1.7zM309.1 421.5l-1.5 -2.7 1.5 -0zM289 532.2l-2.5 -2.1 3.4 -1.1 1.5 2.1zM266.4 526.5l0.3 -2 1.9 1zM388.4 430.1l2 1.5 0.5 2.5 -2.2 -1.6zM338.9 480.3l-4 0.1 0.6 -0.8 2.8 -0.4zM275.1 443.4l-0.1 -3 1.7 -0.1 0.2 2.6zM259.9 495.3l-0.2 -1.8 1.5 1.1zM325.1 467.3l-1.4 -0.8 -0.4 -1.7 1.7 -0.5 1.3 1.4zM336.1 417.4l2.8 0 -2.5 2.1 -2.1 -0.2zM274.5 404.6l0.7 1.6 -1.6 0.2 -1 -2.1zM281.8 505.4l-0.1 1.2 -2.5 -0zM340.2 519.2l-1.6 -0.3 1.5 -2.2 2.1 2.4zM265.6 454.9l-0.6 2.2 -2.3 -1.3 1.9 -1.5zM321.7 463.1l2.2 2.4 -2.2 -1zM307.6 496.8l0.7 1.8 -3.9 -1.5 -0.2 -1.7zM314.1 491.3l-0.5 -1.8 2.6 -0.2 1.3 -0.7 -0.9 1.9zM266.7 460.3l-2.4 -0.5 -0.7 -2.2 2.5 0.4zM366.9 406l-0.1 1.6 -1.9 1.7zM305.9 439.3l2.4 -1.2 0.9 0.6 -1.9 1.4zM392.6 443.4l-1.1 3 -0.5 -2.7zM287.4 491.1l0.2 2.3 -2.1 0.4 -0.1 -2.4zM307.5 521.3l-1.6 -0 -2.5 -2.1 2.4 -0.8zM293.9 434.2l-3.7 2.2 -0.4 -0.9 1.3 -1.4zM387.5 442.3l1.5 0.7 -0.8 3 -1.3 -1.9zM310.9 532.7l-1.2 -2.1 1.2 -1.4 1 2.1zM339.1 468.6l-3.8 1.1 0.5 -2.6zM370.9 440.4l2.6 -1.3 -1.1 2.1zM297.6 494.9l2.8 2.2 -3.4 0zM309.4 524l-0.8 -2.2 1.1 -1.9 1.2 -0.2 -0.3 1.9zM270 412.9l0.1 2.3 -2.4 -0.2 -1.6 0.1 1.6 -1.4zM363.7 461l1.7 0.8 2.4 1 0 2 -2.8 -1.6zM311.6 521.6l1.4 -0.8 1 1.4zM329.4 398.9l1.8 -3 1.6 0.9zM337.4 532.5l-0 -5.4 1.2 4.2zM308.2 473.3l-0.3 -3.2 0.5 -1.4 1.9 2.1 -0.8 2.2zM381.8 471.1l1.7 -1.4 -0.2 3.2 -1.3 0.9zM278.5 448.9l-1.3 1.1 -0.7 -2 3 -1zM386.8 413.3l-0.3 1.1 -2.9 0.4zM345.4 502.7l-1.2 -0.3 0.5 -2 3.4 1.8zM314 476.1l-1 0.6 -3.8 0.4 1.6 -1.9zM297.4 408.6l3.1 -0.7 -1.3 1.7 -2.2 -0zM271.9 450.4l-2 -0.8 2.4 -0.6zM318.3 408.6l0.2 1.6 -3.2 -0.6 0.9 -1.1zM293 504.7l-0.1 -2.9 1.6 0.7 -0 1.7zM264 442.6l2.1 -2.4 0.1 2.4 -1.1 1.1zM339.9 510.6l2.1 1.3 -2.6 1.7zM351.7 495.2l1.4 1.1 0.9 1.2 -1 1.8 -0.7 -1.9zM385.7 423.1l-3.2 -0.6 1.5 -2.5zM263.8 449.6l-2.2 0.5 0.5 -2.2 0.4 -1.1zM349.5 492.4l-1 1.8 -1.7 0.7 0.1 -1.7 2.1 -1.2zM329.9 487.1l0.7 0.9 -0.3 1.7 -1.5 -1.4zM361.8 456.9l-0.9 -0.1 0.3 -2.3 2.4 -0.4 0.3 1.3zM350.5 516.7l1.3 -0.5 1.9 -0.2 -1.7 2.8 -1.9 0.7zM265.4 421.6l-0.6 2.1 -1.2 0.5 -1.3 -0.9 2.5 -2.4zM316 403l1.5 0.7 1.2 1.3 -2.3 0.5 -0.6 -1.4zM370.4 451.4l1.3 -1.3 3.1 1.8 -0.5 2.6zM267 501.1l-0.1 1.8 -1.6 -1.5zM298.9 480l-0.3 4 -1.5 -1.3zM344.6 425.6l1.7 0.3 -2 1.1 -1.6 -0.4 -0.5 -1.6zM349 465.8l-1.3 -1.6 1 -1.3 1.2 -0.7 0.5 1.4zM290.8 510.3l-1.8 0.4 0.2 -1.9 0.8 -1.3zM391.5 441.7l-0.2 -1.8 0 -1.9 1.7 0.7 -0.2 2.3zM362.3 417.8l0.9 0 -1.4 2.2 -1 -1.4zM268.9 452.6l3.3 -1.8 0.9 1.4 -2.8 0.6zM361.9 517.2l-1.9 1.5 -0.6 -4.8zM301.2 432.9l-1.6 -0.2 2.1 -2.2 1 1.1 1.2 1.3zM317 477.8l0.9 -2.9 0.8 0.9 -0.4 2.3zM315.3 484l-3.6 0.8 0.4 -1.5 1.6 -1.3zM347.3 518.5l2.1 1.3 -1 0.8zM270.5 486.8l-2.4 -1.9 2.7 0 1.6 1.5zM269.9 502.5l3.6 -1.4 -0.4 2.1 -3 1.6zM393 524.4l-1.6 -0.5 -1.2 -1.2 0.5 -2.5 1.6 2.5zM319.3 416l1.3 2 -1.5 2.3zM330.6 427.2l3.3 1.3 -3.9 0.1zM378.1 524l0.6 1.3 -2.2 -0 -0.1 -0.8zM345.9 521l-1.5 1.5 -0.8 -2.6 0.5 -0.9zM337.8 453.9l2.2 0.6 -1 1.8 -1.3 0.4zM294.5 418.1l-1.9 1.4 -2 -0.9zM330 521.7l0 1.9 -3.7 -2.3zM312.7 397.6l-1.4 1.4 0.3 -2.4zM284.2 433.7l-2.9 2.8 1.4 -2.6zM374.4 511.8l-2.3 -0.4 -1.2 -2.5 2.4 -0.8 0.9 1.4zM322.4 498.9l3.5 -2.2 -1.7 4.1zM260 522.1l-0.1 -2.8 1.8 -1.6 0.1 3.6zM281.1 414.2l2.6 1.2 -0.6 3.5 -2.4 -2.3zM378 465.3l-0.7 2 -1.3 0.7 -0.1 -2.1 1.4 -1zM313.6 473.8l1.3 0.8 -0.9 2.5 -1.4 -1.5zM297.8 454.7l-0.4 2.1 -1.7 0.9 -1.3 -1.1 1.6 -2.4zM285.5 413.2l-2.6 1.6 -1.2 -1.3 1.1 -1.4zM309.4 484.5l-1.1 -2.1 0.6 -2.2 0.8 3.1zM309.4 474.9l-1.2 2.5 -0.9 -0.6 1.4 -3.4zM316.5 401.7l0.6 -0.5 0.7 1.9 -1.2 1.4 -1.2 -0.5zM284.1 421.2l-0.6 2.4 -2 -1.4 -0.4 -2.5 1.8 -1.3zM303 487.9l0.7 2.3 -2.4 -1.2 -1.4 -2.1 1.9 0.1zM373.5 445.9l-0.1 -1 0.4 -2.1 1.3 0.3 0.4 1zM305.2 489.9l-1.2 -1.8 2.8 -0.4 0.3 1zM344.1 407.3l0.9 -0.6 1.9 2.8zM295.7 441l1.7 1.3 -0.6 1.6 -1.8 -1.9zM318.8 516l-3.4 1.2 2 -3.2 1.7 0.3zM361.5 432.2l-3.4 -2.1 1.3 -0.3 2.7 0.9zM391.9 467.5l-1.1 -3.2 2.2 1.8 1.1 2.3zM274.9 433.9l-0.1 3.5 -1.3 -4.4zM364.4 456.7l-2.3 0.2 -1.6 -1.8 1.5 -1.2 0.6 0.4zM322.1 402.3l0.6 -1.9 1.1 -1.4 0.5 2.5 -0.9 1.7zM288.9 468.9l3.3 -2.4 -0.9 4.6zM337.2 521.4l-1.5 0.9 -0.2 -0.9 0.7 -3 1.3 0.9zM357.4 524.3l1.4 -2.2 1.4 0.1 -0.5 1.7 -1.3 0.6zM381.1 492.9l-1.7 2.1 -0.3 -2zM325.1 490.9l-0.1 -3.3 0.8 2.2zM281.8 465l-2.1 -2.2 2.7 0zM266.1 457.6l0.8 -0.9 1.9 2 -1.3 0.9 -1.1 -0zM388 410.8l-0.8 2.9 -0.8 -4zM362.6 477.7l-1.5 0 -0.3 -1.7 2 -1.2 0.8 1.6zM263.2 466.3l-2.5 1.8 -0.8 -2.6zM260.5 459.3l0.4 -2.4 1.5 1.4zM375.2 414.8l-0.7 -1.9 0.4 -1.7 1.1 2.2zM264.4 522.4l-3.1 1.7 -1.5 -2.6zM329.9 524.3l3.7 -4 -0.1 2.6zM361 469.9l2.5 -2.5 -0 1.7zM319.4 525.2l2 1.6 -0.5 2.6 -1.1 -0.9zM297.2 444.1l1.3 1.2 -0.6 1.5 -2.5 0.8 0.5 -2.3zM272.5 504.8l1.8 3.2 -2.4 -0.4 -1 -2.1zM362.4 514.5l-1.4 1.2 -2.3 1 1.9 -2.5zM303 455.2l0.3 2.6 -0.9 -0.9 -1.5 -2.4zM281.3 464.7l0.8 1.4 -3.1 0 -1.4 -0.5 2.3 -1.3zM368.6 519.6l1.8 1.1 -1.8 1.5 -0.8 0.4 -1.6 -1.4zM380.7 473.9l-1.7 -0.4 2.1 -1.8 1.7 0.4zM320.5 463.7l1.3 0.2 1 2.2 -2.7 -1.1zM311 454.8l0.3 -2.3 1.6 -0.6 -0.5 2.3zM383 408.3l2.9 0.1 0.6 1.9 -2.5 -0.9zM364.3 462.7l1.6 0 -0.5 1.8zM283.7 497.1l-0.1 1.9 -2.1 -2.1zM374 439.8l-2.1 -0.5 2.4 -2.2zM390.4 397.4l0.4 1.1 -3.7 2.6 0.5 -2.4zM336.3 423.2l-0.5 -1.3 4.3 -0.9 0.2 2.2zM300.2 505.3l1.8 -0.5 -1 2 -0.9 0.8 -0.7 -0.4zM292.6 439.4l2.3 1.2 -1.4 2.8 -1.4 -2.1zM264.3 415l-3.5 -2.1 0.6 -1.6 2 1.4zM265.6 455.7l-1.7 0 0.3 -1.5 2.4 -1.2zM372.7 523.7l-1.3 1.8 -1.1 0.2 -0 -1.1zM329.7 529.1l-1 -2.4 3.1 -0.9 1.6 3.1zM388.7 478.7l0.4 -0.5 2.7 1.2 -1 1.1 -0.6 1zM312.5 406.3l-3 -1.9 2.8 -0.4zM314.8 408.3l1.1 -1.7 1.2 -0.4 1.3 1.8 -0.9 0.4zM338 415.9l0 -0.8 3.5 0.6 -1.9 1.1 -1.4 0.1zM282.9 481.5l0.1 2.3 -1.6 -0.7 -0.2 -3.1 1.4 0.4zM364.1 456.7l-2 0.4 -1.1 -1.3 1.2 -2.9 2.2 2.2zM364.4 453.3l-1.9 1.2 -1.5 0.7 0.8 -2 1.2 -0.4zM292.9 464.4l2.1 1.8 -1.6 1.9zM295.3 438.6l-1.2 0.4 -1.5 -3 2.1 -0.5 0.6 1.7zM262 475l-2.2 -1.9 1.1 -1.6zM281.5 422.7l-2.3 -0.3 -1.1 -1.9 1 -0.7 1.8 1.3zM301.1 478.7l-1.2 -0 -1.5 -1.2 1 -1.9 1 1.5zM311.7 422.3l1.2 0.2 -3 2.5 -1.5 -1.4zM312.3 498.9l-0.2 -2.6 0.4 -1.2 2 2.8zM319.6 401.1l1.5 -1.7 0.3 2.5zM264.8 525.1l-2.1 -1.2 -0.7 -2.1 1.9 0.4zM290.4 412.7l-1.1 1.8 -1.2 -3.3zM290.9 492.4l1.5 -0.8 3.1 1.6 -0.4 1.3 -3.2 -0.6zM313.3 525l1.1 0.2 -0.3 3 -2.1 -1.3zM294 461.4l2.4 0.9 -0.3 2.1zM280.5 398.1l-2.7 0.2 0.3 -1.4 3.3 -0.4zM266.8 457.5l-0.8 1.1 -2 0.6 -0.7 -1.4zM335.5 417.2l-1.3 2.5 -0.3 -1.5zM323.7 398.8l-0.1 -1.9 2.7 -0.5 0.3 2zM373.4 422.3l-0.3 -2.3 1.4 1zM361.5 490.9l-2.2 0.1 -0.6 -1 1.1 -0.9zM337 518.6l2 1.1 -1.9 1.2 -2.2 -0.8 -0.6 -1.6zM302.8 456l0.1 1.3 -2.1 1.3 0.5 -2.3zM372.7 525.9l0.9 0.8 -0.2 2.7 -0.9 -1.2zM312.8 488.9l1.5 0.6 -1.2 0.9 -3 1.3 1.3 -2.3zM270.6 463.2l0.7 1.9 -2.2 0.2 -0.4 -0.8 0.4 -2.5zM285.9 503.4l0.7 2.3 -2.8 0.5 0.1 -1.8zM282.1 448.7l0.6 -1.2 2.5 3.1 -1.9 0.4zM390.3 517.3l-0.2 -1.6 2.8 1.3 0.3 1.6zM333.4 507.5l-1.1 0.8 -1.8 -1.4 0.7 -0.9zM325.4 421.2l-1.1 -1.7 2.4 -1.2 2.1 0.9 -1.1 1zM380.4 403l1.9 -0.1 1.5 1.1 -3.4 0.8zM392.1 511.4l-1.9 1.2 -2.7 0.7 -0.2 -2.2 2.5 -0.1zM355.5 436.7l0.7 1.8 -1 1.5 -1.9 -2 1.4 -0.6zM352 469.2l2.2 -2.1 1.8 -0.3 -2.1 2.2zM317.3 406.4l-2.9 0 -1.5 -0.4 1.2 -1.2 2.8 0.5zM334.9 419.5l-2.3 -0.8 3 -2 1.6 1.1z"/>
<path fill="#000" d="M284.6 497.6l1.5 2.6 -0.8 0.8 -2 -1.2zM279.2 496.3l1.5 -1.4 0.9 0.5 -0.9 1.9zM281.1 499.2l-0.1 -0.8 0.1 -2.3 1 0.6 0.7 1.6zM283.9 500.1l0.9 -1.2 1 1 -1.5 0.9zM284.7 498l0.9 1.3 -1.2 1.6 -2 -1.7zM276 498.4l1.1 -2.1 1.7 0.9 -0.4 1.8zM282.5 499.1l-0.7 -1.8 1.3 -1.2 1.3 1.2zM284.7 499.9l0.8 -0.8 1.4 0.3 -0.4 2 -1.4 -0.5zM277.5 498.9l0.1 1.1 -0.8 0.3 -1.9 -0.4 0.9 -1.5zM280.4 499.5l-0.2 -1.1 1.6 -1.2 -0.6 3.4z"/>
<path fill="#000" d="M301.6 507.5l1.3 1.4 -1.9 1.3 -1.1 -2.1zM297.6 503.2l0.1 -1.6 1.2 0.1 0.6 1.9 -1.3 0.3zM301.6 503.6l1.6 -0.6 1.7 1.7 -0.8 1zM303.6 503.2l-1.7 1.7 -0.2 -1.2zM299.9 505.8l0.7 -2.7 1.7 1.4 -0.9 1.9zM301.9 504.2l-1.1 -0.2 1 -2.6 1 1.1 0.3 1.6zM301.2 503.2l-1.2 -0.2 0.8 -2.3zM299.3 506.8l-1.1 -2.5 1.9 -1.4 0.7 2.5zM300.9 506.8l0.4 0.9 -0.1 1.3 -1.7 -1.1zM297.7 508.6l-0.1 -2.2 0.7 -1.3 1.4 2.3z"/>
<path fill="#000" d="M299 511.1l0.6 -0.6 2 1.3 -1.5 0.8 -0.8 -0.3zM293.2 512.3l2.1 0.7 0.6 1.1 -3.5 0.4zM296.3 511.2l-0.7 1.1 -1.4 0.6 -0.6 -2.4zM292.2 512.6l0.3 -2.3 2 -0.4 -0.4 2.8zM293.3 511.5l0.7 1.5 -1.5 0.4 -0.6 -1.5zM296.3 512.5l-1 0.9 -1.2 -0.6 0.6 -1.4 2.2 0.2z"/>
<path fill="#000" d="M338.6 476.4l0.3 1.4 -2 -0.5zM340.9 482.2l-1.4 0.8 -0.6 -0.9 1.4 -0.8zM339.2 480.8l-0.2 2.1 -1.7 -0.4 -1 -1.9 1.7 -0.1zM340.7 484.4l-0.7 -0.6 1.4 -2.9 1.1 1.8zM340 479.3l2.1 0.4 0.2 2 -1.6 0.6zM345 478.6l1.9 1.3 -0.7 2 -0.8 -0.6 -0.8 -1.2zM341.6 478.1l-2 -0.2 1.5 -1.7zM339.2 479.4l-1.9 0.1 -0.8 -0.4 0.9 -1.6z"/>
<path fill="#000" d="M270.8 403l-0.2 1.8 -1.6 -0.4 -1.1 -1.8 2.5 -0.9zM275.7 403.1l-1.5 -1.4 2.3 -1zM276.1 409.1l-1.8 -0.9 1.3 -1.9zM273.9 402.8l1.5 -1.2 0.6 1.1 -1.5 2zM271.4 406.8l1.8 -1.4 1.2 1.4 -2.1 1.4zM280.4 404.4l-1.1 0 0.6 -2.6zM275.6 409.4l-1 0.8 -1.1 -2.2 1.2 -1.4zM278.8 402.7l-0.2 0.9 -1.2 0.9 -0.2 -2z"/>
<path fill="#000" d="M366.5 423.1l-2.6 1.8 -0.3 -1.6zM369.8 424.2l-1.2 1.4 -1.3 -0.9 1.3 -2zM364.7 427.2l-0.1 -1.2 1.5 -0.3 0.6 1.2 -0.9 1zM363.1 427.7l1.4 -2.3 2.1 2zM369.9 426.3l-1.3 -1.3 0 -1 1.2 -0.3 0.7 1.7zM366.6 425.5l-2.4 -0.5 1.3 -1.1z"/>
<path fill="#000" d="M332.6 432.6l1.1 -1.7 1.6 0.1 0.2 1.9 -1.6 0.5zM331.8 427.6l1.5 -1 0.5 2.2 -1.2 0.2 -1.4 0.4zM334.5 431.3l-1 1.5 -1.7 -1.1 -0.2 -1.6 2.2 -0zM336.8 428.8l2.3 0.5 -1.3 1.5 -1.3 0.5zM332.6 430.7l0.8 -1.4 1.1 1 0.3 2.2 -2.3 -0.1z"/>
<path fill="#000" d="M382.6 441l-0.3 3.1 1.1 2.9 -2.1 2.2 -0.8 3.1 -2.8 1.5 -3.1 0.6 -2.8 -1.6 -2.1 -2 -1.8 -2 -2 -2.4 0.8 -3 0.6 -3 2.8 -1.4 2.1 -2.2 3 0 2.8 0.7 2.9 1z"/>
<path fill="#000" d="M389 464.7l-2.8 0.9 -2 1.6 -2.5 -0 -2.6 -0.3 -2.8 -0.9 -0.3 -3.2 -1.8 -2.3 0.5 -2.8 1.2 -2.6 1.8 -2.2 2.8 -0.4 2.6 -1 2.6 1.2 2.6 1.2 1.2 2.7 0.2 2.8 0.6 2.9z"/>
<path fill="#000" d="M373 453.9l0.2 -2.3 -0.3 -2.3 1.7 -1 0.8 -1.9 1.8 -0.5 2 0.4 1.8 1.2 1.1 2 1.4 1.7 -0.3 2.1 0.1 2.1 -1.2 1.3 -0.9 1.7 -1.8 0 -1.9 0.7 -1.5 -2 -1.4 -1.5z"/>
<path fill="#000" d="M350 502.5l-0.2 -2.8 1 -2.5 1.7 -1.7 1.6 -1.5 2 -0.6 2.1 -0.2 1.9 1.2 1.7 1.5 0.7 2.3 0.9 2.4 -1.2 2.2 -0.7 2.4 -2 1.1 -1.9 1.3 -2.2 -0.6 -2.1 -0.7 -1.8 -1.5z"/>
<path fill="#000" d="M341.8 506l2.2 -0.5 1.9 1.4 1.6 1.3 2.3 1.2 0.3 2.5 -0.4 2.4 -0.6 2.4 -2.3 1.1 -2 1 -2.2 -0.1 -2.1 -0.6 -1.7 -1.4 -2.3 -1.3 0.1 -2.6 0.8 -2.2 0.8 -2 0.9 -2.4z"/>
<path fill="#000" d="M318.2 404.1l0.8 -1.7 0.7 -1.7 1.7 -0.6 1.5 -0.5 1.7 -0.5 1.5 1 0.7 1.7 1 1.3 0.6 1.8 -0.2 1.9 -1.1 1.5 -1.8 0.3 -1.4 0.8 -1.6 0.1 -1.3 -1.1 -1.1 -1.2 -1.4 -1.3z"/>
<path fill="#000" d="M337.4 406.4l-1.5 1.7 -1.9 -0.9 -2.1 -0.2 -0.5 -2.2 -1.4 -1.3 -0.6 -2 0.6 -2 2 -0.9 1.3 -1.2 1.7 -1.2 1.8 1 1.9 0.2 1.2 1.5 0.9 1.7 0.3 1.9 -0.1 2.1 -1.5 1.4z"/>
<path fill="#000" d="M261.6 397l1.3 -1.1 1.1 2.5 0.7 3.6 0.3 3.8 0.1 3.7 0.2 4.3 -1 2.7 -0.7 3.8 -1.2 1.1 -1.3 -0 -0.9 -3.4 -0.7 -2.8 -0.7 -3.1 -0.1 -4 -0.1 -4.6 1.3 -2 0.6 -4z"/>
<path fill="#000" d="M379.4 486.4l-1 0.1 -0.9 -0.5 -0.6 -1.3 -0.3 -1.4 -0.4 -1.4 -0.1 -1.8 0.7 -1.3 0.9 -0.9 0.9 -0.5 1 0.4 0.8 0.7 0.6 1 1 1 0.1 1.7 -0.4 1.6 -0.5 1.5 -0.8 1.2z"/>
</g>
<clipPath id="cl8"><rect x="402.20" y="397.20" width="135.00" height="134.00"/></clipPath><g clip-path="url(#cl8)">
<rect x="402.20" y="397.20" width="135.00" height="134.00" fill="#7dc47e"/>
<path fill="#4fbbeb" d="M419.5 410.6l-1.7 2.2 -3.2 -0.4 -2.5 1.7 -4.3 0.8 1 -4.4 -1.9 -1.8 0.2 -2.5 0.9 -2.9 3.1 -1.8 3.5 1 1.6 2.6 1.8 1.2 3.4 1.8z"/>
<path fill="#4fbbeb" d="M413.7 407.7l-1 -1.6 2 -1.2 1.4 1.2zM419.3 412.6l-2 -0.6 -0 -3 1.5 0.2 1.3 1.2zM413.8 403.1l2.3 0.2 -0.3 1.9zM411 408.4l0.3 -2.1 1.6 1.8zM414.7 413.7l-0.5 3.3 -1.9 -0.6 -0.7 -2zM411.5 406.7l0.7 -1.1 1.9 0.2 0.2 0.7 -0.8 1.2zM415.7 406.8l1.2 0.4 -1.4 2.1 -1.9 -0.5zM405.2 407.7l-2.2 -0.9 1.1 -1.4 2.3 1.2z"/>
<path fill="#4fbbeb" d="M421.1 420.1l1.2 1.5 3.3 1.6 -1.3 2.6 -2.9 0.9 -1.5 1.9 -2.5 -0.5 -3 0.4 -1.9 -2 0.5 -2.6 -0 -2.3 0.9 -2.5 2.6 -1.3 2.8 0.6z"/>
<path fill="#4fbbeb" d="M417.5 425.1l0.4 2.9 -0.9 -0.5 -1.1 -2.7zM414.6 429l-0.6 -1.8 1.5 -0.7 1.2 1.4zM414.8 421.9l-1.3 1.8 -2.2 -0 1.5 -2.8zM417.9 422.6l-1.4 1 -0.6 -2.3 1.8 0.1zM418.1 423.5l0.7 1.6 -1.4 0.4 -1.7 -1.7z"/>
<path fill="#4fbbeb" d="M403.3 433.6l-0.5 -2.2 -1.2 -1.7 1.3 -1.9 0.4 -1.5 0.5 -2.6 1.4 1.5 1.3 -0.3 1 1.4 0.9 1.9 -1.1 2 -0.1 2.3 -1.2 0.9 -1.2 -0.9z"/>
<path fill="#4fbbeb" d="M407.6 426.5l-1.6 -1.6 1.3 -1.2 1.3 0.2zM409.1 432.5l-0.3 1.2 -1.6 0.9 -0.5 -1.8zM402.9 431.1l-0.2 -3.3 1.8 1.2 -0.5 1.4z"/>
<path fill="#4fbbeb" d="M424.9 400.7l-0.9 -0.7 1.1 -0.7 0.3 -1.1 2.5 0.1 2.7 -1.3 1.7 1.2 3.4 0.5 0.2 1.4 -3.3 0.8 -1.5 0.5 -1.3 1.3 -2.2 -1.1 -2.1 -0.1z"/>
<path fill="#4fbbeb" d="M436.1 401.8l-2.1 -0.5 1.2 -2.3 1.8 1.3zM425.5 400.8l2.5 0.2 0.4 1.4 -2.3 -0.2zM428.5 398l-0.3 2 -1.3 0.2 -0.8 -2.3z"/>
<path fill="#4fbbeb" d="M415.5 420.9l-2.5 0.5 -1.8 0.6 -1.7 -0.9 -2.3 -0.1 0.1 -2.7 -1.8 -2.4 1.9 -2 1.7 -1.2 1.7 -1.6 1.9 1.3 2.5 0.3 0.7 2.7 0.4 2.8z"/>
<path fill="#4fbbeb" d="M407 421.7l0.7 -2 2.1 1 0.4 1.1zM415.6 414.4l-0.2 2.1 -1.7 1zM412.3 417.9l0.7 -1.4 1.4 0.8 -0.2 2.1 -1.3 0.6zM412.1 412.9l1.6 -2.6 1.4 1.2 -1.1 2zM405.4 418.3l-1.3 -1.2 2.3 -0.8 0.7 1.4 -1 1.1zM409.2 415l-0.1 2.4 -1.4 -2.4z"/>
<path fill="#4fbbeb" d="M460.7 419.7l2 0.4 0.6 1.9 2.2 0.2 -0.6 1.6 -1 0.9 0.4 2.1 -1.9 0.3 -1.4 -1.4 -1.3 -0 -1.4 -0.6 -1 -1.4 0.5 -1.6 1.4 -1.1z"/>
<path fill="#4fbbeb" d="M460.8 425.1l-2.8 -0.1 1 -2.1 1.3 -0.2zM458.2 420.2l2.1 3 -1.8 -0.9zM461.6 425l1.8 3.6 -2.3 -2.3z"/>
<path fill="#4fbbeb" d="M450.1 479.8l-0.1 1.5 3.8 1 -1 1.7 -1.9 1.4 -2.9 0.8 -2.7 -1.3 -3 0.1 -1.2 -1.4 1.1 -1.4 1 -0.9 1.1 -0.6 0.7 -2.4 2.7 1.3z"/>
<path fill="#4fbbeb" d="M446 481.8l-2.2 0.7 -1.1 -0.8 1.3 -2.2 1.9 1.2zM445.4 486.6l-1.1 -0.6 0.6 -2.1zM443.8 480.3l0.6 -1.7 2.2 3.2z"/>
<path fill="#4fbbeb" d="M447.8 486.1l-0.6 -1.5 1.2 -1.3 1.8 -0.9 2.2 0 2.2 0.4 1.2 1.5 -1.4 1.6 1.2 1.4 -1 1.4 -2.2 -0 -1.5 -0.5 -1.3 -0.3 -1.3 -0.7z"/>
<path fill="#4fbbeb" d="M448.6 488.9l-2.1 -2.6 2.8 0.3zM455.5 488.3l-2 -2.1 1.2 -0.3 2.1 0.7zM451.8 488.1l-3 -0.5 1.3 -1.5z"/>
<path fill="#4fbbeb" d="M483.8 486.6l-2.9 1.6 -1.9 1.8 -3.9 -0.4 -2.6 -0.7 -5.3 0.9 0.7 -2.6 -4.7 -1.9 2.2 -2.4 5.7 0.2 2.7 -0.7 4.2 -1.5 0.7 2.9 4.4 0.7z"/>
<path fill="#4fbbeb" d="M474.9 489.2l2.1 -0.5 -0 2.3 -1.3 0.7zM480.3 483.3l-0.2 -2.4 1.8 -0.2 1.1 1.2zM471.9 481.8l1.4 1.4 -0.9 1.3 -2.2 -0.7zM474.2 483.6l0.8 -1.7 1.6 1.1 0.5 1.6 -2.4 0.8zM484.8 484.2l0.3 2.4 -1.4 -0.6zM466.9 485.1l-1.8 1.9 -0.9 -1.9 1.1 -1.2zM480.6 482.2l-2.1 1 -1.3 -1.6 0.6 -1.7 1.9 -0z"/>
<path fill="#4fbbeb" d="M482.9 478.8l-2.5 -0 -2.3 -0.9 0.4 -2.2 -1 -1.3 -0.7 -2 1.8 -1.5 2.7 0.6 2.2 -0.8 2.4 0.6 -0.9 2.5 1.6 1.2 -0.7 1.5 -1.3 1.3z"/>
<path fill="#4fbbeb" d="M478.8 477.6l0.1 -2.1 2.5 -0.4 0.3 2.2 -1 0.9zM477.7 475.1l1.4 -2.4 1.2 0.2 -0.1 2.8zM484.9 475.5l-1.5 -0.2 -0.6 -1.2 1 -0.8 1.9 1.1z"/>
<path fill="#4fbbeb" d="M485.4 472.2l-1.5 -0.6 0.2 -1.6 -0.2 -1.4 1.1 -0.9 0.6 -1.9 1.7 1.1 1 0.6 1.5 0.2 0.8 1.3 -1 1.3 0 1.6 -1.5 0.5 -1.3 -0.9z"/>
<path fill="#4fbbeb" d="M488.3 474.5l-1.2 -0.4 -1.6 -1.7 0.9 -0.9 2.3 0.8zM490.8 471.8l-1.6 0.4 -1.6 -1.3 2.9 -0.3zM484.4 472.1l-1.3 -2.1 0.5 -0.8 2.2 2z"/>
<path fill="#4fbbeb" d="M469.2 487.9l1.7 0.2 0.5 1.2 -0.8 1.1 -0.4 0.9 0.1 2.2 -2.3 -0.4 -2.3 0.6 -1.1 -1.6 -0.9 -1.3 1.2 -1.2 -1.1 -1.8 2.7 0.3 1.3 -0.1z"/>
<path fill="#4fbbeb" d="M465.2 489.2l-1.3 1.2 -1.2 -0.7 -0.7 -1 2.8 -0.4zM465.1 489l1.6 1.1 -2.2 1 -0.7 -0.6zM468.7 492.1l-2.3 0 0.1 -0.9z"/>
<path fill="#4fbbeb" d="M498.2 497.9l-1.3 1.4 -1.9 -0.3 -1 -1.5 -1 -1.1 -1.3 -1.5 2 -1.1 1 -0.6 0.9 -0.4 1.1 -0.4 0.9 0.8 2.2 0.2 -0.8 1.8 0.2 1.6z"/>
<path fill="#4fbbeb" d="M498.7 494.3l-0.5 2.2 -1.9 0.3 -0.2 -2.1 1.3 -0.4zM496.3 491.1l1.7 0.2 0.3 2.4 -2 0.4zM494.6 491.8l3.2 0.1 -1.9 1.6z"/>
<path fill="#4fbbeb" d="M519.9 462.2l2.2 1.5 -1.2 5.4 1.5 5.1 -0.9 5.4 -2.9 -3.1 -1.7 6.1 -2.3 -2.2 0.4 -7.2 -1.3 -3.2 1 -3.7 -0.3 -6.1 1.9 -3.4 2 4.8z"/>
<path fill="#4fbbeb" d="M520.8 473.4l-0.9 -3.5 2.6 0.9zM518.8 468.3l-0 3.1 -1.8 -0.9 -0 -2.7zM516.2 470.6l1.4 1 -1.8 1.6 -1.4 -0.7 -0.4 -1.4zM516.1 465.5l-1.8 -3 2.9 1.1zM512.6 462.1l0.5 -1.9 1.2 2zM519.1 467.4l0.9 0.1 0.9 2 -1.6 0.4 -1.7 -1.3zM522.1 476.7l-0.7 2.1 -1.3 0.6 -1.5 -2.3 1.3 -0.7zM516.9 467.9l0.9 -2 0.9 1.9zM515.7 471.7l-0.2 -1.6 3.2 -0.3z"/>
<path fill="#4fbbeb" d="M522.2 456.3l2.4 -1.4 0.8 3.5 1.6 2.3 -0.3 3.3 -2.4 1.1 -0.9 2.2 -1.6 -0.5 -1.1 -1.2 -2.5 0.6 -1.2 -2.8 1.4 -2.8 -0.3 -3.7 2 -1.8z"/>
<path fill="#4fbbeb" d="M528.1 462.8l-1.6 0.5 -1.1 -1.5 3 -1.1zM519.1 466.5l-1 -1.3 1.4 -1.7 1.1 2zM521.3 456.3l3.9 -0.2 -2.2 2.1zM521 458l-2.8 -1.9 1.6 -0.7z"/>
<path fill="#4fbbeb" d="M528.5 483.1l-1.7 1.4 -2.1 -0.7 -1.8 -0.7 -0.7 -1.8 -0.6 -1.5 -0.1 -1.8 1 -1.6 1.6 -1 2.1 -1.1 1.1 2.5 1.5 0.9 1.4 1.6 -0.4 2.1z"/>
<path fill="#4fbbeb" d="M527.6 483.3l0.1 -1.9 1.7 0.1 0.8 1.5zM525.7 481.3l-2.3 -0.8 -0.3 -1.7 2.2 -0.4 0.1 1.1zM525.8 476.9l1.9 -1.6 1.1 2.7 -0.6 1.3z"/>
<path fill="#4fbbeb" d="M531.8 402.1l2 1.9 1.8 -4.2 1 5.8 1.2 3.4 -0.5 4.9 0.9 6.3 -2.2 0.7 -1.3 -0.4 -1.6 5.5 -0.8 -5.8 -2.2 -1.6 -0.2 -6.3 2.2 -3.1z"/>
<path fill="#4fbbeb" d="M532.7 415.5l-2.9 -1.3 2.4 -1.9zM536.1 414.7l-2.3 1.1 0.4 -3.2zM533.5 425.8l1.5 1.4 -1.1 1.6 -1.8 -2.1zM529.7 418.1l1.4 -1.6 1.2 2.6 -1.4 0zM531.3 412.9l1.9 3.1 -1.4 -0zM531.6 400.9l-0.1 -1.5 2.1 0 0.8 0.8 -1.8 1.8zM533.6 418.1l1 2.6 -0.8 1.3 -1.7 -2.1z"/>
<path fill="#4fbbeb" d="M534.1 455.2l1 2.8 1.1 -1.7 0.5 4.9 1.6 3.1 -1 6.2 -0.1 6.5 -1.4 -0.7 -0.9 7.4 -1.4 -1.6 0.3 -10 -1.1 -2.8 -0.2 -6.3 1.1 -3.5z"/>
<path fill="#4fbbeb" d="M532.5 465.5l-0.3 -1.4 0.4 -1.7 1.7 0 0.1 0.9zM533 462.4l-1.1 -0.3 0.2 -2.3 1.6 0.8zM532 464.1l0.1 -2.3 2.3 0.6 0.5 2 -1 0.1zM534 454.7l2.8 0 -0.4 1.4 -1.4 0.9zM536.3 474.4l-2.9 -0.4 2.7 -1.6zM535.9 464.3l-1.4 -1.2 0.9 -2.5 2.2 1.7z"/>
<path fill="#4fbbeb" d="M431.2 514.6l-2 -0.4 -1.5 0.1 -2.1 0 -0.6 -1.6 0.4 -1.5 0.2 -1.3 1.8 -0.2 0.9 -0.8 1.3 -0.1 0.7 1 1.3 0.5 0.3 1.2 -1.1 0.8z"/>
<path fill="#4fbbeb" d="M428.3 512.3l2 2.2 -0.5 1 -2.1 -1.7zM431.8 510l1.5 1.6 -2 1.2 -1 -1.8zM428.7 514.5l-1.9 -0.2 -0.3 -1.3 1.9 -1 1.1 0.8z"/>
<path fill="#4fbbeb" d="M403 496.6l-0.7 -1.4 0.4 -1.7 0.6 -1.1 0.3 -3.4 1.4 -0 1.1 1.5 1.1 1.5 -0 2.6 -0.8 1.8 -0.6 1.4 -0.8 0.4 -1 2.9 -0.6 -3.1z"/>
<path fill="#4fbbeb" d="M405.6 492.9l-0.4 -2.6 1.3 0.3 1.6 1.3zM402.6 491.4l1.7 1.8 -1.2 1.2zM402 494.2l0.7 1.7 -1 2 -1.4 -2.3z"/>
<path fill="#4fbbeb" d="M527 504.4l-1.6 -0 -2 -0.1 -0.6 -0.9 0.5 -0.9 -0.8 -1.2 2.4 -0.1 1.3 -1 2.2 0.1 1 1 -0.3 0.9 2.6 0.8 -1 1 -2.5 -0z"/>
<path fill="#4fbbeb" d="M523.6 502.1l1.6 -1.8 1.9 0.5 -0.4 2.2 -2.3 0.1zM524 504l2.3 -1.1 1.1 0.4 -0 1.6 -2.4 0.8zM527.5 502.7l-0.4 -1.4 2.4 -1.3 -0.2 2.1z"/>
<path fill="#4fbbeb" d="M406 467.5l-0.4 1.2 -0.8 0.4 -0.7 0.9 -0.7 -1 -0.8 -0.2 -0.1 -1.2 -0.4 -1.1 -0.3 -1.9 0.9 -1 1.1 -0 1.1 -0.2 0.6 1.5 0.3 1.3z"/>
<path fill="#4fbbeb" d="M402.9 465.7l2.2 0.6 -0.7 2.4zM402.2 471.2l1.8 -2.8 1 2.3zM405.5 463.9l-0.3 2.5 -1.4 -3.2z"/>
<path fill="#4fbbeb" d="M533.3 438.6l1.7 1.5 -0.4 2.3 -2.4 -0.3 -0.5 2.5 -1.5 -0.3 -1.1 -1.2 -0.6 -1.5 -0.5 -1.6 0.3 -1.7 0.4 -2.2 1.9 1 1.3 -1.6 0.8 2z"/>
<path fill="#4fbbeb" d="M528 441.5l0.6 -2.6 2.4 0.9 -1.6 2.7zM530.3 439.3l1.6 1.3 -1.9 1.8 -0.7 -0.6 -0.1 -2.8zM530.5 443.2l3.2 -1 -1.7 3z"/>
<path fill="#4fbbeb" d="M512.3 453.3l-1.3 0.6 -1.7 -0.3 -0.2 -2.2 -1.2 -1.9 2.1 -1 -0 -2.5 1.6 -0.1 1.2 1 1.4 0.2 -0.1 2 1.8 1.6 -1.3 1.6 -0.6 2.1z"/>
<path fill="#4fbbeb" d="M513 446.3l-0.8 1.5 -1.9 -0.3 1.2 -2.4zM512.9 453.8l-1.8 -1 0.2 -1.8 1.2 0.4zM512 452.8l-1.6 2 -1.6 -1.2 0.8 -1.6z"/>
<path fill="#000" d="M401.7 417.4l-1.6 -2.6 -1.6 -4.2 0 -6.1 2.4 -2.3 0.8 -4.8 1.9 0.3 1.5 1.8 2 1.2 0.7 5.1 -0.7 4.8 -0 5.7 -1.9 1.9 -1.9 3.5z"/>
<path fill="#000" d="M404.9 503.9l0 3.2 -1.1 1.5 -1.1 2 -0.8 -2.6 -1.3 -1.7 0.8 -3 0.7 -1.7 1 -2.1 1.4 0.9z"/>
<path fill="#f4e020" d="M404.9 407.6l2.4 0.8 -1.4 1 -0.9 -0.5zM406.2 406l-1.6 0.7 -0.7 -1 1.6 -1.4zM404.6 411.5l-1.7 0.3 -0.2 -1.7 2.1 0.4zM404.8 413l-1.7 -0.7 0.9 -1.7zM405 405.6l-0.6 -0.9 1.4 -1 0.6 1.3zM406.6 407l-0.5 1.7 -1.4 -0.4 0.6 -1.7zM403.3 405.2l1.8 1.3 -1.5 0.4z"/>
<path fill="#ccc" d="M471.4 400.3l1.6 -0.3 -1.1 2.1zM473.4 397.7l-0.9 1.6 -0.8 -0.6 0.8 -1.4zM473.3 398.2l1.1 0.3 0.2 1.3 -1.9 0.3 -0.3 -1zM470.9 398.8l-0.4 2.1 -1.4 -1.9z"/>
<path fill="#000" d="M496.1 482.4l-2.3 1 0.2 -1.8 0.7 -0.9 1.3 -0.4zM454.9 443.3l2.7 -0.2 1.7 1.5 -1.8 0.5 -2.2 -0.7zM529.6 456.4l1.4 2.9 -1 0.8 -0.8 -2.3zM420.7 451.6l-0.3 2.4 -1.7 -0.7zM410.2 511.5l1.4 0.2 -0.6 2.7 -1 -1.5zM504 447.4l1.5 -0.6 1 0.8 -1.6 2.3zM532 400.6l0.1 -1.5 1.3 0.6 0.2 1.3 -0.3 0.5zM518.2 524.9l1.8 -0 -0.2 1.6 -2.4 0.9zM502.6 500.5l1 -1.6 0.7 -0.1 0.7 1.9zM430.8 436.7l-2.1 -1.2 0.7 -1 1.9 0.9zM431 506.5l2.2 -1 -0.3 1.9 -2.3 1zM528 519.6l1 -0.9 1 -1.2 2.1 1.1 -1.5 1.2zM510.7 451l1.4 -1.1 0.8 0.8 -1.2 2.1zM481.2 404.4l1.8 -0.5 -0.9 2.2 -1.3 -0.2zM426.2 483.7l-2.3 -1.9 2.3 0.5zM524.4 524.5l1.6 -0.1 -0.6 2.5zM419 464.9l-0.5 -0.9 1.7 -1.1 0.6 1.2 -1.6 1.9zM411.7 483.9l-0.4 -0.6 0.6 -1.5 1.3 1.8zM505.5 528.1l-0 -1.7 0.7 -0.7 0.2 1.5zM429.8 417.2l1.2 -1.3 1.1 0.7 -1.6 1.3zM513.1 454.8l-1.2 1.3 -1.3 0.2 1.2 -2.2zM419.9 450.1l-1.5 -0.4 -0.3 -2.1zM474.3 478.6l0.8 -1.1 1.8 0.4 -1.7 1.8zM465.4 424l1.4 -0.8 1 1.2 -0.2 1.2 -3 -0.3zM529.9 487.6l0.7 -1.8 2 0.5zM410.6 472l0.5 -2 0.9 0.1 -0.1 2.3zM455.2 460.4l-2.6 0.7 1.4 -2zM488.6 407.1l0.6 1 -0.4 2.1 -1.2 -0.4 -1.1 -1.9zM410.7 406.9l1.2 -2.3 -0.2 2.3zM500.5 409.1l1.9 2 -2.8 -0zM424.6 470.5l-0.1 1.1 -1.3 -0.6 -0.6 -1.9 2.1 0.3zM435.7 397.8l1 2 -1.2 0.7 -0.7 -2.2zM492.6 419.1l1.7 0.6 0.1 1.3 -1.8 -0.6zM441.9 505.7l1.7 -0.5 -0 1.3 -0.4 1.4zM426.2 423.5l2 0.2 -1.6 0.9 -1.4 0.6 -0.7 -1.8zM505.7 426.9l-1.3 1.1 -0.4 -1.3 0.3 -2.6 1 1.5zM426.7 450.6l-1.3 -1.8 1.2 0.5zM480.2 480.3l-1.3 2.4 -1 1.4 0.7 -2.7zM500.7 492.2l-2 -1 1.8 -0.6zM476.2 470.7l1.6 -0.2 -1.5 1.9zM408 504.8l1.2 1 -1.1 0.9 -1.3 -0.3zM419.5 431.3l-1.4 -0.5 2.3 -1.2 1.4 0.4zM433.6 474.4l2.3 -0.9 -0.9 2.4 -1.7 -0.6zM504.2 430.5l-0.1 0.8 -1.7 -0 0.1 -0.9 0.2 -1.6zM477.4 469l-0.4 2 -1.1 1 -0.3 -1.9zM513.5 483.8l-0.4 2.9 -1.9 -1.4 0.6 -0.8zM470.2 446.3l1 0.2 -1.5 2 -1.8 -0.5 0.5 -1.5zM431.2 434l2.1 -0.9 -0.2 1.4 0 0.8 -2.7 0.1zM408.8 430.7l1.2 0.9 -1.3 1.2zM434.4 428.7l-1.8 0.1 -0.5 -0.8 1.4 -0.6 1.9 -0.6zM523.4 450.5l-3 -1.1 0.6 -2.3 1.4 1.3zM428.4 405.3l1.9 -0 -1.4 1.3 -0.9 0.5 -1.4 -2.1zM401.9 420.7l0.8 0.3 0.1 1.3 -0.3 2.4 -1.5 -1.3zM488 430.5l1.2 -3 1.8 1.5 -1.3 1.6zM440.7 525.4l0.9 0.2 1.1 1.7 -1.9 -0.4 -1.2 -1.5zM457.6 515.1l1.7 1 -0.7 1.2 -0.8 -0.8zM420.1 453.7l1.5 1.5 -0.3 2.6 -1.4 -0.7 -0.2 -2zM419.2 410.2l-0.2 1.4 -1.9 0.4 0.6 -1.7zM449.7 471.4l0 -1 1.6 0.3 0.3 1.1zM484 452.8l-1.3 -0.6 -1.1 -0.5 0.6 -1.2 0.9 0.8zM430.7 497.2l-0.8 2.6 -0.5 -3.1zM511.6 400.5l0.6 1.8 -1 0.5 -1.2 -1.9zM536.5 404.1l-0.6 1.9 -1.2 -0.2 0.1 -1.8zM439.1 492.8l-1.5 -1.5 1.4 -0.7 1.7 2.2zM479 429.9l-1.1 1.9 -1.5 -0.5 1.2 -2.1zM531.2 423.1l-1.5 -3 1.9 -0.6 0.8 1.6zM494.9 429.5l0.6 -2.5 0.5 1.5zM417.6 496.4l-0.2 -1.1 1.6 -0.1 1.6 1.8 -1.4 0.9zM519.5 423.8l-2.4 0.4 -1.5 -1.5 3 -0.4zM507.2 521.9l1.7 -1.6 1.1 1.5 -1.6 1.2zM536 427.4l1.1 0.5 -1.5 1.1zM501.2 448.1l-1 1.2 -1.4 -0.2 0.8 -2.7zM521.7 429.6l2.2 1.4 -1.6 1.4zM478.3 404.9l-0.7 -1.2 1.2 -1.1 0.6 1.6zM500.1 490.2l0.3 0.9 -1.1 0.8 -0.9 -1.7zM495.4 462.1l-2.9 -0.8 1.1 -1.1 3.1 0.6zM534.8 528.6l-2 -1.2 3.1 0.2zM507.8 511.3l-0.1 2.3 -0.6 0.1 -0.9 -0.3 0.2 -1.4zM461.9 404.2l-3.2 -0.3 1.6 -1.2zM504.8 427l1.8 -0 -0.3 1 -1.9 1.6 -0.7 -1.1zM531.7 527.7l1.2 -1 1.1 1.6 -0.1 1.2 -2 -0.9zM497.3 513.7l-1.3 0.7 -1 -2.6 1.8 -0.5zM471.7 419.6l-0.5 -1.5 -0.7 -0.9 2.2 0.2 0 1.5zM470.9 511.1l1 -0.5 -0.2 1.1zM526.8 518.7l-0.9 -1.2 2.6 -1.6 -0.7 2.9zM489.8 519.5l1.2 0.8 -0.2 1.9 -1.4 -1.3zM422.5 486.3l2.2 2.6 -2.1 1zM513.7 436.1l-0.1 -1 2.2 0 -0.5 1.1zM512 442.5l-1.3 -0.9 -0.7 -1.6 2.3 -0.3zM524.6 409.5l1 -0.2 0.3 1.6 -2 0.6zM468.8 441.2l1.7 1.7 -2.7 -0.5zM414.9 438.5l1.4 -1.8 1.4 1.2zM523.8 465.6l-0.9 -1.4 0.1 -1.4 1.7 0.8zM420.6 399.8l1.2 1.8 -1.1 -0.3zM414.7 511.4l3 -1 0 2 -1.4 0zM404.8 490.6l-1 0.8 -0.6 -2.2 0.6 -0.9 1.2 0.1zM452.3 447.6l1.6 0.6 -2.7 1.3 -0.1 -1.3zM425 493.5l-0.1 -0.5 1 -2 0.2 2.2zM501.2 469.5l0.6 -1.1 1.8 -0.7 -0.1 1.6 -2 1.6zM466.5 528.4l-1.3 2.1 -0.6 -2.6zM522.8 407.9l1.3 -0.8 1 0.2 0.2 0.9 -1.1 -0zM499.4 410.9l-0.4 -1.9 0.6 -0.9 1.9 2.3zM519.5 526l-1.4 -1.3 1.3 -0.6 0.7 1.9zM520.7 515.8l-0.6 -0.7 -0.6 -1.4 2.7 0.3zM440.1 437l1.4 0.1 0.7 1 -1.8 0.6 -0.9 -0.2zM468.1 493.3l1.5 1.2 -0.9 1.6zM495.4 508.8l-0.2 1.5 -2.1 -2zM465 456.6l-1.4 1.7 -2.1 -0.9 2.6 -1.6zM518.6 428.2l0.5 2.4 -0.5 0.5 -0.6 -0.2 -0.2 -1.6zM500.4 455.1l-1.4 0.2 -0.6 -1.6 1 0 1.3 0.7zM524.7 406.9l2.1 -2.5 -0.3 2.3zM498.9 484.2l1.4 1.8 -1.6 0.1 -1.7 -1.2 0.7 -0.9zM502.5 436.5l1 -2.6 2.5 2.8zM430.1 514.9l-0.6 -1.6 2.4 0.4zM529.9 460.1l-1.4 0.9 -0.2 -1.1 0.6 -1.6zM428.9 411.8l-1.6 -0.1 1.4 -2.1zM427.3 497.9l-0.1 1.8 -0.8 -1.9zM408.3 523.1l-0.5 -1.6 2 -0.5 0.5 1.6zM421.6 440.9l0.5 -1.5 0.7 3.1zM457.5 443.1l-0.6 3.1 -1.5 -2.3zM460.6 521.4l-0.6 1.3 -1.8 -2 2.1 0.1zM452.7 506.9l-1.7 -1.9 0.1 -1.3 1.5 0.3 1.8 1.4zM520.7 434.4l-0.8 1.6 -1.8 0.2 0.2 -1 0.3 -1.2zM462.4 442.5l-0.6 0.6 -2.1 -0.1zM506.4 418.1l-0.4 0.8 -0.9 1 -0.3 -0.5 0.3 -1.5zM524.1 397.6l0.8 -1.8 1.8 1.4 -0.7 1.5zM419.7 414.6l-0.5 -0.8 0.5 -2.4 0.9 0.7zM432.2 448.9l1.4 -1.8 1 0.9 0.1 0.8 -1.9 1.7zM527.4 449.3l-0.4 2.7 -1.4 -0 -0 -1.5zM438.5 492.8l-2.1 -1.3 1.3 -1.8 1.1 1.9zM430.3 427.3l0.1 -0.6 0.7 -1.3 0.8 2.3zM455.5 399.8l-0.7 -2.3 3.2 1.7zM509.8 462.8l-1.6 0.6 1.2 -2.4 1.5 -1.2 -0.5 2.1zM458.3 474.6l0.7 1.7 -1.5 -0.4 -0.9 -2.6zM444 438.7l0 1.7 -1 -0.2 0.2 -1.5zM419.5 505.1l-1.2 -1.3 2.3 -0.2 0.4 0.8zM526.7 454.9l-1.2 -1.2 0.3 -0.5 1.2 0.9zM443.4 419l-1.8 1.5 -0.2 -2.9zM488.4 504.4l2.5 0.7 0.5 1.2zM531.7 436.2l1.3 0.3 -0.2 0.6 -1.7 1.4 -0 -1.4zM465.6 428.8l0.3 1.6 -2.1 -0zM519.6 492.1l1.1 -0.7 0.3 1.5 -1.5 0.9 -1 0zM509.3 470l-1.3 1.5 -0.6 -0 0.3 -2.5 0.8 -0.1zM467.6 530.3l-1.3 0.8 1.4 -2.3zM418.3 495.6l-0.2 -0.8 2.5 -1.1 -0.6 1zM433.1 486.3l-2.7 1.3 -1.2 -0.9 2.7 -1.9zM534.3 406.3l1.8 2.1 -1 1.1 -1.1 0.2 0.1 -2zM513.8 479.1l-0.1 0.4 -1.8 -0.3 -0.5 -1.1 2 -0.2zM462.3 491.6l1.2 3 -2.2 -0.6 -0.6 -0.9zM457.5 465.1l0.3 1.4 -1 1.9 -0.7 -2.4zM430.8 422.1l-1 -0.4 2.3 -1.4 0.6 1.9zM485.2 431.4l1.1 0.2 -0 1.4 -1.8 -0.4zM426.1 400l1.8 1.2 -0.3 1.5 -1.6 -1.4zM404.5 524.5l-1.3 0.4 -0.2 -2.5zM430.3 431l-0.6 1.3 -0.9 0 -0.3 -2.1 1.2 0.1zM525.3 453.5l-0.1 -1.3 0.3 -1.7 1.5 1.8zM422.7 529.9l1.1 -1.5 0.8 0.9 0.2 1.7zM435.6 521.7l-0.3 -1.1 1.4 -0.7 0.7 1.7zM505.2 442.6l-0.5 1.2 -0.9 -0.4zM459.2 528.2l1.5 -0.6 -0.2 2.4 -0.7 0.4zM459.6 400.2l0.8 -2.6 1.5 0.8 -0.5 2.4zM409.8 416.3l-0.7 1.3 -0.9 -0.1 0.3 -1.2zM491.7 433.1l-1.8 0.1 -0.2 -1.5 1.4 0.3zM484.9 476l-2 0.9 0.2 -2.3zM443.1 485l-2.3 -0.9 0.4 -2.1 2.1 1.1zM411.9 457.6l1.6 -0.8 -0.5 2.7zM459.4 439.2l1.8 -0.1 -0.5 1.7 -1.7 0.6 -0.6 -1.4zM488.2 498.3l1.4 2.2 -1.1 1.3 -0.4 -1.5zM475.8 421.1l-1.3 -1.2 1.6 -0.3 0.8 1.7zM406.7 422.5l-0.3 -1.4 2.5 0 0.9 2 -1.3 0.6zM509.2 446.8l-1 1.1 -0.2 -2.6 1.6 -0.2zM506.4 470.1l0.5 1.3 -1.9 0.5 -1 -1.7zM403.7 422.5l-0.6 0.8 -1.5 0 0.2 -1.8zM476.4 485.3l1.5 -1.7 0.3 1.7 -0.6 1.2 -1.2 0.1zM438.4 435.2l-1.8 0.1 1 -1.8zM461.6 413.8l-0.1 -0.3 1.1 -1 0.6 0.4 0.7 1.4zM402.8 431.1l0.9 0.8 -1.6 0.8 -1.7 -0.3 1.4 -1.2zM408 488.3l1.8 1.4 -1.4 1.3 -1.4 -0.7zM507 493.6l0.6 0.6 0.3 1.7 -1.6 -0.5 -0.9 -2.4zM433.4 529.7l-1.2 0.8 -0.6 -0.5 -0.3 -2.2zM473 512.1l-0.7 -2.5 2.4 1.7zM534.9 477.1l-0.5 1.7 -1.1 -0.5 0.4 -1.4zM458.2 442.9l-0.6 1.3 -1.7 -0.2 0.7 -2.1 0.9 0.3zM495.6 445.2l-1 -2.6 2.4 1.7zM517.3 428.8l1.6 -1.1 0.9 0.4 -1.7 1.7zM450.3 431.4l1.3 1.2 -2.5 -0.2zM446.6 522.1l-1.2 0.4 -1.2 -2.5 1 0.5zM430.7 441.6l-3.5 -0 1.8 -1.8zM535.6 490.3l0.2 2.5 -2.1 -0.8 0.4 -1.1zM412.1 506.9l-3 0.8 -0.5 -0.8 2.8 -0.7zM479.8 531.7l0.4 -1.7 1.8 -0.3 1 0.7zM512.6 464.9l0.3 1.9 -2.5 -0.2zM532.6 505.6l-1.7 -1.5 1.6 -2 0.9 1.4zM426.4 419l-0.1 -1 2.4 1.3zM421.9 452.1l1.6 -0.8 0.3 1.1zM407.4 503.2l1.9 -0.1 -0.2 2.9zM440.2 472l0.8 -1.6 2.6 0.3 -1.6 2.3zM523.2 430.5l-1.3 0.9 0.5 -2.1zM411.3 420.6l-3 -1.2 0.9 -1 2.6 0.3zM522.9 428.7l-0.7 -0.3 -0.8 -0.4 2.4 -1.5 -0 1.5zM509.1 403.7l0.8 2.9 -1.4 -0.9 -1.9 -1.4zM405.5 407.3l-0.2 1.1 -1.1 0.8 -1.6 -1.6zM420.1 439.6l-2.9 1.6 1.7 -2.7zM426.1 415.5l0.1 2 -2.1 -1zM422.8 479.9l1.1 1.9 -2.1 0.6 -2 -2.4zM407.9 421.9l1.1 2 -2 0.2 -1.2 -1.4zM521.2 438.1l2.4 -1.1 0.2 1.8 -1.6 0.9zM524.4 449.2l0.5 2 -1.5 1.2 -1 -1.2zM471 524l-0.8 -0.4 0.8 -1.6zM487.3 455.9l2.3 -0.9 1.5 2 -2.1 0.4zM529.8 397.7l-0.3 2.2 -0.5 1.4 -0.9 -1.9zM509.8 426.3l1.1 -0.9 0.9 1 -1.8 2.4 -0.6 -1zM481.1 408.4l-1.3 2.1 -1.3 1.1 -0.1 -2.1 1.3 -0.3zM508.2 491.7l-1.4 -0.6 0.5 -1.8 1.5 1.3zM448.5 465.7l-1.8 -1.5 1.7 -0.3zM509 404.6l-0.8 2.4 -1 -0.3 -0.2 -1.1 1.1 -0.8zM448.6 510.7l-0.6 0.7 -1.2 -0.8 0.2 -1.2zM430.9 408.2l0.9 2 -2.1 0.9 -0.6 -2zM442.3 496.2l-2.1 1.1 1.2 -3.5zM503.6 404.8l-1 2.2 -0.3 -1.3zM530.5 506.9l3.3 -1.9 0.3 0.7 -2.1 2.1zM527.9 470.9l0.9 -0.3 0.4 2 -1.9 -0.1zM481.2 411.7l2.1 1.2 -3.1 -0.2zM483.1 401.6l1.8 -0.9 -0 2.4 -2.6 0.3zM496.8 406.8l0.5 -2 2.4 0.1 -1 1.1zM504 479.1l2.6 0.4 -1.4 1 -1.6 -1zM518.4 451.8l0.7 -2.3 1.1 2.1zM412.1 526.9l-0.6 0.7 -0.7 -0.9 0 -1.6 1.3 -0.4zM427.2 405.3l1 0.5 -1.4 2.3 -0.5 -0.5zM526 400.7l-0.8 -1.1 1 -0.2 1.5 0.9 -0.4 2.1zM478.1 462.8l1.8 1.1 -1.3 1.5 -1.6 -1.5zM463.4 470.8l-2 2.9 -0.6 -0.8 0.7 -2.1zM522.1 422.3l-2.2 2.2 -0.1 -2.9 2.2 -0.9zM531.4 427.7l0.7 3.1 -1.5 0.4 -0.6 -1.3 -0.5 -2.2zM428.7 494.9l-1.4 0.7 -0.9 -2.2 2.1 -1.4zM453.5 432.3l2.7 -1.3 -1.5 1.8zM519.5 453.8l-0.6 0.4 -1.2 0.5 -1.6 -1.7 2.1 -0.9zM428.3 493.9l-1.5 -1.1 2.4 -1.1 1.3 1.2zM454 507.2l1.4 1.9 -1.7 0.4 -2 -1.9 0.9 -1.3zM433.7 445.3l0.8 -2 1.8 -0.5 -0.3 1.4zM500.4 396.3l1.5 1.7 -0.3 1 -2.9 -1.1zM517.2 412.6l-1.8 -1.5 1.1 -1zM446.4 429.6l1.4 2.2 -1.3 1.5 -1.8 -3.1zM411.3 478.3l-1.7 -0.9 0.5 -1.6 1.4 0.7zM531.3 421.8l2.2 0.2 -0.8 0.7 -2 0.1zM462.4 409.4l0.1 -2.3 1.6 1.4zM461.8 507.9l-2 1 -0.3 -1.1 1.1 -1.1zM470.7 487.6l2.2 2.1 -1 0.4zM504.6 397.7l1.3 -0.1 -1.2 2.4 -1.5 -0.6zM497.7 485.3l1.1 -0.7 0.2 1.3 -0.3 1.5 -1.5 -0.2zM410.9 514.4l1 0.9 -1.1 1.5 -1.4 -1.4zM425.5 514.2l2.8 -1.7 -0.2 1.4 -1.1 1.5zM425.5 469.3l0.6 -0.4 1.3 0.6 -0.7 1.6zM448.6 458.7l1.2 -1.7 0.6 2.1 -0.2 1.5 -1.1 -0.8zM430.5 514.7l1.4 -1.8 0.6 1.8 -1 0.9zM457.1 442.7l-2 -0.8 -0.3 -1.4 1.4 0.1zM433 417.7l1.2 -0.3 0.9 1 -1.7 1.5zM514.8 529.1l1 -1.4 1.4 3.4zM444.4 443.8l-1.8 -0.6 0.5 -2.3 2.7 1.3zM494.8 527l-1 1.1 -2.2 0.2 0.9 -1.1zM462.5 417.1l1.8 -0.9 1.2 1.1 0.3 0.8 -1.8 0.1zM418.8 526.6l-0.4 -1.3 1.9 0.1 -0.4 1.5zM456.9 452.6l-2.2 0.8 2.2 -2.4zM428.1 401.7l-1.1 0.8 -1.6 -0.7 0.6 -0.7 0.9 -1.6zM515.6 406.8l1.2 1.8 -0.9 1 -0.6 -0.4zM418.3 449.1l0.4 -1.8 2 -0.3 -0.9 1.8zM517.5 434.1l-1.1 -0.5 0.6 -1.4 2 1.3zM511.9 473l1.2 2.1 -0.5 1.6 -1.6 -0.9 -0.1 -2.2zM525.3 448.5l0.7 1.7 -1.4 1.7 -0.3 -1.8zM517.4 410.7l-2.7 -0.1 0.2 -1.5zM416.5 507.6l1.1 -3.6 0.5 1.5zM469.3 448.1l-2.8 1.4 -1.7 -2.1 3.1 -0.4zM488.8 494.5l0.6 1.4 -2.6 -0.9 0.5 -1.3 1.7 -0.3zM470.8 519.2l1.1 -1.2 1.4 0.3 -0.1 1.6zM509 524.4l1.1 0.6 -0.5 2.1 -0.7 -1.2zM404.8 425.4l-1.2 -0.7 0 -1.4 1.5 -0.6zM474.1 429.9l0.2 -1.8 1.9 1 -1.1 1.1zM446.1 399.7l1.7 -0.9 0.4 1.7 -1 1.3 -0.9 -0.8zM485.8 427.7l-0.8 1.5 -1.5 -0.2 1.1 -3zM519.4 471l-1.9 0.5 -0.5 -2.6 0.7 -0.6 1.8 1.3zM429.6 479.4l1.7 -0.9 0.9 0.9zM426.7 515.8l1.3 0.6 -1.4 1.4 -1.1 -1.3zM532.2 490.6l-0.3 -2.6 1.8 -0.5 -0.2 1.6zM423.1 496.4l0.2 -3.1 1 2.8zM502 458.7l0.8 -0.7 1.8 1.9zM501.4 467.7l-1.8 0.4 0.3 -2.3 1 -0.6 1.2 0.3zM493.9 473.3l0.1 0.8 -2.2 1 0.6 -2.3zM433.9 494.1l0.3 2.5 -1.3 0.2zM445.4 485.1l0.2 -1.4 2.3 0.3zM411.8 511.5l0.5 3.1 -1.7 -0.9 -1 -1zM523.7 457l1.1 0.8 0.3 0.9 -2.7 -0.3 0.4 -1.8zM445.1 508.9l0.7 1.8 -0.5 0.9 -0.8 -0.3 -0.2 -1.9zM489.8 450.5l1.9 -1 0.3 1 -1.2 2.2 -2 -1zM458 469.3l1.6 0.9 0.6 1.2 -2.2 -0.7 -0.5 -0.7zM463 465.4l-0.7 0.9 -1.2 -1 0.8 -1.1zM404.2 468.4l-1 -1.5 2.4 0.5zM464.3 489.5l0.9 0.5 1.7 0.4 -1 1.5 -1.5 -0.3zM470.9 513.1l0.9 -0.7 0.9 0.6 -0.5 0.7 -0.8 1.3zM422.1 421l1.7 0.6 0.8 1.2 -2.3 0.1zM504.9 442.4l-0.3 -1.4 1.7 -0.8z"/>
<path fill="#000" d="M428.7 478.3l-2.4 2.3 -0.7 -3.3zM531.1 483.1l3.1 -1.3 1.2 1.7 -2.3 2.2zM508.7 439.8l0.1 -2.4 2.6 1.1 0 1.7zM456.2 513.4l-0.6 -1.8 0.9 -2.8 2.1 0.3zM447.5 401.7l-2.9 0.5 0.2 -4.1 2.6 0.9zM512.8 472.8l-2.4 -0.3 0.7 -2.5 0.9 -0.8 1.9 2zM457.6 407.1l2.4 0 -0 1.6 -1.8 2.6 -1.8 -1.9zM515.3 412.2l-3.4 0.9 -0.2 -2 1.4 -0.1zM464.8 481l3.3 -1.6 -0.6 2.8zM496.5 489l-0.8 -1.5 2 -0.9 2 0.7 -0.2 3.1zM521.9 461l1.6 0.4 1.5 2.9 -3.8 -1zM489.8 402.8l1.6 4.1 -4 -2.2zM423 424l1.9 0.1 0.5 2.7 -4.5 1.4zM456.7 515.3l-3.7 -2.7 4.5 0.4zM447.5 458.4l0.7 -3.4 2 0.9 -0.9 3.5zM455.9 468.4l0.1 -2.4 1.8 -1.6 1.4 -0.1 -1 2.9zM508.1 415.1l3.3 -1.3 0.7 1.4 -3.6 1.2zM524.9 501l-2 0.4 -1.4 -2.6 2.8 0.2zM440.2 494.2l1 -2.2 3.5 -0.7 -0.8 2.6zM430.9 446.2l-2.1 2.1 -1.5 0.1 -0.3 -3zM466.4 528.7l0.8 1.8 -2.7 0.2 -0.9 -0.3 1.5 -2.6zM503.2 468.2l-0.7 2.2 -3.1 0.3 0.6 -1.9zM485.5 489.3l0.8 -3.5 3 0.1zM473.7 524.9l-2.6 0.5 -1.8 -1.6 3.4 -0.4zM405.1 404.9l-1.6 1.2 -2.9 -0.3 2.1 -2.5 1.3 0.1zM419.6 450l0.5 -3 1.9 -0.8 1.3 1 -0.9 2.2zM469.6 458.4l-2.3 -1.2 3.5 -2.7 -0.1 2zM447.1 401.8l-1.3 2 -2.5 0.2 -0 -2.3zM471.3 434.1l-1.2 1.2 -1.8 -3.4 2.2 -0.9zM454.9 448.6l-1.8 -1.5 0.9 -2.6 2.3 3.7zM532.1 494.1l-0.9 -0.4 1.8 -1.6 1.9 0.5 0.2 1.3zM411.4 396.7l-1.2 2.6 -1.3 -1.2 1.8 -2.2zM475.7 495.6l-2.2 -0.3 2.9 -3.5 1.4 0.5zM418.7 510.1l-1.8 4.6 -1.1 -1.6zM510.4 468.9l2.8 1.3 1.3 2.9 -4.2 -1zM447.2 511.6l-0.6 -2.9 5.1 -1 -0.7 2.8zM413.2 479.3l-1.6 -1.2 2 -2.2 2.3 2.1zM440.3 470.6l1.8 -0.1 0.7 2.5 -3.4 1.3zM502.4 420.7l-0.2 1.8 -2.2 0.4 -2.3 -3 2.7 -0.8zM474.9 419.9l-0.3 2.2 -2.2 2 -0.7 -3.7z"/>
<path fill="#000" d="M419.3 496.2l1.5 1.9 -1.2 1.4 -2.1 -0.6zM430.2 499.4l-2.2 1.2 -0 -2 0.8 -0.8zM421.9 495.7l1.2 0.7 -0.3 1.7 -2 -0.5zM430 498.3l-0.9 -2.1 1.4 0.1zM421.3 497l1.6 -0.7 0.9 1.5 -1.6 1.6zM423.2 498l1.6 0.4 -0.6 2.4 -2.3 -1.5zM428.9 498.8l0.2 -1 1.9 1.4 -0.4 1.8zM428.6 496.9l-2.4 0.2 -0.2 -2.4zM423.7 500.1l-1.5 1.5 -0.2 -2.6zM429.8 498.3l1.1 1.1 -2.7 0.2 -0.5 -0.9z"/>
<path fill="#000" d="M442 506.7l-2.4 -0.7 0.7 -2.1 2.3 0.6zM441 508.2l-0 -2.6 1.7 -0.3 0.2 2zM440.8 505.5l0.8 -1.2 1.4 1.4 -1.2 1zM440.5 507.2l1.2 1.2 -1.9 1.5zM438.9 506.6l-1.9 -1.3 1.6 -0.7 1 0.6zM444.2 506l-0.8 2.5 -1.2 -1.2 -0 -1.9zM446.3 504.5l-1 -0.4 1.7 -1.7zM437.8 505.8l-1.3 -1.4 0.9 -1.7 2.1 0.1 0.4 1.1zM442.9 503.3l1.8 -0.7 0.7 0.6 0.2 2.2 -2 -0.4zM442.5 505.4l0.8 1.3 -2 1.7 -0.4 -1.8z"/>
<path fill="#000" d="M440.6 512.2l0.4 -1.2 1.5 -0.2 0 1.9 -0.8 0.8zM439 509.7l-1.5 2.7 0.2 -2.6zM438.9 513.1l-1.2 -0.4 -0.9 -1.4 1.2 -1.2 1.4 0.1zM439.1 512l0.3 1.7 -2.4 1.1 0.3 -2.2zM440.1 513.6l0.6 2.3 -3 -1zM439.7 513.4l-1.3 -0.8 2.1 -1.6 1.2 0.8z"/>
<path fill="#000" d="M484.4 479.4l1.1 0.1 1.2 -0.1 -1.3 1.7 -1.1 0zM477.9 478.3l2.5 -1.2 0.8 1.2 -0.9 2 -1.6 -0.6zM481.7 480.2l-0.5 2 -1.5 -0.1 -0.4 -1.4 0.2 -1.1zM480.8 476.9l1.3 0.3 0.1 1.7 -1.1 0.7zM486.4 479.4l-2 -0.5 2.1 -1.6 1.4 1.1zM481.8 478.7l1.2 -0.2 -0 1.6 -1.3 0.2 -0.3 -0.7zM485.9 483.3l-1.8 -0.7 1.5 -1.2 2.2 -0 -0.6 1.7zM486.9 478.2l-1 1.7 -0.8 -0.7 1.3 -2.2z"/>
<path fill="#000" d="M412.7 405.7l2.4 -1.8 0.6 0.7 -1.9 1.7zM419.4 409l-1.5 0.3 0.6 -2.2 0.7 -0.3zM416.7 401.5l-0.5 2.4 -1.4 -0.7 0.7 -1.4zM422.2 404.5l1.4 1.6 -1.3 1zM418.1 408l1.2 -0.1 1.9 0.2 -1.6 1.5zM416 405.8l-1.6 -1.4 1.8 -1.4 1.7 0.9zM416.8 405.8l2.9 0.4 -2.1 1.9 -0.8 -0.8zM420 407.5l1.1 -0.5 1.6 1.2 -1.2 0.8z"/>
<path fill="#000" d="M510.2 422.9l-1.9 1.4 0.1 -1.4 1 -1.6zM508.8 428l0.6 -2.2 2 0.5 -1.1 1.5zM506.8 425.6l1.4 -1.5 1.7 1.3 -1.3 1.1zM507.3 423.5l-1.3 -1.1 1.9 -1.5 0.5 2.5zM504.2 427.8l-1.4 -1.5 1.9 -1.4 1.2 0.9 -0.4 0.6zM509.1 422.5l1.3 1.6 -0.6 1.4 -1.3 -1.4z"/>
<path fill="#000" d="M478.9 434.8l-2 -0.2 -0.8 -1.4 1.2 -0.6zM475.7 431.2l2.1 -1.2 0.5 2 -2 0.7zM478.2 430.4l-0.8 0.3 -0.3 -2.1 1.3 0.7zM475.5 430.3l0.2 -1.7 2 0.2 0.5 1.6 -1.5 -0zM479.1 429.4l-0.4 -1.4 1.4 -0.3 0.4 1.7z"/>
<path fill="#000" d="M508.8 442.4l1.3 -2.8 3.1 -0.9 2.3 -1.8 3 -1 3 1.1 1.3 3.1 1.4 2.2 0.4 2.6 0.9 3 -1.4 2.8 -2.2 2.2 -3.1 0.2 -3 1.1 -3.1 -0.8 -2.6 -1.9 -0.3 -3.3 -2 -2.6z"/>
<path fill="#000" d="M517.8 460.8l-1 -2.8 2.4 -1.9 1.5 -1.9 2 -1.5 2.5 -0.7 2.4 1.1 2.2 1.3 1.3 2.2 0.7 2.4 -0.1 2.5 -0.1 2.8 -1.6 2.5 -2.7 0.9 -2.7 0.1 -2.9 0.2 -1.5 -2.7 -2.1 -1.6z"/>
<path fill="#000" d="M518.1 458.1l-0.9 -2.4 -1.5 -1.7 -0.4 -2.2 0.4 -2 1.2 -1.3 1 -1.5 1.8 0.1 1.7 -0.1 1.9 0.5 1.4 1.8 1.1 2 0.6 2.2 -0 2.3 -1 1.8 -1.6 0.9 -1.6 1.2 -2.1 -0.4z"/>
<path fill="#000" d="M497.2 507.1l-2.3 -0.8 -1.7 -2 -0.4 -2.7 0.2 -2.6 0.1 -2.7 2 -1.5 1.8 -1.3 2.1 -0.7 2.3 -0 2.4 0.8 0.5 3 2.1 1.9 -0.5 2.8 -1 2.4 -1.3 2.1 -2.2 0.5 -1.9 0.8z"/>
<path fill="#000" d="M487.6 518.6l-2.3 1 -2.5 -0.3 -1.4 -2.2 -1.8 -1.5 -0.1 -2.5 0.3 -2.2 0.6 -2.2 1.7 -1.5 1.8 -1.5 2.3 0.1 1.9 1.1 2 0.9 1.3 1.8 1.4 2.1 -0.4 2.5 -1.1 2.1 -1.4 1.9z"/>
<path fill="#000" d="M465.2 409.6l-1.6 -0.6 -1.2 -1.2 -0.6 -1.6 -0.4 -1.5 0.2 -1.6 -0.2 -2.1 1.4 -1.4 1.8 -0.4 1.7 -0.6 1.4 1.5 1.9 0.3 0 2.2 0.8 1.5 -0.2 1.7 -0.7 1.6 -1.3 1 -1.2 1.5z"/>
<path fill="#000" d="M479.3 396.8l1.3 1.3 1.2 1.2 1 1.5 0.5 1.9 -0.4 1.9 -1.8 1 -1.1 1.6 -1.9 0.7 -2 -0.4 -1.4 -1.4 -1.3 -1.2 -0.7 -1.6 0 -1.8 0.2 -1.8 0.9 -1.8 2 -0.3 1.6 -1.5z"/>
<path fill="#000" d="M400.6 409.6l0.8 -3.9 0.3 -3.9 1 -1.8 1 -1.5 1.1 -0.6 1.3 -0.3 1 2.8 0.8 3.7 -0.1 4.5 -0.4 3.8 -0.2 4.1 -1 2.4 -1 2.8 -1.2 -0.5 -1.1 -1.8 -1.2 -1.5 -0.2 -4.5z"/>
<path fill="#000" d="M518.8 481.8l-0.1 -1.7 0.8 -1.1 0.7 -1.2 0.9 -0.9 1 0.9 1 0.2 0.6 1.3 0.7 1.2 -0.4 1.7 -0.2 1.4 -0.1 1.7 -1 0.6 -0.9 0.5 -0.9 -0.1 -1.1 -0.1 -0.7 -1.2 -0.4 -1.6z"/>
</g>
<clipPath id="cl9"><rect x="546.40" y="397.80" width="134.60" height="134.00"/></clipPath><g clip-path="url(#cl9)">
<rect x="546.40" y="397.80" width="134.60" height="134.00" fill="#000"/>
<path d="M551.4 507.6l-0.5 -1.1 1.5 -0.9 1.8 0.5 0.1 1.1 -1.2 0.7zM598.9 406l-1.6 0.6 -1.8 -0.7 0.1 -1.4 1.9 -0.5 1.4 0.6zM632 521.2l-1.8 -0.4 -0.3 -1.4 1.3 -1.2 1.6 0.3 0.2 1.6zM668.5 510.7l-1.3 0.9 -1.7 -0.2 -0.7 -0.8 0.9 -0.9 1.8 0.1zM585.8 448.6l-1 -0.9 0.2 -1.3 1.5 -0.5 1.2 1.1 -0.4 1.3zM578.5 523.7l-1.2 -1 0 -1.5 1.2 -0.6 1.2 0.4 0.1 1.8zM645.9 479l-1.5 -0.4 -0.2 -1.3 1.3 -0.7 1.3 0.5 0.5 1.1zM604.4 428l-0.4 -0.9 0.8 -0.7 1.9 0 0.5 0.9 -0.7 0.9zM668.4 456.9l0.1 -1.3 1.2 -0.4 0.7 0.9 -0.5 1.6 -0.9 0.1zM582.1 502.9l-1.1 0.9 -1.3 0.2 -0.4 -1.3 0.7 -0.9 1.4 0.1zM673.4 458.7l-1.3 0.5 -1.7 -0.1 -0.3 -1.1 1.6 -1 1.8 0.7zM575.1 529.7l-0.7 0.7 -1.3 -0.2 -0.7 -0.6 0.8 -0.5 1.4 -0.1zM612.4 421.2l-1.4 -0.6 -0.3 -1.2 1.3 -0.8 1.4 0.4 0.2 1.4zM628.6 468.3l-0.3 -1.5 1.2 -0.8 1.5 0.6 0.1 1.5 -1.2 1zM557.1 477.9l-1.2 -0.3 0.2 -0.9 1.4 -0.4 1.2 0.7 -0.2 0.8zM594.9 521.4l-0.6 -1.1 0.9 -1.1 1.8 0 0.8 1.3 -1.1 1.3zM665.3 497.7l-1.4 -1.2 0.7 -1.4 1.6 -0 0.9 0.8 -0.3 1.5zM558.3 475.7l0.4 -1 0.9 -0.2 1.1 0.5 -0.2 0.9 -1.2 0.5zM568.5 461.2l-1.2 -0.2 -0.1 -1.2 0.9 -0.9 1.1 0.3 0.2 1.2zM574.5 488.2l-0.6 -1.2 0.9 -0.7 1.3 -0.1 0.8 1.1 -1.2 0.8zM653.7 503.9l0.6 -0.8 1.3 -0.2 0.8 0.8 -0.4 0.9 -1.5 0.1zM679.1 524.7l-0.7 0.7 -0.9 -0.3 -0.4 -1 0.8 -0.7 1 0.3zM627.7 514.2l-1 -1.2 0.4 -1.4 2.1 -0 1.2 1 -0.7 1.2zM560.3 465.2l-1.8 0.3 -1.2 -0.7 0.2 -1.1 1.7 -0.5 1.7 0.8zM592.1 452.9l-1.3 0.2 -1.1 -1 0.9 -1.1 1.3 0.1 0.6 1zM553.3 468l-1.1 -0.7 0.4 -1.7 1 -0.3 1 0.8 -0 1.4zM674.8 504.1l-1.6 0.6 -1.5 -0.7 0.4 -1.2 1.2 -0.4 1.4 0.5zM581.8 520.1l-0.4 -0.8 1.6 -0.6 1.3 0.3 0.3 0.9 -1.1 0.5zM578.9 436.6l0.2 -0.9 2 -0.4 1.5 0.7 -0.8 0.8 -1.5 0.3zM659.8 524l0.6 -0.8 1.8 -0.2 1 0.5 0.1 0.8 -2 0.4zM595.7 513.5l-1 -1 0.6 -1.1 1.2 -0.3 0.7 1 -0.4 0.9zM631.7 520.7l-1.8 -0.4 -0.7 -0.9 1 -0.7 1.4 -0.2 1 1.1zM561.9 426.3l-1.2 0.6 -1 -0.7 0.1 -0.9 1.2 -0.4 1.2 0.7zM619.7 515.6l-1.2 0.3 -1.4 -0.7 0.5 -1 1.3 -0.4 1 0.6zM581.1 433.8l-2 0.6 -1 -1.4 0.1 -1.5 2 -0 1.1 0.8zM666.1 530.5l-0.7 -0.7 1.2 -0.6 1.8 0.1 0.6 0.7 -1 0.7zM678.7 516.8l0.2 -1.3 1.1 -0.4 0.7 0.9 -0.3 1.6 -0.9 0.4zM628 473l-1 -0.9 -0.1 -1.2 1.9 -0.5 1.2 1 -0.1 1.6zM579.5 452.9l-0.9 0.8 -1.3 -0.2 -0.1 -1.2 0.9 -0.7 1.1 0.3zM662.6 525.8l-1.2 0.4 -1.2 -0.4 -0.1 -1.2 1.2 -0.5 1 0.5zM577.9 506.3l-1.1 -0.6 -0.1 -1 1.4 -0.3 0.9 0.7 -0.1 1zM571.2 520.4l-0.3 -1 0.7 -1 1.3 0.1 0.4 1.1 -0.5 1.1zM676.5 465l-0.4 -0.9 0.9 -0.6 1.4 0.2 0.5 0.9 -1.1 0.6zM616 406.5l0.3 -1.2 1.2 -0.3 0.9 0.8 -0.2 1.3 -1.3 0.4zM663.1 471.3l-1.2 -0.8 0.9 -0.9 1.4 -0.1 1.2 0.6 -0.9 0.9zM547.4 483l-1.6 -0.4 -1.1 -0.9 1.5 -0.7 2 0 0.3 1.1zM589.3 445.1l-0.6 -0.9 0.7 -0.9 1.6 -0.1 0.5 0.9 -0.4 0.8zM648.4 500.3l-1.1 0.2 -0.9 -0.5 0.2 -1.1 1.1 -0.4 1.1 0.7zM569.6 411l0.2 -1.2 1.1 -0.8 1.1 0.9 -0.4 1.4 -1 0.5zM599.3 418.7l-0.3 -1 0.8 -1.2 1.5 0.2 0.6 1.2 -0.7 1.1zM558.2 402.3l0.2 -0.9 1.4 -0.6 1.6 0.5 -0 0.9 -1.7 0.5zM668.3 513.6l-1.6 -1.2 0.8 -1.2 1.9 -0.8 1 1.4 -0.3 1.3zM550.7 528.1l0.8 -1 1.6 -0.1 1.1 0.6 -0.6 1 -1.6 0.2zM606.6 471.8l-0.8 -1.5 1.5 -1.1 1.6 0.6 -0 1.6 -0.9 0.8zM620.4 464.9l-1.7 0.4 -1.6 -0.5 0.5 -0.9 1.3 -0.6 1.5 0.7zM674.9 519l-1.5 -0.2 -0.8 -1 1 -1 1.4 0.1 0.6 1.1zM636.8 483l0.5 -1.2 1.8 -0.6 1.1 1 -0.2 1.2 -1.5 0.2zM565.8 458.7l-1.4 -0.6 -0.2 -0.8 1.1 -0.7 1.4 0.3 0.2 1zM587.6 445l-1.2 0.9 -1.1 -0.6 -0 -1.7 1 -0.7 1.6 0.5zM621 484l0.4 -1.4 1.9 0.3 1.2 1 -1 1 -1.8 0.3zM549.1 496.1l-0.8 -1 1 -1.1 1.3 0.3 0.2 1.1 -0.5 1zM592.2 400.2l-0.9 -1 0.1 -1.3 1.1 -0.9 0.7 1.1 -0.1 1.5zM590 520.3l-1.3 1 -1.7 -0 -0.8 -1 0.6 -1 2.2 0.1zM559.4 500.8l-1.4 -0.1 -0.4 -0.8 0.7 -0.8 1.3 0.1 0.6 0.9zM599.9 479.9l-1.5 -0.4 -0.6 -1.3 1.3 -0.9 1.6 0 0.6 1.7zM585.3 445.5l-1.5 1 -1.5 -1.2 0.4 -1.4 1.6 -0.3 1.8 0.5zM602.4 463.4l-1.9 0.1 -1.3 -0.7 0.2 -1 1.9 -0.5 1.6 0.8zM665.7 463.9l-0.1 -0.9 1.5 -0.7 1.2 0.6 0.3 0.8 -1.2 0.4zM601.6 473l-1.4 -0.1 -1 -0.8 1.1 -0.8 1.6 0.1 0.8 0.8zM604.5 529.3l-0.7 0.7 -1.6 -0.1 -0.2 -1 0.9 -0.8 1.2 0.5zM572.5 401.4l0.1 -1.1 1.4 -0.1 0.9 0.5 -0 1 -1.5 0.5zM559.8 404.5l-1.6 0.9 -1.8 -0.6 -0.1 -1.2 1.4 -0.8 1.9 0.5zM616.3 455.7l-0.5 1.2 -1.2 -0.3 -0.5 -1 0.5 -1.2 1.3 0zM570.1 489.2l-1.1 0.6 -1 -1.1 0.5 -1.3 1.2 -0.8 0.7 1.4zM570.8 472.6l0.5 -0.6 1.1 -0.2 0.3 0.8 -0.2 0.7 -1.1 0zM609.7 527.2l-1.3 -0.5 0.3 -1 1 -0.6 1.3 0.7 -0.1 0.9zM608.9 432.2l-1 0.2 -0.4 -0.9 0.4 -1 1.1 0 0.6 0.9zM569.4 505.1l-0.4 -0.9 0.6 -0.9 1 0.4 0.4 1.1 -0.8 0.6zM606.8 488.1l-0.5 -1.6 0.6 -1 1 -0.2 0.7 1.4 -0.6 1.4zM600.4 449.4l-1.1 -0.8 0.1 -1 1.7 -0.3 1.3 0.7 -0.1 1.1zM572.6 491.1l0.1 -1.4 1 -0.8 0.9 1 0 1.3 -1.1 0.8zM669.9 470.1l-0.6 -1.4 0.8 -1.1 1.6 0 0.5 1.2 -0.6 1zM569.8 468.9l0.6 -1.3 1.9 0.1 1.4 0.7 -0.8 1.1 -1.8 0.2zM546.7 525.8l0.4 -1.1 1.3 0.1 0.7 0.7 -0.5 1.1 -1.2 0zM547.5 511.5l-1 -1.2 0.3 -1.3 1.4 -0.6 0.7 1.1 -0.3 1.6zM579.1 463.4l-0.9 -0.5 -0.2 -1.1 0.8 -0.6 1.2 0.4 0.2 1zM546.6 437.2l-0.2 -1.1 1.5 -1.1 1.7 0.7 0.5 1.3 -1.7 1.1zM622.6 398l-0.8 0.7 -1.1 -0.1 -0.2 -0.8 0.6 -0.7 1 0.3zM577.3 447.6l-0.8 -0.9 0.6 -0.8 1.5 -0.4 1 1.1 -0.7 1.2zM619 519l-0.9 -0.5 -0.1 -0.8 0.8 -0.7 1 0.4 0.2 0.9zM572.3 436.1l-1.5 0.2 -0.9 -1.5 0.9 -1.4 1.6 0 0.4 1.5zM548.7 450.4l0.2 -1.3 1 -0.5 0.9 0.7 -0.2 1.3 -0.9 0.6zM548.2 405.4l-1 0.4 -0.6 -0.7 0.2 -0.9 1.1 -0.1 0.6 0.5zM588.3 493.8l-1 0.4 -1.6 -0.3 -0.5 -0.8 1.4 -0.5 1.6 0.1zM591.9 489.1l-2.1 0.5 -1.1 -1.1 0.7 -1 2 -0.3 0.9 1zM556.9 468.3l-0.8 -1.2 1 -1.2 1.4 0.1 0.6 1.3 -0.7 1.1zM614 424.1l-2 -0 -0.9 -1.1 0.7 -1.1 1.8 -0.2 1.1 1.2zM670.8 499.9l-1 -0.8 0.6 -1 1.4 0.1 0.5 0.6 -0.4 0.7zM589.1 433.5l0.3 -1.5 1.7 0.1 1.4 1.1 -1.1 1.5 -1.5 -0.2zM619.9 426.9l-1.4 -0.9 0.7 -1.2 1.4 -0.4 1.2 0.7 -0.4 1.3zM615 526.6l-1.1 -0.8 0.4 -1.3 1.4 -0.5 1.4 0.9 -0.6 1.6z" fill="none" stroke="#e02a30" stroke-width="0.7"/>
<path d="M614.8 457l0.5 -1.1 1.3 -0.3 0.8 0.9 -0.1 1 -1.4 0.5zM609.9 427.8l-0.3 -1.2 0.6 -1.2 1.3 0.2 0.3 1.5 -0.8 1zM576.7 518.3l0.5 -1.2 1.8 0 1.1 0.7 -0.2 1 -2 0.2zM583.2 434.6l-0.9 -1.5 0.4 -1.5 1 -0.5 0.9 1.2 -0.4 1.3zM552 484.5l-0.2 -1.5 1.8 -0.4 1.3 0.7 -0.1 1.3 -1.5 0.5zM561.3 513.5l0.7 -1.3 1.2 0 0.3 1.1 -0.4 1.5 -1.1 -0.2zM590.7 435l0.1 -1.7 1.6 -0.3 1.3 0.8 -0.1 1.4 -1.6 0.6zM587.6 526.3l-0.9 -0.8 0.9 -0.8 1.1 -0.3 0.5 0.8 -0.2 0.8zM597 498.3l-1.7 -0.8 0.4 -1.1 1.7 -0.5 1.4 0.7 -0.3 1zM634.5 520.9l-1.1 -0.7 0.6 -1 1.9 -0 1.3 0.9 -0.9 1zM582.5 406.1l-0.9 -0.8 -0.4 -1.3 1.2 -0.5 1.1 0.7 -0 1.1zM599.5 484.7l-1.2 -0.9 0.9 -0.9 1.7 -0.1 0.8 0.8 -0.7 0.9zM549.7 508.7l-0.8 0.9 -1 -0.6 -0.5 -0.9 1.1 -0.6 1.1 0.1zM668 510.8l-1.2 0.2 -1 -0.5 0.5 -0.9 1.2 -0.3 0.8 0.8zM565.2 506.3l-0.1 -1.2 0.6 -1.1 0.9 0.6 0.3 1.1 -0.7 0.9zM615.9 513l-1.3 0.4 -1.1 -0.5 -0.1 -1.1 1.2 -0.5 1.3 0.5zM662.7 473.8l-1 -0.8 0.1 -1.2 1.7 -0.4 1.6 1 -0.7 1zM564.7 497.5l-0.2 -1.5 1.4 -1 1.4 0.5 0.6 1.5 -1.5 0.8zM619.9 472.7l-1.5 0.3 -0.8 -1 0.5 -1.3 1.5 -0.5 0.7 1.2zM565.6 466.8l-1.8 0.1 -1.4 -1.4 1.1 -1 1.9 -0.4 1.3 1.3zM589.6 466.5l-1.3 0.7 -1.3 -0.2 -0.3 -1.1 1.1 -1 1.3 0.5zM549.7 401.5l0 -1.1 1.5 -0.5 1.4 0.8 -0.2 1.2 -1.7 0.6zM613.2 496.4l-0.1 -1.4 1.3 -0.4 1.3 0.7 -0.1 1.4 -1.4 0.4zM642.9 491.6l-0.9 -1.1 0.7 -1.4 1.5 0.2 0.5 1 -0.4 1.4zM547.8 493l-1.1 -0.3 0 -1.3 0.8 -1 1 0.5 0.2 1.3zM585.4 508.3l0.7 -0.9 1.9 -0.3 1.3 1.1 -1.2 1 -1.7 0.1zM551.7 478.5l-0.6 1 -1.1 0.4 -0.3 -1.3 0.5 -1.1 1 -0.1zM591.3 433.2l-0.9 -0.8 0.7 -0.8 1.7 -0 1.1 0.8 -1 0.8zM594.7 500.2l-1.5 0.9 -1.2 -0.9 -0 -1.5 1.3 -0.6 1.1 0.8zM597.7 476.8l-1.5 -0.5 -0.7 -0.9 1.5 -0.5 1.7 0.1 0.3 1zM646.1 507.2l-1.6 0.5 -2 -0.6 0.4 -0.9 1.7 -0.4 1.5 0.4zM578.1 524.3l-0.2 -1.3 1.3 -0.8 1.4 0.6 -0.3 1.3 -0.9 0.7zM629.9 480.8l-1.5 0.9 -2 0.1 -0.4 -1.4 1 -0.9 2 0.3zM619 437.8l-1.3 -0.5 -0.2 -1 1 -0.6 1.4 0.3 0.2 0.9zM653.7 475.3l-1.5 1 -1.5 -0.7 -0.2 -1.6 1.4 -0.9 1.6 0.9zM610.7 466.5l0.4 -1.5 1.2 -0.3 1 0.7 -0.2 1.5 -1.2 0.2zM644.1 485.2l-1 1.1 -1.9 -0.7 0.1 -1.2 1.1 -1 1.8 0.7zM575.3 525.2l-1.6 0.7 -1.5 -0.4 -0.6 -1 1.5 -0.6 1.6 0.2zM577.4 463.4l-1.1 -0.9 -0.1 -1.5 1.6 -0.5 1.2 0.9 -0.5 1.4zM609.1 512.1l-1.9 -0.3 -0.5 -1.6 1.8 -0.9 2.1 0.4 -0.1 1.6zM672.9 518l-1.1 -0.2 -0.8 -1 1 -1.1 1.2 0.3 0.7 1.2zM551.3 523l-1.7 0.1 -1.2 -0.6 0.7 -1.1 1.4 -0.2 1 0.6zM567.1 410.8l-1.2 -0.3 -0.1 -0.7 1.1 -0.7 1.2 0.5 -0.2 0.9zM560.3 518l-0.5 -1.2 1.2 -1.1 1.9 0.4 0.2 1 -0.6 0.8zM577.9 437l-1.6 -0.1 -0.9 -0.7 0.9 -0.9 1.8 0.3 0.8 0.7zM582.5 434.2l0.4 -1.1 1.4 -0.2 0.9 1 -0.5 1.1 -1.5 0zM629.6 470.5l0.7 -1.3 1.2 0.1 0.7 1.1 -0.6 1 -1.4 -0zM547.4 399.5l-1.7 -0.3 0.1 -1.7 1.3 -1 1.9 0.8 -0.3 1.5zM590.3 416.6l-0.2 -0.8 1.6 -0.5 1.5 0.4 0.3 0.9 -1.8 0.6zM557.2 530.3l0.1 -1.6 1.1 -0.8 1 1.2 -0.3 1.4 -1.1 0.5zM591.1 412.1l-1.9 0.6 -1.5 -0.9 -0.1 -1.3 1.9 -0.3 1.5 0.5zM551.5 531.3l-1.8 0.3 -1.5 -0.5 0 -0.8 1.9 -0.6 1.5 0.6zM601.6 523.9l-0.7 0.6 -1 -0.1 -0 -1 0.6 -0.8 0.8 0.4zM668 506.2l-1.4 -0.6 -0.7 -1.2 1.4 -1.1 1.7 0.5 0.2 1.2zM620.5 505.8l-2.1 -0.1 -1 -0.9 1.5 -0.7 1.8 -0.2 1.2 1.1zM581.6 480.4l-1.3 -1.3 1.2 -0.8 2.1 -0.3 0.5 1.3 -0.6 1.2zM598.5 426.8l-0.1 -1.5 1 -1.2 2.1 0.6 0.5 1.3 -1.6 1.1zM620 514.2l-1.4 -0.1 -0.8 -0.9 0.9 -0.8 1.7 -0.1 0.4 1.2zM671.5 491.9l-1.3 0.3 -0.9 -0.5 0.1 -0.9 1.6 -0.2 1.2 0.6zM656.1 463.6l0.6 -1.7 1.7 0.2 0.7 1 -0.6 1.7 -1.3 -0.1zM629.6 518.7l-0 -1.4 1.1 -1 1.2 0.8 0.2 1.3 -1.1 1zM599.2 524.2l-1.9 -0.3 -0.8 -1.4 1.6 -0.9 1.6 0.2 0.6 1.2zM629.9 465.8l-1.4 0.2 -1.3 -0.4 0.1 -0.8 1.5 -0.3 1.7 0.5zM667.9 524.5l0.4 -1.1 1.3 -0.1 0.5 0.9 -0.2 1.1 -1.3 0.1zM613.2 522.2l-1.2 0.1 -1 -0.7 0.3 -1.1 1.4 -0.4 0.7 0.9zM581.8 407l-1.2 -0.7 0.6 -0.9 1.7 -0.1 1.2 0.5 -0.6 1zM597.5 461.1l0.4 -1 1.3 -0.6 0.8 1.2 -0.5 1.3 -1.2 0zM593.9 515.7l-0.2 -1.2 0.9 -1.1 1.1 0.3 0.3 1.4 -0.9 1.2zM554.9 461.6l-1.2 0.9 -1.1 -1.3 0 -1.4 1.5 -0.8 1 1.1zM556.6 464.3l-1.8 -0.2 -0.7 -0.9 1.1 -0.9 1.8 0.2 0.4 0.9zM605.8 422.5l-1.1 0.1 -0.3 -0.9 0.5 -0.8 1.1 0.1 0.5 0.9zM569.7 434.1l-0.6 -1.4 1.1 -1.5 1.6 -0 0.8 1.6 -0.7 1.2zM664.5 475.7l-1.8 0 -0.6 -1 0.8 -0.9 1.7 -0.1 0.8 1.2zM590.1 462l0.7 -0.9 1.4 -0.2 1.4 0.6 -0.5 0.8 -1.7 0.1zM601 418.4l0.1 -1.3 1.6 0.1 1 0.7 -0.7 1.3 -1.2 -0zM567.3 408.7l-0.7 0.7 -1.6 0.2 -0.7 -1.1 1.1 -0.7 1.3 0zM583.2 503.4l-1 1.2 -1.6 -0.2 -0.8 -1.2 1 -1 1.4 -0.1zM652.1 461.4l-1.8 -0 -0.1 -1 0.7 -0.7 1.8 0.1 0.4 1zM600.1 496.1l0.1 -1 0.9 -0.5 0.9 0.6 -0.1 1.1 -0.9 0.4zM559 424.3l-1.3 -1 1.2 -1.2 1.7 0.2 0.8 0.9 -0.6 1.1zM605.5 528.4l-0.8 0.9 -1.3 -0.1 -0.6 -0.9 0.8 -0.7 1.3 0.1zM586 527.7l-0.8 0.9 -1.6 -0.2 -0.6 -0.7 0.7 -0.7 1.5 0.1zM591.3 509l-0.4 -1.1 1.5 -0.8 1.4 0.7 -0.1 1.1 -1.1 1zM577.6 403.7l-1.4 -0.2 -0.4 -1 0.9 -0.8 1.3 0.4 0.4 0.8zM601 436l-1 -0.3 -0.4 -1.2 0.9 -1 1.2 0.6 0.3 0.9zM570.6 456.9l-0.9 0.5 -0.9 -0.6 0.1 -1.7 0.9 -0.9 0.8 1.2zM550.2 427.9l-0.4 -1.4 0.8 -1.2 1.2 0.3 0.2 1.6 -0.7 1zM589.1 520.5l-1.7 0.1 -1.5 -0.8 1 -1.3 1.9 -0.4 0.9 1.2zM609.9 435.3l0.2 -1.3 1.5 -1 1.5 0.8 0 1.6 -1.6 0.9zM597.3 527l-0.3 -1.3 1 -0.8 1.1 0.3 0.3 1.7 -1.2 0.7zM629.1 477.6l-0.6 -1.5 0.9 -0.9 1.4 -0.1 0.5 1.5 -1 1.1zM639.1 503.3l-1.5 0.3 -1.4 -0.9 0.5 -1.6 1.5 -0.5 1.6 1.1zM565.6 497.4l-1.7 0.3 -1.2 -1 0.7 -1.1 1.5 -0.4 1.3 1.1zM634.9 494.4l-2 0.6 -1.5 -1.2 0.7 -1.3 1.7 -0.6 1.7 1zM569.2 484l-1.2 0.6 -1.5 -0.2 -0.5 -0.8 1.1 -0.6 1.7 0zM599.5 448.1l-1.5 0.7 -2.1 -0.3 -0.4 -0.8 1.3 -0.6 1.7 0.1zM583.5 463.7l-1.3 0.3 -1.6 -0.1 -0.4 -0.9 1.5 -0.6 1.5 0.4zM613.8 443.1l-1.8 0.9 -1.6 -1 0.1 -1.7 1.7 -0.5 1.3 0.7zM564.6 482.1l-1.8 0.1 -1.1 -0.4 -0.1 -0.9 1.8 -0.2 1.7 0.5zM604.6 448.9l-1.2 -1.2 1.7 -0.9 2 0 0.2 1.3 -1 1.2zM674.7 523.4l-1.8 -0.3 -0.5 -0.8 1.7 -0.4 2 0.2 -0.1 0.9zM566.8 399l-2 -0.1 -1.1 -0.7 0.9 -0.7 2.1 -0 0.6 0.7zM633.5 515.1l-1.1 0 -1 -0.5 0.6 -1.1 0.9 -0.4 1 0.7zM584.8 529.9l-0.9 0.7 -1.1 -0.7 0.1 -1.3 0.9 -0.6 1.1 0.6zM614.2 513.5l-1.9 -0.6 -0.4 -1.3 1.2 -1.1 1.6 0.5 0.7 1.3zM592.6 416.8l-1.4 -0.4 -0.9 -0.9 1.4 -0.8 1.7 0.2 0.6 1zM597.9 473l-1 1.2 -1.2 -0 -0.3 -1.6 0.6 -1.3 1.3 0.1zM580.4 502l-0.8 0.9 -1 -0.2 -0.3 -1.3 0.7 -1.2 1.3 0.5zM571.4 408.4l-1.5 0.6 -0.8 -1.2 -0.2 -1.4 1.4 -1 1.2 1.2zM564.8 501.3l-1.3 -0.2 -0.1 -1.1 1.1 -0.8 1.2 0.5 -0 1.1zM579.4 476.4l-0.9 -0.9 0.6 -1.1 1 -0.2 1 0.9 -0.7 0.9zM550.3 528.8l-0.8 -0.6 0.6 -0.9 1.2 -0.2 0.9 0.9 -0.5 0.9zM574.3 484l0.3 -0.9 1.4 -0.2 0.8 0.7 -0.1 0.8 -1.3 0.4zM588.9 457.4l-1.2 0.7 -1.1 -0.6 0 -1.5 1 -0.7 1 0.5zM567.6 509.2l-1.3 -0.3 -0.8 -1 1.1 -0.9 1.5 0.1 0.2 1.2zM571.4 495.4l-0.9 -0.9 0.2 -1.2 1 -0.4 0.8 0.8 -0.2 1.1zM589.4 433.4l-0.6 -1.6 1.1 -1 1.6 0.2 0.8 1.3 -1.4 1.3zM598.3 419.6l-1.1 -1 -0.1 -1.7 1.8 -0.7 1 1.2 -0.2 1.4zM571.4 497.9l-1.9 -0 -0.5 -0.9 1.1 -0.8 1.8 0.3 0.8 0.8zM672.4 467.4l-0.9 -1.2 0.3 -1.5 1.2 -0.7 0.8 1.3 -0.3 1.6zM584.2 463.4l-0.2 -1.1 1 -0.8 1.1 0.3 0.6 1.2 -1 0.6zM549.1 440.7l-1.2 -0.5 -0.3 -1.2 1 -0.9 1.1 0.4 0.3 1.4zM619.1 427.4l-1.1 -0.5 -0.1 -1.1 1 -0.3 1.2 0.1 0.3 1.1zM566.8 471.4l-1 -1.3 1.7 -0.9 2 0.2 0.6 1.3 -1.7 0.8zM581.7 430.4l-0.2 -1.6 1 -1.3 1.5 0.4 0.4 1.6 -1.1 1.3zM557.2 508.4l-1 0.7 -1.5 -0.1 -0.8 -0.7 1.1 -0.9 1.5 0.1zM638 531l-2 -0.2 -0.9 -0.8 1.1 -0.7 2 0.1 1.1 0.8zM654.7 507.8l0.4 -1.1 1.4 -0.1 1.1 0.6 -0.2 1 -1.6 0.5zM571 442.4l0.5 -0.9 1.6 -0.2 1 0.5 -0.4 1.1 -1.3 0.1zM670.8 512.4l-1.7 -0 -0.8 -1.3 0.7 -1.4 1.6 -0.2 1 1.2zM658.1 471.4l-0.9 -0.5 0.3 -1 0.8 -0.3 0.9 0.5 -0.2 0.8zM562.7 464.7l-0.7 -1.1 1 -0.6 1.1 0.2 0.4 1 -0.9 0.8zM582.2 532.4l-1.4 -1.3 0.7 -1.2 1.5 -0.4 0.8 0.9 -0.1 1.3zM550.6 475.5l-1.2 -0.1 -0.2 -1.5 0.5 -1.4 1.1 0.6 0.8 1.2zM641 516.1l-1.9 -0.3 -0.4 -0.8 1.2 -0.7 1.8 0.4 0.7 0.8zM555.3 476.4l-1.1 -0.1 -0.4 -1 0.3 -1.3 1.1 0 0.8 1.1zM578.7 465l-1.3 -1 0.5 -1 1.7 -0.4 1.1 0.8 -0.2 1.2zM551.2 487l-0.6 -0.8 1.4 -0.5 1.5 0.2 0.6 0.9 -1.4 0.7zM658.2 467.7l-1.2 0.6 -1.3 -0.1 -0.5 -1.1 1.2 -0.8 1.4 0.4zM660.9 483.1l-1.5 -1 0.4 -1.6 1.4 -0.8 1.3 1.2 -0.3 1.4zM559.2 404.3l-0.8 -1 -0 -1.5 1.6 -0.3 1.1 0.9 -0.6 1.4zM583.6 475.2l-1 -0.5 -0.4 -0.8 1.4 -0.5 1.4 0.4 0 0.9zM676.2 472.4l-1.4 -0.9 1 -1 1.7 -0 1.4 0.7 -0.8 1zM675.6 468.1l-1 -0.5 0.3 -1 1.2 -0.5 1.1 0.8 -0.5 1zM630 479.2l0.2 -1.1 1.7 -0.1 1.1 0.7 -0.6 1.1 -1.6 -0zM619.4 448.7l-0 -1.4 1 -0.6 0.8 0.9 -0.2 1.6 -0.9 0.3zM636 516.9l-1.6 0.5 -1.5 -0.4 -0.5 -1 1.6 -0.4 1.9 0.2zM547.8 400.5l-1.3 -0.4 -0 -0.8 1.6 -0.4 1.1 0.4 0.2 0.8zM596.5 413.1l-0.6 -1.1 0.2 -1.2 1.3 -0.3 0.6 1.2 -0.5 1.3zM634.1 474.3l-1.1 -0.1 -0.6 -0.8 0.9 -0.6 1.5 0.2 -0 0.8zM649.3 502.4l-1.4 0.1 -1.3 -0.7 0.4 -1.2 1.7 -0.4 1.3 0.8zM562.6 410.7l-1 0.8 -1.3 -0.3 0 -1.3 0.8 -1 1.1 0.6zM599.2 444.4l-0.9 0.9 -1.2 -0.1 -0.7 -0.9 0.8 -1 1.4 0.2zM605.3 456.5l-1.3 0.7 -1.3 -0.9 0.2 -1.7 1.4 -0.6 1.2 1zM595.4 513.5l-1.1 -0.1 -0.6 -1.1 0.9 -0.7 1.1 0.1 0.4 0.9zM551.7 413.3l-1.5 0.1 -0.9 -0.9 0.7 -1.2 1.4 0.1 0.6 0.9zM623.2 505.1l-1.1 -1 0.9 -1.4 1.2 -0.2 1.2 1.2 -0.8 1.1zM603 425l-1.2 -0.3 -0.1 -1.1 0.8 -0.5 1.1 0.1 0.6 1.1zM572.5 517.7l0.1 -1.3 1.8 -0.6 1.5 0.7 -0.4 1.2 -1.3 0.6zM550.3 441.6l-1.2 0.9 -1.4 -0.3 -0.6 -1.5 1.4 -0.8 1.6 0.5zM656.4 519.7l-0 -0.9 1.8 -0.2 1.2 0.6 -0.4 0.7 -1.6 0.3zM551.7 485.2l0.1 -0.9 1.5 -0.1 0.8 0.7 -0.3 0.8 -1.5 0.3zM643.2 494.6l-0.4 -1.4 0.7 -1.5 1.2 0.4 0.7 1.4 -0.9 1.5zM666.5 492.1l-0.3 -1 1.3 -0.8 2.1 0.1 0.4 1.1 -1.4 0.8zM629.6 526.1l-1.7 0.5 -1.2 -0.7 0.1 -1.2 1.5 -0.5 1.2 0.7zM632.7 487.5l-0.6 -1 1 -0.8 1.7 0.4 0.4 0.9 -1.2 0.8zM680.2 486.2l-1.4 0.6 -1.1 -0.9 0.3 -1.1 1.1 -0.4 1.4 0.5zM559.4 425.2l0.1 -1 1.1 -0.7 1.1 0.9 -0.4 0.9 -1 0.4zM567.8 440.5l-0.7 -1.2 1 -0.9 1.9 -0.1 0.7 1.2 -1 1.2zM571.5 417.8l-0.1 -1.3 1.6 -0.2 1 0.8 -0.1 1.4 -1.6 0.1zM624.1 505.6l-1.5 -0.3 -0 -0.8 1.3 -0.7 1.2 0.5 0.2 0.9zM677.2 492.5l-0.7 -0.8 0.4 -0.9 1.1 0.1 0.6 0.6 -0.4 0.7zM567.9 477.6l-1 1.3 -1.3 -0.3 -0.2 -1.5 0.7 -0.8 1.1 -0zM570.2 503.7l-0.9 1.1 -1.1 -1.1 0.2 -1.3 0.8 -1 0.9 0.7zM622.4 482.8l0.5 -1 1.5 -0.4 1.1 1.2 -0.9 1.4 -1.6 0.1zM644.1 483.7l-1.2 -0.3 0.2 -1.5 0.9 -0.8 1.4 0.6 0.1 1.6z" fill="none" stroke="#f7f08a" stroke-width="0.7"/>
<path d="M579.8 457.6l-1.8 -0.5 -0.3 -1.3 1.9 -0.7 1.6 0.6 0.5 1.3zM588.7 504l-1.5 0.1 -1.3 -0.5 0.4 -1 1.5 -0.4 1.1 0.7zM566.9 449.9l-1.4 -0.3 -0.4 -1.1 1.1 -0.6 1.4 0.4 0.5 0.9zM585.3 422.1l0.4 -1.5 1.9 -0.4 1.3 1.4 -0.9 1.7 -1.7 0.1zM585.3 472.8l0.2 -1.4 1.4 -0.8 1.3 1.1 -0.1 1.5 -1.6 0.2zM601.4 434l-0.1 -1.3 1.2 -0.9 1 1.2 -0 1.6 -1.4 0.7zM588.6 505l0.9 -1.3 2 0 1.1 1.2 -0.6 1.3 -2.2 0.2zM601.6 444.1l0.4 -1.1 1.3 -0.4 0.6 1.2 -0.4 1.5 -1.2 0zM604.6 500.2l-0.3 -1 0.4 -0.9 1.2 -0.1 0.6 1.2 -0.8 1zM583.2 492.8l-0.7 -0.7 1.6 -0.6 2 0.4 0.4 0.7 -1.6 0.6zM580.1 449.4l-1.7 0.7 -1.2 -0.9 0.4 -1.7 1.3 -0.7 1.5 1.4zM598.5 513l-1.8 0.2 -1 -0.5 0.3 -0.9 1.6 -0.2 1.1 0.7zM594.9 442.4l0.9 -1 1.9 -0 0.7 1 -0.8 1.1 -1.7 -0zM617.6 509.4l0.6 -0.9 1.5 0.1 0.6 0.8 -0.7 1 -1.2 -0.2zM611.6 413.4l-0.4 -0.7 0.9 -0.7 1.7 0.2 0.3 1 -1.1 0.8zM614.4 437.9l-1.3 -0.8 -0.2 -1.2 1.5 -0.8 1.2 0.7 0.1 1.2zM607.9 463.6l-1.1 0.4 -0.7 -1.2 0.7 -1.1 1.3 0.2 0.7 0.8zM594.4 425.8l-1.1 -0.4 -0.3 -1 1.2 -0.6 1.3 0.4 -0.1 1.1zM598.6 528.3l-1.5 0.3 -1.5 -0.7 0.4 -0.7 1.8 -0.4 1.3 0.7zM595.8 460.6l-0.8 -0.6 0.1 -0.9 1.2 -0.2 1 0.4 -0.3 0.9zM611.7 441.9l-1.7 -0.6 0.3 -1.3 1.7 -0.5 1.7 0.7 -0.1 1.3zM611 492.5l-1.4 -0.4 -0.4 -0.8 1.2 -0.4 1.2 0.1 0.4 0.7zM599.5 431.4l-0.6 1 -1.2 -0.3 -0.2 -1.5 0.8 -0.7 0.9 0zM594 422l0.3 -1.3 1.4 0 0.9 0.7 -0.4 1.2 -1.2 0.3zM571 405.6l-0.9 -0.7 -0.3 -1 1.1 -0.5 0.9 0.4 0.1 1.1zM571.6 493.2l-1.1 -1 0.8 -1 1.4 -0.2 0.6 1 -0.3 1.1zM618.3 520.9l-1.8 0.9 -1.7 -1 0.6 -1.4 1.4 -0.7 1.5 1zM574.9 521.8l0.1 -1.4 1.7 -0.5 1.9 0.4 -0.6 1.5 -1.4 0.9zM603.9 497.9l0.1 -1.5 1.1 -0.2 0.9 0.9 -0.3 1.4 -1.2 0.5zM558.6 456.5l-1.5 0 -0 -1.3 0.7 -1.2 1.3 0.4 0.2 1.3zM632.1 486l-0.2 -0.8 1.3 -0.4 1.5 0.3 0.2 0.9 -1.6 0.4zM678.6 484.6l-1.4 0.5 -1.8 -0.4 0.1 -1.5 1.7 -0.6 1.8 0.4zM573.6 526.3l-1.3 1.1 -1.5 -0.9 0.2 -1.3 0.9 -0.8 1.6 0.5zM582.5 416.3l-0.7 1.1 -1.3 0.3 -0.5 -1.4 0.6 -1.2 1.2 -0zM595.6 440l-1.5 0.5 -1 -1.1 0.5 -1.4 1.3 -0.3 1.2 1zM547.5 409.3l-0.5 -1.7 1.2 -1.2 1.9 0.3 0.1 1.5 -0.8 1.3zM618.4 445.4l-1.5 -0.4 -0.8 -1.5 1.7 -0.8 1.9 0.6 -0.1 1.2zM556.3 449.9l-1.3 0.6 -1.5 -0.6 0.1 -0.9 1.1 -0.7 1.4 0.5zM619.9 468l-1.6 -0.4 -0.2 -1.1 1.8 -0.5 1.6 0.6 -0.2 1zM565.5 476l-1.2 -0.9 0.1 -1.5 1.5 -0.4 1.1 0.7 0.2 1.5zM634.2 505.9l-0.8 -0.6 0.5 -0.9 1.1 -0 0.8 0.6 -0.6 0.9zM609.9 474.9l-1.7 -0.4 -0.7 -1.4 1.5 -0.7 1.9 0 0 1.5zM549.8 519l-0.9 -0.2 -0.3 -1.4 1.1 -0.6 1.1 0.5 0.2 1.1zM571.6 420.4l-1.8 0.3 -1 -1 0.1 -1.2 1.9 -0.5 1.1 1zM614.5 524.4l-0.2 -1.3 1.3 -1.3 1.7 0.7 0.1 1.4 -0.9 1.2zM575.8 480l-0.7 1.2 -1.2 -0.5 -0.4 -1 0.8 -1 1.1 0.2zM583.7 512.9l-1.9 -0.4 -0.5 -0.9 1.4 -0.6 1.6 0.3 1 0.9zM656.7 493.2l-1.5 -0.2 -0.1 -1 1.1 -0.6 1.2 0.5 0.1 0.8zM580.9 415.2l-2.1 0.4 -1.5 -0.9 1 -1.1 1.7 -0.3 1.1 0.9zM565.2 468.8l-1.6 0.3 -1.6 -0.9 0.5 -1.4 2 -0.4 1.6 1.1zM582.9 409.7l-0.9 0.8 -1.1 -0.8 -0.1 -1.3 1 -0.7 1 0.6zM569 525.2l-1.1 -0.6 0.4 -0.7 1.5 -0.2 0.7 0.6 -0.2 1zM589.8 436.4l0.9 -0.9 1.8 -0.3 1 1 -0.5 0.8 -2.1 0.4zM645.3 486.6l1.1 -0.8 1.5 -0 1.1 0.8 -1 0.7 -1.7 0.2zM583.6 468.9l-0.8 1 -1.8 -0.2 -0.7 -1.2 1.1 -1.1 1.7 0.2zM661.2 504.9l-1 -0.5 -0.5 -1.4 0.8 -0.8 1.2 0.1 0.3 1.4zM553.1 497.7l-1.7 -0.2 -1 -1.2 0.7 -1.3 1.9 -0.1 0.7 1.3zM610.8 454.2l0.2 -1.1 1.5 -0.4 1 0.6 0.1 1.1 -1.5 0.3zM629.9 495l-1.3 -0.9 0.5 -1.4 1.3 -0.5 1.2 0.8 -0.4 1.4zM620 422.1l-1.9 0.2 -1 -1.4 0.6 -1.4 1.9 -0.2 0.9 1.2zM575.6 502.6l-1.1 0.9 -1.2 -0.3 -0.4 -1.4 1.2 -1.1 1 0.7zM680.7 525.2l-1.1 0.8 -1.2 0.1 -0.6 -1.2 0.7 -0.8 1.3 -0.1zM560.3 459.8l-0.7 -1 0.5 -1.1 0.9 0.1 0.5 0.7 -0.3 0.9zM572.2 477.5l-0.7 -1.1 0.3 -1.5 1.3 0.1 0.6 1.1 -0.4 1.3zM603.2 514.3l0.6 -1.2 1.3 -0.1 0.8 1 -0.6 1.1 -1.2 0.2zM615.8 475.6l-1.3 -0.3 -0.4 -1.4 1.2 -1 1.3 0.7 0.4 1.1zM556.3 513l-2 -0.3 -0.6 -1.1 1.2 -1 1.9 0.2 0.7 1.2zM548 482.8l-0.9 -0.9 1.6 -0.6 1.8 0.2 0.4 0.9 -1.4 0.5zM562.1 527.9l-1 0.9 -1.9 -0.4 -0.5 -1.2 1.5 -1 1.6 0.5zM575.9 463.2l-0.6 -1 0.4 -0.8 1.2 -0.3 0.8 1 -0.6 0.8zM572.1 503.3l-1.4 0.7 -1.9 0 -0.4 -0.9 1 -0.8 1.8 0.2zM564.3 496.3l1 -0.7 1.7 0 0.6 0.7 -0.8 0.7 -1.4 0.2zM674.6 514.8l-1.3 -0.4 0.5 -0.8 1.3 -0.3 0.9 0.5 -0.1 0.9zM664.4 462.8l0.2 -1.4 1.7 -0.6 1.4 1 -0.3 1.4 -1.5 0.8zM603.2 445.8l-1.5 0.6 -1.3 -0.8 0.1 -1.2 1.7 -0.2 1.5 0.5zM581 398.2l-0.2 -1.1 1 -0.8 1 0.6 0.3 1 -0.9 0.8zM607.9 522.2l-1.2 -0.8 0 -1.1 1.1 -0.7 1 0.4 0 1.4zM676.3 503.1l-0.1 -0.9 1.5 -0.7 1.7 0.7 -0.2 0.9 -1.6 0.6zM633.8 460.3l-0.2 -1.8 1.2 -0.7 1.3 1 -0.3 1.4 -1.1 1zM556.7 468.4l-2 0.1 -1.7 -0.4 0.5 -0.9 1.8 -0.3 1.4 0.6zM654.2 483.6l-0.8 -1.3 0.8 -1.2 1 -0.2 0.6 1.4 -0.6 1.4zM604.2 511.4l-1 0.3 -1 -0.5 0.2 -1.4 1.1 -0.5 0.9 0.8zM583.5 509.1l-1.8 0.2 -0.8 -0.9 0.2 -0.8 1.8 -0.2 1.4 0.6zM582.2 432l-1.3 -0.1 -0.6 -0.8 0.9 -0.6 1.2 -0 0.4 0.8zM573.3 440.2l-0.7 -1 1.5 -0.7 1.6 0.1 0.7 1 -1.3 1zM572.6 471.6l-1.2 -0.5 -0.1 -1 0.8 -0.7 1 0.3 0 1.1zM616.4 526.2l-0.4 -1.3 1.1 -1.2 1.3 0.6 0.4 1.5 -1.1 1zM619.8 531.4l-0.5 -1.6 1.1 -1.2 1.7 0.5 0.1 1.4 -0.9 1.2zM565.5 501.6l-1 0.5 -1 -0 -0.3 -1.1 0.8 -0.6 1.1 0.2zM590.8 440.3l-1.3 0.2 -0.5 -1.3 0.7 -1.1 1.1 -0.1 0.8 1.4zM609.5 427.7l0.4 -0.9 1.6 -0.3 1.3 0.7 -0.5 0.9 -1.8 0.4zM638.1 515.6l0.2 -1 0.9 -0.7 1 0.5 -0.1 1.1 -0.9 0.5zM593 524.2l-0.9 1 -0.9 -0.4 -0.3 -1.2 0.5 -0.6 1 -0.1zM623.5 463.8l-2 -0 -1.5 -0.6 0.8 -1.1 2.1 -0.2 1.5 1zM604.9 426.1l0.1 -1.2 1.4 -0.4 1.5 0.6 -0.2 1.1 -1.3 0.6zM583.7 424.4l-1.3 0.5 -1.1 -0.5 -0.1 -1 1.3 -0.5 1.5 0.5zM577.8 514l-1.2 -0.4 -0.6 -0.8 1.3 -0.5 1.3 0.2 -0 0.9zM562.6 462.8l-0.9 0.6 -1.2 -0.1 -0.3 -0.8 0.7 -0.5 1.1 0.1zM565.3 457.4l-1.4 -0.3 -0.7 -0.6 1 -0.8 1.2 0.3 0.7 0.6zM594.2 515.4l-1.3 -0.2 -0.7 -0.8 0.3 -1.1 1.6 -0.3 1 1.1zM570.7 417.3l0.6 -0.7 1.3 -0.2 1 0.7 -0.7 0.7 -1.4 0.4zM663.4 484.1l-1.6 -0.4 -1.1 -1.1 1 -1.4 1.9 0.1 1 1.4zM570.6 522.9l-1.9 0.3 -1.6 -0.5 -0.4 -1.3 2 -1.1 1.4 1zM551.3 475l-0.5 -0.8 1.3 -0.8 1.7 0.4 0.2 0.7 -1 0.5zM610.6 518.1l-0.8 -1.6 0.9 -1.5 1.7 0.5 0.9 1.3 -1.2 1.6z" fill="none" stroke="#4650c0" stroke-width="0.7"/>
<path d="M567.4 484.6l-0.1 -1.3 0.8 -0.6 1 0.5 0 1.1 -0.9 0.5zM657.1 530l-1.6 -0.4 0.2 -1.3 0.9 -1 1.3 0.6 0.3 1.5zM628.1 502.3l0.2 -0.7 1.2 -0.4 1.3 0.3 0.5 0.8 -1.7 0.4zM646.8 518.8l-0.8 0.7 -1.5 -0 -0.8 -1 1.1 -0.7 1.7 0.2zM568.2 445.9l-1.5 -0.6 -0.6 -1.2 1.5 -0.6 1.7 0.3 -0.1 1.3zM554.2 409l-0.6 -1.2 0.6 -1.2 1.1 -0 0.5 1.1 -0.5 1.5zM552.1 451.3l-1.1 -0.4 -0.1 -1.1 0.6 -0.7 1 -0 0.5 1.2zM557.5 401.2l-1.5 1 -1.2 -1.1 -0.1 -1.5 1.2 -0.4 1.7 0.4zM564.5 516.1l-1.3 -1.2 1.3 -1.2 1.9 -0.2 0.8 1.2 -0.8 1.5zM573 525.7l0.7 -0.8 1.5 0 0.6 0.8 -0.6 1 -1.6 -0zM603 435.3l-0.7 0.8 -1.5 0.2 -0.8 -1 0.7 -0.7 1.4 -0.2zM608.8 524.7l-1.5 -0.1 -0.7 -0.9 0.9 -0.7 1.3 -0.1 0.7 1zM629.1 457.4l0.9 -1 2 -0.4 0.8 1.4 -0.7 1 -1.8 0.5zM559.6 493.1l-1.2 0.3 -0.7 -0.4 0.1 -0.9 0.9 -0.2 1 0.5zM599.4 416.1l0.2 -1.6 1.1 -0.3 0.8 0.7 -0.1 1.7 -1 0.5zM575.5 435l0 -0.8 1.3 -0.5 1.1 0.4 0.3 0.9 -1.4 0.5zM570 422.4l-0.8 -0.2 -0.2 -0.8 0.9 -0.5 1 0.4 -0.2 0.7zM596.9 520.1l-1.4 0 -0.5 -1.5 0.7 -1.3 1.1 -0.1 0.4 1.6zM644.2 505l-0.8 -1.4 0.8 -1.4 1.4 0.2 0.9 1.3 -0.7 1.3zM605.9 522.9l-1 -0.9 0.5 -1.1 2 0.2 1.2 0.6 -0.9 1.1zM646 493.5l-0.2 -1.1 0.8 -1 1 0.1 0.5 1.4 -0.9 0.9zM586 448.3l-1.6 -0.6 -0.1 -1.4 1.6 -0.7 1.3 0.7 0.4 1zM638.9 530.3l-2 0.2 -1.5 -0.8 0.5 -1.3 1.8 -0.1 1.5 0.7zM573 399l-0.6 -1.1 1.1 -1 1.8 0.5 0.1 1 -1 0.8zM588.5 451.8l-0.4 -1.2 0.7 -0.8 1.1 -0.1 0.7 1.2 -0.8 1zM564.2 497.4l0.5 -1.5 1.6 -0.6 1.2 1 0.1 1.3 -1.7 0.7zM670 464.3l-0.9 -0.4 -0.3 -1.5 1 -0.6 1.1 0.5 -0.1 1.4zM575.6 469.6l-1 -0.5 0.3 -0.9 1.4 -0.1 1.3 0.5 -0.2 0.8zM581.2 480.6l-1.8 0.2 -1.2 -0.9 0.6 -0.8 2.2 -0.1 1.4 0.8zM617.8 513.4l-1.8 0.3 -0.8 -1.2 0.1 -1.5 1.6 -0.8 1.5 1.4zM593.3 455.3l-0.6 -0.7 0.4 -1 1.1 0.1 0.7 0.6 -0.6 0.8zM678.9 466.7l-0.8 -0.9 0.7 -0.7 1.7 -0.1 0.3 0.9 -0.6 0.8zM593.9 426.5l-1.4 0.3 -1.1 -0.6 0.2 -0.8 1.5 -0.2 1 0.5zM578.1 414.5l-0.2 -1 1.5 -0.5 1.6 0.5 -0 0.9 -1.6 0.4zM545.8 468l0.8 -0.7 1.6 -0.3 1.8 0.4 -0.9 0.8 -1.5 0.3zM643.3 504.7l-1.1 -1.4 0.5 -1.5 1.5 -0.6 1.2 1.4 -0.4 1.6zM583.6 493.1l0.5 -0.9 1.4 -0.1 0.5 0.7 -0.4 0.8 -1.3 0.2zM588.3 528.1l-1.5 0.2 -1.2 -0.6 0.3 -1 1.7 0 1.7 0.5zM600.6 419.5l-1.4 -0.2 -1 -0.9 0.9 -1.1 1.4 0.1 0.7 0.9zM562.4 499.7l-0.3 -1.4 1.1 -0.6 1.2 0.4 -0.1 1.6 -1.1 0.8zM668 488.6l-1.2 -0 -0.4 -1.1 0.9 -0.8 1.2 0.4 0.2 0.9zM563.6 489.6l-0.5 -1.2 0.6 -0.7 1.5 -0.2 0.9 1 -0.9 0.7zM669.3 522.2l-1 0.9 -1.3 -0.6 -0.3 -1.1 1 -0.6 1.6 0.2zM563.1 459.3l-0.9 -0.7 0.5 -0.7 1.6 -0.3 1.2 0.7 -0.9 0.7zM605.8 513.2l-1.5 0.6 -0.8 -1.4 0 -1.5 1.8 -0.5 1.4 1.2zM575.3 418.7l-0 -1.5 1.7 -0.6 1.5 0.4 0.6 1.5 -1.7 0.9zM632.9 487.7l0.4 -1 1.2 -0.7 0.9 0.9 -0.1 1.1 -1.3 0.4zM602.5 491.3l-1.4 -0.8 -0.3 -1.4 1.8 -0.8 1.4 0.7 0.4 1.5z" fill="none" stroke="#a8c8ea" stroke-width="0.7"/>
<path d="M568.5 483.9l1.7 0 0 1.7 -1.7 0zM579.5 454.2l1.6 0 0 1.6 -1.6 0zM576.4 517.7l1.7 0 0 1.7 -1.7 0zM655.3 527.3l1.5 0 0 1.5 -1.5 0zM553 481.9l2 0 0 2 -2 0zM563.2 511.9l1.6 0 0 1.6 -1.6 0zM645.2 518l1.8 0 0 1.8 -1.8 0zM632.3 518.8l1.5 0 0 1.5 -1.5 0zM602.9 432.4l1.3 0 0 1.3 -1.3 0zM546.6 508l1.5 0 0 1.5 -1.5 0zM603.2 444l2 0 0 2 -2 0zM603.2 498.6l1.6 0 0 1.6 -1.6 0zM577.6 449.1l1.3 0 0 1.3 -1.3 0zM603.2 425.3l2.1 0 0 2.1 -2.1 0zM614.3 510.2l1.7 0 0 1.7 -1.7 0zM596 442.2l1.9 0 0 1.9 -1.9 0zM662.9 470.8l1.6 0 0 1.6 -1.6 0zM549.7 448l1.7 0 0 1.7 -1.7 0zM556.2 398.6l1.5 0 0 1.5 -1.5 0zM627.5 465.6l1.8 0 0 1.8 -1.8 0zM593.8 422.5l1.9 0 0 1.9 -1.9 0zM613.1 495.4l1.5 0 0 1.5 -1.5 0zM556.5 477.5l2 0 0 2 -2 0zM592.2 432l1.5 0 0 1.5 -1.5 0zM591.4 500l1.3 0 0 1.3 -1.3 0zM593.7 459.5l1.5 0 0 1.5 -1.5 0zM572.2 525.1l1.9 0 0 1.9 -1.9 0zM596.1 474.3l1.5 0 0 1.5 -1.5 0zM577.3 522.3l1.3 0 0 1.3 -1.3 0zM599.2 434l1.6 0 0 1.6 -1.6 0zM599.2 431.1l1.5 0 0 1.5 -1.5 0zM605.7 523.3l2 0 0 2 -2 0zM628.4 512.7l1.8 0 0 1.8 -1.8 0zM557.9 491.1l1.4 0 0 1.4 -1.4 0zM650.5 474.2l1.6 0 0 1.6 -1.6 0zM577.3 433.4l1.3 0 0 1.3 -1.3 0zM593.2 419.6l2.1 0 0 2.1 -2.1 0zM672.4 501.9l2.1 0 0 2.1 -2.1 0zM611.3 464.1l1.4 0 0 1.4 -1.4 0zM570.2 419.9l1.9 0 0 1.9 -1.9 0zM572.2 525.4l1.9 0 0 1.9 -1.9 0zM577.7 460l2 0 0 2 -2 0zM661.4 524l1.7 0 0 1.7 -1.7 0zM608.2 508.8l1.7 0 0 1.7 -1.7 0zM594.2 510l1.9 0 0 1.9 -1.9 0zM549.6 520.9l1.3 0 0 1.3 -1.3 0zM630.2 519.4l1.7 0 0 1.7 -1.7 0zM560.5 423.8l1.9 0 0 1.9 -1.9 0zM560.4 515.5l1.5 0 0 1.5 -1.5 0zM575.6 519.6l2 0 0 2 -2 0zM582.7 433.1l1.4 0 0 1.4 -1.4 0zM630.8 468.8l1.8 0 0 1.8 -1.8 0zM545.4 397.9l1.5 0 0 1.5 -1.5 0zM592.3 414.6l1.5 0 0 1.5 -1.5 0zM548.6 530.4l1.7 0 0 1.7 -1.7 0zM582.1 477.7l1.5 0 0 1.5 -1.5 0zM619.8 512.8l1.9 0 0 1.9 -1.9 0zM669.8 489.2l2 0 0 2 -2 0zM657.7 462.5l2 0 0 2 -2 0zM571 520.3l1.4 0 0 1.4 -1.4 0zM629.1 465.4l1.3 0 0 1.3 -1.3 0zM676.9 462.6l1.3 0 0 1.3 -1.3 0zM581.6 406l2 0 0 2 -2 0zM548.9 407.6l1.9 0 0 1.9 -1.9 0zM598.8 461.6l1.6 0 0 1.6 -1.6 0zM592.7 514.9l1.9 0 0 1.9 -1.9 0zM556.3 462.8l1.4 0 0 1.4 -1.4 0zM544.6 480.8l1.3 0 0 1.3 -1.3 0zM585.2 445l1.4 0 0 1.4 -1.4 0zM661.6 475.1l2 0 0 2 -2 0zM591.2 462l1.6 0 0 1.6 -1.6 0zM618.6 465.3l1.6 0 0 1.6 -1.6 0zM564.5 473.1l1.6 0 0 1.6 -1.6 0zM581.1 503.5l1.3 0 0 1.3 -1.3 0zM582.1 526.8l1.7 0 0 1.7 -1.7 0zM569.8 408.3l1.5 0 0 1.5 -1.5 0zM548.1 516l1.8 0 0 1.8 -1.8 0zM614.9 523.6l1.4 0 0 1.4 -1.4 0zM573.9 478.9l1.7 0 0 1.7 -1.7 0zM562.3 468l1.3 0 0 1.3 -1.3 0zM606 469.5l2 0 0 2 -2 0zM592 434.1l1.7 0 0 1.7 -1.7 0zM618.6 463.8l1.7 0 0 1.7 -1.7 0zM645 485.9l1.7 0 0 1.7 -1.7 0zM668.1 461.8l2 0 0 2 -2 0zM573.8 468.8l2.1 0 0 2.1 -2.1 0zM563.4 494.8l2 0 0 2 -2 0zM631.8 491.8l1.7 0 0 1.7 -1.7 0zM636.5 481.7l1.6 0 0 1.6 -1.6 0zM565.7 456.5l1.5 0 0 1.5 -1.5 0zM611.3 451.5l2 0 0 2 -2 0zM628.5 491.5l1.4 0 0 1.4 -1.4 0zM617.6 419.9l2.1 0 0 2.1 -2.1 0zM573 501l1.9 0 0 1.9 -1.9 0zM632.2 512.3l2 0 0 2 -2 0zM583.3 527.2l1.5 0 0 1.5 -1.5 0zM613.3 509.6l2.1 0 0 2.1 -2.1 0zM557 498.9l1.3 0 0 1.3 -1.3 0zM579.1 501.3l2.1 0 0 2.1 -2.1 0zM569.3 407.8l1.8 0 0 1.8 -1.8 0zM562.5 498.2l1.6 0 0 1.6 -1.6 0zM667.7 463.5l1.6 0 0 1.6 -1.6 0zM560.3 527.9l1.9 0 0 1.9 -1.9 0zM575.4 483.8l2.1 0 0 2.1 -2.1 0zM587 456.5l1.7 0 0 1.7 -1.7 0zM571.8 400.7l1.7 0 0 1.7 -1.7 0zM569.5 501.8l1.5 0 0 1.5 -1.5 0zM567 507.1l1.7 0 0 1.7 -1.7 0zM570.9 493l1.5 0 0 1.5 -1.5 0zM673.6 512.3l1.5 0 0 1.5 -1.5 0zM598.1 415.5l2 0 0 2 -2 0zM666.1 460.6l1.6 0 0 1.6 -1.6 0zM568.1 486.6l1.9 0 0 1.9 -1.9 0zM581.4 427.7l1.8 0 0 1.8 -1.8 0zM608.7 430.6l1.3 0 0 1.3 -1.3 0zM554.3 506.8l1.3 0 0 1.3 -1.3 0zM635.6 529.8l1.9 0 0 1.9 -1.9 0zM579.5 413.7l2.1 0 0 2.1 -2.1 0zM655 482.6l1.3 0 0 1.3 -1.3 0zM547.6 467.9l1.4 0 0 1.4 -1.4 0zM603 510.7l1.9 0 0 1.9 -1.9 0zM580.2 508.5l1.7 0 0 1.7 -1.7 0zM638.1 514.5l1.8 0 0 1.8 -1.8 0zM606.2 485.3l1.9 0 0 1.9 -1.9 0zM571.4 488.5l1.6 0 0 1.6 -1.6 0zM671.3 467.7l1.8 0 0 1.8 -1.8 0zM559.8 403.5l1.9 0 0 1.9 -1.9 0zM675.9 465.4l1.9 0 0 1.9 -1.9 0zM641.8 503.4l1.6 0 0 1.6 -1.6 0zM583.9 490.8l1.5 0 0 1.5 -1.5 0zM563.8 501l1.4 0 0 1.4 -1.4 0zM632.2 471.8l1.4 0 0 1.4 -1.4 0zM637.8 513.7l1.8 0 0 1.8 -1.8 0zM647.7 500.2l1.5 0 0 1.5 -1.5 0zM602.7 454.3l1.6 0 0 1.6 -1.6 0zM622.4 502.2l1.8 0 0 1.8 -1.8 0zM578.7 460.8l1.3 0 0 1.3 -1.3 0zM656.9 519.6l1.6 0 0 1.6 -1.6 0zM569.8 435.1l1.4 0 0 1.4 -1.4 0zM552.3 483.8l1.3 0 0 1.3 -1.3 0zM555.2 466.6l2 0 0 2 -2 0zM626.2 526.1l1.5 0 0 1.5 -1.5 0zM678.1 484.1l1.3 0 0 1.3 -1.3 0zM562.4 456.8l2.1 0 0 2.1 -2.1 0zM560.3 423.8l1.4 0 0 1.4 -1.4 0zM604.3 510.8l1.3 0 0 1.3 -1.3 0zM611.1 422.9l1.9 0 0 1.9 -1.9 0zM577.7 416.6l1.5 0 0 1.5 -1.5 0zM570.5 416.2l1.9 0 0 1.9 -1.9 0zM576.6 511.6l2.1 0 0 2.1 -2.1 0zM563.5 455.1l1.8 0 0 1.8 -1.8 0zM623.4 504.8l1.7 0 0 1.7 -1.7 0zM632.6 485.8l1.4 0 0 1.4 -1.4 0zM623.5 482.1l2 0 0 2 -2 0zM619.6 424.7l1.4 0 0 1.4 -1.4 0zM611.7 514.9l1.3 0 0 1.3 -1.3 0z" fill="#6fa0d0"/>
<path d="M609 424.8l1.4 0 0 1.4 -1.4 0zM552.5 504.7l2 0 0 2 -2 0zM565.6 448.4l1.6 0 0 1.6 -1.6 0zM585.6 421.6l1.9 0 0 1.9 -1.9 0zM590.9 433.5l1.4 0 0 1.4 -1.4 0zM588.7 524.2l1.3 0 0 1.3 -1.3 0zM667 509l1.6 0 0 1.6 -1.6 0zM588.9 503.2l1.6 0 0 1.6 -1.6 0zM585.5 446.3l1.8 0 0 1.8 -1.8 0zM576.6 521.9l1.8 0 0 1.8 -1.8 0zM643.7 476.9l1.6 0 0 1.6 -1.6 0zM579.8 501l1.4 0 0 1.4 -1.4 0zM670.4 457.9l1.4 0 0 1.4 -1.4 0zM612 417.5l1.7 0 0 1.7 -1.7 0zM549.3 401.5l1.3 0 0 1.3 -1.3 0zM550.3 476.2l1.5 0 0 1.5 -1.5 0zM611.9 438.7l2.1 0 0 2.1 -2.1 0zM559.7 474.9l2 0 0 2 -2 0zM643.1 506.4l1.6 0 0 1.6 -1.6 0zM653.9 502l1.6 0 0 1.6 -1.6 0zM628.7 456.5l1.9 0 0 1.9 -1.9 0zM626.6 479.2l1.9 0 0 1.9 -1.9 0zM618 435l1.5 0 0 1.5 -1.5 0zM588.9 450.1l2 0 0 2 -2 0zM641.3 484l2.1 0 0 2.1 -2.1 0zM579 435.4l1.7 0 0 1.7 -1.7 0zM671 516.5l1.4 0 0 1.4 -1.4 0zM574.9 435.4l1.9 0 0 1.9 -1.9 0zM618 514.9l1.6 0 0 1.6 -1.6 0zM579.5 433.1l1.5 0 0 1.5 -1.5 0zM665.5 529.3l1.8 0 0 1.8 -1.8 0zM604.1 495.9l1.8 0 0 1.8 -1.8 0zM680.1 515.2l1.6 0 0 1.6 -1.6 0zM587.4 410.6l2.1 0 0 2.1 -2.1 0zM598.3 523.1l2.1 0 0 2.1 -2.1 0zM557 454.6l1.3 0 0 1.3 -1.3 0zM677.6 484.7l1.4 0 0 1.4 -1.4 0zM599.2 425.5l1.7 0 0 1.7 -1.7 0zM572.3 524.3l2 0 0 2 -2 0zM644.4 502.6l2 0 0 2 -2 0zM604.9 520l1.4 0 0 1.4 -1.4 0zM575.9 503.2l1.8 0 0 1.8 -1.8 0zM644.8 491.7l1.7 0 0 1.7 -1.7 0zM600.1 418.8l1.3 0 0 1.3 -1.3 0zM646.1 498.2l1.8 0 0 1.8 -1.8 0zM558.8 421.9l1.9 0 0 1.9 -1.9 0zM602.5 526.2l1.8 0 0 1.8 -1.8 0zM599.9 415.8l1.9 0 0 1.9 -1.9 0zM570.4 419.7l1.5 0 0 1.5 -1.5 0zM575.6 402.2l2 0 0 2 -2 0zM668.2 511.9l1.6 0 0 1.6 -1.6 0zM568.2 454.9l1.8 0 0 1.8 -1.8 0zM655.2 491.9l1.4 0 0 1.4 -1.4 0zM598.3 526.1l1.8 0 0 1.8 -1.8 0zM552.6 493.9l1.8 0 0 1.8 -1.8 0zM565.6 484.2l1.8 0 0 1.8 -1.8 0zM579.7 462.4l1.8 0 0 1.8 -1.8 0zM610.6 441l1.4 0 0 1.4 -1.4 0zM561.2 479.7l1.7 0 0 1.7 -1.7 0zM604.7 447.1l1.8 0 0 1.8 -1.8 0zM672.8 522.8l1.3 0 0 1.3 -1.3 0zM563.5 396.4l1.8 0 0 1.8 -1.8 0zM586.9 518.5l1.6 0 0 1.6 -1.6 0zM595.4 473.3l1.4 0 0 1.4 -1.4 0zM602.9 513.7l1.7 0 0 1.7 -1.7 0zM613.6 472.2l2.1 0 0 2.1 -2.1 0zM548.2 480.7l2 0 0 2 -2 0zM600.4 472.6l1.4 0 0 1.4 -1.4 0zM551.2 528.4l1.3 0 0 1.3 -1.3 0zM556 403.4l1.3 0 0 1.3 -1.3 0zM582.1 395.5l1.9 0 0 1.9 -1.9 0zM613.7 454.9l1.5 0 0 1.5 -1.5 0zM548.8 437.9l1.3 0 0 1.3 -1.3 0zM567.8 469l1.7 0 0 1.7 -1.7 0zM609.2 526l1.4 0 0 1.4 -1.4 0zM561.4 462.2l1.6 0 0 1.6 -1.6 0zM578.2 463.4l1.7 0 0 1.7 -1.7 0zM573.3 439l1.6 0 0 1.6 -1.6 0zM571.6 471.1l1.8 0 0 1.8 -1.8 0zM618 523.5l1.5 0 0 1.5 -1.5 0zM661.6 479.8l1.8 0 0 1.8 -1.8 0zM619.3 447.7l2 0 0 2 -2 0zM634.7 516.5l1.8 0 0 1.8 -1.8 0zM596.9 412.1l1.3 0 0 1.3 -1.3 0zM585.1 528.2l1.3 0 0 1.3 -1.3 0zM547.6 525.1l1.9 0 0 1.9 -1.9 0zM611.4 428.2l1.5 0 0 1.5 -1.5 0zM599.4 416.7l1.9 0 0 1.9 -1.9 0zM562.9 498.9l1.9 0 0 1.9 -1.9 0zM620.6 397.8l2.1 0 0 2.1 -2.1 0zM604.7 423.6l1.9 0 0 1.9 -1.9 0zM665.9 486.1l1.3 0 0 1.3 -1.3 0zM666.3 521.4l1.5 0 0 1.5 -1.5 0zM633.8 485.4l1.7 0 0 1.7 -1.7 0zM676.2 491.9l1.9 0 0 1.9 -1.9 0zM593.3 514.7l1.9 0 0 1.9 -1.9 0zM569.9 415.1l1.6 0 0 1.6 -1.6 0zM601.1 490.3l2 0 0 2 -2 0zM568 521.9l1.5 0 0 1.5 -1.5 0zM613.7 523.4l1.3 0 0 1.3 -1.3 0z" fill="#f5da70"/>
</g>
<rect x="563.60" y="507.60" width="14.80" height="13.80" fill="none" stroke="#f2f2f2" stroke-width="1.0"/>
<clipPath id="cl10"><rect x="623.60" y="397.80" width="57.40" height="57.00"/></clipPath><g clip-path="url(#cl10)">
<rect x="623.60" y="397.80" width="57.40" height="57.00" fill="#0a0a0a"/>
<path d="M641.6 406.8L643.1 405.6L648.9 405.6L652.5 409.2L651.3 412.8L645.3 413.0L641.6 411.0Z" fill="none" stroke="#e8232a" stroke-width="1.2" stroke-linejoin="round"/>
<path d="M645.3 412.8L639.8 417.6" fill="none" stroke="#e8232a" stroke-width="1.1" stroke-linejoin="round"/>
<path d="M633.8 418.5L640.4 420.1L637.4 428.5L629.6 427.3Z" fill="none" stroke="#e8232a" stroke-width="1.2" stroke-linejoin="round"/>
<path d="M640.4 420.1L647.1 422.5" fill="none" stroke="#e8232a" stroke-width="1.1" stroke-linejoin="round"/>
<path d="M637.4 432.1L645.3 432.7L648.3 434.5L644.6 440.5L636.2 440.5L634.4 437.5Z" fill="none" stroke="#e8232a" stroke-width="1.2" stroke-linejoin="round"/>
<path d="M648.6 426.3L646.1 432.8" fill="none" stroke="#e8232a" stroke-width="1.1" stroke-linejoin="round"/>
<path d="M648.3 434.5L650.6 427.8" fill="none" stroke="#e8232a" stroke-width="1.1" stroke-linejoin="round"/>
<path d="M654.3 424.8L659.1 431.5L660.3 437.5" fill="none" stroke="#e8232a" stroke-width="1.1" stroke-linejoin="round"/>
<path d="M623.6 451.8L631.4 449.5L642.2 449.5L647.6 445.8L645.9 441.1" fill="none" stroke="#e8232a" stroke-width="1.2" stroke-linejoin="round"/>
<path d="M631.4 449.5L631.4 443.5L637.4 440.5" fill="none" stroke="#e8232a" stroke-width="1.2" stroke-linejoin="round"/>
<path d="M623.6 451.8L623.6 455.8" fill="none" stroke="#e8232a" stroke-width="1.2" stroke-linejoin="round"/>
<path d="M663.3 398.6L680.1 398.6L675.9 409.2L662.7 408.0L660.3 401.4Z" fill="none" stroke="#f5ee3c" stroke-width="1.7" stroke-linejoin="round"/>
<path d="M650.6 415.2L655.5 416.4L654.9 422.5L650.6 426.7L647.1 424.8L647.6 418.8Z" fill="none" stroke="#f5ee3c" stroke-width="1.7" stroke-linejoin="round"/>
<path d="M654.3 398.4L651.3 406.2" fill="none" stroke="#3338a8" stroke-width="1.1" stroke-linejoin="round"/>
<path d="M653.1 409.8L659.1 418.2L666.3 418.8" fill="none" stroke="#3338a8" stroke-width="1.1" stroke-linejoin="round"/>
<path d="M671.1 420.1L675.3 420.1L675.9 425.5L672.9 433.3L668.6 433.3L669.3 425.5Z" fill="none" stroke="#3338a8" stroke-width="1.1" stroke-linejoin="round"/>
<path d="M660.3 435.7L668.1 434.5L668.1 443.5L666.9 450.8L659.7 450.8L658.5 441.1Z" fill="none" stroke="#3338a8" stroke-width="1.1" stroke-linejoin="round"/>
<path d="M677.1 444.1L681.3 443.5L681.3 449.5L675.9 448.8L675.3 446.5Z" fill="none" stroke="#3338a8" stroke-width="1.1" stroke-linejoin="round"/>
<circle cx="643.40" cy="406.80" r="2.20" fill="#79a8c8"/>
<circle cx="642.80" cy="409.20" r="2.20" fill="#79a8c8"/>
<circle cx="640.40" cy="415.20" r="2.20" fill="#79a8c8"/>
<circle cx="633.80" cy="424.50" r="2.20" fill="#79a8c8"/>
<circle cx="660.30" cy="415.20" r="2.20" fill="#79a8c8"/>
<circle cx="663.90" cy="417.60" r="2.20" fill="#79a8c8"/>
<circle cx="664.40" cy="419.30" r="2.20" fill="#79a8c8"/>
<circle cx="655.50" cy="424.80" r="2.20" fill="#79a8c8"/>
<circle cx="653.60" cy="429.10" r="2.20" fill="#79a8c8"/>
<circle cx="652.50" cy="431.50" r="2.20" fill="#79a8c8"/>
<circle cx="654.30" cy="434.50" r="2.20" fill="#79a8c8"/>
<circle cx="652.50" cy="436.80" r="2.20" fill="#79a8c8"/>
<circle cx="657.30" cy="438.10" r="2.20" fill="#79a8c8"/>
<circle cx="655.10" cy="431.80" r="2.20" fill="#79a8c8"/>
<circle cx="668.60" cy="428.50" r="2.20" fill="#79a8c8"/>
<circle cx="669.90" cy="430.80" r="2.20" fill="#79a8c8"/>
<circle cx="641.60" cy="438.80" r="2.20" fill="#79a8c8"/>
<circle cx="646.50" cy="441.80" r="2.20" fill="#79a8c8"/>
<circle cx="639.80" cy="444.10" r="2.20" fill="#79a8c8"/>
<circle cx="642.20" cy="445.30" r="2.20" fill="#79a8c8"/>
<circle cx="638.60" cy="445.80" r="2.20" fill="#79a8c8"/>
<circle cx="631.40" cy="450.10" r="2.20" fill="#79a8c8"/>
<circle cx="632.00" cy="451.80" r="2.20" fill="#79a8c8"/>
<circle cx="668.10" cy="450.80" r="2.20" fill="#79a8c8"/>
<circle cx="661.50" cy="400.80" r="2.10" fill="#f7f08a"/>
<circle cx="656.60" cy="410.40" r="2.10" fill="#f7f08a"/>
<circle cx="660.30" cy="411.00" r="2.10" fill="#f7f08a"/>
<circle cx="666.30" cy="416.40" r="2.10" fill="#f7f08a"/>
<circle cx="654.90" cy="418.30" r="2.10" fill="#f7f08a"/>
<circle cx="654.90" cy="421.80" r="2.10" fill="#f7f08a"/>
<circle cx="668.60" cy="405.60" r="2.10" fill="#f7f08a"/>
<circle cx="671.60" cy="404.40" r="2.10" fill="#f7f08a"/>
<circle cx="674.10" cy="403.20" r="2.10" fill="#f7f08a"/>
<circle cx="672.30" cy="406.80" r="2.10" fill="#f7f08a"/>
<circle cx="662.10" cy="444.10" r="2.10" fill="#f7f08a"/>
<circle cx="665.10" cy="444.10" r="2.10" fill="#f7f08a"/>
<circle cx="662.10" cy="451.80" r="2.10" fill="#f7f08a"/>
</g>
<path d="M623.3000000000001 397.8V455.1H681.2" stroke="#fff" stroke-width="1.3" fill="none"/>
<text x="625.20" y="405.20" font-size="8.28" textLength="13.80" lengthAdjust="spacingAndGlyphs" fill="#e2e2e2">16X</text>
<text x="259.80" y="540.20" font-size="8.5" textLength="25.50" lengthAdjust="spacingAndGlyphs" fill="#1a1a1a">FVP69</text>
<text x="288.20" y="540.20" font-size="8.5" textLength="29.80" lengthAdjust="spacingAndGlyphs" fill="#1a1a1a">100 µm</text>
<rect x="288.60" y="545.70" width="28.40" height="3.00" fill="#000"/>
<circle cx="545.80" cy="541.70" r="2.40" fill="#6fa0d0" stroke="#3f6a9a" stroke-width="0.5"/>
<text x="553.00" y="544.40" font-size="8.5" textLength="26.00" lengthAdjust="spacingAndGlyphs" font-style="italic" fill="#1a1a1a">CXCR4</text>
<ellipse cx="594.8" cy="541.7" rx="2.8" ry="1.7" fill="none" stroke="#e8232a" stroke-width="0.9"/>
<text x="602.00" y="544.40" font-size="8.5" textLength="19.60" lengthAdjust="spacingAndGlyphs" fill="#1a1a1a">C5_T</text>
<ellipse cx="633" cy="541.7" rx="2.8" ry="1.7" fill="none" stroke="#f2e34a" stroke-width="0.9"/>
<text x="641.90" y="544.40" font-size="8.5" textLength="32.00" lengthAdjust="spacingAndGlyphs" fill="#1a1a1a">C11_FRC</text>
<circle cx="545.80" cy="552.10" r="2.40" fill="#f5da70" stroke="#a58a3a" stroke-width="0.5"/>
<text x="553.00" y="554.80" font-size="8.5" textLength="29.40" lengthAdjust="spacingAndGlyphs" font-style="italic" fill="#1a1a1a">CXCL12</text>
<ellipse cx="594.8" cy="552.1" rx="2.8" ry="1.7" fill="none" stroke="#3a3fa8" stroke-width="0.9"/>
<text x="602" y="554.8" font-size="8.5" fill="#1a1a1a" textLength="78.4" lengthAdjust="spacingAndGlyphs">C6_TAM_APOE_<tspan font-style="italic">C1Q</tspan></text>
</svg>
</body></html>
